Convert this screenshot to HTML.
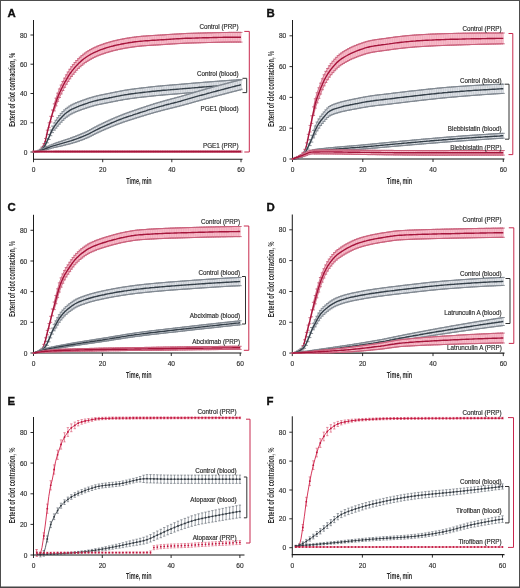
<!DOCTYPE html>
<html><head><meta charset="utf-8"><style>
html,body{margin:0;padding:0;background:#fff;}
svg{display:block;}
text{font-family:"Liberation Sans", sans-serif;}
</style></head><body>
<svg width="520" height="588" viewBox="0 0 520 588">
<defs><filter id="bl" filterUnits="userSpaceOnUse" x="0" y="0" width="520" height="588"><feGaussianBlur stdDeviation="0.3"/></filter></defs>
<rect x="0" y="0" width="520" height="588" fill="#fff"/>
<g filter="url(#bl)">
<text x="7.4" y="16.6" font-size="11.4" font-weight="bold" fill="#111" stroke="#111" stroke-width="0.35">A</text>
<path d="M33.5 20V159.7" stroke="#1a1a1a" stroke-width="1" fill="none"/>
<path d="M33.0 159.2H242.5" stroke="#1a1a1a" stroke-width="1.1" fill="none"/>
<path d="M30.5 152H33.5M30.5 122.8H33.5M30.5 93.5H33.5M30.5 64.2H33.5M30.5 35H33.5M33.5 159.2V162.2M102.7 159.2V162.2M171.8 159.2V162.2M241 159.2V162.2" stroke="#1a1a1a" stroke-width="0.9" fill="none"/>
<text x="27.3" y="154.6" font-size="6.6" fill="#2e2e2e" stroke="#2e2e2e" stroke-width="0.15" text-anchor="end">0</text>
<text x="27.3" y="125.3" font-size="6.6" fill="#2e2e2e" stroke="#2e2e2e" stroke-width="0.15" text-anchor="end">20</text>
<text x="27.3" y="96.1" font-size="6.6" fill="#2e2e2e" stroke="#2e2e2e" stroke-width="0.15" text-anchor="end">40</text>
<text x="27.3" y="66.8" font-size="6.6" fill="#2e2e2e" stroke="#2e2e2e" stroke-width="0.15" text-anchor="end">60</text>
<text x="27.3" y="37.6" font-size="6.6" fill="#2e2e2e" stroke="#2e2e2e" stroke-width="0.15" text-anchor="end">80</text>
<text x="33.5" y="172.2" font-size="6.6" fill="#2e2e2e" stroke="#2e2e2e" stroke-width="0.15" text-anchor="middle">0</text>
<text x="102.7" y="172.2" font-size="6.6" fill="#2e2e2e" stroke="#2e2e2e" stroke-width="0.15" text-anchor="middle">20</text>
<text x="171.8" y="172.2" font-size="6.6" fill="#2e2e2e" stroke="#2e2e2e" stroke-width="0.15" text-anchor="middle">40</text>
<text x="241" y="172.2" font-size="6.6" fill="#2e2e2e" stroke="#2e2e2e" stroke-width="0.15" text-anchor="middle">60</text>
<text x="139" y="183.7" font-size="8.4" font-weight="bold" fill="#2a2a2a" text-anchor="middle" textLength="25.4" lengthAdjust="spacingAndGlyphs">Time, min</text>
<text transform="translate(15.3,89.8) rotate(-90)" font-size="8.4" font-weight="bold" fill="#2a2a2a" text-anchor="middle" textLength="74" lengthAdjust="spacingAndGlyphs">Extent of clot contraction, %</text>
<polygon points="33.5,152 35.2,151.6 37,151.1 38.7,150.4 40.4,149.3 42.1,147 43.9,143.7 45.6,138.5 47.3,130.2 49.1,122.8 50.8,116.3 52.5,110 54.2,103.9 56,98.2 57.7,93.2 59.4,89 61.2,85.1 62.9,81.5 64.6,78.2 66.4,74.9 68.1,72 69.8,69.3 71.5,66.8 73.3,64.6 75,62.5 76.7,60.5 78.5,58.7 80.2,57.1 81.9,55.6 83.6,54.2 85.4,52.9 87.1,51.7 88.8,50.6 90.6,49.6 92.3,48.7 94,47.8 95.8,47 97.5,46.2 99.2,45.5 100.9,44.9 102.7,44.3 104.4,43.7 106.1,43.1 107.9,42.6 109.6,42.1 111.3,41.6 113,41.1 114.8,40.7 116.5,40.3 118.2,39.9 120,39.5 121.7,39.2 123.4,38.9 125.1,38.5 126.9,38.2 128.6,38 130.3,37.7 132.1,37.4 133.8,37.2 135.5,37 137.2,36.7 139,36.6 140.7,36.4 142.4,36.2 144.2,36.1 145.9,36 147.6,35.8 149.4,35.7 151.1,35.6 152.8,35.5 154.5,35.4 156.3,35.3 158,35.2 159.7,35.1 161.5,35 163.2,34.9 164.9,34.8 166.6,34.6 168.4,34.5 170.1,34.4 171.8,34.3 173.6,34.2 175.3,34.1 177,34 178.8,33.9 180.5,33.8 182.2,33.7 183.9,33.6 185.7,33.5 187.4,33.4 189.1,33.4 190.9,33.3 192.6,33.3 194.3,33.2 196,33.2 197.8,33.1 199.5,33.1 201.2,33 203,33 204.7,32.9 206.4,32.9 208.1,32.8 209.9,32.8 211.6,32.8 213.3,32.7 215.1,32.7 216.8,32.6 218.5,32.6 220.2,32.6 222,32.5 223.7,32.5 225.4,32.5 227.2,32.5 228.9,32.4 230.6,32.4 232.4,32.4 234.1,32.4 235.8,32.4 237.5,32.4 239.3,32.4 241,32.4 241,42 239.3,42 237.5,42 235.8,42 234.1,42 232.4,42.1 230.6,42.1 228.9,42.1 227.2,42.1 225.4,42.1 223.7,42.2 222,42.2 220.2,42.2 218.5,42.3 216.8,42.3 215.1,42.3 213.3,42.4 211.6,42.4 209.9,42.5 208.1,42.5 206.4,42.5 204.7,42.6 203,42.6 201.2,42.7 199.5,42.7 197.8,42.8 196,42.8 194.3,42.9 192.6,42.9 190.9,43 189.1,43 187.4,43.1 185.7,43.2 183.9,43.2 182.2,43.3 180.5,43.4 178.8,43.5 177,43.6 175.3,43.7 173.6,43.8 171.8,43.9 170.1,44.1 168.4,44.2 166.6,44.3 164.9,44.4 163.2,44.5 161.5,44.6 159.7,44.8 158,44.9 156.3,45 154.5,45.1 152.8,45.2 151.1,45.3 149.4,45.4 147.6,45.5 145.9,45.6 144.2,45.7 142.4,45.9 140.7,46 139,46.2 137.2,46.4 135.5,46.6 133.8,46.8 132.1,47.1 130.3,47.4 128.6,47.6 126.9,47.9 125.1,48.2 123.4,48.5 121.7,48.8 120,49.2 118.2,49.6 116.5,49.9 114.8,50.4 113,50.8 111.3,51.2 109.6,51.7 107.9,52.2 106.1,52.7 104.4,53.3 102.7,53.9 100.9,54.5 99.2,55.2 97.5,55.9 95.8,56.6 94,57.4 92.3,58.3 90.6,59.3 88.8,60.3 87.1,61.4 85.4,62.5 83.6,63.8 81.9,65.2 80.2,66.7 78.5,68.4 76.7,70.2 75,72.1 73.3,74.2 71.5,76.4 69.8,78.8 68.1,81.4 66.4,84.2 64.6,87.3 62.9,90.5 61.2,93.9 59.4,97.5 57.7,101.3 56,105.8 54.2,110.9 52.5,116.2 50.8,121.9 49.1,127.6 47.3,134.3 45.6,142 43.9,146.6 42.1,149.4 40.4,151.2 38.7,151.8 37,152 35.2,152.1 33.5,152" fill="#f8c3cf" stroke="none"/>
<path d="M33.5 152v0M35.2 151.6v0.5M37 151.1v0.9M38.7 150.4v1.4M40.4 149.3v1.9M42.1 147v2.4M43.9 143.7v2.9M45.6 138.5v3.5M47.3 130.2v4.2M49.1 122.8v4.9M50.8 116.3v5.6M52.5 110v6.3M54.2 103.9v7M56 98.2v7.6M57.7 93.2v8.1M59.4 89v8.5M61.2 85.1v8.8M62.9 81.5v9M64.6 78.2v9.1M66.4 74.9v9.3M68.1 72v9.4M69.8 69.3v9.5M71.5 66.8v9.6M73.3 64.6v9.6M75 62.5v9.7M76.7 60.5v9.7M78.5 58.7v9.7M80.2 57.1v9.7M81.9 55.6v9.7M83.6 54.2v9.7M85.4 52.9v9.7M87.1 51.7v9.7M88.8 50.6v9.7M90.6 49.6v9.7M92.3 48.7v9.7M94 47.8v9.7M95.8 47v9.7M97.5 46.2v9.7M99.2 45.5v9.7M100.9 44.9v9.7M102.7 44.3v9.7M104.4 43.7v9.7M106.1 43.1v9.7M107.9 42.6v9.7M109.6 42.1v9.7M111.3 41.6v9.7M113 41.1v9.7M114.8 40.7v9.7M116.5 40.3v9.7M118.2 39.9v9.7M120 39.5v9.7M121.7 39.2v9.7M123.4 38.9v9.7M125.1 38.5v9.7M126.9 38.2v9.7M128.6 38v9.7M130.3 37.7v9.7M132.1 37.4v9.7M133.8 37.2v9.7M135.5 37v9.7M137.2 36.7v9.7M139 36.6v9.7M140.7 36.4v9.7M142.4 36.2v9.7M144.2 36.1v9.7M145.9 36v9.7M147.6 35.8v9.7M149.4 35.7v9.7M151.1 35.6v9.7M152.8 35.5v9.7M154.5 35.4v9.7M156.3 35.3v9.7M158 35.2v9.7M159.7 35.1v9.7M161.5 35v9.7M163.2 34.9v9.7M164.9 34.8v9.7M166.6 34.6v9.7M168.4 34.5v9.7M170.1 34.4v9.7M171.8 34.3v9.7M173.6 34.2v9.7M175.3 34.1v9.7M177 34v9.7M178.8 33.9v9.7M180.5 33.8v9.7M182.2 33.7v9.7M183.9 33.6v9.7M185.7 33.5v9.7M187.4 33.4v9.7M189.1 33.4v9.7M190.9 33.3v9.7M192.6 33.3v9.7M194.3 33.2v9.7M196 33.2v9.7M197.8 33.1v9.7M199.5 33.1v9.7M201.2 33v9.7M203 33v9.7M204.7 32.9v9.7M206.4 32.9v9.7M208.1 32.8v9.7M209.9 32.8v9.7M211.6 32.8v9.7M213.3 32.7v9.7M215.1 32.7v9.7M216.8 32.6v9.7M218.5 32.6v9.7M220.2 32.6v9.7M222 32.5v9.7M223.7 32.5v9.7M225.4 32.5v9.7M227.2 32.5v9.7M228.9 32.4v9.7M230.6 32.4v9.7M232.4 32.4v9.7M234.1 32.4v9.7M235.8 32.4v9.7M237.5 32.4v9.7M239.3 32.4v9.7M241 32.4v9.7" stroke="#ec98ac" stroke-width="0.55" fill="none"/>
<path d="M32 152h3m-3 0h3M33.7 151.6h3m-3 0.5h3M35.5 151.1h3m-3 0.9h3M37.2 150.4h3m-3 1.4h3M38.9 149.3h3m-3 1.9h3M40.6 147h3m-3 2.4h3M42.4 143.7h3m-3 2.9h3M44.1 138.5h3m-3 3.5h3M45.8 130.2h3m-3 4.2h3M47.6 122.8h3m-3 4.9h3M49.3 116.3h3m-3 5.6h3M51 110h3m-3 6.3h3M52.8 103.9h3m-3 7h3M54.5 98.2h3m-3 7.6h3M56.2 93.2h3m-3 8.1h3M57.9 89h3m-3 8.5h3M59.7 85.1h3m-3 8.8h3M61.4 81.5h3m-3 9h3M63.1 78.2h3m-3 9.1h3M64.9 74.9h3m-3 9.3h3M66.6 72h3m-3 9.4h3M68.3 69.3h3m-3 9.5h3M70 66.8h3m-3 9.6h3M71.8 64.6h3m-3 9.6h3M73.5 62.5h3m-3 9.7h3M75.2 60.5h3m-3 9.7h3M77 58.7h3m-3 9.7h3M78.7 57.1h3m-3 9.7h3M80.4 55.6h3m-3 9.7h3M82.1 54.2h3m-3 9.7h3M83.9 52.9h3m-3 9.7h3M85.6 51.7h3m-3 9.7h3M87.3 50.6h3m-3 9.7h3M89.1 49.6h3m-3 9.7h3M90.8 48.7h3m-3 9.7h3M92.5 47.8h3m-3 9.7h3M94.2 47h3m-3 9.7h3M96 46.2h3m-3 9.7h3M97.7 45.5h3m-3 9.7h3M99.4 44.9h3m-3 9.7h3M101.2 44.3h3m-3 9.7h3M102.9 43.7h3m-3 9.7h3M104.6 43.1h3m-3 9.7h3M106.4 42.6h3m-3 9.7h3M108.1 42.1h3m-3 9.7h3M109.8 41.6h3m-3 9.7h3M111.5 41.1h3m-3 9.7h3M113.3 40.7h3m-3 9.7h3M115 40.3h3m-3 9.7h3M116.7 39.9h3m-3 9.7h3M118.5 39.5h3m-3 9.7h3M120.2 39.2h3m-3 9.7h3M121.9 38.9h3m-3 9.7h3M123.6 38.5h3m-3 9.7h3M125.4 38.2h3m-3 9.7h3M127.1 38h3m-3 9.7h3M128.8 37.7h3m-3 9.7h3M130.6 37.4h3m-3 9.7h3M132.3 37.2h3m-3 9.7h3M134 37h3m-3 9.7h3M135.8 36.7h3m-3 9.7h3M137.5 36.6h3m-3 9.7h3M139.2 36.4h3m-3 9.7h3M140.9 36.2h3m-3 9.7h3M142.7 36.1h3m-3 9.7h3M144.4 36h3m-3 9.7h3M146.1 35.8h3m-3 9.7h3M147.9 35.7h3m-3 9.7h3M149.6 35.6h3m-3 9.7h3M151.3 35.5h3m-3 9.7h3M153 35.4h3m-3 9.7h3M154.8 35.3h3m-3 9.7h3M156.5 35.2h3m-3 9.7h3M158.2 35.1h3m-3 9.7h3M160 35h3m-3 9.7h3M161.7 34.9h3m-3 9.7h3M163.4 34.8h3m-3 9.7h3M165.1 34.6h3m-3 9.7h3M166.9 34.5h3m-3 9.7h3M168.6 34.4h3m-3 9.7h3M170.3 34.3h3m-3 9.7h3M172.1 34.2h3m-3 9.7h3M173.8 34.1h3m-3 9.7h3M175.5 34h3m-3 9.7h3M177.2 33.9h3m-3 9.7h3M179 33.8h3m-3 9.7h3M180.7 33.7h3m-3 9.7h3M182.4 33.6h3m-3 9.7h3M184.2 33.5h3m-3 9.7h3M185.9 33.4h3m-3 9.7h3M187.6 33.4h3m-3 9.7h3M189.4 33.3h3m-3 9.7h3M191.1 33.3h3m-3 9.7h3M192.8 33.2h3m-3 9.7h3M194.5 33.2h3m-3 9.7h3M196.3 33.1h3m-3 9.7h3M198 33.1h3m-3 9.7h3M199.7 33h3m-3 9.7h3M201.5 33h3m-3 9.7h3M203.2 32.9h3m-3 9.7h3M204.9 32.9h3m-3 9.7h3M206.6 32.8h3m-3 9.7h3M208.4 32.8h3m-3 9.7h3M210.1 32.8h3m-3 9.7h3M211.8 32.7h3m-3 9.7h3M213.6 32.7h3m-3 9.7h3M215.3 32.6h3m-3 9.7h3M217 32.6h3m-3 9.7h3M218.8 32.6h3m-3 9.7h3M220.5 32.5h3m-3 9.7h3M222.2 32.5h3m-3 9.7h3M223.9 32.5h3m-3 9.7h3M225.7 32.5h3m-3 9.7h3M227.4 32.4h3m-3 9.7h3M229.1 32.4h3m-3 9.7h3M230.9 32.4h3m-3 9.7h3M232.6 32.4h3m-3 9.7h3M234.3 32.4h3m-3 9.7h3M236 32.4h3m-3 9.7h3M237.8 32.4h3m-3 9.7h3M239.5 32.4h3m-3 9.7h3" stroke="#c9607a" stroke-width="0.9" fill="none"/>
<polyline points="54.2,103.9 56,98.2 57.7,93.2 59.4,89 61.2,85.1 62.9,81.5 64.6,78.2 66.4,74.9 68.1,72 69.8,69.3 71.5,66.8 73.3,64.6 75,62.5 76.7,60.5 78.5,58.7 80.2,57.1 81.9,55.6 83.6,54.2 85.4,52.9 87.1,51.7 88.8,50.6 90.6,49.6 92.3,48.7 94,47.8 95.8,47 97.5,46.2 99.2,45.5 100.9,44.9 102.7,44.3 104.4,43.7 106.1,43.1 107.9,42.6 109.6,42.1 111.3,41.6 113,41.1 114.8,40.7 116.5,40.3 118.2,39.9 120,39.5 121.7,39.2 123.4,38.9 125.1,38.5 126.9,38.2 128.6,38 130.3,37.7 132.1,37.4 133.8,37.2 135.5,37 137.2,36.7 139,36.6 140.7,36.4 142.4,36.2 144.2,36.1 145.9,36 147.6,35.8 149.4,35.7 151.1,35.6 152.8,35.5 154.5,35.4 156.3,35.3 158,35.2 159.7,35.1 161.5,35 163.2,34.9 164.9,34.8 166.6,34.6 168.4,34.5 170.1,34.4 171.8,34.3 173.6,34.2 175.3,34.1 177,34 178.8,33.9 180.5,33.8 182.2,33.7 183.9,33.6 185.7,33.5 187.4,33.4 189.1,33.4 190.9,33.3 192.6,33.3 194.3,33.2 196,33.2 197.8,33.1 199.5,33.1 201.2,33 203,33 204.7,32.9 206.4,32.9 208.1,32.8 209.9,32.8 211.6,32.8 213.3,32.7 215.1,32.7 216.8,32.6 218.5,32.6 220.2,32.6 222,32.5 223.7,32.5 225.4,32.5 227.2,32.5 228.9,32.4 230.6,32.4 232.4,32.4 234.1,32.4 235.8,32.4 237.5,32.4 239.3,32.4 241,32.4" stroke="#c9607a" stroke-width="0.8" fill="none"/>
<polyline points="54.2,110.9 56,105.8 57.7,101.3 59.4,97.5 61.2,93.9 62.9,90.5 64.6,87.3 66.4,84.2 68.1,81.4 69.8,78.8 71.5,76.4 73.3,74.2 75,72.1 76.7,70.2 78.5,68.4 80.2,66.7 81.9,65.2 83.6,63.8 85.4,62.5 87.1,61.4 88.8,60.3 90.6,59.3 92.3,58.3 94,57.4 95.8,56.6 97.5,55.9 99.2,55.2 100.9,54.5 102.7,53.9 104.4,53.3 106.1,52.7 107.9,52.2 109.6,51.7 111.3,51.2 113,50.8 114.8,50.4 116.5,49.9 118.2,49.6 120,49.2 121.7,48.8 123.4,48.5 125.1,48.2 126.9,47.9 128.6,47.6 130.3,47.4 132.1,47.1 133.8,46.8 135.5,46.6 137.2,46.4 139,46.2 140.7,46 142.4,45.9 144.2,45.7 145.9,45.6 147.6,45.5 149.4,45.4 151.1,45.3 152.8,45.2 154.5,45.1 156.3,45 158,44.9 159.7,44.8 161.5,44.6 163.2,44.5 164.9,44.4 166.6,44.3 168.4,44.2 170.1,44.1 171.8,43.9 173.6,43.8 175.3,43.7 177,43.6 178.8,43.5 180.5,43.4 182.2,43.3 183.9,43.2 185.7,43.2 187.4,43.1 189.1,43 190.9,43 192.6,42.9 194.3,42.9 196,42.8 197.8,42.8 199.5,42.7 201.2,42.7 203,42.6 204.7,42.6 206.4,42.5 208.1,42.5 209.9,42.5 211.6,42.4 213.3,42.4 215.1,42.3 216.8,42.3 218.5,42.3 220.2,42.2 222,42.2 223.7,42.2 225.4,42.1 227.2,42.1 228.9,42.1 230.6,42.1 232.4,42.1 234.1,42 235.8,42 237.5,42 239.3,42 241,42" stroke="#c9607a" stroke-width="0.8" fill="none"/>
<polyline points="33.5,152 35.2,151.9 37,151.6 38.7,151.1 40.4,150.2 42.1,148.2 43.9,145.1 45.6,140.2 47.3,132.2 49.1,125.2 50.8,119.1 52.5,113.1 54.2,107.4 56,102 57.7,97.3 59.4,93.3 61.2,89.5 62.9,86 64.6,82.7 66.4,79.6 68.1,76.7 69.8,74 71.5,71.6 73.3,69.4 75,67.3 76.7,65.4 78.5,63.5 80.2,61.9 81.9,60.4 83.6,59 85.4,57.7 87.1,56.5 88.8,55.5 90.6,54.4 92.3,53.5 94,52.6 95.8,51.8 97.5,51.1 99.2,50.4 100.9,49.7 102.7,49.1 104.4,48.5 106.1,47.9 107.9,47.4 109.6,46.9 111.3,46.4 113,46 114.8,45.5 116.5,45.1 118.2,44.7 120,44.4 121.7,44 123.4,43.7 125.1,43.4 126.9,43.1 128.6,42.8 130.3,42.5 132.1,42.3 133.8,42 135.5,41.8 137.2,41.6 139,41.4 140.7,41.2 142.4,41.1 144.2,40.9 145.9,40.8 147.6,40.7 149.4,40.6 151.1,40.4 152.8,40.3 154.5,40.2 156.3,40.1 158,40 159.7,39.9 161.5,39.8 163.2,39.7 164.9,39.6 166.6,39.5 168.4,39.4 170.1,39.2 171.8,39.1 173.6,39 175.3,38.9 177,38.8 178.8,38.7 180.5,38.6 182.2,38.5 183.9,38.4 185.7,38.3 187.4,38.3 189.1,38.2 190.9,38.2 192.6,38.1 194.3,38.1 196,38 197.8,38 199.5,37.9 201.2,37.9 203,37.8 204.7,37.8 206.4,37.7 208.1,37.7 209.9,37.6 211.6,37.6 213.3,37.5 215.1,37.5 216.8,37.5 218.5,37.4 220.2,37.4 222,37.4 223.7,37.3 225.4,37.3 227.2,37.3 228.9,37.3 230.6,37.2 232.4,37.2 234.1,37.2 235.8,37.2 237.5,37.2 239.3,37.2 241,37.2" stroke="#a5123a" stroke-width="1.4" fill="none"/>
<polygon points="33.5,152 35.2,151.6 37,151.1 38.7,150.4 40.4,149.4 42.1,147.8 43.9,145.9 45.6,142.7 47.3,138.6 49.1,134.5 50.8,130 52.5,126.1 54.2,123 56,120.3 57.7,117.8 59.4,115.5 61.2,113.4 62.9,111.6 64.6,109.9 66.4,108.4 68.1,107.2 69.8,106 71.5,105 73.3,104.1 75,103.3 76.7,102.6 78.5,101.9 80.2,101.3 81.9,100.6 83.6,100 85.4,99.4 87.1,98.8 88.8,98.2 90.6,97.7 92.3,97.2 94,96.7 95.8,96.2 97.5,95.8 99.2,95.4 100.9,95 102.7,94.7 104.4,94.3 106.1,94 107.9,93.6 109.6,93.3 111.3,92.9 113,92.6 114.8,92.2 116.5,91.9 118.2,91.5 120,91.2 121.7,90.9 123.4,90.5 125.1,90.2 126.9,90 128.6,89.7 130.3,89.4 132.1,89.2 133.8,89 135.5,88.7 137.2,88.5 139,88.3 140.7,88.1 142.4,87.9 144.2,87.7 145.9,87.5 147.6,87.3 149.4,87.1 151.1,86.9 152.8,86.7 154.5,86.5 156.3,86.3 158,86.2 159.7,86 161.5,85.9 163.2,85.7 164.9,85.5 166.6,85.4 168.4,85.3 170.1,85.1 171.8,85 173.6,84.8 175.3,84.7 177,84.6 178.8,84.4 180.5,84.3 182.2,84.1 183.9,84 185.7,83.8 187.4,83.7 189.1,83.5 190.9,83.4 192.6,83.2 194.3,83.1 196,82.9 197.8,82.8 199.5,82.7 201.2,82.5 203,82.4 204.7,82.2 206.4,82.1 208.1,82 209.9,81.8 211.6,81.7 213.3,81.6 215.1,81.4 216.8,81.3 218.5,81.2 220.2,81 222,80.9 223.7,80.8 225.4,80.7 227.2,80.5 228.9,80.4 230.6,80.3 232.4,80.2 234.1,80.1 235.8,80 237.5,79.8 239.3,79.7 241,79.6 241,89 239.3,89.1 237.5,89.2 235.8,89.3 234.1,89.4 232.4,89.5 230.6,89.7 228.9,89.8 227.2,89.9 225.4,90 223.7,90.2 222,90.3 220.2,90.4 218.5,90.5 216.8,90.7 215.1,90.8 213.3,90.9 211.6,91.1 209.9,91.2 208.1,91.3 206.4,91.4 204.7,91.6 203,91.7 201.2,91.9 199.5,92 197.8,92.1 196,92.3 194.3,92.4 192.6,92.6 190.9,92.7 189.1,92.9 187.4,93 185.7,93.2 183.9,93.3 182.2,93.5 180.5,93.6 178.8,93.7 177,93.9 175.3,94 173.6,94.2 171.8,94.3 170.1,94.4 168.4,94.6 166.6,94.7 164.9,94.8 163.2,95 161.5,95.1 159.7,95.3 158,95.5 156.3,95.6 154.5,95.8 152.8,96 151.1,96.2 149.4,96.3 147.6,96.5 145.9,96.7 144.2,96.9 142.4,97.1 140.7,97.3 139,97.5 137.2,97.7 135.5,98 133.8,98.2 132.1,98.4 130.3,98.6 128.6,98.9 126.9,99.2 125.1,99.4 123.4,99.7 121.7,100 120,100.3 118.2,100.7 116.5,101 114.8,101.4 113,101.7 111.3,102 109.6,102.4 107.9,102.7 106.1,103.1 104.4,103.4 102.7,103.7 100.9,104.1 99.2,104.4 97.5,104.8 95.8,105.2 94,105.7 92.3,106.2 90.6,106.7 88.8,107.2 87.1,107.8 85.4,108.3 83.6,108.9 81.9,109.5 80.2,110.2 78.5,110.8 76.7,111.5 75,112.2 73.3,113 71.5,113.9 69.8,114.9 68.1,116 66.4,117.3 64.6,118.7 62.9,120.3 61.2,122.2 59.4,124.1 57.7,126.1 56,128.2 54.2,130.3 52.5,132.6 50.8,135.7 49.1,139.5 47.3,142.8 45.6,146.2 43.9,148.8 42.1,150.2 40.4,151.3 38.7,151.8 37,152 35.2,152.1 33.5,152" fill="#e6e9ed" stroke="none"/>
<path d="M33.5 152v0M35.2 151.6v0.5M37 151.1v0.9M38.7 150.4v1.4M40.4 149.4v1.9M42.1 147.8v2.4M43.9 145.9v2.9M45.6 142.7v3.5M47.3 138.6v4.2M49.1 134.5v5M50.8 130v5.7M52.5 126.1v6.5M54.2 123v7.2M56 120.3v7.8M57.7 117.8v8.3M59.4 115.5v8.6M61.2 113.4v8.8M62.9 111.6v8.8M64.6 109.9v8.8M66.4 108.4v8.8M68.1 107.2v8.8M69.8 106v8.8M71.5 105v8.9M73.3 104.1v8.9M75 103.3v8.9M76.7 102.6v8.9M78.5 101.9v8.9M80.2 101.3v8.9M81.9 100.6v8.9M83.6 100v9M85.4 99.4v9M87.1 98.8v9M88.8 98.2v9M90.6 97.7v9M92.3 97.2v9M94 96.7v9M95.8 96.2v9M97.5 95.8v9M99.2 95.4v9.1M100.9 95v9.1M102.7 94.7v9.1M104.4 94.3v9.1M106.1 94v9.1M107.9 93.6v9.1M109.6 93.3v9.1M111.3 92.9v9.1M113 92.6v9.1M114.8 92.2v9.1M116.5 91.9v9.1M118.2 91.5v9.1M120 91.2v9.2M121.7 90.9v9.2M123.4 90.5v9.2M125.1 90.2v9.2M126.9 90v9.2M128.6 89.7v9.2M130.3 89.4v9.2M132.1 89.2v9.2M133.8 89v9.2M135.5 88.7v9.2M137.2 88.5v9.2M139 88.3v9.2M140.7 88.1v9.2M142.4 87.9v9.2M144.2 87.7v9.2M145.9 87.5v9.3M147.6 87.3v9.3M149.4 87.1v9.3M151.1 86.9v9.3M152.8 86.7v9.3M154.5 86.5v9.3M156.3 86.3v9.3M158 86.2v9.3M159.7 86v9.3M161.5 85.9v9.3M163.2 85.7v9.3M164.9 85.5v9.3M166.6 85.4v9.3M168.4 85.3v9.3M170.1 85.1v9.3M171.8 85v9.3M173.6 84.8v9.3M175.3 84.7v9.3M177 84.6v9.3M178.8 84.4v9.3M180.5 84.3v9.3M182.2 84.1v9.3M183.9 84v9.3M185.7 83.8v9.3M187.4 83.7v9.3M189.1 83.5v9.3M190.9 83.4v9.3M192.6 83.2v9.3M194.3 83.1v9.3M196 82.9v9.3M197.8 82.8v9.3M199.5 82.7v9.3M201.2 82.5v9.3M203 82.4v9.3M204.7 82.2v9.3M206.4 82.1v9.4M208.1 82v9.4M209.9 81.8v9.4M211.6 81.7v9.4M213.3 81.6v9.4M215.1 81.4v9.4M216.8 81.3v9.4M218.5 81.2v9.4M220.2 81v9.4M222 80.9v9.4M223.7 80.8v9.4M225.4 80.7v9.4M227.2 80.5v9.4M228.9 80.4v9.4M230.6 80.3v9.4M232.4 80.2v9.4M234.1 80.1v9.4M235.8 80v9.4M237.5 79.8v9.4M239.3 79.7v9.4M241 79.6v9.4" stroke="#b2b8be" stroke-width="0.55" fill="none"/>
<path d="M32 152h3m-3 0h3M33.7 151.6h3m-3 0.5h3M35.5 151.1h3m-3 0.9h3M37.2 150.4h3m-3 1.4h3M38.9 149.4h3m-3 1.9h3M40.6 147.8h3m-3 2.4h3M42.4 145.9h3m-3 2.9h3M44.1 142.7h3m-3 3.5h3M45.8 138.6h3m-3 4.2h3M47.6 134.5h3m-3 5h3M49.3 130h3m-3 5.7h3M51 126.1h3m-3 6.5h3M52.8 123h3m-3 7.2h3M54.5 120.3h3m-3 7.8h3M56.2 117.8h3m-3 8.3h3M57.9 115.5h3m-3 8.6h3M59.7 113.4h3m-3 8.8h3M61.4 111.6h3m-3 8.8h3M63.1 109.9h3m-3 8.8h3M64.9 108.4h3m-3 8.8h3M66.6 107.2h3m-3 8.8h3M68.3 106h3m-3 8.8h3M70 105h3m-3 8.9h3M71.8 104.1h3m-3 8.9h3M73.5 103.3h3m-3 8.9h3M75.2 102.6h3m-3 8.9h3M77 101.9h3m-3 8.9h3M78.7 101.3h3m-3 8.9h3M80.4 100.6h3m-3 8.9h3M82.1 100h3m-3 9h3M83.9 99.4h3m-3 9h3M85.6 98.8h3m-3 9h3M87.3 98.2h3m-3 9h3M89.1 97.7h3m-3 9h3M90.8 97.2h3m-3 9h3M92.5 96.7h3m-3 9h3M94.2 96.2h3m-3 9h3M96 95.8h3m-3 9h3M97.7 95.4h3m-3 9.1h3M99.4 95h3m-3 9.1h3M101.2 94.7h3m-3 9.1h3M102.9 94.3h3m-3 9.1h3M104.6 94h3m-3 9.1h3M106.4 93.6h3m-3 9.1h3M108.1 93.3h3m-3 9.1h3M109.8 92.9h3m-3 9.1h3M111.5 92.6h3m-3 9.1h3M113.3 92.2h3m-3 9.1h3M115 91.9h3m-3 9.1h3M116.7 91.5h3m-3 9.1h3M118.5 91.2h3m-3 9.2h3M120.2 90.9h3m-3 9.2h3M121.9 90.5h3m-3 9.2h3M123.6 90.2h3m-3 9.2h3M125.4 90h3m-3 9.2h3M127.1 89.7h3m-3 9.2h3M128.8 89.4h3m-3 9.2h3M130.6 89.2h3m-3 9.2h3M132.3 89h3m-3 9.2h3M134 88.7h3m-3 9.2h3M135.8 88.5h3m-3 9.2h3M137.5 88.3h3m-3 9.2h3M139.2 88.1h3m-3 9.2h3M140.9 87.9h3m-3 9.2h3M142.7 87.7h3m-3 9.2h3M144.4 87.5h3m-3 9.3h3M146.1 87.3h3m-3 9.3h3M147.9 87.1h3m-3 9.3h3M149.6 86.9h3m-3 9.3h3M151.3 86.7h3m-3 9.3h3M153 86.5h3m-3 9.3h3M154.8 86.3h3m-3 9.3h3M156.5 86.2h3m-3 9.3h3M158.2 86h3m-3 9.3h3M160 85.9h3m-3 9.3h3M161.7 85.7h3m-3 9.3h3M163.4 85.5h3m-3 9.3h3M165.1 85.4h3m-3 9.3h3M166.9 85.3h3m-3 9.3h3M168.6 85.1h3m-3 9.3h3M170.3 85h3m-3 9.3h3M172.1 84.8h3m-3 9.3h3M173.8 84.7h3m-3 9.3h3M175.5 84.6h3m-3 9.3h3M177.2 84.4h3m-3 9.3h3M179 84.3h3m-3 9.3h3M180.7 84.1h3m-3 9.3h3M182.4 84h3m-3 9.3h3M184.2 83.8h3m-3 9.3h3M185.9 83.7h3m-3 9.3h3M187.6 83.5h3m-3 9.3h3M189.4 83.4h3m-3 9.3h3M191.1 83.2h3m-3 9.3h3M192.8 83.1h3m-3 9.3h3M194.5 82.9h3m-3 9.3h3M196.3 82.8h3m-3 9.3h3M198 82.7h3m-3 9.3h3M199.7 82.5h3m-3 9.3h3M201.5 82.4h3m-3 9.3h3M203.2 82.2h3m-3 9.3h3M204.9 82.1h3m-3 9.4h3M206.6 82h3m-3 9.4h3M208.4 81.8h3m-3 9.4h3M210.1 81.7h3m-3 9.4h3M211.8 81.6h3m-3 9.4h3M213.6 81.4h3m-3 9.4h3M215.3 81.3h3m-3 9.4h3M217 81.2h3m-3 9.4h3M218.8 81h3m-3 9.4h3M220.5 80.9h3m-3 9.4h3M222.2 80.8h3m-3 9.4h3M223.9 80.7h3m-3 9.4h3M225.7 80.5h3m-3 9.4h3M227.4 80.4h3m-3 9.4h3M229.1 80.3h3m-3 9.4h3M230.9 80.2h3m-3 9.4h3M232.6 80.1h3m-3 9.4h3M234.3 80h3m-3 9.4h3M236 79.8h3m-3 9.4h3M237.8 79.7h3m-3 9.4h3M239.5 79.6h3m-3 9.4h3" stroke="#7f878f" stroke-width="0.9" fill="none"/>
<polyline points="54.2,123 56,120.3 57.7,117.8 59.4,115.5 61.2,113.4 62.9,111.6 64.6,109.9 66.4,108.4 68.1,107.2 69.8,106 71.5,105 73.3,104.1 75,103.3 76.7,102.6 78.5,101.9 80.2,101.3 81.9,100.6 83.6,100 85.4,99.4 87.1,98.8 88.8,98.2 90.6,97.7 92.3,97.2 94,96.7 95.8,96.2 97.5,95.8 99.2,95.4 100.9,95 102.7,94.7 104.4,94.3 106.1,94 107.9,93.6 109.6,93.3 111.3,92.9 113,92.6 114.8,92.2 116.5,91.9 118.2,91.5 120,91.2 121.7,90.9 123.4,90.5 125.1,90.2 126.9,90 128.6,89.7 130.3,89.4 132.1,89.2 133.8,89 135.5,88.7 137.2,88.5 139,88.3 140.7,88.1 142.4,87.9 144.2,87.7 145.9,87.5 147.6,87.3 149.4,87.1 151.1,86.9 152.8,86.7 154.5,86.5 156.3,86.3 158,86.2 159.7,86 161.5,85.9 163.2,85.7 164.9,85.5 166.6,85.4 168.4,85.3 170.1,85.1 171.8,85 173.6,84.8 175.3,84.7 177,84.6 178.8,84.4 180.5,84.3 182.2,84.1 183.9,84 185.7,83.8 187.4,83.7 189.1,83.5 190.9,83.4 192.6,83.2 194.3,83.1 196,82.9 197.8,82.8 199.5,82.7 201.2,82.5 203,82.4 204.7,82.2 206.4,82.1 208.1,82 209.9,81.8 211.6,81.7 213.3,81.6 215.1,81.4 216.8,81.3 218.5,81.2 220.2,81 222,80.9 223.7,80.8 225.4,80.7 227.2,80.5 228.9,80.4 230.6,80.3 232.4,80.2 234.1,80.1 235.8,80 237.5,79.8 239.3,79.7 241,79.6" stroke="#7f878f" stroke-width="0.8" fill="none"/>
<polyline points="54.2,130.3 56,128.2 57.7,126.1 59.4,124.1 61.2,122.2 62.9,120.3 64.6,118.7 66.4,117.3 68.1,116 69.8,114.9 71.5,113.9 73.3,113 75,112.2 76.7,111.5 78.5,110.8 80.2,110.2 81.9,109.5 83.6,108.9 85.4,108.3 87.1,107.8 88.8,107.2 90.6,106.7 92.3,106.2 94,105.7 95.8,105.2 97.5,104.8 99.2,104.4 100.9,104.1 102.7,103.7 104.4,103.4 106.1,103.1 107.9,102.7 109.6,102.4 111.3,102 113,101.7 114.8,101.4 116.5,101 118.2,100.7 120,100.3 121.7,100 123.4,99.7 125.1,99.4 126.9,99.2 128.6,98.9 130.3,98.6 132.1,98.4 133.8,98.2 135.5,98 137.2,97.7 139,97.5 140.7,97.3 142.4,97.1 144.2,96.9 145.9,96.7 147.6,96.5 149.4,96.3 151.1,96.2 152.8,96 154.5,95.8 156.3,95.6 158,95.5 159.7,95.3 161.5,95.1 163.2,95 164.9,94.8 166.6,94.7 168.4,94.6 170.1,94.4 171.8,94.3 173.6,94.2 175.3,94 177,93.9 178.8,93.7 180.5,93.6 182.2,93.5 183.9,93.3 185.7,93.2 187.4,93 189.1,92.9 190.9,92.7 192.6,92.6 194.3,92.4 196,92.3 197.8,92.1 199.5,92 201.2,91.9 203,91.7 204.7,91.6 206.4,91.4 208.1,91.3 209.9,91.2 211.6,91.1 213.3,90.9 215.1,90.8 216.8,90.7 218.5,90.5 220.2,90.4 222,90.3 223.7,90.2 225.4,90 227.2,89.9 228.9,89.8 230.6,89.7 232.4,89.5 234.1,89.4 235.8,89.3 237.5,89.2 239.3,89.1 241,89" stroke="#7f878f" stroke-width="0.8" fill="none"/>
<polyline points="33.5,152 35.2,151.9 37,151.6 38.7,151.1 40.4,150.3 42.1,149 43.9,147.3 45.6,144.4 47.3,140.7 49.1,137 50.8,132.9 52.5,129.4 54.2,126.6 56,124.2 57.7,121.9 59.4,119.8 61.2,117.8 62.9,116 64.6,114.3 66.4,112.8 68.1,111.6 69.8,110.4 71.5,109.4 73.3,108.6 75,107.8 76.7,107.1 78.5,106.4 80.2,105.7 81.9,105.1 83.6,104.5 85.4,103.9 87.1,103.3 88.8,102.7 90.6,102.2 92.3,101.7 94,101.2 95.8,100.7 97.5,100.3 99.2,99.9 100.9,99.5 102.7,99.2 104.4,98.8 106.1,98.5 107.9,98.2 109.6,97.8 111.3,97.5 113,97.1 114.8,96.8 116.5,96.4 118.2,96.1 120,95.8 121.7,95.4 123.4,95.1 125.1,94.8 126.9,94.6 128.6,94.3 130.3,94 132.1,93.8 133.8,93.6 135.5,93.3 137.2,93.1 139,92.9 140.7,92.7 142.4,92.5 144.2,92.3 145.9,92.1 147.6,91.9 149.4,91.7 151.1,91.5 152.8,91.3 154.5,91.2 156.3,91 158,90.8 159.7,90.7 161.5,90.5 163.2,90.3 164.9,90.2 166.6,90.1 168.4,89.9 170.1,89.8 171.8,89.6 173.6,89.5 175.3,89.4 177,89.2 178.8,89.1 180.5,88.9 182.2,88.8 183.9,88.6 185.7,88.5 187.4,88.4 189.1,88.2 190.9,88.1 192.6,87.9 194.3,87.8 196,87.6 197.8,87.5 199.5,87.3 201.2,87.2 203,87 204.7,86.9 206.4,86.8 208.1,86.6 209.9,86.5 211.6,86.4 213.3,86.2 215.1,86.1 216.8,86 218.5,85.9 220.2,85.7 222,85.6 223.7,85.5 225.4,85.4 227.2,85.2 228.9,85.1 230.6,85 232.4,84.9 234.1,84.7 235.8,84.6 237.5,84.5 239.3,84.4 241,84.3" stroke="#36404a" stroke-width="1.4" fill="none"/>
<polygon points="33.5,152 35.2,151.5 37,151 38.7,150.4 40.4,149.7 42.1,149 43.9,148.2 45.6,147.4 47.3,146.5 49.1,145.7 50.8,144.9 52.5,144.3 54.2,143.6 56,143 57.7,142.4 59.4,141.9 61.2,141.3 62.9,140.7 64.6,140.1 66.4,139.5 68.1,139 69.8,138.4 71.5,137.8 73.3,137.1 75,136.5 76.7,135.8 78.5,135.1 80.2,134.4 81.9,133.7 83.6,133 85.4,132.2 87.1,131.4 88.8,130.5 90.6,129.6 92.3,128.7 94,127.7 95.8,126.8 97.5,125.9 99.2,125 100.9,124.2 102.7,123.3 104.4,122.5 106.1,121.7 107.9,120.9 109.6,120.1 111.3,119.3 113,118.6 114.8,117.8 116.5,117.1 118.2,116.4 120,115.7 121.7,115 123.4,114.3 125.1,113.7 126.9,113 128.6,112.4 130.3,111.8 132.1,111.2 133.8,110.6 135.5,110 137.2,109.4 139,108.8 140.7,108.2 142.4,107.7 144.2,107.1 145.9,106.5 147.6,105.9 149.4,105.4 151.1,104.8 152.8,104.3 154.5,103.7 156.3,103.2 158,102.7 159.7,102.2 161.5,101.7 163.2,101.2 164.9,100.7 166.6,100.2 168.4,99.8 170.1,99.3 171.8,98.8 173.6,98.4 175.3,97.9 177,97.4 178.8,97 180.5,96.5 182.2,96 183.9,95.5 185.7,95 187.4,94.5 189.1,94 190.9,93.5 192.6,92.9 194.3,92.4 196,91.9 197.8,91.4 199.5,90.9 201.2,90.4 203,89.9 204.7,89.4 206.4,88.9 208.1,88.4 209.9,88 211.6,87.5 213.3,87 215.1,86.5 216.8,86.1 218.5,85.6 220.2,85.1 222,84.7 223.7,84.2 225.4,83.8 227.2,83.3 228.9,82.8 230.6,82.4 232.4,81.9 234.1,81.5 235.8,81.1 237.5,80.6 239.3,80.2 241,79.8 241,89.7 239.3,90.1 237.5,90.6 235.8,91 234.1,91.4 232.4,91.9 230.6,92.3 228.9,92.8 227.2,93.2 225.4,93.7 223.7,94.1 222,94.6 220.2,95 218.5,95.5 216.8,95.9 215.1,96.4 213.3,96.8 211.6,97.3 209.9,97.7 208.1,98.2 206.4,98.7 204.7,99.1 203,99.6 201.2,100.1 199.5,100.6 197.8,101 196,101.5 194.3,102 192.6,102.5 190.9,103 189.1,103.5 187.4,104 185.7,104.4 183.9,104.9 182.2,105.4 180.5,105.8 178.8,106.3 177,106.7 175.3,107.2 173.6,107.6 171.8,108 170.1,108.4 168.4,108.8 166.6,109.3 164.9,109.7 163.2,110.1 161.5,110.6 159.7,111.1 158,111.5 156.3,112 154.5,112.5 152.8,113 151.1,113.5 149.4,114 147.6,114.5 145.9,115 144.2,115.6 142.4,116.1 140.7,116.6 139,117.2 137.2,117.7 135.5,118.2 133.8,118.8 132.1,119.3 130.3,119.9 128.6,120.4 126.9,121 125.1,121.6 123.4,122.2 121.7,122.8 120,123.4 118.2,124 116.5,124.7 114.8,125.4 113,126.1 111.3,126.8 109.6,127.5 107.9,128.2 106.1,128.9 104.4,129.7 102.7,130.4 100.9,131.2 99.2,132 97.5,132.8 95.8,133.6 94,134.5 92.3,135.4 90.6,136.3 88.8,137.1 87.1,137.9 85.4,138.6 83.6,139.3 81.9,140 80.2,140.6 78.5,141.2 76.7,141.8 75,142.4 73.3,142.9 71.5,143.4 69.8,143.8 68.1,144.3 66.4,144.7 64.6,145.1 62.9,145.6 61.2,146 59.4,146.4 57.7,146.8 56,147.2 54.2,147.6 52.5,148 50.8,148.4 49.1,149 47.3,149.5 45.6,150.1 43.9,150.6 42.1,151 40.4,151.4 38.7,151.6 37,151.8 35.2,151.9 33.5,152" fill="#e6e9ed" stroke="none"/>
<path d="M33.5 152v0M35.2 151.5v0.4M37 151v0.8M38.7 150.4v1.2M40.4 149.7v1.6M42.1 149v2M43.9 148.2v2.4M45.6 147.4v2.7M47.3 146.5v3M49.1 145.7v3.3M50.8 144.9v3.5M52.5 144.3v3.7M54.2 143.6v3.9M56 143v4.1M57.7 142.4v4.3M59.4 141.9v4.5M61.2 141.3v4.7M62.9 140.7v4.9M64.6 140.1v5M66.4 139.5v5.2M68.1 139v5.3M69.8 138.4v5.5M71.5 137.8v5.6M73.3 137.1v5.7M75 136.5v5.9M76.7 135.8v6M78.5 135.1v6.1M80.2 134.4v6.2M81.9 133.7v6.3M83.6 133v6.4M85.4 132.2v6.4M87.1 131.4v6.5M88.8 130.5v6.6M90.6 129.6v6.6M92.3 128.7v6.7M94 127.7v6.8M95.8 126.8v6.8M97.5 125.9v6.9M99.2 125v7M100.9 124.2v7M102.7 123.3v7.1M104.4 122.5v7.2M106.1 121.7v7.2M107.9 120.9v7.3M109.6 120.1v7.4M111.3 119.3v7.4M113 118.6v7.5M114.8 117.8v7.5M116.5 117.1v7.6M118.2 116.4v7.7M120 115.7v7.7M121.7 115v7.8M123.4 114.3v7.8M125.1 113.7v7.9M126.9 113v8M128.6 112.4v8M130.3 111.8v8.1M132.1 111.2v8.1M133.8 110.6v8.2M135.5 110v8.2M137.2 109.4v8.3M139 108.8v8.3M140.7 108.2v8.4M142.4 107.7v8.4M144.2 107.1v8.5M145.9 106.5v8.5M147.6 105.9v8.6M149.4 105.4v8.6M151.1 104.8v8.7M152.8 104.3v8.7M154.5 103.7v8.8M156.3 103.2v8.8M158 102.7v8.9M159.7 102.2v8.9M161.5 101.7v8.9M163.2 101.2v9M164.9 100.7v9M166.6 100.2v9.1M168.4 99.8v9.1M170.1 99.3v9.1M171.8 98.8v9.2M173.6 98.4v9.2M175.3 97.9v9.2M177 97.4v9.3M178.8 97v9.3M180.5 96.5v9.3M182.2 96v9.4M183.9 95.5v9.4M185.7 95v9.4M187.4 94.5v9.5M189.1 94v9.5M190.9 93.5v9.5M192.6 92.9v9.6M194.3 92.4v9.6M196 91.9v9.6M197.8 91.4v9.6M199.5 90.9v9.7M201.2 90.4v9.7M203 89.9v9.7M204.7 89.4v9.7M206.4 88.9v9.7M208.1 88.4v9.8M209.9 88v9.8M211.6 87.5v9.8M213.3 87v9.8M215.1 86.5v9.8M216.8 86.1v9.8M218.5 85.6v9.9M220.2 85.1v9.9M222 84.7v9.9M223.7 84.2v9.9M225.4 83.8v9.9M227.2 83.3v9.9M228.9 82.8v9.9M230.6 82.4v9.9M232.4 81.9v9.9M234.1 81.5v9.9M235.8 81.1v9.9M237.5 80.6v9.9M239.3 80.2v9.9M241 79.8v9.9" stroke="#b2b8be" stroke-width="0.55" fill="none"/>
<path d="M32 152h3m-3 0h3M33.7 151.5h3m-3 0.4h3M35.5 151h3m-3 0.8h3M37.2 150.4h3m-3 1.2h3M38.9 149.7h3m-3 1.6h3M40.6 149h3m-3 2h3M42.4 148.2h3m-3 2.4h3M44.1 147.4h3m-3 2.7h3M45.8 146.5h3m-3 3h3M47.6 145.7h3m-3 3.3h3M49.3 144.9h3m-3 3.5h3M51 144.3h3m-3 3.7h3M52.8 143.6h3m-3 3.9h3M54.5 143h3m-3 4.1h3M56.2 142.4h3m-3 4.3h3M57.9 141.9h3m-3 4.5h3M59.7 141.3h3m-3 4.7h3M61.4 140.7h3m-3 4.9h3M63.1 140.1h3m-3 5h3M64.9 139.5h3m-3 5.2h3M66.6 139h3m-3 5.3h3M68.3 138.4h3m-3 5.5h3M70 137.8h3m-3 5.6h3M71.8 137.1h3m-3 5.7h3M73.5 136.5h3m-3 5.9h3M75.2 135.8h3m-3 6h3M77 135.1h3m-3 6.1h3M78.7 134.4h3m-3 6.2h3M80.4 133.7h3m-3 6.3h3M82.1 133h3m-3 6.4h3M83.9 132.2h3m-3 6.4h3M85.6 131.4h3m-3 6.5h3M87.3 130.5h3m-3 6.6h3M89.1 129.6h3m-3 6.6h3M90.8 128.7h3m-3 6.7h3M92.5 127.7h3m-3 6.8h3M94.2 126.8h3m-3 6.8h3M96 125.9h3m-3 6.9h3M97.7 125h3m-3 7h3M99.4 124.2h3m-3 7h3M101.2 123.3h3m-3 7.1h3M102.9 122.5h3m-3 7.2h3M104.6 121.7h3m-3 7.2h3M106.4 120.9h3m-3 7.3h3M108.1 120.1h3m-3 7.4h3M109.8 119.3h3m-3 7.4h3M111.5 118.6h3m-3 7.5h3M113.3 117.8h3m-3 7.5h3M115 117.1h3m-3 7.6h3M116.7 116.4h3m-3 7.7h3M118.5 115.7h3m-3 7.7h3M120.2 115h3m-3 7.8h3M121.9 114.3h3m-3 7.8h3M123.6 113.7h3m-3 7.9h3M125.4 113h3m-3 8h3M127.1 112.4h3m-3 8h3M128.8 111.8h3m-3 8.1h3M130.6 111.2h3m-3 8.1h3M132.3 110.6h3m-3 8.2h3M134 110h3m-3 8.2h3M135.8 109.4h3m-3 8.3h3M137.5 108.8h3m-3 8.3h3M139.2 108.2h3m-3 8.4h3M140.9 107.7h3m-3 8.4h3M142.7 107.1h3m-3 8.5h3M144.4 106.5h3m-3 8.5h3M146.1 105.9h3m-3 8.6h3M147.9 105.4h3m-3 8.6h3M149.6 104.8h3m-3 8.7h3M151.3 104.3h3m-3 8.7h3M153 103.7h3m-3 8.8h3M154.8 103.2h3m-3 8.8h3M156.5 102.7h3m-3 8.9h3M158.2 102.2h3m-3 8.9h3M160 101.7h3m-3 8.9h3M161.7 101.2h3m-3 9h3M163.4 100.7h3m-3 9h3M165.1 100.2h3m-3 9.1h3M166.9 99.8h3m-3 9.1h3M168.6 99.3h3m-3 9.1h3M170.3 98.8h3m-3 9.2h3M172.1 98.4h3m-3 9.2h3M173.8 97.9h3m-3 9.2h3M175.5 97.4h3m-3 9.3h3M177.2 97h3m-3 9.3h3M179 96.5h3m-3 9.3h3M180.7 96h3m-3 9.4h3M182.4 95.5h3m-3 9.4h3M184.2 95h3m-3 9.4h3M185.9 94.5h3m-3 9.5h3M187.6 94h3m-3 9.5h3M189.4 93.5h3m-3 9.5h3M191.1 92.9h3m-3 9.6h3M192.8 92.4h3m-3 9.6h3M194.5 91.9h3m-3 9.6h3M196.3 91.4h3m-3 9.6h3M198 90.9h3m-3 9.7h3M199.7 90.4h3m-3 9.7h3M201.5 89.9h3m-3 9.7h3M203.2 89.4h3m-3 9.7h3M204.9 88.9h3m-3 9.7h3M206.6 88.4h3m-3 9.8h3M208.4 88h3m-3 9.8h3M210.1 87.5h3m-3 9.8h3M211.8 87h3m-3 9.8h3M213.6 86.5h3m-3 9.8h3M215.3 86.1h3m-3 9.8h3M217 85.6h3m-3 9.9h3M218.8 85.1h3m-3 9.9h3M220.5 84.7h3m-3 9.9h3M222.2 84.2h3m-3 9.9h3M223.9 83.8h3m-3 9.9h3M225.7 83.3h3m-3 9.9h3M227.4 82.8h3m-3 9.9h3M229.1 82.4h3m-3 9.9h3M230.9 81.9h3m-3 9.9h3M232.6 81.5h3m-3 9.9h3M234.3 81.1h3m-3 9.9h3M236 80.6h3m-3 9.9h3M237.8 80.2h3m-3 9.9h3M239.5 79.8h3m-3 9.9h3" stroke="#7f878f" stroke-width="0.9" fill="none"/>
<polyline points="54.2,143.6 56,143 57.7,142.4 59.4,141.9 61.2,141.3 62.9,140.7 64.6,140.1 66.4,139.5 68.1,139 69.8,138.4 71.5,137.8 73.3,137.1 75,136.5 76.7,135.8 78.5,135.1 80.2,134.4 81.9,133.7 83.6,133 85.4,132.2 87.1,131.4 88.8,130.5 90.6,129.6 92.3,128.7 94,127.7 95.8,126.8 97.5,125.9 99.2,125 100.9,124.2 102.7,123.3 104.4,122.5 106.1,121.7 107.9,120.9 109.6,120.1 111.3,119.3 113,118.6 114.8,117.8 116.5,117.1 118.2,116.4 120,115.7 121.7,115 123.4,114.3 125.1,113.7 126.9,113 128.6,112.4 130.3,111.8 132.1,111.2 133.8,110.6 135.5,110 137.2,109.4 139,108.8 140.7,108.2 142.4,107.7 144.2,107.1 145.9,106.5 147.6,105.9 149.4,105.4 151.1,104.8 152.8,104.3 154.5,103.7 156.3,103.2 158,102.7 159.7,102.2 161.5,101.7 163.2,101.2 164.9,100.7 166.6,100.2 168.4,99.8 170.1,99.3 171.8,98.8 173.6,98.4 175.3,97.9 177,97.4 178.8,97 180.5,96.5 182.2,96 183.9,95.5 185.7,95 187.4,94.5 189.1,94 190.9,93.5 192.6,92.9 194.3,92.4 196,91.9 197.8,91.4 199.5,90.9 201.2,90.4 203,89.9 204.7,89.4 206.4,88.9 208.1,88.4 209.9,88 211.6,87.5 213.3,87 215.1,86.5 216.8,86.1 218.5,85.6 220.2,85.1 222,84.7 223.7,84.2 225.4,83.8 227.2,83.3 228.9,82.8 230.6,82.4 232.4,81.9 234.1,81.5 235.8,81.1 237.5,80.6 239.3,80.2 241,79.8" stroke="#7f878f" stroke-width="0.8" fill="none"/>
<polyline points="54.2,147.6 56,147.2 57.7,146.8 59.4,146.4 61.2,146 62.9,145.6 64.6,145.1 66.4,144.7 68.1,144.3 69.8,143.8 71.5,143.4 73.3,142.9 75,142.4 76.7,141.8 78.5,141.2 80.2,140.6 81.9,140 83.6,139.3 85.4,138.6 87.1,137.9 88.8,137.1 90.6,136.3 92.3,135.4 94,134.5 95.8,133.6 97.5,132.8 99.2,132 100.9,131.2 102.7,130.4 104.4,129.7 106.1,128.9 107.9,128.2 109.6,127.5 111.3,126.8 113,126.1 114.8,125.4 116.5,124.7 118.2,124 120,123.4 121.7,122.8 123.4,122.2 125.1,121.6 126.9,121 128.6,120.4 130.3,119.9 132.1,119.3 133.8,118.8 135.5,118.2 137.2,117.7 139,117.2 140.7,116.6 142.4,116.1 144.2,115.6 145.9,115 147.6,114.5 149.4,114 151.1,113.5 152.8,113 154.5,112.5 156.3,112 158,111.5 159.7,111.1 161.5,110.6 163.2,110.1 164.9,109.7 166.6,109.3 168.4,108.8 170.1,108.4 171.8,108 173.6,107.6 175.3,107.2 177,106.7 178.8,106.3 180.5,105.8 182.2,105.4 183.9,104.9 185.7,104.4 187.4,104 189.1,103.5 190.9,103 192.6,102.5 194.3,102 196,101.5 197.8,101 199.5,100.6 201.2,100.1 203,99.6 204.7,99.1 206.4,98.7 208.1,98.2 209.9,97.7 211.6,97.3 213.3,96.8 215.1,96.4 216.8,95.9 218.5,95.5 220.2,95 222,94.6 223.7,94.1 225.4,93.7 227.2,93.2 228.9,92.8 230.6,92.3 232.4,91.9 234.1,91.4 235.8,91 237.5,90.6 239.3,90.1 241,89.7" stroke="#7f878f" stroke-width="0.8" fill="none"/>
<polyline points="33.5,152 35.2,151.7 37,151.4 38.7,151 40.4,150.5 42.1,150 43.9,149.4 45.6,148.7 47.3,148 49.1,147.3 50.8,146.7 52.5,146.1 54.2,145.6 56,145.1 57.7,144.6 59.4,144.1 61.2,143.6 62.9,143.1 64.6,142.6 66.4,142.1 68.1,141.6 69.8,141.1 71.5,140.6 73.3,140 75,139.4 76.7,138.8 78.5,138.2 80.2,137.5 81.9,136.8 83.6,136.1 85.4,135.4 87.1,134.6 88.8,133.8 90.6,132.9 92.3,132 94,131.1 95.8,130.2 97.5,129.3 99.2,128.5 100.9,127.7 102.7,126.9 104.4,126.1 106.1,125.3 107.9,124.5 109.6,123.8 111.3,123 113,122.3 114.8,121.6 116.5,120.9 118.2,120.2 120,119.5 121.7,118.9 123.4,118.2 125.1,117.6 126.9,117 128.6,116.4 130.3,115.8 132.1,115.3 133.8,114.7 135.5,114.1 137.2,113.6 139,113 140.7,112.4 142.4,111.9 144.2,111.3 145.9,110.8 147.6,110.2 149.4,109.7 151.1,109.2 152.8,108.6 154.5,108.1 156.3,107.6 158,107.1 159.7,106.6 161.5,106.1 163.2,105.7 164.9,105.2 166.6,104.7 168.4,104.3 170.1,103.9 171.8,103.4 173.6,103 175.3,102.5 177,102.1 178.8,101.6 180.5,101.2 182.2,100.7 183.9,100.2 185.7,99.7 187.4,99.2 189.1,98.7 190.9,98.2 192.6,97.7 194.3,97.2 196,96.7 197.8,96.2 199.5,95.7 201.2,95.2 203,94.8 204.7,94.3 206.4,93.8 208.1,93.3 209.9,92.9 211.6,92.4 213.3,91.9 215.1,91.5 216.8,91 218.5,90.5 220.2,90.1 222,89.6 223.7,89.2 225.4,88.7 227.2,88.3 228.9,87.8 230.6,87.4 232.4,86.9 234.1,86.5 235.8,86 237.5,85.6 239.3,85.2 241,84.7" stroke="#36404a" stroke-width="1.4" fill="none"/>
<polygon points="33.5,151 35.2,151 37,151 38.7,151 40.4,151 42.1,151 43.9,151 45.6,151 47.3,151 49.1,151 50.8,151 52.5,151 54.2,151 56,151 57.7,151 59.4,151 61.2,151 62.9,151 64.6,151 66.4,151 68.1,151 69.8,151 71.5,151 73.3,151 75,151 76.7,151 78.5,151 80.2,151 81.9,151 83.6,151 85.4,151 87.1,151 88.8,151 90.6,151 92.3,151 94,151 95.8,151 97.5,151 99.2,151 100.9,151 102.7,151 104.4,151 106.1,151 107.9,151 109.6,151 111.3,151 113,151 114.8,151 116.5,151 118.2,151 120,151 121.7,151 123.4,151 125.1,151 126.9,151 128.6,151 130.3,151 132.1,151 133.8,151 135.5,151 137.2,151 139,151 140.7,151 142.4,151 144.2,151 145.9,151 147.6,151 149.4,151 151.1,151 152.8,151 154.5,151 156.3,151 158,151 159.7,151 161.5,151 163.2,151 164.9,151 166.6,151 168.4,151 170.1,151 171.8,151 173.6,151 175.3,151 177,151 178.8,151 180.5,151 182.2,151 183.9,151 185.7,151 187.4,151 189.1,151 190.9,151 192.6,151 194.3,151 196,151 197.8,151 199.5,151 201.2,151 203,151 204.7,151 206.4,151 208.1,151 209.9,151 211.6,151 213.3,151 215.1,151 216.8,151 218.5,151 220.2,151 222,151 223.7,151 225.4,151 227.2,151 228.9,151 230.6,151 232.4,151 234.1,151 235.8,151 237.5,151 239.3,151 241,151 241,152.1 239.3,152.1 237.5,152.1 235.8,152.1 234.1,152.1 232.4,152.1 230.6,152.1 228.9,152.1 227.2,152.1 225.4,152.1 223.7,152.1 222,152.1 220.2,152.1 218.5,152.1 216.8,152.1 215.1,152.1 213.3,152.1 211.6,152.1 209.9,152.1 208.1,152.1 206.4,152.1 204.7,152.1 203,152.1 201.2,152.1 199.5,152.1 197.8,152.1 196,152.1 194.3,152.1 192.6,152.1 190.9,152.1 189.1,152.1 187.4,152.1 185.7,152.1 183.9,152.1 182.2,152.1 180.5,152.1 178.8,152.1 177,152.1 175.3,152.1 173.6,152.1 171.8,152.1 170.1,152.1 168.4,152.1 166.6,152.1 164.9,152.1 163.2,152.1 161.5,152.1 159.7,152.1 158,152.1 156.3,152.1 154.5,152.1 152.8,152.1 151.1,152.1 149.4,152.1 147.6,152.1 145.9,152.1 144.2,152.1 142.4,152.1 140.7,152.1 139,152.1 137.2,152.1 135.5,152.1 133.8,152.1 132.1,152.1 130.3,152.1 128.6,152.1 126.9,152.1 125.1,152.1 123.4,152.1 121.7,152.1 120,152.1 118.2,152.1 116.5,152.1 114.8,152.1 113,152.1 111.3,152.1 109.6,152.1 107.9,152.1 106.1,152.1 104.4,152.1 102.7,152.1 100.9,152.1 99.2,152.1 97.5,152.1 95.8,152.1 94,152.1 92.3,152.1 90.6,152.1 88.8,152.1 87.1,152.1 85.4,152.1 83.6,152.1 81.9,152.1 80.2,152.1 78.5,152.1 76.7,152.1 75,152.1 73.3,152.1 71.5,152.1 69.8,152.1 68.1,152.1 66.4,152.1 64.6,152.1 62.9,152.1 61.2,152.1 59.4,152.1 57.7,152.1 56,152.1 54.2,152.1 52.5,152.1 50.8,152.1 49.1,152.1 47.3,152.1 45.6,152.1 43.9,152.1 42.1,152.1 40.4,152.1 38.7,152.1 37,152.1 35.2,152.1 33.5,152.1" fill="#f8c3cf" stroke="none"/>
<path d="M33.5 151v1.2M35.2 151v1.2M37 151v1.2M38.7 151v1.2M40.4 151v1.2M42.1 151v1.2M43.9 151v1.2M45.6 151v1.2M47.3 151v1.2M49.1 151v1.2M50.8 151v1.2M52.5 151v1.2M54.2 151v1.2M56 151v1.2M57.7 151v1.2M59.4 151v1.2M61.2 151v1.2M62.9 151v1.2M64.6 151v1.2M66.4 151v1.2M68.1 151v1.2M69.8 151v1.2M71.5 151v1.2M73.3 151v1.2M75 151v1.2M76.7 151v1.2M78.5 151v1.2M80.2 151v1.2M81.9 151v1.2M83.6 151v1.2M85.4 151v1.2M87.1 151v1.2M88.8 151v1.2M90.6 151v1.2M92.3 151v1.2M94 151v1.2M95.8 151v1.2M97.5 151v1.2M99.2 151v1.2M100.9 151v1.2M102.7 151v1.2M104.4 151v1.2M106.1 151v1.2M107.9 151v1.2M109.6 151v1.2M111.3 151v1.2M113 151v1.2M114.8 151v1.2M116.5 151v1.2M118.2 151v1.2M120 151v1.2M121.7 151v1.2M123.4 151v1.2M125.1 151v1.2M126.9 151v1.2M128.6 151v1.2M130.3 151v1.2M132.1 151v1.2M133.8 151v1.2M135.5 151v1.2M137.2 151v1.2M139 151v1.2M140.7 151v1.2M142.4 151v1.2M144.2 151v1.2M145.9 151v1.2M147.6 151v1.2M149.4 151v1.2M151.1 151v1.2M152.8 151v1.2M154.5 151v1.2M156.3 151v1.2M158 151v1.2M159.7 151v1.2M161.5 151v1.2M163.2 151v1.2M164.9 151v1.2M166.6 151v1.2M168.4 151v1.2M170.1 151v1.2M171.8 151v1.2M173.6 151v1.2M175.3 151v1.2M177 151v1.2M178.8 151v1.2M180.5 151v1.2M182.2 151v1.2M183.9 151v1.2M185.7 151v1.2M187.4 151v1.2M189.1 151v1.2M190.9 151v1.2M192.6 151v1.2M194.3 151v1.2M196 151v1.2M197.8 151v1.2M199.5 151v1.2M201.2 151v1.2M203 151v1.2M204.7 151v1.2M206.4 151v1.2M208.1 151v1.2M209.9 151v1.2M211.6 151v1.2M213.3 151v1.2M215.1 151v1.2M216.8 151v1.2M218.5 151v1.2M220.2 151v1.2M222 151v1.2M223.7 151v1.2M225.4 151v1.2M227.2 151v1.2M228.9 151v1.2M230.6 151v1.2M232.4 151v1.2M234.1 151v1.2M235.8 151v1.2M237.5 151v1.2M239.3 151v1.2M241 151v1.2" stroke="#ec98ac" stroke-width="0.55" fill="none"/>
<path d="M32 151h3m-3 1.2h3M33.7 151h3m-3 1.2h3M35.5 151h3m-3 1.2h3M37.2 151h3m-3 1.2h3M38.9 151h3m-3 1.2h3M40.6 151h3m-3 1.2h3M42.4 151h3m-3 1.2h3M44.1 151h3m-3 1.2h3M45.8 151h3m-3 1.2h3M47.6 151h3m-3 1.2h3M49.3 151h3m-3 1.2h3M51 151h3m-3 1.2h3M52.8 151h3m-3 1.2h3M54.5 151h3m-3 1.2h3M56.2 151h3m-3 1.2h3M57.9 151h3m-3 1.2h3M59.7 151h3m-3 1.2h3M61.4 151h3m-3 1.2h3M63.1 151h3m-3 1.2h3M64.9 151h3m-3 1.2h3M66.6 151h3m-3 1.2h3M68.3 151h3m-3 1.2h3M70 151h3m-3 1.2h3M71.8 151h3m-3 1.2h3M73.5 151h3m-3 1.2h3M75.2 151h3m-3 1.2h3M77 151h3m-3 1.2h3M78.7 151h3m-3 1.2h3M80.4 151h3m-3 1.2h3M82.1 151h3m-3 1.2h3M83.9 151h3m-3 1.2h3M85.6 151h3m-3 1.2h3M87.3 151h3m-3 1.2h3M89.1 151h3m-3 1.2h3M90.8 151h3m-3 1.2h3M92.5 151h3m-3 1.2h3M94.2 151h3m-3 1.2h3M96 151h3m-3 1.2h3M97.7 151h3m-3 1.2h3M99.4 151h3m-3 1.2h3M101.2 151h3m-3 1.2h3M102.9 151h3m-3 1.2h3M104.6 151h3m-3 1.2h3M106.4 151h3m-3 1.2h3M108.1 151h3m-3 1.2h3M109.8 151h3m-3 1.2h3M111.5 151h3m-3 1.2h3M113.3 151h3m-3 1.2h3M115 151h3m-3 1.2h3M116.7 151h3m-3 1.2h3M118.5 151h3m-3 1.2h3M120.2 151h3m-3 1.2h3M121.9 151h3m-3 1.2h3M123.6 151h3m-3 1.2h3M125.4 151h3m-3 1.2h3M127.1 151h3m-3 1.2h3M128.8 151h3m-3 1.2h3M130.6 151h3m-3 1.2h3M132.3 151h3m-3 1.2h3M134 151h3m-3 1.2h3M135.8 151h3m-3 1.2h3M137.5 151h3m-3 1.2h3M139.2 151h3m-3 1.2h3M140.9 151h3m-3 1.2h3M142.7 151h3m-3 1.2h3M144.4 151h3m-3 1.2h3M146.1 151h3m-3 1.2h3M147.9 151h3m-3 1.2h3M149.6 151h3m-3 1.2h3M151.3 151h3m-3 1.2h3M153 151h3m-3 1.2h3M154.8 151h3m-3 1.2h3M156.5 151h3m-3 1.2h3M158.2 151h3m-3 1.2h3M160 151h3m-3 1.2h3M161.7 151h3m-3 1.2h3M163.4 151h3m-3 1.2h3M165.1 151h3m-3 1.2h3M166.9 151h3m-3 1.2h3M168.6 151h3m-3 1.2h3M170.3 151h3m-3 1.2h3M172.1 151h3m-3 1.2h3M173.8 151h3m-3 1.2h3M175.5 151h3m-3 1.2h3M177.2 151h3m-3 1.2h3M179 151h3m-3 1.2h3M180.7 151h3m-3 1.2h3M182.4 151h3m-3 1.2h3M184.2 151h3m-3 1.2h3M185.9 151h3m-3 1.2h3M187.6 151h3m-3 1.2h3M189.4 151h3m-3 1.2h3M191.1 151h3m-3 1.2h3M192.8 151h3m-3 1.2h3M194.5 151h3m-3 1.2h3M196.3 151h3m-3 1.2h3M198 151h3m-3 1.2h3M199.7 151h3m-3 1.2h3M201.5 151h3m-3 1.2h3M203.2 151h3m-3 1.2h3M204.9 151h3m-3 1.2h3M206.6 151h3m-3 1.2h3M208.4 151h3m-3 1.2h3M210.1 151h3m-3 1.2h3M211.8 151h3m-3 1.2h3M213.6 151h3m-3 1.2h3M215.3 151h3m-3 1.2h3M217 151h3m-3 1.2h3M218.8 151h3m-3 1.2h3M220.5 151h3m-3 1.2h3M222.2 151h3m-3 1.2h3M223.9 151h3m-3 1.2h3M225.7 151h3m-3 1.2h3M227.4 151h3m-3 1.2h3M229.1 151h3m-3 1.2h3M230.9 151h3m-3 1.2h3M232.6 151h3m-3 1.2h3M234.3 151h3m-3 1.2h3M236 151h3m-3 1.2h3M237.8 151h3m-3 1.2h3M239.5 151h3m-3 1.2h3" stroke="#c9607a" stroke-width="0.9" fill="none"/>
<polyline points="54.2,151 56,151 57.7,151 59.4,151 61.2,151 62.9,151 64.6,151 66.4,151 68.1,151 69.8,151 71.5,151 73.3,151 75,151 76.7,151 78.5,151 80.2,151 81.9,151 83.6,151 85.4,151 87.1,151 88.8,151 90.6,151 92.3,151 94,151 95.8,151 97.5,151 99.2,151 100.9,151 102.7,151 104.4,151 106.1,151 107.9,151 109.6,151 111.3,151 113,151 114.8,151 116.5,151 118.2,151 120,151 121.7,151 123.4,151 125.1,151 126.9,151 128.6,151 130.3,151 132.1,151 133.8,151 135.5,151 137.2,151 139,151 140.7,151 142.4,151 144.2,151 145.9,151 147.6,151 149.4,151 151.1,151 152.8,151 154.5,151 156.3,151 158,151 159.7,151 161.5,151 163.2,151 164.9,151 166.6,151 168.4,151 170.1,151 171.8,151 173.6,151 175.3,151 177,151 178.8,151 180.5,151 182.2,151 183.9,151 185.7,151 187.4,151 189.1,151 190.9,151 192.6,151 194.3,151 196,151 197.8,151 199.5,151 201.2,151 203,151 204.7,151 206.4,151 208.1,151 209.9,151 211.6,151 213.3,151 215.1,151 216.8,151 218.5,151 220.2,151 222,151 223.7,151 225.4,151 227.2,151 228.9,151 230.6,151 232.4,151 234.1,151 235.8,151 237.5,151 239.3,151 241,151" stroke="#c9607a" stroke-width="0.8" fill="none"/>
<polyline points="54.2,152.1 56,152.1 57.7,152.1 59.4,152.1 61.2,152.1 62.9,152.1 64.6,152.1 66.4,152.1 68.1,152.1 69.8,152.1 71.5,152.1 73.3,152.1 75,152.1 76.7,152.1 78.5,152.1 80.2,152.1 81.9,152.1 83.6,152.1 85.4,152.1 87.1,152.1 88.8,152.1 90.6,152.1 92.3,152.1 94,152.1 95.8,152.1 97.5,152.1 99.2,152.1 100.9,152.1 102.7,152.1 104.4,152.1 106.1,152.1 107.9,152.1 109.6,152.1 111.3,152.1 113,152.1 114.8,152.1 116.5,152.1 118.2,152.1 120,152.1 121.7,152.1 123.4,152.1 125.1,152.1 126.9,152.1 128.6,152.1 130.3,152.1 132.1,152.1 133.8,152.1 135.5,152.1 137.2,152.1 139,152.1 140.7,152.1 142.4,152.1 144.2,152.1 145.9,152.1 147.6,152.1 149.4,152.1 151.1,152.1 152.8,152.1 154.5,152.1 156.3,152.1 158,152.1 159.7,152.1 161.5,152.1 163.2,152.1 164.9,152.1 166.6,152.1 168.4,152.1 170.1,152.1 171.8,152.1 173.6,152.1 175.3,152.1 177,152.1 178.8,152.1 180.5,152.1 182.2,152.1 183.9,152.1 185.7,152.1 187.4,152.1 189.1,152.1 190.9,152.1 192.6,152.1 194.3,152.1 196,152.1 197.8,152.1 199.5,152.1 201.2,152.1 203,152.1 204.7,152.1 206.4,152.1 208.1,152.1 209.9,152.1 211.6,152.1 213.3,152.1 215.1,152.1 216.8,152.1 218.5,152.1 220.2,152.1 222,152.1 223.7,152.1 225.4,152.1 227.2,152.1 228.9,152.1 230.6,152.1 232.4,152.1 234.1,152.1 235.8,152.1 237.5,152.1 239.3,152.1 241,152.1" stroke="#c9607a" stroke-width="0.8" fill="none"/>
<polyline points="33.5,151.6 35.2,151.6 37,151.6 38.7,151.6 40.4,151.6 42.1,151.6 43.9,151.6 45.6,151.6 47.3,151.6 49.1,151.6 50.8,151.6 52.5,151.6 54.2,151.6 56,151.6 57.7,151.6 59.4,151.6 61.2,151.6 62.9,151.6 64.6,151.6 66.4,151.6 68.1,151.6 69.8,151.6 71.5,151.6 73.3,151.6 75,151.6 76.7,151.6 78.5,151.6 80.2,151.6 81.9,151.6 83.6,151.6 85.4,151.6 87.1,151.6 88.8,151.6 90.6,151.6 92.3,151.6 94,151.6 95.8,151.6 97.5,151.6 99.2,151.6 100.9,151.6 102.7,151.6 104.4,151.6 106.1,151.6 107.9,151.6 109.6,151.6 111.3,151.6 113,151.6 114.8,151.6 116.5,151.6 118.2,151.6 120,151.6 121.7,151.6 123.4,151.6 125.1,151.6 126.9,151.6 128.6,151.6 130.3,151.6 132.1,151.6 133.8,151.6 135.5,151.6 137.2,151.6 139,151.6 140.7,151.6 142.4,151.6 144.2,151.6 145.9,151.6 147.6,151.6 149.4,151.6 151.1,151.6 152.8,151.6 154.5,151.6 156.3,151.6 158,151.6 159.7,151.6 161.5,151.6 163.2,151.6 164.9,151.6 166.6,151.6 168.4,151.6 170.1,151.6 171.8,151.6 173.6,151.6 175.3,151.6 177,151.6 178.8,151.6 180.5,151.6 182.2,151.6 183.9,151.6 185.7,151.6 187.4,151.6 189.1,151.6 190.9,151.6 192.6,151.6 194.3,151.6 196,151.6 197.8,151.6 199.5,151.6 201.2,151.6 203,151.6 204.7,151.6 206.4,151.6 208.1,151.6 209.9,151.6 211.6,151.6 213.3,151.6 215.1,151.6 216.8,151.6 218.5,151.6 220.2,151.6 222,151.6 223.7,151.6 225.4,151.6 227.2,151.6 228.9,151.6 230.6,151.6 232.4,151.6 234.1,151.6 235.8,151.6 237.5,151.6 239.3,151.6 241,151.6" stroke="#a5123a" stroke-width="1.4" fill="none"/>
<text x="238.5" y="29.1" font-size="6.6" fill="#2e2e2e" stroke="#2e2e2e" stroke-width="0.18" text-anchor="end" textLength="39.02" lengthAdjust="spacingAndGlyphs">Control (PRP)</text>
<text x="238.5" y="76" font-size="6.6" fill="#2e2e2e" stroke="#2e2e2e" stroke-width="0.18" text-anchor="end" textLength="41.47" lengthAdjust="spacingAndGlyphs">Control (blood)</text>
<text x="238.5" y="111" font-size="6.6" fill="#2e2e2e" stroke="#2e2e2e" stroke-width="0.18" text-anchor="end" textLength="37.99" lengthAdjust="spacingAndGlyphs">PGE1 (blood)</text>
<text x="238.5" y="147.9" font-size="6.6" fill="#2e2e2e" stroke="#2e2e2e" stroke-width="0.18" text-anchor="end" textLength="35.54" lengthAdjust="spacingAndGlyphs">PGE1 (PRP)</text>
<path d="M242.5 78.3H246.7V92.6H242.5" stroke="#333" stroke-width="1" fill="none"/>
<path d="M244.3 31.4H249.3V152H244.3" stroke="#c8284e" stroke-width="1" fill="none"/>
<text x="266.6" y="16.8" font-size="11.4" font-weight="bold" fill="#111" stroke="#111" stroke-width="0.35">B</text>
<path d="M292.5 20V159.5" stroke="#1a1a1a" stroke-width="1" fill="none"/>
<path d="M292.0 159.0H504.5" stroke="#1a1a1a" stroke-width="1.1" fill="none"/>
<path d="M289.5 159H292.5M289.5 128.2H292.5M289.5 97.4H292.5M289.5 66.6H292.5M289.5 35.8H292.5M292.5 159.0V162.0M362.8 159.0V162.0M433 159.0V162.0M503.3 159.0V162.0" stroke="#1a1a1a" stroke-width="0.9" fill="none"/>
<text x="286.3" y="161.6" font-size="6.6" fill="#2e2e2e" stroke="#2e2e2e" stroke-width="0.15" text-anchor="end">0</text>
<text x="286.3" y="130.8" font-size="6.6" fill="#2e2e2e" stroke="#2e2e2e" stroke-width="0.15" text-anchor="end">20</text>
<text x="286.3" y="100" font-size="6.6" fill="#2e2e2e" stroke="#2e2e2e" stroke-width="0.15" text-anchor="end">40</text>
<text x="286.3" y="69.2" font-size="6.6" fill="#2e2e2e" stroke="#2e2e2e" stroke-width="0.15" text-anchor="end">60</text>
<text x="286.3" y="38.4" font-size="6.6" fill="#2e2e2e" stroke="#2e2e2e" stroke-width="0.15" text-anchor="end">80</text>
<text x="292.5" y="172" font-size="6.6" fill="#2e2e2e" stroke="#2e2e2e" stroke-width="0.15" text-anchor="middle">0</text>
<text x="362.8" y="172" font-size="6.6" fill="#2e2e2e" stroke="#2e2e2e" stroke-width="0.15" text-anchor="middle">20</text>
<text x="433" y="172" font-size="6.6" fill="#2e2e2e" stroke="#2e2e2e" stroke-width="0.15" text-anchor="middle">40</text>
<text x="503.3" y="172" font-size="6.6" fill="#2e2e2e" stroke="#2e2e2e" stroke-width="0.15" text-anchor="middle">60</text>
<text x="399.5" y="183.7" font-size="8.4" font-weight="bold" fill="#2a2a2a" text-anchor="middle" textLength="25.4" lengthAdjust="spacingAndGlyphs">Time, min</text>
<text transform="translate(274,88.9) rotate(-90)" font-size="8.4" font-weight="bold" fill="#2a2a2a" text-anchor="middle" textLength="76" lengthAdjust="spacingAndGlyphs">Extent of clot contraction, %</text>
<polygon points="292.5,159 294.3,158.6 296,158.1 297.8,157.3 299.5,156.2 301.3,154.6 303,152.4 304.8,149.3 306.6,142.9 308.3,134.3 310.1,125.4 311.8,115.8 313.6,106.9 315.3,98.8 317.1,92.8 318.9,87.8 320.6,83.2 322.4,78.8 324.1,74.8 325.9,71.4 327.6,68.5 329.4,65.8 331.1,63.4 332.9,61.2 334.7,59.2 336.4,57.3 338.2,55.6 339.9,54.1 341.7,52.9 343.4,51.7 345.2,50.6 347,49.6 348.7,48.6 350.5,47.7 352.2,46.9 354,46.1 355.7,45.4 357.5,44.7 359.3,44 361,43.4 362.8,42.8 364.5,42.2 366.3,41.7 368,41.2 369.8,40.8 371.6,40.4 373.3,40.1 375.1,39.8 376.8,39.5 378.6,39.3 380.3,39.1 382.1,38.8 383.8,38.6 385.6,38.4 387.4,38.1 389.1,37.9 390.9,37.6 392.6,37.4 394.4,37.1 396.1,36.9 397.9,36.7 399.7,36.5 401.4,36.3 403.2,36.1 404.9,35.9 406.7,35.7 408.4,35.6 410.2,35.4 412,35.3 413.7,35.1 415.5,35 417.2,34.9 419,34.8 420.7,34.7 422.5,34.6 424.2,34.5 426,34.4 427.8,34.3 429.5,34.2 431.3,34.1 433,34 434.8,34 436.5,33.9 438.3,33.8 440.1,33.8 441.8,33.7 443.6,33.7 445.3,33.6 447.1,33.6 448.8,33.5 450.6,33.5 452.4,33.5 454.1,33.4 455.9,33.4 457.6,33.3 459.4,33.3 461.1,33.3 462.9,33.2 464.7,33.2 466.4,33.2 468.2,33.2 469.9,33.1 471.7,33.1 473.4,33.1 475.2,33.1 476.9,33 478.7,33 480.5,33 482.2,33 484,33 485.7,33 487.5,33 489.2,33 491,33 492.8,33 494.5,33 496.3,33 498,33 499.8,33 501.5,33 503.3,33 503.3,43.8 501.5,43.8 499.8,43.9 498,43.9 496.3,43.9 494.5,44 492.8,44 491,44 489.2,44.1 487.5,44.1 485.7,44.2 484,44.2 482.2,44.2 480.5,44.3 478.7,44.3 476.9,44.4 475.2,44.4 473.4,44.5 471.7,44.5 469.9,44.6 468.2,44.7 466.4,44.7 464.7,44.8 462.9,44.8 461.1,44.9 459.4,44.9 457.6,45 455.9,45 454.1,45.1 452.4,45.1 450.6,45.2 448.8,45.3 447.1,45.3 445.3,45.4 443.6,45.4 441.8,45.5 440.1,45.6 438.3,45.7 436.5,45.7 434.8,45.8 433,45.9 431.3,46 429.5,46.1 427.8,46.2 426,46.3 424.2,46.4 422.5,46.5 420.7,46.6 419,46.7 417.2,46.8 415.5,46.9 413.7,47.1 412,47.2 410.2,47.4 408.4,47.5 406.7,47.7 404.9,47.9 403.2,48.1 401.4,48.3 399.7,48.5 397.9,48.7 396.1,48.9 394.4,49.1 392.6,49.4 390.9,49.6 389.1,49.9 387.4,50.1 385.6,50.4 383.8,50.6 382.1,50.8 380.3,51.1 378.6,51.3 376.8,51.6 375.1,51.8 373.3,52.1 371.6,52.4 369.8,52.8 368,53.2 366.3,53.7 364.5,54.2 362.8,54.8 361,55.4 359.3,56 357.5,56.7 355.7,57.4 354,58.1 352.2,58.8 350.5,59.6 348.7,60.5 347,61.4 345.2,62.4 343.4,63.5 341.7,64.6 339.9,65.8 338.2,67.2 336.4,68.8 334.7,70.7 332.9,72.7 331.1,74.8 329.4,77.1 327.6,79.7 325.9,82.5 324.1,85.8 322.4,89.6 320.6,93.9 318.9,98.3 317.1,102.8 315.3,108.2 313.6,115.4 311.8,123.4 310.1,132 308.3,139.8 306.6,147.5 304.8,153.1 303,155.5 301.3,157.1 299.5,158.1 297.8,158.7 296,159 294.3,159.1 292.5,159" fill="#f8c3cf" stroke="none"/>
<path d="M292.5 159v0M294.3 158.6v0.4M296 158.1v0.9M297.8 157.3v1.4M299.5 156.2v1.9M301.3 154.6v2.5M303 152.4v3.1M304.8 149.3v3.8M306.6 142.9v4.6M308.3 134.3v5.6M310.1 125.4v6.6M311.8 115.8v7.6M313.6 106.9v8.5M315.3 98.8v9.3M317.1 92.8v10M318.9 87.8v10.5M320.6 83.2v10.8M322.4 78.8v10.9M324.1 74.8v11M325.9 71.4v11.1M327.6 68.5v11.2M329.4 65.8v11.3M331.1 63.4v11.3M332.9 61.2v11.4M334.7 59.2v11.5M336.4 57.3v11.6M338.2 55.6v11.6M339.9 54.1v11.7M341.7 52.9v11.7M343.4 51.7v11.8M345.2 50.6v11.8M347 49.6v11.9M348.7 48.6v11.9M350.5 47.7v11.9M352.2 46.9v11.9M354 46.1v12M355.7 45.4v12M357.5 44.7v12M359.3 44v12M361 43.4v12M362.8 42.8v12M364.5 42.2v12M366.3 41.7v12M368 41.2v12M369.8 40.8v12M371.6 40.4v12M373.3 40.1v12M375.1 39.8v12M376.8 39.5v12M378.6 39.3v12M380.3 39.1v12M382.1 38.8v12M383.8 38.6v12M385.6 38.4v12M387.4 38.1v12M389.1 37.9v12M390.9 37.6v12M392.6 37.4v12M394.4 37.1v12M396.1 36.9v12M397.9 36.7v12M399.7 36.5v12M401.4 36.3v12M403.2 36.1v12M404.9 35.9v12M406.7 35.7v12M408.4 35.6v12M410.2 35.4v12M412 35.3v12M413.7 35.1v12M415.5 35v11.9M417.2 34.9v11.9M419 34.8v11.9M420.7 34.7v11.9M422.5 34.6v11.9M424.2 34.5v11.9M426 34.4v11.9M427.8 34.3v11.9M429.5 34.2v11.9M431.3 34.1v11.9M433 34v11.9M434.8 34v11.8M436.5 33.9v11.8M438.3 33.8v11.8M440.1 33.8v11.8M441.8 33.7v11.8M443.6 33.7v11.8M445.3 33.6v11.8M447.1 33.6v11.7M448.8 33.5v11.7M450.6 33.5v11.7M452.4 33.5v11.7M454.1 33.4v11.7M455.9 33.4v11.7M457.6 33.3v11.6M459.4 33.3v11.6M461.1 33.3v11.6M462.9 33.2v11.6M464.7 33.2v11.5M466.4 33.2v11.5M468.2 33.2v11.5M469.9 33.1v11.5M471.7 33.1v11.4M473.4 33.1v11.4M475.2 33.1v11.4M476.9 33v11.4M478.7 33v11.3M480.5 33v11.3M482.2 33v11.3M484 33v11.2M485.7 33v11.2M487.5 33v11.2M489.2 33v11.1M491 33v11.1M492.8 33v11M494.5 33v11M496.3 33v11M498 33v10.9M499.8 33v10.9M501.5 33v10.8M503.3 33v10.8" stroke="#ec98ac" stroke-width="0.55" fill="none"/>
<path d="M291 159h3m-3 0h3M292.8 158.6h3m-3 0.4h3M294.5 158.1h3m-3 0.9h3M296.3 157.3h3m-3 1.4h3M298 156.2h3m-3 1.9h3M299.8 154.6h3m-3 2.5h3M301.5 152.4h3m-3 3.1h3M303.3 149.3h3m-3 3.8h3M305.1 142.9h3m-3 4.6h3M306.8 134.3h3m-3 5.6h3M308.6 125.4h3m-3 6.6h3M310.3 115.8h3m-3 7.6h3M312.1 106.9h3m-3 8.5h3M313.8 98.8h3m-3 9.3h3M315.6 92.8h3m-3 10h3M317.4 87.8h3m-3 10.5h3M319.1 83.2h3m-3 10.8h3M320.9 78.8h3m-3 10.9h3M322.6 74.8h3m-3 11h3M324.4 71.4h3m-3 11.1h3M326.1 68.5h3m-3 11.2h3M327.9 65.8h3m-3 11.3h3M329.6 63.4h3m-3 11.3h3M331.4 61.2h3m-3 11.4h3M333.2 59.2h3m-3 11.5h3M334.9 57.3h3m-3 11.6h3M336.7 55.6h3m-3 11.6h3M338.4 54.1h3m-3 11.7h3M340.2 52.9h3m-3 11.7h3M341.9 51.7h3m-3 11.8h3M343.7 50.6h3m-3 11.8h3M345.5 49.6h3m-3 11.9h3M347.2 48.6h3m-3 11.9h3M349 47.7h3m-3 11.9h3M350.7 46.9h3m-3 11.9h3M352.5 46.1h3m-3 12h3M354.2 45.4h3m-3 12h3M356 44.7h3m-3 12h3M357.8 44h3m-3 12h3M359.5 43.4h3m-3 12h3M361.3 42.8h3m-3 12h3M363 42.2h3m-3 12h3M364.8 41.7h3m-3 12h3M366.5 41.2h3m-3 12h3M368.3 40.8h3m-3 12h3M370.1 40.4h3m-3 12h3M371.8 40.1h3m-3 12h3M373.6 39.8h3m-3 12h3M375.3 39.5h3m-3 12h3M377.1 39.3h3m-3 12h3M378.8 39.1h3m-3 12h3M380.6 38.8h3m-3 12h3M382.3 38.6h3m-3 12h3M384.1 38.4h3m-3 12h3M385.9 38.1h3m-3 12h3M387.6 37.9h3m-3 12h3M389.4 37.6h3m-3 12h3M391.1 37.4h3m-3 12h3M392.9 37.1h3m-3 12h3M394.6 36.9h3m-3 12h3M396.4 36.7h3m-3 12h3M398.2 36.5h3m-3 12h3M399.9 36.3h3m-3 12h3M401.7 36.1h3m-3 12h3M403.4 35.9h3m-3 12h3M405.2 35.7h3m-3 12h3M406.9 35.6h3m-3 12h3M408.7 35.4h3m-3 12h3M410.5 35.3h3m-3 12h3M412.2 35.1h3m-3 12h3M414 35h3m-3 11.9h3M415.7 34.9h3m-3 11.9h3M417.5 34.8h3m-3 11.9h3M419.2 34.7h3m-3 11.9h3M421 34.6h3m-3 11.9h3M422.8 34.5h3m-3 11.9h3M424.5 34.4h3m-3 11.9h3M426.3 34.3h3m-3 11.9h3M428 34.2h3m-3 11.9h3M429.8 34.1h3m-3 11.9h3M431.5 34h3m-3 11.9h3M433.3 34h3m-3 11.8h3M435 33.9h3m-3 11.8h3M436.8 33.8h3m-3 11.8h3M438.6 33.8h3m-3 11.8h3M440.3 33.7h3m-3 11.8h3M442.1 33.7h3m-3 11.8h3M443.8 33.6h3m-3 11.8h3M445.6 33.6h3m-3 11.7h3M447.3 33.5h3m-3 11.7h3M449.1 33.5h3m-3 11.7h3M450.9 33.5h3m-3 11.7h3M452.6 33.4h3m-3 11.7h3M454.4 33.4h3m-3 11.7h3M456.1 33.3h3m-3 11.6h3M457.9 33.3h3m-3 11.6h3M459.6 33.3h3m-3 11.6h3M461.4 33.2h3m-3 11.6h3M463.2 33.2h3m-3 11.5h3M464.9 33.2h3m-3 11.5h3M466.7 33.2h3m-3 11.5h3M468.4 33.1h3m-3 11.5h3M470.2 33.1h3m-3 11.4h3M471.9 33.1h3m-3 11.4h3M473.7 33.1h3m-3 11.4h3M475.4 33h3m-3 11.4h3M477.2 33h3m-3 11.3h3M479 33h3m-3 11.3h3M480.7 33h3m-3 11.3h3M482.5 33h3m-3 11.2h3M484.2 33h3m-3 11.2h3M486 33h3m-3 11.2h3M487.7 33h3m-3 11.1h3M489.5 33h3m-3 11.1h3M491.3 33h3m-3 11h3M493 33h3m-3 11h3M494.8 33h3m-3 11h3M496.5 33h3m-3 10.9h3M498.3 33h3m-3 10.9h3M500 33h3m-3 10.8h3M501.8 33h3m-3 10.8h3" stroke="#c9607a" stroke-width="0.9" fill="none"/>
<polyline points="313.6,106.9 315.3,98.8 317.1,92.8 318.9,87.8 320.6,83.2 322.4,78.8 324.1,74.8 325.9,71.4 327.6,68.5 329.4,65.8 331.1,63.4 332.9,61.2 334.7,59.2 336.4,57.3 338.2,55.6 339.9,54.1 341.7,52.9 343.4,51.7 345.2,50.6 347,49.6 348.7,48.6 350.5,47.7 352.2,46.9 354,46.1 355.7,45.4 357.5,44.7 359.3,44 361,43.4 362.8,42.8 364.5,42.2 366.3,41.7 368,41.2 369.8,40.8 371.6,40.4 373.3,40.1 375.1,39.8 376.8,39.5 378.6,39.3 380.3,39.1 382.1,38.8 383.8,38.6 385.6,38.4 387.4,38.1 389.1,37.9 390.9,37.6 392.6,37.4 394.4,37.1 396.1,36.9 397.9,36.7 399.7,36.5 401.4,36.3 403.2,36.1 404.9,35.9 406.7,35.7 408.4,35.6 410.2,35.4 412,35.3 413.7,35.1 415.5,35 417.2,34.9 419,34.8 420.7,34.7 422.5,34.6 424.2,34.5 426,34.4 427.8,34.3 429.5,34.2 431.3,34.1 433,34 434.8,34 436.5,33.9 438.3,33.8 440.1,33.8 441.8,33.7 443.6,33.7 445.3,33.6 447.1,33.6 448.8,33.5 450.6,33.5 452.4,33.5 454.1,33.4 455.9,33.4 457.6,33.3 459.4,33.3 461.1,33.3 462.9,33.2 464.7,33.2 466.4,33.2 468.2,33.2 469.9,33.1 471.7,33.1 473.4,33.1 475.2,33.1 476.9,33 478.7,33 480.5,33 482.2,33 484,33 485.7,33 487.5,33 489.2,33 491,33 492.8,33 494.5,33 496.3,33 498,33 499.8,33 501.5,33 503.3,33" stroke="#c9607a" stroke-width="0.8" fill="none"/>
<polyline points="313.6,115.4 315.3,108.2 317.1,102.8 318.9,98.3 320.6,93.9 322.4,89.6 324.1,85.8 325.9,82.5 327.6,79.7 329.4,77.1 331.1,74.8 332.9,72.7 334.7,70.7 336.4,68.8 338.2,67.2 339.9,65.8 341.7,64.6 343.4,63.5 345.2,62.4 347,61.4 348.7,60.5 350.5,59.6 352.2,58.8 354,58.1 355.7,57.4 357.5,56.7 359.3,56 361,55.4 362.8,54.8 364.5,54.2 366.3,53.7 368,53.2 369.8,52.8 371.6,52.4 373.3,52.1 375.1,51.8 376.8,51.6 378.6,51.3 380.3,51.1 382.1,50.8 383.8,50.6 385.6,50.4 387.4,50.1 389.1,49.9 390.9,49.6 392.6,49.4 394.4,49.1 396.1,48.9 397.9,48.7 399.7,48.5 401.4,48.3 403.2,48.1 404.9,47.9 406.7,47.7 408.4,47.5 410.2,47.4 412,47.2 413.7,47.1 415.5,46.9 417.2,46.8 419,46.7 420.7,46.6 422.5,46.5 424.2,46.4 426,46.3 427.8,46.2 429.5,46.1 431.3,46 433,45.9 434.8,45.8 436.5,45.7 438.3,45.7 440.1,45.6 441.8,45.5 443.6,45.4 445.3,45.4 447.1,45.3 448.8,45.3 450.6,45.2 452.4,45.1 454.1,45.1 455.9,45 457.6,45 459.4,44.9 461.1,44.9 462.9,44.8 464.7,44.8 466.4,44.7 468.2,44.7 469.9,44.6 471.7,44.5 473.4,44.5 475.2,44.4 476.9,44.4 478.7,44.3 480.5,44.3 482.2,44.2 484,44.2 485.7,44.2 487.5,44.1 489.2,44.1 491,44 492.8,44 494.5,44 496.3,43.9 498,43.9 499.8,43.9 501.5,43.8 503.3,43.8" stroke="#c9607a" stroke-width="0.8" fill="none"/>
<polyline points="292.5,159 294.3,158.9 296,158.5 297.8,158 299.5,157.2 301.3,155.9 303,154 304.8,151.2 306.6,145.2 308.3,137.1 310.1,128.7 311.8,119.6 313.6,111.2 315.3,103.5 317.1,97.8 318.9,93.1 320.6,88.6 322.4,84.2 324.1,80.3 325.9,77 327.6,74.1 329.4,71.5 331.1,69.1 332.9,67 334.7,64.9 336.4,63.1 338.2,61.4 339.9,60 341.7,58.7 343.4,57.6 345.2,56.5 347,55.5 348.7,54.5 350.5,53.7 352.2,52.9 354,52.1 355.7,51.4 357.5,50.7 359.3,50 361,49.4 362.8,48.8 364.5,48.2 366.3,47.7 368,47.2 369.8,46.8 371.6,46.4 373.3,46.1 375.1,45.8 376.8,45.6 378.6,45.3 380.3,45.1 382.1,44.8 383.8,44.6 385.6,44.4 387.4,44.1 389.1,43.9 390.9,43.6 392.6,43.4 394.4,43.1 396.1,42.9 397.9,42.7 399.7,42.5 401.4,42.3 403.2,42.1 404.9,41.9 406.7,41.7 408.4,41.6 410.2,41.4 412,41.2 413.7,41.1 415.5,41 417.2,40.8 419,40.7 420.7,40.6 422.5,40.5 424.2,40.4 426,40.3 427.8,40.2 429.5,40.1 431.3,40.1 433,40 434.8,39.9 436.5,39.8 438.3,39.8 440.1,39.7 441.8,39.6 443.6,39.6 445.3,39.5 447.1,39.4 448.8,39.4 450.6,39.3 452.4,39.3 454.1,39.3 455.9,39.2 457.6,39.2 459.4,39.1 461.1,39.1 462.9,39 464.7,39 466.4,38.9 468.2,38.9 469.9,38.9 471.7,38.8 473.4,38.8 475.2,38.8 476.9,38.7 478.7,38.7 480.5,38.7 482.2,38.6 484,38.6 485.7,38.6 487.5,38.5 489.2,38.5 491,38.5 492.8,38.5 494.5,38.5 496.3,38.4 498,38.4 499.8,38.4 501.5,38.4 503.3,38.4" stroke="#a5123a" stroke-width="1.4" fill="none"/>
<polygon points="292.5,159 294.3,158.6 296,158 297.8,157.3 299.5,156.4 301.3,155.2 303,153.6 304.8,151.3 306.6,147.9 308.3,143.9 310.1,139.6 311.8,135.3 313.6,130.4 315.3,126 317.1,122.1 318.9,119 320.6,116.3 322.4,114.1 324.1,112 325.9,109.9 327.6,108 329.4,106.5 331.1,105.5 332.9,104.7 334.7,104 336.4,103.4 338.2,102.9 339.9,102.3 341.7,101.8 343.4,101.4 345.2,101 347,100.5 348.7,100.2 350.5,99.8 352.2,99.4 354,99.1 355.7,98.7 357.5,98.4 359.3,98 361,97.6 362.8,97.3 364.5,97 366.3,96.7 368,96.4 369.8,96.1 371.6,95.8 373.3,95.6 375.1,95.3 376.8,95.1 378.6,94.9 380.3,94.7 382.1,94.5 383.8,94.3 385.6,94.1 387.4,93.9 389.1,93.7 390.9,93.5 392.6,93.2 394.4,93 396.1,92.8 397.9,92.6 399.7,92.4 401.4,92.2 403.2,92 404.9,91.8 406.7,91.5 408.4,91.3 410.2,91.1 412,90.9 413.7,90.8 415.5,90.6 417.2,90.4 419,90.2 420.7,90 422.5,89.8 424.2,89.6 426,89.4 427.8,89.2 429.5,89 431.3,88.9 433,88.7 434.8,88.5 436.5,88.3 438.3,88.1 440.1,88 441.8,87.8 443.6,87.6 445.3,87.5 447.1,87.3 448.8,87.2 450.6,87.1 452.4,86.9 454.1,86.8 455.9,86.7 457.6,86.5 459.4,86.4 461.1,86.3 462.9,86.2 464.7,86.1 466.4,85.9 468.2,85.8 469.9,85.7 471.7,85.6 473.4,85.5 475.2,85.4 476.9,85.3 478.7,85.2 480.5,85.1 482.2,85 484,84.9 485.7,84.8 487.5,84.7 489.2,84.7 491,84.6 492.8,84.5 494.5,84.4 496.3,84.4 498,84.3 499.8,84.3 501.5,84.2 503.3,84.2 503.3,93.4 501.5,93.5 499.8,93.6 498,93.7 496.3,93.8 494.5,93.9 492.8,94 491,94.1 489.2,94.3 487.5,94.4 485.7,94.5 484,94.6 482.2,94.7 480.5,94.9 478.7,95 476.9,95.1 475.2,95.3 473.4,95.4 471.7,95.5 469.9,95.7 468.2,95.8 466.4,96 464.7,96.1 462.9,96.2 461.1,96.4 459.4,96.5 457.6,96.7 455.9,96.8 454.1,97 452.4,97.1 450.6,97.3 448.8,97.4 447.1,97.6 445.3,97.8 443.6,97.9 441.8,98.1 440.1,98.3 438.3,98.5 436.5,98.7 434.8,98.8 433,99 431.3,99.2 429.5,99.4 427.8,99.6 426,99.8 424.2,100 422.5,100.2 420.7,100.4 419,100.6 417.2,100.8 415.5,101 413.7,101.2 412,101.4 410.2,101.6 408.4,101.8 406.7,102 404.9,102.2 403.2,102.4 401.4,102.6 399.7,102.8 397.9,103.1 396.1,103.3 394.4,103.5 392.6,103.7 390.9,103.9 389.1,104.1 387.4,104.3 385.6,104.6 383.8,104.8 382.1,105 380.3,105.1 378.6,105.3 376.8,105.5 375.1,105.7 373.3,106 371.6,106.2 369.8,106.4 368,106.7 366.3,107 364.5,107.3 362.8,107.6 361,107.9 359.3,108.2 357.5,108.6 355.7,108.9 354,109.2 352.2,109.5 350.5,109.9 348.7,110.2 347,110.6 345.2,110.9 343.4,111.3 341.7,111.7 339.9,112.2 338.2,112.7 336.4,113.2 334.7,113.7 332.9,114.4 331.1,115.1 329.4,116.1 327.6,117.5 325.9,119.3 324.1,121.3 322.4,123.4 320.6,125.6 318.9,128 317.1,130.8 315.3,134.1 313.6,137.9 311.8,142.1 310.1,145.6 308.3,149.1 306.6,152.3 304.8,155 303,156.7 301.3,157.7 299.5,158.4 297.8,158.8 296,159 294.3,159.1 292.5,159" fill="#e6e9ed" stroke="none"/>
<path d="M292.5 159v0M294.3 158.6v0.5M296 158v1M297.8 157.3v1.5M299.5 156.4v2M301.3 155.2v2.5M303 153.6v3.1M304.8 151.3v3.7M306.6 147.9v4.4M308.3 143.9v5.2M310.1 139.6v6M311.8 135.3v6.8M313.6 130.4v7.5M315.3 126v8.2M317.1 122.1v8.7M318.9 119v9.1M320.6 116.3v9.2M322.4 114.1v9.3M324.1 112v9.4M325.9 109.9v9.4M327.6 108v9.5M329.4 106.5v9.5M331.1 105.5v9.6M332.9 104.7v9.7M334.7 104v9.7M336.4 103.4v9.8M338.2 102.9v9.8M339.9 102.3v9.8M341.7 101.8v9.9M343.4 101.4v9.9M345.2 101v10M347 100.5v10M348.7 100.2v10M350.5 99.8v10.1M352.2 99.4v10.1M354 99.1v10.1M355.7 98.7v10.2M357.5 98.4v10.2M359.3 98v10.2M361 97.6v10.2M362.8 97.3v10.3M364.5 97v10.3M366.3 96.7v10.3M368 96.4v10.3M369.8 96.1v10.3M371.6 95.8v10.4M373.3 95.6v10.4M375.1 95.3v10.4M376.8 95.1v10.4M378.6 94.9v10.4M380.3 94.7v10.4M382.1 94.5v10.4M383.8 94.3v10.4M385.6 94.1v10.5M387.4 93.9v10.5M389.1 93.7v10.5M390.9 93.5v10.5M392.6 93.2v10.5M394.4 93v10.5M396.1 92.8v10.5M397.9 92.6v10.5M399.7 92.4v10.5M401.4 92.2v10.5M403.2 92v10.5M404.9 91.8v10.5M406.7 91.5v10.5M408.4 91.3v10.5M410.2 91.1v10.5M412 90.9v10.5M413.7 90.8v10.5M415.5 90.6v10.4M417.2 90.4v10.4M419 90.2v10.4M420.7 90v10.4M422.5 89.8v10.4M424.2 89.6v10.4M426 89.4v10.4M427.8 89.2v10.4M429.5 89v10.4M431.3 88.9v10.4M433 88.7v10.4M434.8 88.5v10.4M436.5 88.3v10.3M438.3 88.1v10.3M440.1 88v10.3M441.8 87.8v10.3M443.6 87.6v10.3M445.3 87.5v10.3M447.1 87.3v10.3M448.8 87.2v10.2M450.6 87.1v10.2M452.4 86.9v10.2M454.1 86.8v10.2M455.9 86.7v10.2M457.6 86.5v10.1M459.4 86.4v10.1M461.1 86.3v10.1M462.9 86.2v10.1M464.7 86.1v10M466.4 85.9v10M468.2 85.8v10M469.9 85.7v10M471.7 85.6v9.9M473.4 85.5v9.9M475.2 85.4v9.9M476.9 85.3v9.8M478.7 85.2v9.8M480.5 85.1v9.8M482.2 85v9.7M484 84.9v9.7M485.7 84.8v9.7M487.5 84.7v9.6M489.2 84.7v9.6M491 84.6v9.6M492.8 84.5v9.5M494.5 84.4v9.5M496.3 84.4v9.4M498 84.3v9.4M499.8 84.3v9.3M501.5 84.2v9.3M503.3 84.2v9.2" stroke="#b2b8be" stroke-width="0.55" fill="none"/>
<path d="M291 159h3m-3 0h3M292.8 158.6h3m-3 0.5h3M294.5 158h3m-3 1h3M296.3 157.3h3m-3 1.5h3M298 156.4h3m-3 2h3M299.8 155.2h3m-3 2.5h3M301.5 153.6h3m-3 3.1h3M303.3 151.3h3m-3 3.7h3M305.1 147.9h3m-3 4.4h3M306.8 143.9h3m-3 5.2h3M308.6 139.6h3m-3 6h3M310.3 135.3h3m-3 6.8h3M312.1 130.4h3m-3 7.5h3M313.8 126h3m-3 8.2h3M315.6 122.1h3m-3 8.7h3M317.4 119h3m-3 9.1h3M319.1 116.3h3m-3 9.2h3M320.9 114.1h3m-3 9.3h3M322.6 112h3m-3 9.4h3M324.4 109.9h3m-3 9.4h3M326.1 108h3m-3 9.5h3M327.9 106.5h3m-3 9.5h3M329.6 105.5h3m-3 9.6h3M331.4 104.7h3m-3 9.7h3M333.2 104h3m-3 9.7h3M334.9 103.4h3m-3 9.8h3M336.7 102.9h3m-3 9.8h3M338.4 102.3h3m-3 9.8h3M340.2 101.8h3m-3 9.9h3M341.9 101.4h3m-3 9.9h3M343.7 101h3m-3 10h3M345.5 100.5h3m-3 10h3M347.2 100.2h3m-3 10h3M349 99.8h3m-3 10.1h3M350.7 99.4h3m-3 10.1h3M352.5 99.1h3m-3 10.1h3M354.2 98.7h3m-3 10.2h3M356 98.4h3m-3 10.2h3M357.8 98h3m-3 10.2h3M359.5 97.6h3m-3 10.2h3M361.3 97.3h3m-3 10.3h3M363 97h3m-3 10.3h3M364.8 96.7h3m-3 10.3h3M366.5 96.4h3m-3 10.3h3M368.3 96.1h3m-3 10.3h3M370.1 95.8h3m-3 10.4h3M371.8 95.6h3m-3 10.4h3M373.6 95.3h3m-3 10.4h3M375.3 95.1h3m-3 10.4h3M377.1 94.9h3m-3 10.4h3M378.8 94.7h3m-3 10.4h3M380.6 94.5h3m-3 10.4h3M382.3 94.3h3m-3 10.4h3M384.1 94.1h3m-3 10.5h3M385.9 93.9h3m-3 10.5h3M387.6 93.7h3m-3 10.5h3M389.4 93.5h3m-3 10.5h3M391.1 93.2h3m-3 10.5h3M392.9 93h3m-3 10.5h3M394.6 92.8h3m-3 10.5h3M396.4 92.6h3m-3 10.5h3M398.2 92.4h3m-3 10.5h3M399.9 92.2h3m-3 10.5h3M401.7 92h3m-3 10.5h3M403.4 91.8h3m-3 10.5h3M405.2 91.5h3m-3 10.5h3M406.9 91.3h3m-3 10.5h3M408.7 91.1h3m-3 10.5h3M410.5 90.9h3m-3 10.5h3M412.2 90.8h3m-3 10.5h3M414 90.6h3m-3 10.4h3M415.7 90.4h3m-3 10.4h3M417.5 90.2h3m-3 10.4h3M419.2 90h3m-3 10.4h3M421 89.8h3m-3 10.4h3M422.8 89.6h3m-3 10.4h3M424.5 89.4h3m-3 10.4h3M426.3 89.2h3m-3 10.4h3M428 89h3m-3 10.4h3M429.8 88.9h3m-3 10.4h3M431.5 88.7h3m-3 10.4h3M433.3 88.5h3m-3 10.4h3M435 88.3h3m-3 10.3h3M436.8 88.1h3m-3 10.3h3M438.6 88h3m-3 10.3h3M440.3 87.8h3m-3 10.3h3M442.1 87.6h3m-3 10.3h3M443.8 87.5h3m-3 10.3h3M445.6 87.3h3m-3 10.3h3M447.3 87.2h3m-3 10.2h3M449.1 87.1h3m-3 10.2h3M450.9 86.9h3m-3 10.2h3M452.6 86.8h3m-3 10.2h3M454.4 86.7h3m-3 10.2h3M456.1 86.5h3m-3 10.1h3M457.9 86.4h3m-3 10.1h3M459.6 86.3h3m-3 10.1h3M461.4 86.2h3m-3 10.1h3M463.2 86.1h3m-3 10h3M464.9 85.9h3m-3 10h3M466.7 85.8h3m-3 10h3M468.4 85.7h3m-3 10h3M470.2 85.6h3m-3 9.9h3M471.9 85.5h3m-3 9.9h3M473.7 85.4h3m-3 9.9h3M475.4 85.3h3m-3 9.8h3M477.2 85.2h3m-3 9.8h3M479 85.1h3m-3 9.8h3M480.7 85h3m-3 9.7h3M482.5 84.9h3m-3 9.7h3M484.2 84.8h3m-3 9.7h3M486 84.7h3m-3 9.6h3M487.7 84.7h3m-3 9.6h3M489.5 84.6h3m-3 9.6h3M491.3 84.5h3m-3 9.5h3M493 84.4h3m-3 9.5h3M494.8 84.4h3m-3 9.4h3M496.5 84.3h3m-3 9.4h3M498.3 84.3h3m-3 9.3h3M500 84.2h3m-3 9.3h3M501.8 84.2h3m-3 9.2h3" stroke="#7f878f" stroke-width="0.9" fill="none"/>
<polyline points="313.6,130.4 315.3,126 317.1,122.1 318.9,119 320.6,116.3 322.4,114.1 324.1,112 325.9,109.9 327.6,108 329.4,106.5 331.1,105.5 332.9,104.7 334.7,104 336.4,103.4 338.2,102.9 339.9,102.3 341.7,101.8 343.4,101.4 345.2,101 347,100.5 348.7,100.2 350.5,99.8 352.2,99.4 354,99.1 355.7,98.7 357.5,98.4 359.3,98 361,97.6 362.8,97.3 364.5,97 366.3,96.7 368,96.4 369.8,96.1 371.6,95.8 373.3,95.6 375.1,95.3 376.8,95.1 378.6,94.9 380.3,94.7 382.1,94.5 383.8,94.3 385.6,94.1 387.4,93.9 389.1,93.7 390.9,93.5 392.6,93.2 394.4,93 396.1,92.8 397.9,92.6 399.7,92.4 401.4,92.2 403.2,92 404.9,91.8 406.7,91.5 408.4,91.3 410.2,91.1 412,90.9 413.7,90.8 415.5,90.6 417.2,90.4 419,90.2 420.7,90 422.5,89.8 424.2,89.6 426,89.4 427.8,89.2 429.5,89 431.3,88.9 433,88.7 434.8,88.5 436.5,88.3 438.3,88.1 440.1,88 441.8,87.8 443.6,87.6 445.3,87.5 447.1,87.3 448.8,87.2 450.6,87.1 452.4,86.9 454.1,86.8 455.9,86.7 457.6,86.5 459.4,86.4 461.1,86.3 462.9,86.2 464.7,86.1 466.4,85.9 468.2,85.8 469.9,85.7 471.7,85.6 473.4,85.5 475.2,85.4 476.9,85.3 478.7,85.2 480.5,85.1 482.2,85 484,84.9 485.7,84.8 487.5,84.7 489.2,84.7 491,84.6 492.8,84.5 494.5,84.4 496.3,84.4 498,84.3 499.8,84.3 501.5,84.2 503.3,84.2" stroke="#7f878f" stroke-width="0.8" fill="none"/>
<polyline points="313.6,137.9 315.3,134.1 317.1,130.8 318.9,128 320.6,125.6 322.4,123.4 324.1,121.3 325.9,119.3 327.6,117.5 329.4,116.1 331.1,115.1 332.9,114.4 334.7,113.7 336.4,113.2 338.2,112.7 339.9,112.2 341.7,111.7 343.4,111.3 345.2,110.9 347,110.6 348.7,110.2 350.5,109.9 352.2,109.5 354,109.2 355.7,108.9 357.5,108.6 359.3,108.2 361,107.9 362.8,107.6 364.5,107.3 366.3,107 368,106.7 369.8,106.4 371.6,106.2 373.3,106 375.1,105.7 376.8,105.5 378.6,105.3 380.3,105.1 382.1,105 383.8,104.8 385.6,104.6 387.4,104.3 389.1,104.1 390.9,103.9 392.6,103.7 394.4,103.5 396.1,103.3 397.9,103.1 399.7,102.8 401.4,102.6 403.2,102.4 404.9,102.2 406.7,102 408.4,101.8 410.2,101.6 412,101.4 413.7,101.2 415.5,101 417.2,100.8 419,100.6 420.7,100.4 422.5,100.2 424.2,100 426,99.8 427.8,99.6 429.5,99.4 431.3,99.2 433,99 434.8,98.8 436.5,98.7 438.3,98.5 440.1,98.3 441.8,98.1 443.6,97.9 445.3,97.8 447.1,97.6 448.8,97.4 450.6,97.3 452.4,97.1 454.1,97 455.9,96.8 457.6,96.7 459.4,96.5 461.1,96.4 462.9,96.2 464.7,96.1 466.4,96 468.2,95.8 469.9,95.7 471.7,95.5 473.4,95.4 475.2,95.3 476.9,95.1 478.7,95 480.5,94.9 482.2,94.7 484,94.6 485.7,94.5 487.5,94.4 489.2,94.3 491,94.1 492.8,94 494.5,93.9 496.3,93.8 498,93.7 499.8,93.6 501.5,93.5 503.3,93.4" stroke="#7f878f" stroke-width="0.8" fill="none"/>
<polyline points="292.5,159 294.3,158.9 296,158.5 297.8,158.1 299.5,157.4 301.3,156.4 303,155.2 304.8,153.1 306.6,150.1 308.3,146.5 310.1,142.6 311.8,138.7 313.6,134.2 315.3,130.1 317.1,126.5 318.9,123.5 320.6,121 322.4,118.7 324.1,116.7 325.9,114.6 327.6,112.8 329.4,111.3 331.1,110.3 332.9,109.5 334.7,108.9 336.4,108.3 338.2,107.8 339.9,107.3 341.7,106.8 343.4,106.3 345.2,105.9 347,105.5 348.7,105.2 350.5,104.8 352.2,104.5 354,104.1 355.7,103.8 357.5,103.5 359.3,103.1 361,102.8 362.8,102.4 364.5,102.1 366.3,101.8 368,101.5 369.8,101.3 371.6,101 373.3,100.8 375.1,100.5 376.8,100.3 378.6,100.1 380.3,99.9 382.1,99.7 383.8,99.5 385.6,99.3 387.4,99.1 389.1,98.9 390.9,98.7 392.6,98.5 394.4,98.3 396.1,98 397.9,97.8 399.7,97.6 401.4,97.4 403.2,97.2 404.9,97 406.7,96.8 408.4,96.6 410.2,96.4 412,96.2 413.7,96 415.5,95.8 417.2,95.6 419,95.4 420.7,95.2 422.5,95 424.2,94.8 426,94.6 427.8,94.4 429.5,94.2 431.3,94 433,93.9 434.8,93.7 436.5,93.5 438.3,93.3 440.1,93.1 441.8,93 443.6,92.8 445.3,92.6 447.1,92.5 448.8,92.3 450.6,92.2 452.4,92 454.1,91.9 455.9,91.7 457.6,91.6 459.4,91.5 461.1,91.3 462.9,91.2 464.7,91.1 466.4,90.9 468.2,90.8 469.9,90.7 471.7,90.6 473.4,90.4 475.2,90.3 476.9,90.2 478.7,90.1 480.5,90 482.2,89.9 484,89.8 485.7,89.7 487.5,89.6 489.2,89.5 491,89.4 492.8,89.3 494.5,89.2 496.3,89.1 498,89 499.8,88.9 501.5,88.8 503.3,88.8" stroke="#36404a" stroke-width="1.4" fill="none"/>
<polygon points="292.5,159 294.3,158.2 296,157.4 297.8,156.5 299.5,155.7 301.3,154.8 303,154 304.8,153.2 306.6,152.3 308.3,151.5 310.1,150.7 311.8,150.1 313.6,149.7 315.3,149.4 317.1,149.2 318.9,148.9 320.6,148.7 322.4,148.5 324.1,148.4 325.9,148.2 327.6,148 329.4,147.8 331.1,147.7 332.9,147.5 334.7,147.3 336.4,147.2 338.2,147 339.9,146.9 341.7,146.7 343.4,146.6 345.2,146.4 347,146.3 348.7,146.1 350.5,146 352.2,145.9 354,145.7 355.7,145.6 357.5,145.4 359.3,145.3 361,145.1 362.8,144.9 364.5,144.8 366.3,144.6 368,144.4 369.8,144.3 371.6,144.1 373.3,143.9 375.1,143.8 376.8,143.6 378.6,143.4 380.3,143.2 382.1,143.1 383.8,142.9 385.6,142.7 387.4,142.5 389.1,142.4 390.9,142.2 392.6,142 394.4,141.9 396.1,141.7 397.9,141.5 399.7,141.3 401.4,141.2 403.2,141 404.9,140.9 406.7,140.7 408.4,140.5 410.2,140.4 412,140.2 413.7,140 415.5,139.9 417.2,139.7 419,139.6 420.7,139.4 422.5,139.2 424.2,139.1 426,138.9 427.8,138.8 429.5,138.6 431.3,138.5 433,138.3 434.8,138.2 436.5,138 438.3,137.9 440.1,137.7 441.8,137.6 443.6,137.4 445.3,137.3 447.1,137.1 448.8,137 450.6,136.9 452.4,136.7 454.1,136.6 455.9,136.5 457.6,136.3 459.4,136.2 461.1,136.1 462.9,135.9 464.7,135.8 466.4,135.7 468.2,135.6 469.9,135.4 471.7,135.3 473.4,135.2 475.2,135.1 476.9,135 478.7,134.8 480.5,134.7 482.2,134.6 484,134.5 485.7,134.4 487.5,134.3 489.2,134.1 491,134 492.8,133.9 494.5,133.8 496.3,133.7 498,133.6 499.8,133.5 501.5,133.4 503.3,133.3 503.3,138.2 501.5,138.3 499.8,138.4 498,138.5 496.3,138.6 494.5,138.7 492.8,138.8 491,139 489.2,139.1 487.5,139.2 485.7,139.3 484,139.4 482.2,139.5 480.5,139.6 478.7,139.7 476.9,139.9 475.2,140 473.4,140.1 471.7,140.2 469.9,140.3 468.2,140.5 466.4,140.6 464.7,140.7 462.9,140.8 461.1,140.9 459.4,141.1 457.6,141.2 455.9,141.3 454.1,141.5 452.4,141.6 450.6,141.7 448.8,141.8 447.1,142 445.3,142.1 443.6,142.2 441.8,142.4 440.1,142.5 438.3,142.7 436.5,142.8 434.8,142.9 433,143.1 431.3,143.2 429.5,143.4 427.8,143.5 426,143.7 424.2,143.8 422.5,143.9 420.7,144.1 419,144.2 417.2,144.4 415.5,144.5 413.7,144.7 412,144.8 410.2,145 408.4,145.1 406.7,145.3 404.9,145.4 403.2,145.6 401.4,145.7 399.7,145.9 397.9,146 396.1,146.2 394.4,146.3 392.6,146.5 390.9,146.6 389.1,146.8 387.4,147 385.6,147.1 383.8,147.3 382.1,147.4 380.3,147.6 378.6,147.7 376.8,147.9 375.1,148 373.3,148.2 371.6,148.3 369.8,148.5 368,148.6 366.3,148.8 364.5,148.9 362.8,149 361,149.2 359.3,149.3 357.5,149.4 355.7,149.5 354,149.7 352.2,149.8 350.5,149.9 348.7,150 347,150.1 345.2,150.2 343.4,150.4 341.7,150.5 339.9,150.6 338.2,150.7 336.4,150.8 334.7,151 332.9,151.1 331.1,151.2 329.4,151.4 327.6,151.5 325.9,151.6 324.1,151.8 322.4,151.9 320.6,152.1 318.9,152.2 317.1,152.4 315.3,152.6 313.6,152.9 311.8,153.3 310.1,153.8 308.3,154.5 306.6,155.1 304.8,155.7 303,156.3 301.3,156.7 299.5,157.2 297.8,157.6 296,158.1 294.3,158.5 292.5,159" fill="#e6e9ed" stroke="none"/>
<path d="M292.5 159v0M294.3 158.2v0.4M296 157.4v0.7M297.8 156.5v1.1M299.5 155.7v1.5M301.3 154.8v1.9M303 154v2.3M304.8 153.2v2.6M306.6 152.3v2.8M308.3 151.5v3M310.1 150.7v3.1M311.8 150.1v3.1M313.6 149.7v3.2M315.3 149.4v3.2M317.1 149.2v3.2M318.9 148.9v3.3M320.6 148.7v3.3M322.4 148.5v3.4M324.1 148.4v3.4M325.9 148.2v3.4M327.6 148v3.5M329.4 147.8v3.5M331.1 147.7v3.5M332.9 147.5v3.6M334.7 147.3v3.6M336.4 147.2v3.6M338.2 147v3.7M339.9 146.9v3.7M341.7 146.7v3.7M343.4 146.6v3.8M345.2 146.4v3.8M347 146.3v3.8M348.7 146.1v3.9M350.5 146v3.9M352.2 145.9v3.9M354 145.7v4M355.7 145.6v4M357.5 145.4v4M359.3 145.3v4M361 145.1v4.1M362.8 144.9v4.1M364.5 144.8v4.1M366.3 144.6v4.1M368 144.4v4.2M369.8 144.3v4.2M371.6 144.1v4.2M373.3 143.9v4.2M375.1 143.8v4.3M376.8 143.6v4.3M378.6 143.4v4.3M380.3 143.2v4.3M382.1 143.1v4.3M383.8 142.9v4.4M385.6 142.7v4.4M387.4 142.5v4.4M389.1 142.4v4.4M390.9 142.2v4.4M392.6 142v4.5M394.4 141.9v4.5M396.1 141.7v4.5M397.9 141.5v4.5M399.7 141.3v4.5M401.4 141.2v4.5M403.2 141v4.6M404.9 140.9v4.6M406.7 140.7v4.6M408.4 140.5v4.6M410.2 140.4v4.6M412 140.2v4.6M413.7 140v4.6M415.5 139.9v4.7M417.2 139.7v4.7M419 139.6v4.7M420.7 139.4v4.7M422.5 139.2v4.7M424.2 139.1v4.7M426 138.9v4.7M427.8 138.8v4.7M429.5 138.6v4.7M431.3 138.5v4.8M433 138.3v4.8M434.8 138.2v4.8M436.5 138v4.8M438.3 137.9v4.8M440.1 137.7v4.8M441.8 137.6v4.8M443.6 137.4v4.8M445.3 137.3v4.8M447.1 137.1v4.8M448.8 137v4.8M450.6 136.9v4.8M452.4 136.7v4.8M454.1 136.6v4.9M455.9 136.5v4.9M457.6 136.3v4.9M459.4 136.2v4.9M461.1 136.1v4.9M462.9 135.9v4.9M464.7 135.8v4.9M466.4 135.7v4.9M468.2 135.6v4.9M469.9 135.4v4.9M471.7 135.3v4.9M473.4 135.2v4.9M475.2 135.1v4.9M476.9 135v4.9M478.7 134.8v4.9M480.5 134.7v4.9M482.2 134.6v4.9M484 134.5v4.9M485.7 134.4v4.9M487.5 134.3v4.9M489.2 134.1v4.9M491 134v4.9M492.8 133.9v4.9M494.5 133.8v4.9M496.3 133.7v4.9M498 133.6v4.9M499.8 133.5v4.9M501.5 133.4v4.9M503.3 133.3v4.9" stroke="#b2b8be" stroke-width="0.55" fill="none"/>
<path d="M291 159h3m-3 0h3M292.8 158.2h3m-3 0.4h3M294.5 157.4h3m-3 0.7h3M296.3 156.5h3m-3 1.1h3M298 155.7h3m-3 1.5h3M299.8 154.8h3m-3 1.9h3M301.5 154h3m-3 2.3h3M303.3 153.2h3m-3 2.6h3M305.1 152.3h3m-3 2.8h3M306.8 151.5h3m-3 3h3M308.6 150.7h3m-3 3.1h3M310.3 150.1h3m-3 3.1h3M312.1 149.7h3m-3 3.2h3M313.8 149.4h3m-3 3.2h3M315.6 149.2h3m-3 3.2h3M317.4 148.9h3m-3 3.3h3M319.1 148.7h3m-3 3.3h3M320.9 148.5h3m-3 3.4h3M322.6 148.4h3m-3 3.4h3M324.4 148.2h3m-3 3.4h3M326.1 148h3m-3 3.5h3M327.9 147.8h3m-3 3.5h3M329.6 147.7h3m-3 3.5h3M331.4 147.5h3m-3 3.6h3M333.2 147.3h3m-3 3.6h3M334.9 147.2h3m-3 3.6h3M336.7 147h3m-3 3.7h3M338.4 146.9h3m-3 3.7h3M340.2 146.7h3m-3 3.7h3M341.9 146.6h3m-3 3.8h3M343.7 146.4h3m-3 3.8h3M345.5 146.3h3m-3 3.8h3M347.2 146.1h3m-3 3.9h3M349 146h3m-3 3.9h3M350.7 145.9h3m-3 3.9h3M352.5 145.7h3m-3 4h3M354.2 145.6h3m-3 4h3M356 145.4h3m-3 4h3M357.8 145.3h3m-3 4h3M359.5 145.1h3m-3 4.1h3M361.3 144.9h3m-3 4.1h3M363 144.8h3m-3 4.1h3M364.8 144.6h3m-3 4.1h3M366.5 144.4h3m-3 4.2h3M368.3 144.3h3m-3 4.2h3M370.1 144.1h3m-3 4.2h3M371.8 143.9h3m-3 4.2h3M373.6 143.8h3m-3 4.3h3M375.3 143.6h3m-3 4.3h3M377.1 143.4h3m-3 4.3h3M378.8 143.2h3m-3 4.3h3M380.6 143.1h3m-3 4.3h3M382.3 142.9h3m-3 4.4h3M384.1 142.7h3m-3 4.4h3M385.9 142.5h3m-3 4.4h3M387.6 142.4h3m-3 4.4h3M389.4 142.2h3m-3 4.4h3M391.1 142h3m-3 4.5h3M392.9 141.9h3m-3 4.5h3M394.6 141.7h3m-3 4.5h3M396.4 141.5h3m-3 4.5h3M398.2 141.3h3m-3 4.5h3M399.9 141.2h3m-3 4.5h3M401.7 141h3m-3 4.6h3M403.4 140.9h3m-3 4.6h3M405.2 140.7h3m-3 4.6h3M406.9 140.5h3m-3 4.6h3M408.7 140.4h3m-3 4.6h3M410.5 140.2h3m-3 4.6h3M412.2 140h3m-3 4.6h3M414 139.9h3m-3 4.7h3M415.7 139.7h3m-3 4.7h3M417.5 139.6h3m-3 4.7h3M419.2 139.4h3m-3 4.7h3M421 139.2h3m-3 4.7h3M422.8 139.1h3m-3 4.7h3M424.5 138.9h3m-3 4.7h3M426.3 138.8h3m-3 4.7h3M428 138.6h3m-3 4.7h3M429.8 138.5h3m-3 4.8h3M431.5 138.3h3m-3 4.8h3M433.3 138.2h3m-3 4.8h3M435 138h3m-3 4.8h3M436.8 137.9h3m-3 4.8h3M438.6 137.7h3m-3 4.8h3M440.3 137.6h3m-3 4.8h3M442.1 137.4h3m-3 4.8h3M443.8 137.3h3m-3 4.8h3M445.6 137.1h3m-3 4.8h3M447.3 137h3m-3 4.8h3M449.1 136.9h3m-3 4.8h3M450.9 136.7h3m-3 4.8h3M452.6 136.6h3m-3 4.9h3M454.4 136.5h3m-3 4.9h3M456.1 136.3h3m-3 4.9h3M457.9 136.2h3m-3 4.9h3M459.6 136.1h3m-3 4.9h3M461.4 135.9h3m-3 4.9h3M463.2 135.8h3m-3 4.9h3M464.9 135.7h3m-3 4.9h3M466.7 135.6h3m-3 4.9h3M468.4 135.4h3m-3 4.9h3M470.2 135.3h3m-3 4.9h3M471.9 135.2h3m-3 4.9h3M473.7 135.1h3m-3 4.9h3M475.4 135h3m-3 4.9h3M477.2 134.8h3m-3 4.9h3M479 134.7h3m-3 4.9h3M480.7 134.6h3m-3 4.9h3M482.5 134.5h3m-3 4.9h3M484.2 134.4h3m-3 4.9h3M486 134.3h3m-3 4.9h3M487.7 134.1h3m-3 4.9h3M489.5 134h3m-3 4.9h3M491.3 133.9h3m-3 4.9h3M493 133.8h3m-3 4.9h3M494.8 133.7h3m-3 4.9h3M496.5 133.6h3m-3 4.9h3M498.3 133.5h3m-3 4.9h3M500 133.4h3m-3 4.9h3M501.8 133.3h3m-3 4.9h3" stroke="#7f878f" stroke-width="0.9" fill="none"/>
<polyline points="313.6,149.7 315.3,149.4 317.1,149.2 318.9,148.9 320.6,148.7 322.4,148.5 324.1,148.4 325.9,148.2 327.6,148 329.4,147.8 331.1,147.7 332.9,147.5 334.7,147.3 336.4,147.2 338.2,147 339.9,146.9 341.7,146.7 343.4,146.6 345.2,146.4 347,146.3 348.7,146.1 350.5,146 352.2,145.9 354,145.7 355.7,145.6 357.5,145.4 359.3,145.3 361,145.1 362.8,144.9 364.5,144.8 366.3,144.6 368,144.4 369.8,144.3 371.6,144.1 373.3,143.9 375.1,143.8 376.8,143.6 378.6,143.4 380.3,143.2 382.1,143.1 383.8,142.9 385.6,142.7 387.4,142.5 389.1,142.4 390.9,142.2 392.6,142 394.4,141.9 396.1,141.7 397.9,141.5 399.7,141.3 401.4,141.2 403.2,141 404.9,140.9 406.7,140.7 408.4,140.5 410.2,140.4 412,140.2 413.7,140 415.5,139.9 417.2,139.7 419,139.6 420.7,139.4 422.5,139.2 424.2,139.1 426,138.9 427.8,138.8 429.5,138.6 431.3,138.5 433,138.3 434.8,138.2 436.5,138 438.3,137.9 440.1,137.7 441.8,137.6 443.6,137.4 445.3,137.3 447.1,137.1 448.8,137 450.6,136.9 452.4,136.7 454.1,136.6 455.9,136.5 457.6,136.3 459.4,136.2 461.1,136.1 462.9,135.9 464.7,135.8 466.4,135.7 468.2,135.6 469.9,135.4 471.7,135.3 473.4,135.2 475.2,135.1 476.9,135 478.7,134.8 480.5,134.7 482.2,134.6 484,134.5 485.7,134.4 487.5,134.3 489.2,134.1 491,134 492.8,133.9 494.5,133.8 496.3,133.7 498,133.6 499.8,133.5 501.5,133.4 503.3,133.3" stroke="#7f878f" stroke-width="0.8" fill="none"/>
<polyline points="313.6,152.9 315.3,152.6 317.1,152.4 318.9,152.2 320.6,152.1 322.4,151.9 324.1,151.8 325.9,151.6 327.6,151.5 329.4,151.4 331.1,151.2 332.9,151.1 334.7,151 336.4,150.8 338.2,150.7 339.9,150.6 341.7,150.5 343.4,150.4 345.2,150.2 347,150.1 348.7,150 350.5,149.9 352.2,149.8 354,149.7 355.7,149.5 357.5,149.4 359.3,149.3 361,149.2 362.8,149 364.5,148.9 366.3,148.8 368,148.6 369.8,148.5 371.6,148.3 373.3,148.2 375.1,148 376.8,147.9 378.6,147.7 380.3,147.6 382.1,147.4 383.8,147.3 385.6,147.1 387.4,147 389.1,146.8 390.9,146.6 392.6,146.5 394.4,146.3 396.1,146.2 397.9,146 399.7,145.9 401.4,145.7 403.2,145.6 404.9,145.4 406.7,145.3 408.4,145.1 410.2,145 412,144.8 413.7,144.7 415.5,144.5 417.2,144.4 419,144.2 420.7,144.1 422.5,143.9 424.2,143.8 426,143.7 427.8,143.5 429.5,143.4 431.3,143.2 433,143.1 434.8,142.9 436.5,142.8 438.3,142.7 440.1,142.5 441.8,142.4 443.6,142.2 445.3,142.1 447.1,142 448.8,141.8 450.6,141.7 452.4,141.6 454.1,141.5 455.9,141.3 457.6,141.2 459.4,141.1 461.1,140.9 462.9,140.8 464.7,140.7 466.4,140.6 468.2,140.5 469.9,140.3 471.7,140.2 473.4,140.1 475.2,140 476.9,139.9 478.7,139.7 480.5,139.6 482.2,139.5 484,139.4 485.7,139.3 487.5,139.2 489.2,139.1 491,139 492.8,138.8 494.5,138.7 496.3,138.6 498,138.5 499.8,138.4 501.5,138.3 503.3,138.2" stroke="#7f878f" stroke-width="0.8" fill="none"/>
<polyline points="292.5,159 294.3,158.4 296,157.7 297.8,157.1 299.5,156.4 301.3,155.8 303,155.2 304.8,154.5 306.6,153.7 308.3,153 310.1,152.3 311.8,151.7 313.6,151.3 315.3,151 317.1,150.8 318.9,150.6 320.6,150.4 322.4,150.2 324.1,150.1 325.9,149.9 327.6,149.8 329.4,149.6 331.1,149.4 332.9,149.3 334.7,149.1 336.4,149 338.2,148.9 339.9,148.7 341.7,148.6 343.4,148.5 345.2,148.3 347,148.2 348.7,148.1 350.5,147.9 352.2,147.8 354,147.7 355.7,147.6 357.5,147.4 359.3,147.3 361,147.1 362.8,147 364.5,146.8 366.3,146.7 368,146.5 369.8,146.4 371.6,146.2 373.3,146.1 375.1,145.9 376.8,145.7 378.6,145.6 380.3,145.4 382.1,145.2 383.8,145.1 385.6,144.9 387.4,144.7 389.1,144.6 390.9,144.4 392.6,144.3 394.4,144.1 396.1,143.9 397.9,143.8 399.7,143.6 401.4,143.5 403.2,143.3 404.9,143.1 406.7,143 408.4,142.8 410.2,142.7 412,142.5 413.7,142.4 415.5,142.2 417.2,142.1 419,141.9 420.7,141.7 422.5,141.6 424.2,141.4 426,141.3 427.8,141.1 429.5,141 431.3,140.8 433,140.7 434.8,140.5 436.5,140.4 438.3,140.3 440.1,140.1 441.8,140 443.6,139.8 445.3,139.7 447.1,139.6 448.8,139.4 450.6,139.3 452.4,139.2 454.1,139 455.9,138.9 457.6,138.8 459.4,138.6 461.1,138.5 462.9,138.4 464.7,138.3 466.4,138.1 468.2,138 469.9,137.9 471.7,137.8 473.4,137.6 475.2,137.5 476.9,137.4 478.7,137.3 480.5,137.2 482.2,137.1 484,136.9 485.7,136.8 487.5,136.7 489.2,136.6 491,136.5 492.8,136.4 494.5,136.3 496.3,136.2 498,136.1 499.8,136 501.5,135.8 503.3,135.7" stroke="#36404a" stroke-width="1.4" fill="none"/>
<polygon points="292.5,159 294.3,158.1 296,157.3 297.8,156.4 299.5,155.5 301.3,154.6 303,153.8 304.8,152.9 306.6,151.9 308.3,151.1 310.1,150.5 311.8,150.2 313.6,150.2 315.3,150.1 317.1,150.1 318.9,150.1 320.6,150 322.4,150 324.1,150 325.9,150 327.6,150 329.4,150 331.1,150 332.9,150 334.7,150 336.4,150 338.2,150 339.9,150 341.7,150 343.4,150 345.2,150.1 347,150.1 348.7,150.1 350.5,150.1 352.2,150.2 354,150.2 355.7,150.2 357.5,150.2 359.3,150.2 361,150.3 362.8,150.3 364.5,150.3 366.3,150.3 368,150.3 369.8,150.3 371.6,150.3 373.3,150.3 375.1,150.3 376.8,150.4 378.6,150.4 380.3,150.4 382.1,150.4 383.8,150.4 385.6,150.4 387.4,150.4 389.1,150.4 390.9,150.4 392.6,150.4 394.4,150.5 396.1,150.5 397.9,150.5 399.7,150.5 401.4,150.5 403.2,150.5 404.9,150.5 406.7,150.5 408.4,150.5 410.2,150.5 412,150.5 413.7,150.5 415.5,150.5 417.2,150.6 419,150.6 420.7,150.6 422.5,150.6 424.2,150.6 426,150.6 427.8,150.6 429.5,150.6 431.3,150.6 433,150.6 434.8,150.6 436.5,150.6 438.3,150.6 440.1,150.6 441.8,150.6 443.6,150.6 445.3,150.6 447.1,150.6 448.8,150.5 450.6,150.5 452.4,150.5 454.1,150.5 455.9,150.5 457.6,150.5 459.4,150.5 461.1,150.5 462.9,150.5 464.7,150.5 466.4,150.5 468.2,150.5 469.9,150.5 471.7,150.5 473.4,150.5 475.2,150.5 476.9,150.5 478.7,150.5 480.5,150.5 482.2,150.5 484,150.5 485.7,150.5 487.5,150.5 489.2,150.5 491,150.5 492.8,150.5 494.5,150.5 496.3,150.5 498,150.5 499.8,150.5 501.5,150.5 503.3,150.5 503.3,155.2 501.5,155.1 499.8,155.1 498,155.1 496.3,155.1 494.5,155.1 492.8,155.1 491,155.1 489.2,155.1 487.5,155.1 485.7,155.1 484,155.1 482.2,155.1 480.5,155.1 478.7,155.1 476.9,155.1 475.2,155.1 473.4,155.1 471.7,155.1 469.9,155.1 468.2,155.1 466.4,155.1 464.7,155.1 462.9,155.1 461.1,155.1 459.4,155.1 457.6,155.1 455.9,155.1 454.1,155.1 452.4,155.1 450.6,155.1 448.8,155.1 447.1,155.1 445.3,155.1 443.6,155.1 441.8,155.1 440.1,155.1 438.3,155.1 436.5,155.1 434.8,155.1 433,155.1 431.3,155.1 429.5,155.1 427.8,155.1 426,155.1 424.2,155.1 422.5,155.1 420.7,155.1 419,155.1 417.2,155.1 415.5,155 413.7,155 412,155 410.2,155 408.4,155 406.7,155 404.9,155 403.2,155 401.4,154.9 399.7,154.9 397.9,154.9 396.1,154.9 394.4,154.9 392.6,154.8 390.9,154.8 389.1,154.8 387.4,154.8 385.6,154.8 383.8,154.7 382.1,154.7 380.3,154.7 378.6,154.7 376.8,154.7 375.1,154.6 373.3,154.6 371.6,154.6 369.8,154.6 368,154.6 366.3,154.5 364.5,154.5 362.8,154.5 361,154.5 359.3,154.4 357.5,154.4 355.7,154.4 354,154.3 352.2,154.3 350.5,154.3 348.7,154.2 347,154.2 345.2,154.1 343.4,154.1 341.7,154.1 339.9,154 338.2,154 336.4,154 334.7,153.9 332.9,153.9 331.1,153.9 329.4,153.9 327.6,153.9 325.9,153.9 324.1,153.9 322.4,153.9 320.6,153.9 318.9,153.9 317.1,153.9 315.3,153.9 313.6,153.9 311.8,153.9 310.1,154.2 308.3,154.7 306.6,155.3 304.8,156 303,156.5 301.3,156.9 299.5,157.3 297.8,157.7 296,158.1 294.3,158.6 292.5,159" fill="#f8c3cf" stroke="none"/>
<path d="M292.5 159v0M294.3 158.1v0.4M296 157.3v0.9M297.8 156.4v1.4M299.5 155.5v1.9M301.3 154.6v2.3M303 153.8v2.7M304.8 152.9v3.1M306.6 151.9v3.4M308.3 151.1v3.6M310.1 150.5v3.7M311.8 150.2v3.7M313.6 150.2v3.7M315.3 150.1v3.8M317.1 150.1v3.8M318.9 150.1v3.8M320.6 150v3.8M322.4 150v3.8M324.1 150v3.9M325.9 150v3.9M327.6 150v3.9M329.4 150v3.9M331.1 150v3.9M332.9 150v4M334.7 150v4M336.4 150v4M338.2 150v4M339.9 150v4M341.7 150v4M343.4 150v4.1M345.2 150.1v4.1M347 150.1v4.1M348.7 150.1v4.1M350.5 150.1v4.1M352.2 150.2v4.1M354 150.2v4.2M355.7 150.2v4.2M357.5 150.2v4.2M359.3 150.2v4.2M361 150.3v4.2M362.8 150.3v4.2M364.5 150.3v4.2M366.3 150.3v4.2M368 150.3v4.3M369.8 150.3v4.3M371.6 150.3v4.3M373.3 150.3v4.3M375.1 150.3v4.3M376.8 150.4v4.3M378.6 150.4v4.3M380.3 150.4v4.3M382.1 150.4v4.3M383.8 150.4v4.4M385.6 150.4v4.4M387.4 150.4v4.4M389.1 150.4v4.4M390.9 150.4v4.4M392.6 150.4v4.4M394.4 150.5v4.4M396.1 150.5v4.4M397.9 150.5v4.4M399.7 150.5v4.4M401.4 150.5v4.4M403.2 150.5v4.5M404.9 150.5v4.5M406.7 150.5v4.5M408.4 150.5v4.5M410.2 150.5v4.5M412 150.5v4.5M413.7 150.5v4.5M415.5 150.5v4.5M417.2 150.6v4.5M419 150.6v4.5M420.7 150.6v4.5M422.5 150.6v4.5M424.2 150.6v4.5M426 150.6v4.5M427.8 150.6v4.5M429.5 150.6v4.5M431.3 150.6v4.5M433 150.6v4.5M434.8 150.6v4.6M436.5 150.6v4.6M438.3 150.6v4.6M440.1 150.6v4.6M441.8 150.6v4.6M443.6 150.6v4.6M445.3 150.6v4.6M447.1 150.6v4.6M448.8 150.5v4.6M450.6 150.5v4.6M452.4 150.5v4.6M454.1 150.5v4.6M455.9 150.5v4.6M457.6 150.5v4.6M459.4 150.5v4.6M461.1 150.5v4.6M462.9 150.5v4.6M464.7 150.5v4.6M466.4 150.5v4.6M468.2 150.5v4.6M469.9 150.5v4.6M471.7 150.5v4.6M473.4 150.5v4.6M475.2 150.5v4.6M476.9 150.5v4.6M478.7 150.5v4.6M480.5 150.5v4.6M482.2 150.5v4.6M484 150.5v4.6M485.7 150.5v4.6M487.5 150.5v4.6M489.2 150.5v4.6M491 150.5v4.6M492.8 150.5v4.6M494.5 150.5v4.6M496.3 150.5v4.6M498 150.5v4.6M499.8 150.5v4.6M501.5 150.5v4.6M503.3 150.5v4.6" stroke="#ec98ac" stroke-width="0.55" fill="none"/>
<path d="M291 159h3m-3 0h3M292.8 158.1h3m-3 0.4h3M294.5 157.3h3m-3 0.9h3M296.3 156.4h3m-3 1.4h3M298 155.5h3m-3 1.9h3M299.8 154.6h3m-3 2.3h3M301.5 153.8h3m-3 2.7h3M303.3 152.9h3m-3 3.1h3M305.1 151.9h3m-3 3.4h3M306.8 151.1h3m-3 3.6h3M308.6 150.5h3m-3 3.7h3M310.3 150.2h3m-3 3.7h3M312.1 150.2h3m-3 3.7h3M313.8 150.1h3m-3 3.8h3M315.6 150.1h3m-3 3.8h3M317.4 150.1h3m-3 3.8h3M319.1 150h3m-3 3.8h3M320.9 150h3m-3 3.8h3M322.6 150h3m-3 3.9h3M324.4 150h3m-3 3.9h3M326.1 150h3m-3 3.9h3M327.9 150h3m-3 3.9h3M329.6 150h3m-3 3.9h3M331.4 150h3m-3 4h3M333.2 150h3m-3 4h3M334.9 150h3m-3 4h3M336.7 150h3m-3 4h3M338.4 150h3m-3 4h3M340.2 150h3m-3 4h3M341.9 150h3m-3 4.1h3M343.7 150.1h3m-3 4.1h3M345.5 150.1h3m-3 4.1h3M347.2 150.1h3m-3 4.1h3M349 150.1h3m-3 4.1h3M350.7 150.2h3m-3 4.1h3M352.5 150.2h3m-3 4.2h3M354.2 150.2h3m-3 4.2h3M356 150.2h3m-3 4.2h3M357.8 150.2h3m-3 4.2h3M359.5 150.3h3m-3 4.2h3M361.3 150.3h3m-3 4.2h3M363 150.3h3m-3 4.2h3M364.8 150.3h3m-3 4.2h3M366.5 150.3h3m-3 4.3h3M368.3 150.3h3m-3 4.3h3M370.1 150.3h3m-3 4.3h3M371.8 150.3h3m-3 4.3h3M373.6 150.3h3m-3 4.3h3M375.3 150.4h3m-3 4.3h3M377.1 150.4h3m-3 4.3h3M378.8 150.4h3m-3 4.3h3M380.6 150.4h3m-3 4.3h3M382.3 150.4h3m-3 4.4h3M384.1 150.4h3m-3 4.4h3M385.9 150.4h3m-3 4.4h3M387.6 150.4h3m-3 4.4h3M389.4 150.4h3m-3 4.4h3M391.1 150.4h3m-3 4.4h3M392.9 150.5h3m-3 4.4h3M394.6 150.5h3m-3 4.4h3M396.4 150.5h3m-3 4.4h3M398.2 150.5h3m-3 4.4h3M399.9 150.5h3m-3 4.4h3M401.7 150.5h3m-3 4.5h3M403.4 150.5h3m-3 4.5h3M405.2 150.5h3m-3 4.5h3M406.9 150.5h3m-3 4.5h3M408.7 150.5h3m-3 4.5h3M410.5 150.5h3m-3 4.5h3M412.2 150.5h3m-3 4.5h3M414 150.5h3m-3 4.5h3M415.7 150.6h3m-3 4.5h3M417.5 150.6h3m-3 4.5h3M419.2 150.6h3m-3 4.5h3M421 150.6h3m-3 4.5h3M422.8 150.6h3m-3 4.5h3M424.5 150.6h3m-3 4.5h3M426.3 150.6h3m-3 4.5h3M428 150.6h3m-3 4.5h3M429.8 150.6h3m-3 4.5h3M431.5 150.6h3m-3 4.5h3M433.3 150.6h3m-3 4.6h3M435 150.6h3m-3 4.6h3M436.8 150.6h3m-3 4.6h3M438.6 150.6h3m-3 4.6h3M440.3 150.6h3m-3 4.6h3M442.1 150.6h3m-3 4.6h3M443.8 150.6h3m-3 4.6h3M445.6 150.6h3m-3 4.6h3M447.3 150.5h3m-3 4.6h3M449.1 150.5h3m-3 4.6h3M450.9 150.5h3m-3 4.6h3M452.6 150.5h3m-3 4.6h3M454.4 150.5h3m-3 4.6h3M456.1 150.5h3m-3 4.6h3M457.9 150.5h3m-3 4.6h3M459.6 150.5h3m-3 4.6h3M461.4 150.5h3m-3 4.6h3M463.2 150.5h3m-3 4.6h3M464.9 150.5h3m-3 4.6h3M466.7 150.5h3m-3 4.6h3M468.4 150.5h3m-3 4.6h3M470.2 150.5h3m-3 4.6h3M471.9 150.5h3m-3 4.6h3M473.7 150.5h3m-3 4.6h3M475.4 150.5h3m-3 4.6h3M477.2 150.5h3m-3 4.6h3M479 150.5h3m-3 4.6h3M480.7 150.5h3m-3 4.6h3M482.5 150.5h3m-3 4.6h3M484.2 150.5h3m-3 4.6h3M486 150.5h3m-3 4.6h3M487.7 150.5h3m-3 4.6h3M489.5 150.5h3m-3 4.6h3M491.3 150.5h3m-3 4.6h3M493 150.5h3m-3 4.6h3M494.8 150.5h3m-3 4.6h3M496.5 150.5h3m-3 4.6h3M498.3 150.5h3m-3 4.6h3M500 150.5h3m-3 4.6h3M501.8 150.5h3m-3 4.6h3" stroke="#c9607a" stroke-width="0.9" fill="none"/>
<polyline points="313.6,150.2 315.3,150.1 317.1,150.1 318.9,150.1 320.6,150 322.4,150 324.1,150 325.9,150 327.6,150 329.4,150 331.1,150 332.9,150 334.7,150 336.4,150 338.2,150 339.9,150 341.7,150 343.4,150 345.2,150.1 347,150.1 348.7,150.1 350.5,150.1 352.2,150.2 354,150.2 355.7,150.2 357.5,150.2 359.3,150.2 361,150.3 362.8,150.3 364.5,150.3 366.3,150.3 368,150.3 369.8,150.3 371.6,150.3 373.3,150.3 375.1,150.3 376.8,150.4 378.6,150.4 380.3,150.4 382.1,150.4 383.8,150.4 385.6,150.4 387.4,150.4 389.1,150.4 390.9,150.4 392.6,150.4 394.4,150.5 396.1,150.5 397.9,150.5 399.7,150.5 401.4,150.5 403.2,150.5 404.9,150.5 406.7,150.5 408.4,150.5 410.2,150.5 412,150.5 413.7,150.5 415.5,150.5 417.2,150.6 419,150.6 420.7,150.6 422.5,150.6 424.2,150.6 426,150.6 427.8,150.6 429.5,150.6 431.3,150.6 433,150.6 434.8,150.6 436.5,150.6 438.3,150.6 440.1,150.6 441.8,150.6 443.6,150.6 445.3,150.6 447.1,150.6 448.8,150.5 450.6,150.5 452.4,150.5 454.1,150.5 455.9,150.5 457.6,150.5 459.4,150.5 461.1,150.5 462.9,150.5 464.7,150.5 466.4,150.5 468.2,150.5 469.9,150.5 471.7,150.5 473.4,150.5 475.2,150.5 476.9,150.5 478.7,150.5 480.5,150.5 482.2,150.5 484,150.5 485.7,150.5 487.5,150.5 489.2,150.5 491,150.5 492.8,150.5 494.5,150.5 496.3,150.5 498,150.5 499.8,150.5 501.5,150.5 503.3,150.5" stroke="#c9607a" stroke-width="0.8" fill="none"/>
<polyline points="313.6,153.9 315.3,153.9 317.1,153.9 318.9,153.9 320.6,153.9 322.4,153.9 324.1,153.9 325.9,153.9 327.6,153.9 329.4,153.9 331.1,153.9 332.9,153.9 334.7,153.9 336.4,154 338.2,154 339.9,154 341.7,154.1 343.4,154.1 345.2,154.1 347,154.2 348.7,154.2 350.5,154.3 352.2,154.3 354,154.3 355.7,154.4 357.5,154.4 359.3,154.4 361,154.5 362.8,154.5 364.5,154.5 366.3,154.5 368,154.6 369.8,154.6 371.6,154.6 373.3,154.6 375.1,154.6 376.8,154.7 378.6,154.7 380.3,154.7 382.1,154.7 383.8,154.7 385.6,154.8 387.4,154.8 389.1,154.8 390.9,154.8 392.6,154.8 394.4,154.9 396.1,154.9 397.9,154.9 399.7,154.9 401.4,154.9 403.2,155 404.9,155 406.7,155 408.4,155 410.2,155 412,155 413.7,155 415.5,155 417.2,155.1 419,155.1 420.7,155.1 422.5,155.1 424.2,155.1 426,155.1 427.8,155.1 429.5,155.1 431.3,155.1 433,155.1 434.8,155.1 436.5,155.1 438.3,155.1 440.1,155.1 441.8,155.1 443.6,155.1 445.3,155.1 447.1,155.1 448.8,155.1 450.6,155.1 452.4,155.1 454.1,155.1 455.9,155.1 457.6,155.1 459.4,155.1 461.1,155.1 462.9,155.1 464.7,155.1 466.4,155.1 468.2,155.1 469.9,155.1 471.7,155.1 473.4,155.1 475.2,155.1 476.9,155.1 478.7,155.1 480.5,155.1 482.2,155.1 484,155.1 485.7,155.1 487.5,155.1 489.2,155.1 491,155.1 492.8,155.1 494.5,155.1 496.3,155.1 498,155.1 499.8,155.1 501.5,155.1 503.3,155.2" stroke="#c9607a" stroke-width="0.8" fill="none"/>
<polyline points="292.5,159 294.3,158.3 296,157.7 297.8,157.1 299.5,156.4 301.3,155.8 303,155.2 304.8,154.4 306.6,153.6 308.3,152.9 310.1,152.3 311.8,152.1 313.6,152 315.3,152 317.1,152 318.9,152 320.6,151.9 322.4,151.9 324.1,151.9 325.9,151.9 327.6,151.9 329.4,151.9 331.1,151.9 332.9,151.9 334.7,152 336.4,152 338.2,152 339.9,152 341.7,152 343.4,152.1 345.2,152.1 347,152.1 348.7,152.2 350.5,152.2 352.2,152.2 354,152.3 355.7,152.3 357.5,152.3 359.3,152.3 361,152.4 362.8,152.4 364.5,152.4 366.3,152.4 368,152.4 369.8,152.4 371.6,152.5 373.3,152.5 375.1,152.5 376.8,152.5 378.6,152.5 380.3,152.5 382.1,152.6 383.8,152.6 385.6,152.6 387.4,152.6 389.1,152.6 390.9,152.6 392.6,152.6 394.4,152.7 396.1,152.7 397.9,152.7 399.7,152.7 401.4,152.7 403.2,152.7 404.9,152.7 406.7,152.8 408.4,152.8 410.2,152.8 412,152.8 413.7,152.8 415.5,152.8 417.2,152.8 419,152.8 420.7,152.8 422.5,152.8 424.2,152.8 426,152.8 427.8,152.8 429.5,152.8 431.3,152.8 433,152.8 434.8,152.8 436.5,152.8 438.3,152.8 440.1,152.8 441.8,152.8 443.6,152.8 445.3,152.8 447.1,152.8 448.8,152.8 450.6,152.8 452.4,152.8 454.1,152.8 455.9,152.8 457.6,152.8 459.4,152.8 461.1,152.8 462.9,152.8 464.7,152.8 466.4,152.8 468.2,152.8 469.9,152.8 471.7,152.8 473.4,152.8 475.2,152.8 476.9,152.8 478.7,152.8 480.5,152.8 482.2,152.8 484,152.8 485.7,152.8 487.5,152.8 489.2,152.8 491,152.8 492.8,152.8 494.5,152.8 496.3,152.8 498,152.8 499.8,152.8 501.5,152.8 503.3,152.8" stroke="#a5123a" stroke-width="1.4" fill="none"/>
<text x="501.5" y="30.6" font-size="6.6" fill="#2e2e2e" stroke="#2e2e2e" stroke-width="0.18" text-anchor="end" textLength="39.02" lengthAdjust="spacingAndGlyphs">Control (PRP)</text>
<text x="501.5" y="82.7" font-size="6.6" fill="#2e2e2e" stroke="#2e2e2e" stroke-width="0.18" text-anchor="end" textLength="41.47" lengthAdjust="spacingAndGlyphs">Control (blood)</text>
<text x="501.5" y="131.2" font-size="6.6" fill="#2e2e2e" stroke="#2e2e2e" stroke-width="0.18" text-anchor="end" textLength="53.67" lengthAdjust="spacingAndGlyphs">Blebbistatin (blood)</text>
<text x="501.5" y="149.6" font-size="6.6" fill="#2e2e2e" stroke="#2e2e2e" stroke-width="0.18" text-anchor="end" textLength="51.23" lengthAdjust="spacingAndGlyphs">Blebbistatin (PRP)</text>
<path d="M505 84.2H509V139.2H505" stroke="#333" stroke-width="1" fill="none"/>
<path d="M508.5 33.5H512.8V154.6H508.5" stroke="#c8284e" stroke-width="1" fill="none"/>
<text x="7.4" y="210.9" font-size="11.4" font-weight="bold" fill="#111" stroke="#111" stroke-width="0.35">C</text>
<path d="M33.5 214.8V353.5" stroke="#1a1a1a" stroke-width="1" fill="none"/>
<path d="M33.0 353.0H241.5" stroke="#1a1a1a" stroke-width="1.1" fill="none"/>
<path d="M30.5 353H33.5M30.5 322.3H33.5M30.5 291.6H33.5M30.5 261H33.5M30.5 230.3H33.5M33.5 353.0V356.0M102.4 353.0V356.0M171.3 353.0V356.0M240.2 353.0V356.0" stroke="#1a1a1a" stroke-width="0.9" fill="none"/>
<text x="27.3" y="355.6" font-size="6.6" fill="#2e2e2e" stroke="#2e2e2e" stroke-width="0.15" text-anchor="end">0</text>
<text x="27.3" y="324.9" font-size="6.6" fill="#2e2e2e" stroke="#2e2e2e" stroke-width="0.15" text-anchor="end">20</text>
<text x="27.3" y="294.2" font-size="6.6" fill="#2e2e2e" stroke="#2e2e2e" stroke-width="0.15" text-anchor="end">40</text>
<text x="27.3" y="263.6" font-size="6.6" fill="#2e2e2e" stroke="#2e2e2e" stroke-width="0.15" text-anchor="end">60</text>
<text x="27.3" y="232.9" font-size="6.6" fill="#2e2e2e" stroke="#2e2e2e" stroke-width="0.15" text-anchor="end">80</text>
<text x="33.5" y="366" font-size="6.6" fill="#2e2e2e" stroke="#2e2e2e" stroke-width="0.15" text-anchor="middle">0</text>
<text x="102.4" y="366" font-size="6.6" fill="#2e2e2e" stroke="#2e2e2e" stroke-width="0.15" text-anchor="middle">20</text>
<text x="171.3" y="366" font-size="6.6" fill="#2e2e2e" stroke="#2e2e2e" stroke-width="0.15" text-anchor="middle">40</text>
<text x="240.2" y="366" font-size="6.6" fill="#2e2e2e" stroke="#2e2e2e" stroke-width="0.15" text-anchor="middle">60</text>
<text x="138.8" y="378" font-size="8.4" font-weight="bold" fill="#2a2a2a" text-anchor="middle" textLength="25.4" lengthAdjust="spacingAndGlyphs">Time, min</text>
<text transform="translate(15.3,278.9) rotate(-90)" font-size="8.4" font-weight="bold" fill="#2a2a2a" text-anchor="middle" textLength="76" lengthAdjust="spacingAndGlyphs">Extent of clot contraction, %</text>
<polygon points="33.5,353 35.2,352.7 36.9,352.1 38.7,351.4 40.4,350.5 42.1,348.7 43.8,344.4 45.6,337.8 47.3,330.4 49,323.5 50.7,316.3 52.4,309 54.2,302.1 55.9,295.5 57.6,288.9 59.3,282.9 61.1,277.9 62.8,274 64.5,270.6 66.2,267.6 68,264.9 69.7,262.3 71.4,259.8 73.1,257.5 74.8,255.3 76.6,253.4 78.3,251.7 80,250.1 81.7,248.7 83.5,247.3 85.2,246.1 86.9,245 88.6,243.9 90.3,243 92.1,242.2 93.8,241.4 95.5,240.7 97.2,240 99,239.4 100.7,238.8 102.4,238.2 104.1,237.7 105.8,237.1 107.6,236.6 109.3,236.1 111,235.6 112.7,235.1 114.5,234.6 116.2,234.2 117.9,233.7 119.6,233.3 121.3,232.9 123.1,232.5 124.8,232.2 126.5,231.8 128.2,231.5 130,231.2 131.7,230.9 133.4,230.6 135.1,230.4 136.8,230.1 138.6,230 140.3,229.8 142,229.7 143.7,229.6 145.5,229.5 147.2,229.3 148.9,229.2 150.6,229.1 152.4,229 154.1,228.9 155.8,228.8 157.5,228.7 159.2,228.6 161,228.6 162.7,228.5 164.4,228.4 166.1,228.3 167.9,228.3 169.6,228.2 171.3,228.1 173,228.1 174.7,228 176.5,227.9 178.2,227.9 179.9,227.8 181.6,227.8 183.4,227.7 185.1,227.7 186.8,227.6 188.5,227.6 190.2,227.5 192,227.5 193.7,227.4 195.4,227.4 197.1,227.3 198.9,227.3 200.6,227.2 202.3,227.2 204,227.1 205.8,227.1 207.5,227 209.2,227 210.9,226.9 212.6,226.9 214.4,226.9 216.1,226.8 217.8,226.8 219.5,226.8 221.3,226.7 223,226.7 224.7,226.7 226.4,226.6 228.1,226.6 229.9,226.6 231.6,226.6 233.3,226.5 235,226.5 236.8,226.5 238.5,226.5 240.2,226.5 240.2,236.6 238.5,236.6 236.8,236.6 235,236.6 233.3,236.7 231.6,236.7 229.9,236.7 228.1,236.7 226.4,236.8 224.7,236.8 223,236.8 221.3,236.8 219.5,236.9 217.8,236.9 216.1,236.9 214.4,237 212.6,237 210.9,237.1 209.2,237.1 207.5,237.1 205.8,237.2 204,237.2 202.3,237.3 200.6,237.3 198.9,237.4 197.1,237.4 195.4,237.5 193.7,237.5 192,237.5 190.2,237.6 188.5,237.6 186.8,237.7 185.1,237.7 183.4,237.8 181.6,237.8 179.9,237.9 178.2,237.9 176.5,238 174.7,238.1 173,238.1 171.3,238.2 169.6,238.2 167.9,238.3 166.1,238.4 164.4,238.4 162.7,238.5 161,238.6 159.2,238.6 157.5,238.7 155.8,238.8 154.1,238.9 152.4,239 150.6,239.1 148.9,239.2 147.2,239.3 145.5,239.4 143.7,239.5 142,239.6 140.3,239.8 138.6,239.9 136.8,240.1 135.1,240.3 133.4,240.5 131.7,240.8 130,241.1 128.2,241.4 126.5,241.7 124.8,242 123.1,242.4 121.3,242.7 119.6,243.1 117.9,243.5 116.2,244 114.5,244.4 112.7,244.9 111,245.3 109.3,245.8 107.6,246.3 105.8,246.8 104.1,247.3 102.4,247.9 100.7,248.4 99,249 97.2,249.6 95.5,250.3 93.8,251 92.1,251.7 90.3,252.6 88.6,253.5 86.9,254.5 85.2,255.6 83.5,256.8 81.7,258.1 80,259.6 78.3,261.1 76.6,262.8 74.8,264.7 73.1,266.9 71.4,269.2 69.7,271.6 68,274.2 66.2,276.9 64.5,279.9 62.8,283.2 61.1,287.1 59.3,292 57.6,297.6 55.9,303.7 54.2,309.7 52.4,315.8 50.7,322.3 49,328.7 47.3,334.8 45.6,341.5 43.8,347.5 42.1,351.2 40.4,352.5 38.7,352.8 36.9,353.1 35.2,353.1 33.5,353" fill="#f8c3cf" stroke="none"/>
<path d="M33.5 353v0M35.2 352.7v0.5M36.9 352.1v1M38.7 351.4v1.5M40.4 350.5v2M42.1 348.7v2.5M43.8 344.4v3.1M45.6 337.8v3.7M47.3 330.4v4.4M49 323.5v5.2M50.7 316.3v6M52.4 309v6.8M54.2 302.1v7.5M55.9 295.5v8.2M57.6 288.9v8.7M59.3 282.9v9.1M61.1 277.9v9.2M62.8 274v9.2M64.5 270.6v9.2M66.2 267.6v9.3M68 264.9v9.3M69.7 262.3v9.3M71.4 259.8v9.3M73.1 257.5v9.4M74.8 255.3v9.4M76.6 253.4v9.4M78.3 251.7v9.4M80 250.1v9.4M81.7 248.7v9.5M83.5 247.3v9.5M85.2 246.1v9.5M86.9 245v9.5M88.6 243.9v9.5M90.3 243v9.6M92.1 242.2v9.6M93.8 241.4v9.6M95.5 240.7v9.6M97.2 240v9.6M99 239.4v9.6M100.7 238.8v9.6M102.4 238.2v9.7M104.1 237.7v9.7M105.8 237.1v9.7M107.6 236.6v9.7M109.3 236.1v9.7M111 235.6v9.7M112.7 235.1v9.7M114.5 234.6v9.8M116.2 234.2v9.8M117.9 233.7v9.8M119.6 233.3v9.8M121.3 232.9v9.8M123.1 232.5v9.8M124.8 232.2v9.8M126.5 231.8v9.8M128.2 231.5v9.9M130 231.2v9.9M131.7 230.9v9.9M133.4 230.6v9.9M135.1 230.4v9.9M136.8 230.1v9.9M138.6 230v9.9M140.3 229.8v9.9M142 229.7v9.9M143.7 229.6v9.9M145.5 229.5v9.9M147.2 229.3v10M148.9 229.2v10M150.6 229.1v10M152.4 229v10M154.1 228.9v10M155.8 228.8v10M157.5 228.7v10M159.2 228.6v10M161 228.6v10M162.7 228.5v10M164.4 228.4v10M166.1 228.3v10M167.9 228.3v10M169.6 228.2v10M171.3 228.1v10M173 228.1v10M174.7 228v10.1M176.5 227.9v10.1M178.2 227.9v10.1M179.9 227.8v10.1M181.6 227.8v10.1M183.4 227.7v10.1M185.1 227.7v10.1M186.8 227.6v10.1M188.5 227.6v10.1M190.2 227.5v10.1M192 227.5v10.1M193.7 227.4v10.1M195.4 227.4v10.1M197.1 227.3v10.1M198.9 227.3v10.1M200.6 227.2v10.1M202.3 227.2v10.1M204 227.1v10.1M205.8 227.1v10.1M207.5 227v10.1M209.2 227v10.1M210.9 226.9v10.1M212.6 226.9v10.1M214.4 226.9v10.1M216.1 226.8v10.1M217.8 226.8v10.1M219.5 226.8v10.1M221.3 226.7v10.1M223 226.7v10.1M224.7 226.7v10.1M226.4 226.6v10.1M228.1 226.6v10.1M229.9 226.6v10.1M231.6 226.6v10.1M233.3 226.5v10.1M235 226.5v10.1M236.8 226.5v10.1M238.5 226.5v10.1M240.2 226.5v10.1" stroke="#ec98ac" stroke-width="0.55" fill="none"/>
<path d="M32 353h3m-3 0h3M33.7 352.7h3m-3 0.5h3M35.4 352.1h3m-3 1h3M37.2 351.4h3m-3 1.5h3M38.9 350.5h3m-3 2h3M40.6 348.7h3m-3 2.5h3M42.3 344.4h3m-3 3.1h3M44.1 337.8h3m-3 3.7h3M45.8 330.4h3m-3 4.4h3M47.5 323.5h3m-3 5.2h3M49.2 316.3h3m-3 6h3M50.9 309h3m-3 6.8h3M52.7 302.1h3m-3 7.5h3M54.4 295.5h3m-3 8.2h3M56.1 288.9h3m-3 8.7h3M57.8 282.9h3m-3 9.1h3M59.6 277.9h3m-3 9.2h3M61.3 274h3m-3 9.2h3M63 270.6h3m-3 9.2h3M64.7 267.6h3m-3 9.3h3M66.5 264.9h3m-3 9.3h3M68.2 262.3h3m-3 9.3h3M69.9 259.8h3m-3 9.3h3M71.6 257.5h3m-3 9.4h3M73.3 255.3h3m-3 9.4h3M75.1 253.4h3m-3 9.4h3M76.8 251.7h3m-3 9.4h3M78.5 250.1h3m-3 9.4h3M80.2 248.7h3m-3 9.5h3M82 247.3h3m-3 9.5h3M83.7 246.1h3m-3 9.5h3M85.4 245h3m-3 9.5h3M87.1 243.9h3m-3 9.5h3M88.8 243h3m-3 9.6h3M90.6 242.2h3m-3 9.6h3M92.3 241.4h3m-3 9.6h3M94 240.7h3m-3 9.6h3M95.7 240h3m-3 9.6h3M97.5 239.4h3m-3 9.6h3M99.2 238.8h3m-3 9.6h3M100.9 238.2h3m-3 9.7h3M102.6 237.7h3m-3 9.7h3M104.3 237.1h3m-3 9.7h3M106.1 236.6h3m-3 9.7h3M107.8 236.1h3m-3 9.7h3M109.5 235.6h3m-3 9.7h3M111.2 235.1h3m-3 9.7h3M113 234.6h3m-3 9.8h3M114.7 234.2h3m-3 9.8h3M116.4 233.7h3m-3 9.8h3M118.1 233.3h3m-3 9.8h3M119.8 232.9h3m-3 9.8h3M121.6 232.5h3m-3 9.8h3M123.3 232.2h3m-3 9.8h3M125 231.8h3m-3 9.8h3M126.7 231.5h3m-3 9.9h3M128.5 231.2h3m-3 9.9h3M130.2 230.9h3m-3 9.9h3M131.9 230.6h3m-3 9.9h3M133.6 230.4h3m-3 9.9h3M135.3 230.1h3m-3 9.9h3M137.1 230h3m-3 9.9h3M138.8 229.8h3m-3 9.9h3M140.5 229.7h3m-3 9.9h3M142.2 229.6h3m-3 9.9h3M144 229.5h3m-3 9.9h3M145.7 229.3h3m-3 10h3M147.4 229.2h3m-3 10h3M149.1 229.1h3m-3 10h3M150.9 229h3m-3 10h3M152.6 228.9h3m-3 10h3M154.3 228.8h3m-3 10h3M156 228.7h3m-3 10h3M157.7 228.6h3m-3 10h3M159.5 228.6h3m-3 10h3M161.2 228.5h3m-3 10h3M162.9 228.4h3m-3 10h3M164.6 228.3h3m-3 10h3M166.4 228.3h3m-3 10h3M168.1 228.2h3m-3 10h3M169.8 228.1h3m-3 10h3M171.5 228.1h3m-3 10h3M173.2 228h3m-3 10.1h3M175 227.9h3m-3 10.1h3M176.7 227.9h3m-3 10.1h3M178.4 227.8h3m-3 10.1h3M180.1 227.8h3m-3 10.1h3M181.9 227.7h3m-3 10.1h3M183.6 227.7h3m-3 10.1h3M185.3 227.6h3m-3 10.1h3M187 227.6h3m-3 10.1h3M188.7 227.5h3m-3 10.1h3M190.5 227.5h3m-3 10.1h3M192.2 227.4h3m-3 10.1h3M193.9 227.4h3m-3 10.1h3M195.6 227.3h3m-3 10.1h3M197.4 227.3h3m-3 10.1h3M199.1 227.2h3m-3 10.1h3M200.8 227.2h3m-3 10.1h3M202.5 227.1h3m-3 10.1h3M204.2 227.1h3m-3 10.1h3M206 227h3m-3 10.1h3M207.7 227h3m-3 10.1h3M209.4 226.9h3m-3 10.1h3M211.1 226.9h3m-3 10.1h3M212.9 226.9h3m-3 10.1h3M214.6 226.8h3m-3 10.1h3M216.3 226.8h3m-3 10.1h3M218 226.8h3m-3 10.1h3M219.8 226.7h3m-3 10.1h3M221.5 226.7h3m-3 10.1h3M223.2 226.7h3m-3 10.1h3M224.9 226.6h3m-3 10.1h3M226.6 226.6h3m-3 10.1h3M228.4 226.6h3m-3 10.1h3M230.1 226.6h3m-3 10.1h3M231.8 226.5h3m-3 10.1h3M233.5 226.5h3m-3 10.1h3M235.3 226.5h3m-3 10.1h3M237 226.5h3m-3 10.1h3M238.7 226.5h3m-3 10.1h3" stroke="#c9607a" stroke-width="0.9" fill="none"/>
<polyline points="54.2,302.1 55.9,295.5 57.6,288.9 59.3,282.9 61.1,277.9 62.8,274 64.5,270.6 66.2,267.6 68,264.9 69.7,262.3 71.4,259.8 73.1,257.5 74.8,255.3 76.6,253.4 78.3,251.7 80,250.1 81.7,248.7 83.5,247.3 85.2,246.1 86.9,245 88.6,243.9 90.3,243 92.1,242.2 93.8,241.4 95.5,240.7 97.2,240 99,239.4 100.7,238.8 102.4,238.2 104.1,237.7 105.8,237.1 107.6,236.6 109.3,236.1 111,235.6 112.7,235.1 114.5,234.6 116.2,234.2 117.9,233.7 119.6,233.3 121.3,232.9 123.1,232.5 124.8,232.2 126.5,231.8 128.2,231.5 130,231.2 131.7,230.9 133.4,230.6 135.1,230.4 136.8,230.1 138.6,230 140.3,229.8 142,229.7 143.7,229.6 145.5,229.5 147.2,229.3 148.9,229.2 150.6,229.1 152.4,229 154.1,228.9 155.8,228.8 157.5,228.7 159.2,228.6 161,228.6 162.7,228.5 164.4,228.4 166.1,228.3 167.9,228.3 169.6,228.2 171.3,228.1 173,228.1 174.7,228 176.5,227.9 178.2,227.9 179.9,227.8 181.6,227.8 183.4,227.7 185.1,227.7 186.8,227.6 188.5,227.6 190.2,227.5 192,227.5 193.7,227.4 195.4,227.4 197.1,227.3 198.9,227.3 200.6,227.2 202.3,227.2 204,227.1 205.8,227.1 207.5,227 209.2,227 210.9,226.9 212.6,226.9 214.4,226.9 216.1,226.8 217.8,226.8 219.5,226.8 221.3,226.7 223,226.7 224.7,226.7 226.4,226.6 228.1,226.6 229.9,226.6 231.6,226.6 233.3,226.5 235,226.5 236.8,226.5 238.5,226.5 240.2,226.5" stroke="#c9607a" stroke-width="0.8" fill="none"/>
<polyline points="54.2,309.7 55.9,303.7 57.6,297.6 59.3,292 61.1,287.1 62.8,283.2 64.5,279.9 66.2,276.9 68,274.2 69.7,271.6 71.4,269.2 73.1,266.9 74.8,264.7 76.6,262.8 78.3,261.1 80,259.6 81.7,258.1 83.5,256.8 85.2,255.6 86.9,254.5 88.6,253.5 90.3,252.6 92.1,251.7 93.8,251 95.5,250.3 97.2,249.6 99,249 100.7,248.4 102.4,247.9 104.1,247.3 105.8,246.8 107.6,246.3 109.3,245.8 111,245.3 112.7,244.9 114.5,244.4 116.2,244 117.9,243.5 119.6,243.1 121.3,242.7 123.1,242.4 124.8,242 126.5,241.7 128.2,241.4 130,241.1 131.7,240.8 133.4,240.5 135.1,240.3 136.8,240.1 138.6,239.9 140.3,239.8 142,239.6 143.7,239.5 145.5,239.4 147.2,239.3 148.9,239.2 150.6,239.1 152.4,239 154.1,238.9 155.8,238.8 157.5,238.7 159.2,238.6 161,238.6 162.7,238.5 164.4,238.4 166.1,238.4 167.9,238.3 169.6,238.2 171.3,238.2 173,238.1 174.7,238.1 176.5,238 178.2,237.9 179.9,237.9 181.6,237.8 183.4,237.8 185.1,237.7 186.8,237.7 188.5,237.6 190.2,237.6 192,237.5 193.7,237.5 195.4,237.5 197.1,237.4 198.9,237.4 200.6,237.3 202.3,237.3 204,237.2 205.8,237.2 207.5,237.1 209.2,237.1 210.9,237.1 212.6,237 214.4,237 216.1,236.9 217.8,236.9 219.5,236.9 221.3,236.8 223,236.8 224.7,236.8 226.4,236.8 228.1,236.7 229.9,236.7 231.6,236.7 233.3,236.7 235,236.6 236.8,236.6 238.5,236.6 240.2,236.6" stroke="#c9607a" stroke-width="0.8" fill="none"/>
<polyline points="33.5,353 35.2,352.9 36.9,352.6 38.7,352.1 40.4,351.5 42.1,349.9 43.8,346 45.6,339.6 47.3,332.6 49,326.1 50.7,319.3 52.4,312.4 54.2,305.9 55.9,299.6 57.6,293.3 59.3,287.5 61.1,282.5 62.8,278.6 64.5,275.2 66.2,272.3 68,269.5 69.7,267 71.4,264.5 73.1,262.2 74.8,260 76.6,258.1 78.3,256.4 80,254.8 81.7,253.4 83.5,252.1 85.2,250.9 86.9,249.7 88.6,248.7 90.3,247.8 92.1,246.9 93.8,246.2 95.5,245.5 97.2,244.8 99,244.2 100.7,243.6 102.4,243 104.1,242.5 105.8,242 107.6,241.4 109.3,240.9 111,240.5 112.7,240 114.5,239.5 116.2,239.1 117.9,238.6 119.6,238.2 121.3,237.8 123.1,237.5 124.8,237.1 126.5,236.8 128.2,236.4 130,236.1 131.7,235.8 133.4,235.6 135.1,235.3 136.8,235.1 138.6,234.9 140.3,234.8 142,234.7 143.7,234.5 145.5,234.4 147.2,234.3 148.9,234.2 150.6,234.1 152.4,234 154.1,233.9 155.8,233.8 157.5,233.7 159.2,233.6 161,233.6 162.7,233.5 164.4,233.4 166.1,233.3 167.9,233.3 169.6,233.2 171.3,233.1 173,233.1 174.7,233 176.5,233 178.2,232.9 179.9,232.9 181.6,232.8 183.4,232.8 185.1,232.7 186.8,232.7 188.5,232.6 190.2,232.6 192,232.5 193.7,232.5 195.4,232.4 197.1,232.4 198.9,232.3 200.6,232.3 202.3,232.2 204,232.2 205.8,232.1 207.5,232.1 209.2,232 210.9,232 212.6,232 214.4,231.9 216.1,231.9 217.8,231.9 219.5,231.8 221.3,231.8 223,231.8 224.7,231.7 226.4,231.7 228.1,231.7 229.9,231.6 231.6,231.6 233.3,231.6 235,231.6 236.8,231.6 238.5,231.5 240.2,231.5" stroke="#a5123a" stroke-width="1.4" fill="none"/>
<polygon points="33.5,353 35.2,352.6 36.9,351.8 38.7,350.9 40.4,349.7 42.1,348.3 43.8,346.9 45.6,344.6 47.3,341.2 49,337 50.7,332.5 52.4,328.1 54.2,324.3 55.9,320.9 57.6,317.7 59.3,314.7 61.1,312.2 62.8,310.1 64.5,308.2 66.2,306.6 68,305.1 69.7,303.7 71.4,302.4 73.1,301.2 74.8,300.1 76.6,299.1 78.3,298.3 80,297.6 81.7,296.9 83.5,296.3 85.2,295.7 86.9,295.1 88.6,294.6 90.3,294 92.1,293.5 93.8,293.1 95.5,292.6 97.2,292.2 99,291.8 100.7,291.4 102.4,291 104.1,290.7 105.8,290.3 107.6,289.9 109.3,289.6 111,289.3 112.7,288.9 114.5,288.6 116.2,288.3 117.9,288 119.6,287.7 121.3,287.4 123.1,287.1 124.8,286.9 126.5,286.6 128.2,286.4 130,286.1 131.7,285.9 133.4,285.7 135.1,285.4 136.8,285.2 138.6,285 140.3,284.8 142,284.6 143.7,284.4 145.5,284.2 147.2,284.1 148.9,283.9 150.6,283.7 152.4,283.5 154.1,283.4 155.8,283.2 157.5,283.1 159.2,282.9 161,282.8 162.7,282.6 164.4,282.5 166.1,282.3 167.9,282.2 169.6,282 171.3,281.9 173,281.8 174.7,281.6 176.5,281.5 178.2,281.4 179.9,281.3 181.6,281.1 183.4,281 185.1,280.9 186.8,280.7 188.5,280.6 190.2,280.5 192,280.4 193.7,280.2 195.4,280.1 197.1,280 198.9,279.9 200.6,279.8 202.3,279.6 204,279.5 205.8,279.4 207.5,279.3 209.2,279.2 210.9,279.1 212.6,279 214.4,278.9 216.1,278.7 217.8,278.6 219.5,278.5 221.3,278.4 223,278.3 224.7,278.2 226.4,278.1 228.1,278 229.9,277.9 231.6,277.8 233.3,277.7 235,277.7 236.8,277.6 238.5,277.5 240.2,277.4 240.2,285.7 238.5,285.8 236.8,285.8 235,285.9 233.3,286 231.6,286.1 229.9,286.2 228.1,286.3 226.4,286.4 224.7,286.5 223,286.6 221.3,286.7 219.5,286.8 217.8,286.9 216.1,287 214.4,287.1 212.6,287.2 210.9,287.3 209.2,287.5 207.5,287.6 205.8,287.7 204,287.8 202.3,287.9 200.6,288 198.9,288.1 197.1,288.3 195.4,288.4 193.7,288.5 192,288.6 190.2,288.8 188.5,288.9 186.8,289 185.1,289.1 183.4,289.2 181.6,289.4 179.9,289.5 178.2,289.6 176.5,289.8 174.7,289.9 173,290 171.3,290.1 169.6,290.3 167.9,290.4 166.1,290.5 164.4,290.7 162.7,290.8 161,291 159.2,291.1 157.5,291.3 155.8,291.4 154.1,291.6 152.4,291.7 150.6,291.9 148.9,292.1 147.2,292.2 145.5,292.4 143.7,292.6 142,292.8 140.3,293 138.6,293.2 136.8,293.4 135.1,293.6 133.4,293.8 131.7,294 130,294.2 128.2,294.5 126.5,294.7 124.8,295 123.1,295.2 121.3,295.5 119.6,295.8 117.9,296.1 116.2,296.4 114.5,296.7 112.7,297 111,297.3 109.3,297.6 107.6,298 105.8,298.3 104.1,298.7 102.4,299 100.7,299.4 99,299.8 97.2,300.2 95.5,300.6 93.8,301 92.1,301.5 90.3,301.9 88.6,302.4 86.9,303 85.2,303.5 83.5,304.1 81.7,304.8 80,305.4 78.3,306.1 76.6,307 74.8,307.9 73.1,309 71.4,310.2 69.7,311.4 68,312.8 66.2,314.3 64.5,315.9 62.8,317.8 61.1,319.9 59.3,322.3 57.6,325 55.9,327.9 54.2,330.8 52.4,334.1 50.7,337.8 49,341.7 47.3,345.3 45.6,348.2 43.8,349.9 42.1,350.9 40.4,351.7 38.7,352.4 36.9,352.9 35.2,353.1 33.5,353" fill="#e6e9ed" stroke="none"/>
<path d="M33.5 353v0M35.2 352.6v0.5M36.9 351.8v1.1M38.7 350.9v1.6M40.4 349.7v2.1M42.1 348.3v2.6M43.8 346.9v3.1M45.6 344.6v3.6M47.3 341.2v4.2M49 337v4.8M50.7 332.5v5.4M52.4 328.1v6M54.2 324.3v6.5M55.9 320.9v7M57.6 317.7v7.3M59.3 314.7v7.6M61.1 312.2v7.7M62.8 310.1v7.7M64.5 308.2v7.7M66.2 306.6v7.7M68 305.1v7.7M69.7 303.7v7.7M71.4 302.4v7.8M73.1 301.2v7.8M74.8 300.1v7.8M76.6 299.1v7.8M78.3 298.3v7.8M80 297.6v7.8M81.7 296.9v7.8M83.5 296.3v7.9M85.2 295.7v7.9M86.9 295.1v7.9M88.6 294.6v7.9M90.3 294v7.9M92.1 293.5v7.9M93.8 293.1v7.9M95.5 292.6v7.9M97.2 292.2v7.9M99 291.8v8M100.7 291.4v8M102.4 291v8M104.1 290.7v8M105.8 290.3v8M107.6 289.9v8M109.3 289.6v8M111 289.3v8M112.7 288.9v8M114.5 288.6v8M116.2 288.3v8.1M117.9 288v8.1M119.6 287.7v8.1M121.3 287.4v8.1M123.1 287.1v8.1M124.8 286.9v8.1M126.5 286.6v8.1M128.2 286.4v8.1M130 286.1v8.1M131.7 285.9v8.1M133.4 285.7v8.1M135.1 285.4v8.1M136.8 285.2v8.1M138.6 285v8.1M140.3 284.8v8.2M142 284.6v8.2M143.7 284.4v8.2M145.5 284.2v8.2M147.2 284.1v8.2M148.9 283.9v8.2M150.6 283.7v8.2M152.4 283.5v8.2M154.1 283.4v8.2M155.8 283.2v8.2M157.5 283.1v8.2M159.2 282.9v8.2M161 282.8v8.2M162.7 282.6v8.2M164.4 282.5v8.2M166.1 282.3v8.2M167.9 282.2v8.2M169.6 282v8.2M171.3 281.9v8.2M173 281.8v8.2M174.7 281.6v8.2M176.5 281.5v8.2M178.2 281.4v8.2M179.9 281.3v8.2M181.6 281.1v8.2M183.4 281v8.2M185.1 280.9v8.3M186.8 280.7v8.3M188.5 280.6v8.3M190.2 280.5v8.3M192 280.4v8.3M193.7 280.2v8.3M195.4 280.1v8.3M197.1 280v8.3M198.9 279.9v8.3M200.6 279.8v8.3M202.3 279.6v8.3M204 279.5v8.3M205.8 279.4v8.3M207.5 279.3v8.3M209.2 279.2v8.3M210.9 279.1v8.3M212.6 279v8.3M214.4 278.9v8.3M216.1 278.7v8.3M217.8 278.6v8.3M219.5 278.5v8.3M221.3 278.4v8.3M223 278.3v8.3M224.7 278.2v8.3M226.4 278.1v8.3M228.1 278v8.3M229.9 277.9v8.3M231.6 277.8v8.3M233.3 277.7v8.3M235 277.7v8.3M236.8 277.6v8.3M238.5 277.5v8.3M240.2 277.4v8.3" stroke="#b2b8be" stroke-width="0.55" fill="none"/>
<path d="M32 353h3m-3 0h3M33.7 352.6h3m-3 0.5h3M35.4 351.8h3m-3 1.1h3M37.2 350.9h3m-3 1.6h3M38.9 349.7h3m-3 2.1h3M40.6 348.3h3m-3 2.6h3M42.3 346.9h3m-3 3.1h3M44.1 344.6h3m-3 3.6h3M45.8 341.2h3m-3 4.2h3M47.5 337h3m-3 4.8h3M49.2 332.5h3m-3 5.4h3M50.9 328.1h3m-3 6h3M52.7 324.3h3m-3 6.5h3M54.4 320.9h3m-3 7h3M56.1 317.7h3m-3 7.3h3M57.8 314.7h3m-3 7.6h3M59.6 312.2h3m-3 7.7h3M61.3 310.1h3m-3 7.7h3M63 308.2h3m-3 7.7h3M64.7 306.6h3m-3 7.7h3M66.5 305.1h3m-3 7.7h3M68.2 303.7h3m-3 7.7h3M69.9 302.4h3m-3 7.8h3M71.6 301.2h3m-3 7.8h3M73.3 300.1h3m-3 7.8h3M75.1 299.1h3m-3 7.8h3M76.8 298.3h3m-3 7.8h3M78.5 297.6h3m-3 7.8h3M80.2 296.9h3m-3 7.8h3M82 296.3h3m-3 7.9h3M83.7 295.7h3m-3 7.9h3M85.4 295.1h3m-3 7.9h3M87.1 294.6h3m-3 7.9h3M88.8 294h3m-3 7.9h3M90.6 293.5h3m-3 7.9h3M92.3 293.1h3m-3 7.9h3M94 292.6h3m-3 7.9h3M95.7 292.2h3m-3 7.9h3M97.5 291.8h3m-3 8h3M99.2 291.4h3m-3 8h3M100.9 291h3m-3 8h3M102.6 290.7h3m-3 8h3M104.3 290.3h3m-3 8h3M106.1 289.9h3m-3 8h3M107.8 289.6h3m-3 8h3M109.5 289.3h3m-3 8h3M111.2 288.9h3m-3 8h3M113 288.6h3m-3 8h3M114.7 288.3h3m-3 8.1h3M116.4 288h3m-3 8.1h3M118.1 287.7h3m-3 8.1h3M119.8 287.4h3m-3 8.1h3M121.6 287.1h3m-3 8.1h3M123.3 286.9h3m-3 8.1h3M125 286.6h3m-3 8.1h3M126.7 286.4h3m-3 8.1h3M128.5 286.1h3m-3 8.1h3M130.2 285.9h3m-3 8.1h3M131.9 285.7h3m-3 8.1h3M133.6 285.4h3m-3 8.1h3M135.3 285.2h3m-3 8.1h3M137.1 285h3m-3 8.1h3M138.8 284.8h3m-3 8.2h3M140.5 284.6h3m-3 8.2h3M142.2 284.4h3m-3 8.2h3M144 284.2h3m-3 8.2h3M145.7 284.1h3m-3 8.2h3M147.4 283.9h3m-3 8.2h3M149.1 283.7h3m-3 8.2h3M150.9 283.5h3m-3 8.2h3M152.6 283.4h3m-3 8.2h3M154.3 283.2h3m-3 8.2h3M156 283.1h3m-3 8.2h3M157.7 282.9h3m-3 8.2h3M159.5 282.8h3m-3 8.2h3M161.2 282.6h3m-3 8.2h3M162.9 282.5h3m-3 8.2h3M164.6 282.3h3m-3 8.2h3M166.4 282.2h3m-3 8.2h3M168.1 282h3m-3 8.2h3M169.8 281.9h3m-3 8.2h3M171.5 281.8h3m-3 8.2h3M173.2 281.6h3m-3 8.2h3M175 281.5h3m-3 8.2h3M176.7 281.4h3m-3 8.2h3M178.4 281.3h3m-3 8.2h3M180.1 281.1h3m-3 8.2h3M181.9 281h3m-3 8.2h3M183.6 280.9h3m-3 8.3h3M185.3 280.7h3m-3 8.3h3M187 280.6h3m-3 8.3h3M188.7 280.5h3m-3 8.3h3M190.5 280.4h3m-3 8.3h3M192.2 280.2h3m-3 8.3h3M193.9 280.1h3m-3 8.3h3M195.6 280h3m-3 8.3h3M197.4 279.9h3m-3 8.3h3M199.1 279.8h3m-3 8.3h3M200.8 279.6h3m-3 8.3h3M202.5 279.5h3m-3 8.3h3M204.2 279.4h3m-3 8.3h3M206 279.3h3m-3 8.3h3M207.7 279.2h3m-3 8.3h3M209.4 279.1h3m-3 8.3h3M211.1 279h3m-3 8.3h3M212.9 278.9h3m-3 8.3h3M214.6 278.7h3m-3 8.3h3M216.3 278.6h3m-3 8.3h3M218 278.5h3m-3 8.3h3M219.8 278.4h3m-3 8.3h3M221.5 278.3h3m-3 8.3h3M223.2 278.2h3m-3 8.3h3M224.9 278.1h3m-3 8.3h3M226.6 278h3m-3 8.3h3M228.4 277.9h3m-3 8.3h3M230.1 277.8h3m-3 8.3h3M231.8 277.7h3m-3 8.3h3M233.5 277.7h3m-3 8.3h3M235.3 277.6h3m-3 8.3h3M237 277.5h3m-3 8.3h3M238.7 277.4h3m-3 8.3h3" stroke="#7f878f" stroke-width="0.9" fill="none"/>
<polyline points="54.2,324.3 55.9,320.9 57.6,317.7 59.3,314.7 61.1,312.2 62.8,310.1 64.5,308.2 66.2,306.6 68,305.1 69.7,303.7 71.4,302.4 73.1,301.2 74.8,300.1 76.6,299.1 78.3,298.3 80,297.6 81.7,296.9 83.5,296.3 85.2,295.7 86.9,295.1 88.6,294.6 90.3,294 92.1,293.5 93.8,293.1 95.5,292.6 97.2,292.2 99,291.8 100.7,291.4 102.4,291 104.1,290.7 105.8,290.3 107.6,289.9 109.3,289.6 111,289.3 112.7,288.9 114.5,288.6 116.2,288.3 117.9,288 119.6,287.7 121.3,287.4 123.1,287.1 124.8,286.9 126.5,286.6 128.2,286.4 130,286.1 131.7,285.9 133.4,285.7 135.1,285.4 136.8,285.2 138.6,285 140.3,284.8 142,284.6 143.7,284.4 145.5,284.2 147.2,284.1 148.9,283.9 150.6,283.7 152.4,283.5 154.1,283.4 155.8,283.2 157.5,283.1 159.2,282.9 161,282.8 162.7,282.6 164.4,282.5 166.1,282.3 167.9,282.2 169.6,282 171.3,281.9 173,281.8 174.7,281.6 176.5,281.5 178.2,281.4 179.9,281.3 181.6,281.1 183.4,281 185.1,280.9 186.8,280.7 188.5,280.6 190.2,280.5 192,280.4 193.7,280.2 195.4,280.1 197.1,280 198.9,279.9 200.6,279.8 202.3,279.6 204,279.5 205.8,279.4 207.5,279.3 209.2,279.2 210.9,279.1 212.6,279 214.4,278.9 216.1,278.7 217.8,278.6 219.5,278.5 221.3,278.4 223,278.3 224.7,278.2 226.4,278.1 228.1,278 229.9,277.9 231.6,277.8 233.3,277.7 235,277.7 236.8,277.6 238.5,277.5 240.2,277.4" stroke="#7f878f" stroke-width="0.8" fill="none"/>
<polyline points="54.2,330.8 55.9,327.9 57.6,325 59.3,322.3 61.1,319.9 62.8,317.8 64.5,315.9 66.2,314.3 68,312.8 69.7,311.4 71.4,310.2 73.1,309 74.8,307.9 76.6,307 78.3,306.1 80,305.4 81.7,304.8 83.5,304.1 85.2,303.5 86.9,303 88.6,302.4 90.3,301.9 92.1,301.5 93.8,301 95.5,300.6 97.2,300.2 99,299.8 100.7,299.4 102.4,299 104.1,298.7 105.8,298.3 107.6,298 109.3,297.6 111,297.3 112.7,297 114.5,296.7 116.2,296.4 117.9,296.1 119.6,295.8 121.3,295.5 123.1,295.2 124.8,295 126.5,294.7 128.2,294.5 130,294.2 131.7,294 133.4,293.8 135.1,293.6 136.8,293.4 138.6,293.2 140.3,293 142,292.8 143.7,292.6 145.5,292.4 147.2,292.2 148.9,292.1 150.6,291.9 152.4,291.7 154.1,291.6 155.8,291.4 157.5,291.3 159.2,291.1 161,291 162.7,290.8 164.4,290.7 166.1,290.5 167.9,290.4 169.6,290.3 171.3,290.1 173,290 174.7,289.9 176.5,289.8 178.2,289.6 179.9,289.5 181.6,289.4 183.4,289.2 185.1,289.1 186.8,289 188.5,288.9 190.2,288.8 192,288.6 193.7,288.5 195.4,288.4 197.1,288.3 198.9,288.1 200.6,288 202.3,287.9 204,287.8 205.8,287.7 207.5,287.6 209.2,287.5 210.9,287.3 212.6,287.2 214.4,287.1 216.1,287 217.8,286.9 219.5,286.8 221.3,286.7 223,286.6 224.7,286.5 226.4,286.4 228.1,286.3 229.9,286.2 231.6,286.1 233.3,286 235,285.9 236.8,285.8 238.5,285.8 240.2,285.7" stroke="#7f878f" stroke-width="0.8" fill="none"/>
<polyline points="33.5,353 35.2,352.8 36.9,352.4 38.7,351.6 40.4,350.7 42.1,349.6 43.8,348.4 45.6,346.4 47.3,343.3 49,339.4 50.7,335.2 52.4,331.1 54.2,327.5 55.9,324.4 57.6,321.3 59.3,318.5 61.1,316 62.8,313.9 64.5,312.1 66.2,310.4 68,308.9 69.7,307.6 71.4,306.3 73.1,305.1 74.8,304 76.6,303 78.3,302.2 80,301.5 81.7,300.8 83.5,300.2 85.2,299.6 86.9,299 88.6,298.5 90.3,298 92.1,297.5 93.8,297 95.5,296.6 97.2,296.2 99,295.8 100.7,295.4 102.4,295 104.1,294.7 105.8,294.3 107.6,293.9 109.3,293.6 111,293.3 112.7,293 114.5,292.6 116.2,292.3 117.9,292 119.6,291.7 121.3,291.5 123.1,291.2 124.8,290.9 126.5,290.7 128.2,290.4 130,290.2 131.7,289.9 133.4,289.7 135.1,289.5 136.8,289.3 138.6,289.1 140.3,288.9 142,288.7 143.7,288.5 145.5,288.3 147.2,288.1 148.9,288 150.6,287.8 152.4,287.6 154.1,287.5 155.8,287.3 157.5,287.2 159.2,287 161,286.9 162.7,286.7 164.4,286.6 166.1,286.4 167.9,286.3 169.6,286.2 171.3,286 173,285.9 174.7,285.8 176.5,285.6 178.2,285.5 179.9,285.4 181.6,285.2 183.4,285.1 185.1,285 186.8,284.9 188.5,284.7 190.2,284.6 192,284.5 193.7,284.4 195.4,284.3 197.1,284.1 198.9,284 200.6,283.9 202.3,283.8 204,283.7 205.8,283.5 207.5,283.4 209.2,283.3 210.9,283.2 212.6,283.1 214.4,283 216.1,282.9 217.8,282.8 219.5,282.7 221.3,282.6 223,282.5 224.7,282.4 226.4,282.3 228.1,282.2 229.9,282.1 231.6,282 233.3,281.9 235,281.8 236.8,281.7 238.5,281.6 240.2,281.5" stroke="#36404a" stroke-width="1.4" fill="none"/>
<polygon points="33.5,353 35.2,352.3 36.9,351.6 38.7,350.9 40.4,350.2 42.1,349.6 43.8,349 45.6,348.5 47.3,348 49,347.6 50.7,347.2 52.4,346.8 54.2,346.5 55.9,346.2 57.6,345.8 59.3,345.5 61.1,345.2 62.8,344.9 64.5,344.6 66.2,344.3 68,343.9 69.7,343.6 71.4,343.3 73.1,343 74.8,342.7 76.6,342.4 78.3,342.2 80,341.9 81.7,341.6 83.5,341.3 85.2,341 86.9,340.8 88.6,340.5 90.3,340.2 92.1,340 93.8,339.7 95.5,339.4 97.2,339.1 99,338.9 100.7,338.6 102.4,338.3 104.1,338 105.8,337.8 107.6,337.5 109.3,337.2 111,336.9 112.7,336.6 114.5,336.3 116.2,336 117.9,335.7 119.6,335.5 121.3,335.2 123.1,334.9 124.8,334.6 126.5,334.3 128.2,334.1 130,333.8 131.7,333.5 133.4,333.3 135.1,333 136.8,332.8 138.6,332.5 140.3,332.3 142,332.1 143.7,331.8 145.5,331.6 147.2,331.4 148.9,331.2 150.6,330.9 152.4,330.7 154.1,330.5 155.8,330.3 157.5,330.1 159.2,329.9 161,329.7 162.7,329.5 164.4,329.3 166.1,329.1 167.9,328.9 169.6,328.7 171.3,328.5 173,328.3 174.7,328.1 176.5,327.9 178.2,327.7 179.9,327.5 181.6,327.3 183.4,327.1 185.1,326.9 186.8,326.7 188.5,326.5 190.2,326.3 192,326.1 193.7,325.9 195.4,325.7 197.1,325.5 198.9,325.3 200.6,325.1 202.3,324.9 204,324.7 205.8,324.5 207.5,324.3 209.2,324.2 210.9,324 212.6,323.8 214.4,323.6 216.1,323.4 217.8,323.2 219.5,323 221.3,322.8 223,322.6 224.7,322.4 226.4,322.3 228.1,322.1 229.9,321.9 231.6,321.7 233.3,321.5 235,321.3 236.8,321.2 238.5,321 240.2,320.8 240.2,324.8 238.5,325 236.8,325.1 235,325.3 233.3,325.5 231.6,325.7 229.9,325.9 228.1,326.1 226.4,326.2 224.7,326.4 223,326.6 221.3,326.8 219.5,327 217.8,327.2 216.1,327.4 214.4,327.6 212.6,327.7 210.9,327.9 209.2,328.1 207.5,328.3 205.8,328.5 204,328.7 202.3,328.9 200.6,329.1 198.9,329.3 197.1,329.5 195.4,329.6 193.7,329.8 192,330 190.2,330.2 188.5,330.4 186.8,330.6 185.1,330.8 183.4,331 181.6,331.2 179.9,331.4 178.2,331.6 176.5,331.8 174.7,331.9 173,332.1 171.3,332.3 169.6,332.5 167.9,332.7 166.1,332.9 164.4,333.1 162.7,333.3 161,333.5 159.2,333.7 157.5,333.9 155.8,334.1 154.1,334.3 152.4,334.5 150.6,334.7 148.9,334.9 147.2,335.1 145.5,335.3 143.7,335.5 142,335.7 140.3,336 138.6,336.2 136.8,336.4 135.1,336.6 133.4,336.9 131.7,337.1 130,337.4 128.2,337.6 126.5,337.9 124.8,338.1 123.1,338.4 121.3,338.7 119.6,338.9 117.9,339.2 116.2,339.5 114.5,339.7 112.7,340 111,340.3 109.3,340.6 107.6,340.8 105.8,341.1 104.1,341.3 102.4,341.6 100.7,341.9 99,342.1 97.2,342.4 95.5,342.6 93.8,342.9 92.1,343.1 90.3,343.4 88.6,343.6 86.9,343.9 85.2,344.1 83.5,344.4 81.7,344.6 80,344.9 78.3,345.1 76.6,345.4 74.8,345.6 73.1,345.9 71.4,346.2 69.7,346.4 68,346.7 66.2,347 64.5,347.3 62.8,347.6 61.1,347.8 59.3,348.1 57.6,348.4 55.9,348.7 54.2,349 52.4,349.3 50.7,349.6 49,350 47.3,350.3 45.6,350.5 43.8,350.8 42.1,351.1 40.4,351.4 38.7,351.8 36.9,352.2 35.2,352.6 33.5,353" fill="#e6e9ed" stroke="none"/>
<path d="M33.5 353v0M35.2 352.3v0.3M36.9 351.6v0.6M38.7 350.9v0.9M40.4 350.2v1.2M42.1 349.6v1.5M43.8 349v1.8M45.6 348.5v2M47.3 348v2.2M49 347.6v2.4M50.7 347.2v2.5M52.4 346.8v2.5M54.2 346.5v2.5M55.9 346.2v2.6M57.6 345.8v2.6M59.3 345.5v2.6M61.1 345.2v2.7M62.8 344.9v2.7M64.5 344.6v2.7M66.2 344.3v2.7M68 343.9v2.8M69.7 343.6v2.8M71.4 343.3v2.8M73.1 343v2.9M74.8 342.7v2.9M76.6 342.4v2.9M78.3 342.2v3M80 341.9v3M81.7 341.6v3M83.5 341.3v3M85.2 341v3.1M86.9 340.8v3.1M88.6 340.5v3.1M90.3 340.2v3.1M92.1 340v3.2M93.8 339.7v3.2M95.5 339.4v3.2M97.2 339.1v3.2M99 338.9v3.2M100.7 338.6v3.3M102.4 338.3v3.3M104.1 338v3.3M105.8 337.8v3.3M107.6 337.5v3.4M109.3 337.2v3.4M111 336.9v3.4M112.7 336.6v3.4M114.5 336.3v3.4M116.2 336v3.4M117.9 335.7v3.5M119.6 335.5v3.5M121.3 335.2v3.5M123.1 334.9v3.5M124.8 334.6v3.5M126.5 334.3v3.5M128.2 334.1v3.6M130 333.8v3.6M131.7 333.5v3.6M133.4 333.3v3.6M135.1 333v3.6M136.8 332.8v3.6M138.6 332.5v3.7M140.3 332.3v3.7M142 332.1v3.7M143.7 331.8v3.7M145.5 331.6v3.7M147.2 331.4v3.7M148.9 331.2v3.7M150.6 330.9v3.7M152.4 330.7v3.7M154.1 330.5v3.8M155.8 330.3v3.8M157.5 330.1v3.8M159.2 329.9v3.8M161 329.7v3.8M162.7 329.5v3.8M164.4 329.3v3.8M166.1 329.1v3.8M167.9 328.9v3.8M169.6 328.7v3.8M171.3 328.5v3.9M173 328.3v3.9M174.7 328.1v3.9M176.5 327.9v3.9M178.2 327.7v3.9M179.9 327.5v3.9M181.6 327.3v3.9M183.4 327.1v3.9M185.1 326.9v3.9M186.8 326.7v3.9M188.5 326.5v3.9M190.2 326.3v3.9M192 326.1v3.9M193.7 325.9v3.9M195.4 325.7v3.9M197.1 325.5v3.9M198.9 325.3v3.9M200.6 325.1v3.9M202.3 324.9v4M204 324.7v4M205.8 324.5v4M207.5 324.3v4M209.2 324.2v4M210.9 324v4M212.6 323.8v4M214.4 323.6v4M216.1 323.4v4M217.8 323.2v4M219.5 323v4M221.3 322.8v4M223 322.6v4M224.7 322.4v4M226.4 322.3v4M228.1 322.1v4M229.9 321.9v4M231.6 321.7v4M233.3 321.5v4M235 321.3v4M236.8 321.2v4M238.5 321v4M240.2 320.8v4" stroke="#b2b8be" stroke-width="0.55" fill="none"/>
<path d="M32 353h3m-3 0h3M33.7 352.3h3m-3 0.3h3M35.4 351.6h3m-3 0.6h3M37.2 350.9h3m-3 0.9h3M38.9 350.2h3m-3 1.2h3M40.6 349.6h3m-3 1.5h3M42.3 349h3m-3 1.8h3M44.1 348.5h3m-3 2h3M45.8 348h3m-3 2.2h3M47.5 347.6h3m-3 2.4h3M49.2 347.2h3m-3 2.5h3M50.9 346.8h3m-3 2.5h3M52.7 346.5h3m-3 2.5h3M54.4 346.2h3m-3 2.6h3M56.1 345.8h3m-3 2.6h3M57.8 345.5h3m-3 2.6h3M59.6 345.2h3m-3 2.7h3M61.3 344.9h3m-3 2.7h3M63 344.6h3m-3 2.7h3M64.7 344.3h3m-3 2.7h3M66.5 343.9h3m-3 2.8h3M68.2 343.6h3m-3 2.8h3M69.9 343.3h3m-3 2.8h3M71.6 343h3m-3 2.9h3M73.3 342.7h3m-3 2.9h3M75.1 342.4h3m-3 2.9h3M76.8 342.2h3m-3 3h3M78.5 341.9h3m-3 3h3M80.2 341.6h3m-3 3h3M82 341.3h3m-3 3h3M83.7 341h3m-3 3.1h3M85.4 340.8h3m-3 3.1h3M87.1 340.5h3m-3 3.1h3M88.8 340.2h3m-3 3.1h3M90.6 340h3m-3 3.2h3M92.3 339.7h3m-3 3.2h3M94 339.4h3m-3 3.2h3M95.7 339.1h3m-3 3.2h3M97.5 338.9h3m-3 3.2h3M99.2 338.6h3m-3 3.3h3M100.9 338.3h3m-3 3.3h3M102.6 338h3m-3 3.3h3M104.3 337.8h3m-3 3.3h3M106.1 337.5h3m-3 3.4h3M107.8 337.2h3m-3 3.4h3M109.5 336.9h3m-3 3.4h3M111.2 336.6h3m-3 3.4h3M113 336.3h3m-3 3.4h3M114.7 336h3m-3 3.4h3M116.4 335.7h3m-3 3.5h3M118.1 335.5h3m-3 3.5h3M119.8 335.2h3m-3 3.5h3M121.6 334.9h3m-3 3.5h3M123.3 334.6h3m-3 3.5h3M125 334.3h3m-3 3.5h3M126.7 334.1h3m-3 3.6h3M128.5 333.8h3m-3 3.6h3M130.2 333.5h3m-3 3.6h3M131.9 333.3h3m-3 3.6h3M133.6 333h3m-3 3.6h3M135.3 332.8h3m-3 3.6h3M137.1 332.5h3m-3 3.7h3M138.8 332.3h3m-3 3.7h3M140.5 332.1h3m-3 3.7h3M142.2 331.8h3m-3 3.7h3M144 331.6h3m-3 3.7h3M145.7 331.4h3m-3 3.7h3M147.4 331.2h3m-3 3.7h3M149.1 330.9h3m-3 3.7h3M150.9 330.7h3m-3 3.7h3M152.6 330.5h3m-3 3.8h3M154.3 330.3h3m-3 3.8h3M156 330.1h3m-3 3.8h3M157.7 329.9h3m-3 3.8h3M159.5 329.7h3m-3 3.8h3M161.2 329.5h3m-3 3.8h3M162.9 329.3h3m-3 3.8h3M164.6 329.1h3m-3 3.8h3M166.4 328.9h3m-3 3.8h3M168.1 328.7h3m-3 3.8h3M169.8 328.5h3m-3 3.9h3M171.5 328.3h3m-3 3.9h3M173.2 328.1h3m-3 3.9h3M175 327.9h3m-3 3.9h3M176.7 327.7h3m-3 3.9h3M178.4 327.5h3m-3 3.9h3M180.1 327.3h3m-3 3.9h3M181.9 327.1h3m-3 3.9h3M183.6 326.9h3m-3 3.9h3M185.3 326.7h3m-3 3.9h3M187 326.5h3m-3 3.9h3M188.7 326.3h3m-3 3.9h3M190.5 326.1h3m-3 3.9h3M192.2 325.9h3m-3 3.9h3M193.9 325.7h3m-3 3.9h3M195.6 325.5h3m-3 3.9h3M197.4 325.3h3m-3 3.9h3M199.1 325.1h3m-3 3.9h3M200.8 324.9h3m-3 4h3M202.5 324.7h3m-3 4h3M204.2 324.5h3m-3 4h3M206 324.3h3m-3 4h3M207.7 324.2h3m-3 4h3M209.4 324h3m-3 4h3M211.1 323.8h3m-3 4h3M212.9 323.6h3m-3 4h3M214.6 323.4h3m-3 4h3M216.3 323.2h3m-3 4h3M218 323h3m-3 4h3M219.8 322.8h3m-3 4h3M221.5 322.6h3m-3 4h3M223.2 322.4h3m-3 4h3M224.9 322.3h3m-3 4h3M226.6 322.1h3m-3 4h3M228.4 321.9h3m-3 4h3M230.1 321.7h3m-3 4h3M231.8 321.5h3m-3 4h3M233.5 321.3h3m-3 4h3M235.3 321.2h3m-3 4h3M237 321h3m-3 4h3M238.7 320.8h3m-3 4h3" stroke="#7f878f" stroke-width="0.9" fill="none"/>
<polyline points="54.2,346.5 55.9,346.2 57.6,345.8 59.3,345.5 61.1,345.2 62.8,344.9 64.5,344.6 66.2,344.3 68,343.9 69.7,343.6 71.4,343.3 73.1,343 74.8,342.7 76.6,342.4 78.3,342.2 80,341.9 81.7,341.6 83.5,341.3 85.2,341 86.9,340.8 88.6,340.5 90.3,340.2 92.1,340 93.8,339.7 95.5,339.4 97.2,339.1 99,338.9 100.7,338.6 102.4,338.3 104.1,338 105.8,337.8 107.6,337.5 109.3,337.2 111,336.9 112.7,336.6 114.5,336.3 116.2,336 117.9,335.7 119.6,335.5 121.3,335.2 123.1,334.9 124.8,334.6 126.5,334.3 128.2,334.1 130,333.8 131.7,333.5 133.4,333.3 135.1,333 136.8,332.8 138.6,332.5 140.3,332.3 142,332.1 143.7,331.8 145.5,331.6 147.2,331.4 148.9,331.2 150.6,330.9 152.4,330.7 154.1,330.5 155.8,330.3 157.5,330.1 159.2,329.9 161,329.7 162.7,329.5 164.4,329.3 166.1,329.1 167.9,328.9 169.6,328.7 171.3,328.5 173,328.3 174.7,328.1 176.5,327.9 178.2,327.7 179.9,327.5 181.6,327.3 183.4,327.1 185.1,326.9 186.8,326.7 188.5,326.5 190.2,326.3 192,326.1 193.7,325.9 195.4,325.7 197.1,325.5 198.9,325.3 200.6,325.1 202.3,324.9 204,324.7 205.8,324.5 207.5,324.3 209.2,324.2 210.9,324 212.6,323.8 214.4,323.6 216.1,323.4 217.8,323.2 219.5,323 221.3,322.8 223,322.6 224.7,322.4 226.4,322.3 228.1,322.1 229.9,321.9 231.6,321.7 233.3,321.5 235,321.3 236.8,321.2 238.5,321 240.2,320.8" stroke="#7f878f" stroke-width="0.8" fill="none"/>
<polyline points="54.2,349 55.9,348.7 57.6,348.4 59.3,348.1 61.1,347.8 62.8,347.6 64.5,347.3 66.2,347 68,346.7 69.7,346.4 71.4,346.2 73.1,345.9 74.8,345.6 76.6,345.4 78.3,345.1 80,344.9 81.7,344.6 83.5,344.4 85.2,344.1 86.9,343.9 88.6,343.6 90.3,343.4 92.1,343.1 93.8,342.9 95.5,342.6 97.2,342.4 99,342.1 100.7,341.9 102.4,341.6 104.1,341.3 105.8,341.1 107.6,340.8 109.3,340.6 111,340.3 112.7,340 114.5,339.7 116.2,339.5 117.9,339.2 119.6,338.9 121.3,338.7 123.1,338.4 124.8,338.1 126.5,337.9 128.2,337.6 130,337.4 131.7,337.1 133.4,336.9 135.1,336.6 136.8,336.4 138.6,336.2 140.3,336 142,335.7 143.7,335.5 145.5,335.3 147.2,335.1 148.9,334.9 150.6,334.7 152.4,334.5 154.1,334.3 155.8,334.1 157.5,333.9 159.2,333.7 161,333.5 162.7,333.3 164.4,333.1 166.1,332.9 167.9,332.7 169.6,332.5 171.3,332.3 173,332.1 174.7,331.9 176.5,331.8 178.2,331.6 179.9,331.4 181.6,331.2 183.4,331 185.1,330.8 186.8,330.6 188.5,330.4 190.2,330.2 192,330 193.7,329.8 195.4,329.6 197.1,329.5 198.9,329.3 200.6,329.1 202.3,328.9 204,328.7 205.8,328.5 207.5,328.3 209.2,328.1 210.9,327.9 212.6,327.7 214.4,327.6 216.1,327.4 217.8,327.2 219.5,327 221.3,326.8 223,326.6 224.7,326.4 226.4,326.2 228.1,326.1 229.9,325.9 231.6,325.7 233.3,325.5 235,325.3 236.8,325.1 238.5,325 240.2,324.8" stroke="#7f878f" stroke-width="0.8" fill="none"/>
<polyline points="33.5,353 35.2,352.4 36.9,351.9 38.7,351.4 40.4,350.8 42.1,350.4 43.8,349.9 45.6,349.5 47.3,349.1 49,348.8 50.7,348.4 52.4,348.1 54.2,347.8 55.9,347.4 57.6,347.1 59.3,346.8 61.1,346.5 62.8,346.2 64.5,345.9 66.2,345.6 68,345.3 69.7,345 71.4,344.7 73.1,344.5 74.8,344.2 76.6,343.9 78.3,343.6 80,343.4 81.7,343.1 83.5,342.8 85.2,342.6 86.9,342.3 88.6,342.1 90.3,341.8 92.1,341.5 93.8,341.3 95.5,341 97.2,340.8 99,340.5 100.7,340.2 102.4,340 104.1,339.7 105.8,339.4 107.6,339.1 109.3,338.9 111,338.6 112.7,338.3 114.5,338 116.2,337.8 117.9,337.5 119.6,337.2 121.3,336.9 123.1,336.6 124.8,336.4 126.5,336.1 128.2,335.8 130,335.6 131.7,335.3 133.4,335.1 135.1,334.8 136.8,334.6 138.6,334.4 140.3,334.1 142,333.9 143.7,333.7 145.5,333.5 147.2,333.2 148.9,333 150.6,332.8 152.4,332.6 154.1,332.4 155.8,332.2 157.5,332 159.2,331.8 161,331.6 162.7,331.4 164.4,331.2 166.1,331 167.9,330.8 169.6,330.6 171.3,330.4 173,330.2 174.7,330 176.5,329.8 178.2,329.6 179.9,329.4 181.6,329.2 183.4,329 185.1,328.9 186.8,328.7 188.5,328.5 190.2,328.3 192,328.1 193.7,327.9 195.4,327.7 197.1,327.5 198.9,327.3 200.6,327.1 202.3,326.9 204,326.7 205.8,326.5 207.5,326.3 209.2,326.1 210.9,325.9 212.6,325.8 214.4,325.6 216.1,325.4 217.8,325.2 219.5,325 221.3,324.8 223,324.6 224.7,324.4 226.4,324.3 228.1,324.1 229.9,323.9 231.6,323.7 233.3,323.5 235,323.3 236.8,323.1 238.5,323 240.2,322.8" stroke="#36404a" stroke-width="1.4" fill="none"/>
<polygon points="33.5,353 35.2,352.6 36.9,352.1 38.7,351.7 40.4,351.3 42.1,351 43.8,350.7 45.6,350.4 47.3,350.2 49,350 50.7,349.9 52.4,349.8 54.2,349.7 55.9,349.6 57.6,349.5 59.3,349.4 61.1,349.3 62.8,349.3 64.5,349.2 66.2,349.1 68,349.1 69.7,349 71.4,349 73.1,348.9 74.8,348.8 76.6,348.8 78.3,348.7 80,348.7 81.7,348.6 83.5,348.6 85.2,348.6 86.9,348.5 88.6,348.5 90.3,348.4 92.1,348.4 93.8,348.4 95.5,348.3 97.2,348.3 99,348.2 100.7,348.2 102.4,348.2 104.1,348.1 105.8,348.1 107.6,348.1 109.3,348 111,348 112.7,348 114.5,348 116.2,347.9 117.9,347.9 119.6,347.9 121.3,347.8 123.1,347.8 124.8,347.8 126.5,347.7 128.2,347.7 130,347.7 131.7,347.7 133.4,347.6 135.1,347.6 136.8,347.6 138.6,347.5 140.3,347.5 142,347.5 143.7,347.5 145.5,347.4 147.2,347.4 148.9,347.4 150.6,347.4 152.4,347.3 154.1,347.3 155.8,347.3 157.5,347.2 159.2,347.2 161,347.2 162.7,347.2 164.4,347.1 166.1,347.1 167.9,347.1 169.6,347.1 171.3,347 173,347 174.7,347 176.5,347 178.2,346.9 179.9,346.9 181.6,346.9 183.4,346.9 185.1,346.9 186.8,346.8 188.5,346.8 190.2,346.8 192,346.8 193.7,346.7 195.4,346.7 197.1,346.7 198.9,346.7 200.6,346.7 202.3,346.6 204,346.6 205.8,346.6 207.5,346.6 209.2,346.6 210.9,346.5 212.6,346.5 214.4,346.5 216.1,346.5 217.8,346.5 219.5,346.4 221.3,346.4 223,346.4 224.7,346.4 226.4,346.4 228.1,346.4 229.9,346.3 231.6,346.3 233.3,346.3 235,346.3 236.8,346.3 238.5,346.3 240.2,346.3 240.2,349.3 238.5,349.3 236.8,349.3 235,349.4 233.3,349.4 231.6,349.4 229.9,349.4 228.1,349.4 226.4,349.4 224.7,349.5 223,349.5 221.3,349.5 219.5,349.5 217.8,349.5 216.1,349.5 214.4,349.6 212.6,349.6 210.9,349.6 209.2,349.6 207.5,349.6 205.8,349.6 204,349.7 202.3,349.7 200.6,349.7 198.9,349.7 197.1,349.7 195.4,349.8 193.7,349.8 192,349.8 190.2,349.8 188.5,349.8 186.8,349.9 185.1,349.9 183.4,349.9 181.6,349.9 179.9,349.9 178.2,350 176.5,350 174.7,350 173,350 171.3,350 169.6,350.1 167.9,350.1 166.1,350.1 164.4,350.1 162.7,350.1 161,350.2 159.2,350.2 157.5,350.2 155.8,350.2 154.1,350.2 152.4,350.3 150.6,350.3 148.9,350.3 147.2,350.3 145.5,350.3 143.7,350.4 142,350.4 140.3,350.4 138.6,350.4 136.8,350.4 135.1,350.5 133.4,350.5 131.7,350.5 130,350.5 128.2,350.5 126.5,350.6 124.8,350.6 123.1,350.6 121.3,350.6 119.6,350.6 117.9,350.7 116.2,350.7 114.5,350.7 112.7,350.7 111,350.7 109.3,350.8 107.6,350.8 105.8,350.8 104.1,350.8 102.4,350.8 100.7,350.9 99,350.9 97.2,350.9 95.5,350.9 93.8,350.9 92.1,351 90.3,351 88.6,351 86.9,351 85.2,351.1 83.5,351.1 81.7,351.1 80,351.2 78.3,351.2 76.6,351.2 74.8,351.3 73.1,351.3 71.4,351.3 69.7,351.4 68,351.4 66.2,351.5 64.5,351.5 62.8,351.6 61.1,351.6 59.3,351.7 57.6,351.7 55.9,351.8 54.2,351.9 52.4,352 50.7,352.1 49,352.1 47.3,352.2 45.6,352.2 43.8,352.3 42.1,352.3 40.4,352.4 38.7,352.5 36.9,352.6 35.2,352.8 33.5,353" fill="#f8c3cf" stroke="none"/>
<path d="M33.5 353v0M35.2 352.6v0.2M36.9 352.1v0.5M38.7 351.7v0.8M40.4 351.3v1.1M42.1 351v1.3M43.8 350.7v1.6M45.6 350.4v1.8M47.3 350.2v2M49 350v2.1M50.7 349.9v2.1M52.4 349.8v2.2M54.2 349.7v2.2M55.9 349.6v2.2M57.6 349.5v2.2M59.3 349.4v2.3M61.1 349.3v2.3M62.8 349.3v2.3M64.5 349.2v2.3M66.2 349.1v2.3M68 349.1v2.3M69.7 349v2.4M71.4 349v2.4M73.1 348.9v2.4M74.8 348.8v2.4M76.6 348.8v2.4M78.3 348.7v2.5M80 348.7v2.5M81.7 348.6v2.5M83.5 348.6v2.5M85.2 348.6v2.5M86.9 348.5v2.5M88.6 348.5v2.5M90.3 348.4v2.6M92.1 348.4v2.6M93.8 348.4v2.6M95.5 348.3v2.6M97.2 348.3v2.6M99 348.2v2.6M100.7 348.2v2.6M102.4 348.2v2.7M104.1 348.1v2.7M105.8 348.1v2.7M107.6 348.1v2.7M109.3 348v2.7M111 348v2.7M112.7 348v2.7M114.5 348v2.7M116.2 347.9v2.8M117.9 347.9v2.8M119.6 347.9v2.8M121.3 347.8v2.8M123.1 347.8v2.8M124.8 347.8v2.8M126.5 347.7v2.8M128.2 347.7v2.8M130 347.7v2.8M131.7 347.7v2.8M133.4 347.6v2.9M135.1 347.6v2.9M136.8 347.6v2.9M138.6 347.5v2.9M140.3 347.5v2.9M142 347.5v2.9M143.7 347.5v2.9M145.5 347.4v2.9M147.2 347.4v2.9M148.9 347.4v2.9M150.6 347.4v2.9M152.4 347.3v2.9M154.1 347.3v2.9M155.8 347.3v2.9M157.5 347.2v3M159.2 347.2v3M161 347.2v3M162.7 347.2v3M164.4 347.1v3M166.1 347.1v3M167.9 347.1v3M169.6 347.1v3M171.3 347v3M173 347v3M174.7 347v3M176.5 347v3M178.2 346.9v3M179.9 346.9v3M181.6 346.9v3M183.4 346.9v3M185.1 346.9v3M186.8 346.8v3M188.5 346.8v3M190.2 346.8v3M192 346.8v3M193.7 346.7v3M195.4 346.7v3M197.1 346.7v3M198.9 346.7v3M200.6 346.7v3M202.3 346.6v3M204 346.6v3M205.8 346.6v3.1M207.5 346.6v3.1M209.2 346.6v3.1M210.9 346.5v3.1M212.6 346.5v3.1M214.4 346.5v3.1M216.1 346.5v3.1M217.8 346.5v3.1M219.5 346.4v3.1M221.3 346.4v3.1M223 346.4v3.1M224.7 346.4v3.1M226.4 346.4v3.1M228.1 346.4v3.1M229.9 346.3v3.1M231.6 346.3v3.1M233.3 346.3v3.1M235 346.3v3.1M236.8 346.3v3.1M238.5 346.3v3.1M240.2 346.3v3.1" stroke="#ec98ac" stroke-width="0.55" fill="none"/>
<path d="M32 353h3m-3 0h3M33.7 352.6h3m-3 0.2h3M35.4 352.1h3m-3 0.5h3M37.2 351.7h3m-3 0.8h3M38.9 351.3h3m-3 1.1h3M40.6 351h3m-3 1.3h3M42.3 350.7h3m-3 1.6h3M44.1 350.4h3m-3 1.8h3M45.8 350.2h3m-3 2h3M47.5 350h3m-3 2.1h3M49.2 349.9h3m-3 2.1h3M50.9 349.8h3m-3 2.2h3M52.7 349.7h3m-3 2.2h3M54.4 349.6h3m-3 2.2h3M56.1 349.5h3m-3 2.2h3M57.8 349.4h3m-3 2.3h3M59.6 349.3h3m-3 2.3h3M61.3 349.3h3m-3 2.3h3M63 349.2h3m-3 2.3h3M64.7 349.1h3m-3 2.3h3M66.5 349.1h3m-3 2.3h3M68.2 349h3m-3 2.4h3M69.9 349h3m-3 2.4h3M71.6 348.9h3m-3 2.4h3M73.3 348.8h3m-3 2.4h3M75.1 348.8h3m-3 2.4h3M76.8 348.7h3m-3 2.5h3M78.5 348.7h3m-3 2.5h3M80.2 348.6h3m-3 2.5h3M82 348.6h3m-3 2.5h3M83.7 348.6h3m-3 2.5h3M85.4 348.5h3m-3 2.5h3M87.1 348.5h3m-3 2.5h3M88.8 348.4h3m-3 2.6h3M90.6 348.4h3m-3 2.6h3M92.3 348.4h3m-3 2.6h3M94 348.3h3m-3 2.6h3M95.7 348.3h3m-3 2.6h3M97.5 348.2h3m-3 2.6h3M99.2 348.2h3m-3 2.6h3M100.9 348.2h3m-3 2.7h3M102.6 348.1h3m-3 2.7h3M104.3 348.1h3m-3 2.7h3M106.1 348.1h3m-3 2.7h3M107.8 348h3m-3 2.7h3M109.5 348h3m-3 2.7h3M111.2 348h3m-3 2.7h3M113 348h3m-3 2.7h3M114.7 347.9h3m-3 2.8h3M116.4 347.9h3m-3 2.8h3M118.1 347.9h3m-3 2.8h3M119.8 347.8h3m-3 2.8h3M121.6 347.8h3m-3 2.8h3M123.3 347.8h3m-3 2.8h3M125 347.7h3m-3 2.8h3M126.7 347.7h3m-3 2.8h3M128.5 347.7h3m-3 2.8h3M130.2 347.7h3m-3 2.8h3M131.9 347.6h3m-3 2.9h3M133.6 347.6h3m-3 2.9h3M135.3 347.6h3m-3 2.9h3M137.1 347.5h3m-3 2.9h3M138.8 347.5h3m-3 2.9h3M140.5 347.5h3m-3 2.9h3M142.2 347.5h3m-3 2.9h3M144 347.4h3m-3 2.9h3M145.7 347.4h3m-3 2.9h3M147.4 347.4h3m-3 2.9h3M149.1 347.4h3m-3 2.9h3M150.9 347.3h3m-3 2.9h3M152.6 347.3h3m-3 2.9h3M154.3 347.3h3m-3 2.9h3M156 347.2h3m-3 3h3M157.7 347.2h3m-3 3h3M159.5 347.2h3m-3 3h3M161.2 347.2h3m-3 3h3M162.9 347.1h3m-3 3h3M164.6 347.1h3m-3 3h3M166.4 347.1h3m-3 3h3M168.1 347.1h3m-3 3h3M169.8 347h3m-3 3h3M171.5 347h3m-3 3h3M173.2 347h3m-3 3h3M175 347h3m-3 3h3M176.7 346.9h3m-3 3h3M178.4 346.9h3m-3 3h3M180.1 346.9h3m-3 3h3M181.9 346.9h3m-3 3h3M183.6 346.9h3m-3 3h3M185.3 346.8h3m-3 3h3M187 346.8h3m-3 3h3M188.7 346.8h3m-3 3h3M190.5 346.8h3m-3 3h3M192.2 346.7h3m-3 3h3M193.9 346.7h3m-3 3h3M195.6 346.7h3m-3 3h3M197.4 346.7h3m-3 3h3M199.1 346.7h3m-3 3h3M200.8 346.6h3m-3 3h3M202.5 346.6h3m-3 3h3M204.2 346.6h3m-3 3.1h3M206 346.6h3m-3 3.1h3M207.7 346.6h3m-3 3.1h3M209.4 346.5h3m-3 3.1h3M211.1 346.5h3m-3 3.1h3M212.9 346.5h3m-3 3.1h3M214.6 346.5h3m-3 3.1h3M216.3 346.5h3m-3 3.1h3M218 346.4h3m-3 3.1h3M219.8 346.4h3m-3 3.1h3M221.5 346.4h3m-3 3.1h3M223.2 346.4h3m-3 3.1h3M224.9 346.4h3m-3 3.1h3M226.6 346.4h3m-3 3.1h3M228.4 346.3h3m-3 3.1h3M230.1 346.3h3m-3 3.1h3M231.8 346.3h3m-3 3.1h3M233.5 346.3h3m-3 3.1h3M235.3 346.3h3m-3 3.1h3M237 346.3h3m-3 3.1h3M238.7 346.3h3m-3 3.1h3" stroke="#c9607a" stroke-width="0.9" fill="none"/>
<polyline points="54.2,349.7 55.9,349.6 57.6,349.5 59.3,349.4 61.1,349.3 62.8,349.3 64.5,349.2 66.2,349.1 68,349.1 69.7,349 71.4,349 73.1,348.9 74.8,348.8 76.6,348.8 78.3,348.7 80,348.7 81.7,348.6 83.5,348.6 85.2,348.6 86.9,348.5 88.6,348.5 90.3,348.4 92.1,348.4 93.8,348.4 95.5,348.3 97.2,348.3 99,348.2 100.7,348.2 102.4,348.2 104.1,348.1 105.8,348.1 107.6,348.1 109.3,348 111,348 112.7,348 114.5,348 116.2,347.9 117.9,347.9 119.6,347.9 121.3,347.8 123.1,347.8 124.8,347.8 126.5,347.7 128.2,347.7 130,347.7 131.7,347.7 133.4,347.6 135.1,347.6 136.8,347.6 138.6,347.5 140.3,347.5 142,347.5 143.7,347.5 145.5,347.4 147.2,347.4 148.9,347.4 150.6,347.4 152.4,347.3 154.1,347.3 155.8,347.3 157.5,347.2 159.2,347.2 161,347.2 162.7,347.2 164.4,347.1 166.1,347.1 167.9,347.1 169.6,347.1 171.3,347 173,347 174.7,347 176.5,347 178.2,346.9 179.9,346.9 181.6,346.9 183.4,346.9 185.1,346.9 186.8,346.8 188.5,346.8 190.2,346.8 192,346.8 193.7,346.7 195.4,346.7 197.1,346.7 198.9,346.7 200.6,346.7 202.3,346.6 204,346.6 205.8,346.6 207.5,346.6 209.2,346.6 210.9,346.5 212.6,346.5 214.4,346.5 216.1,346.5 217.8,346.5 219.5,346.4 221.3,346.4 223,346.4 224.7,346.4 226.4,346.4 228.1,346.4 229.9,346.3 231.6,346.3 233.3,346.3 235,346.3 236.8,346.3 238.5,346.3 240.2,346.3" stroke="#c9607a" stroke-width="0.8" fill="none"/>
<polyline points="54.2,351.9 55.9,351.8 57.6,351.7 59.3,351.7 61.1,351.6 62.8,351.6 64.5,351.5 66.2,351.5 68,351.4 69.7,351.4 71.4,351.3 73.1,351.3 74.8,351.3 76.6,351.2 78.3,351.2 80,351.2 81.7,351.1 83.5,351.1 85.2,351.1 86.9,351 88.6,351 90.3,351 92.1,351 93.8,350.9 95.5,350.9 97.2,350.9 99,350.9 100.7,350.9 102.4,350.8 104.1,350.8 105.8,350.8 107.6,350.8 109.3,350.8 111,350.7 112.7,350.7 114.5,350.7 116.2,350.7 117.9,350.7 119.6,350.6 121.3,350.6 123.1,350.6 124.8,350.6 126.5,350.6 128.2,350.5 130,350.5 131.7,350.5 133.4,350.5 135.1,350.5 136.8,350.4 138.6,350.4 140.3,350.4 142,350.4 143.7,350.4 145.5,350.3 147.2,350.3 148.9,350.3 150.6,350.3 152.4,350.3 154.1,350.2 155.8,350.2 157.5,350.2 159.2,350.2 161,350.2 162.7,350.1 164.4,350.1 166.1,350.1 167.9,350.1 169.6,350.1 171.3,350 173,350 174.7,350 176.5,350 178.2,350 179.9,349.9 181.6,349.9 183.4,349.9 185.1,349.9 186.8,349.9 188.5,349.8 190.2,349.8 192,349.8 193.7,349.8 195.4,349.8 197.1,349.7 198.9,349.7 200.6,349.7 202.3,349.7 204,349.7 205.8,349.6 207.5,349.6 209.2,349.6 210.9,349.6 212.6,349.6 214.4,349.6 216.1,349.5 217.8,349.5 219.5,349.5 221.3,349.5 223,349.5 224.7,349.5 226.4,349.4 228.1,349.4 229.9,349.4 231.6,349.4 233.3,349.4 235,349.4 236.8,349.3 238.5,349.3 240.2,349.3" stroke="#c9607a" stroke-width="0.8" fill="none"/>
<polyline points="33.5,353 35.2,352.7 36.9,352.4 38.7,352.1 40.4,351.9 42.1,351.6 43.8,351.5 45.6,351.3 47.3,351.2 49,351.1 50.7,351 52.4,350.9 54.2,350.8 55.9,350.7 57.6,350.6 59.3,350.5 61.1,350.5 62.8,350.4 64.5,350.3 66.2,350.3 68,350.2 69.7,350.2 71.4,350.1 73.1,350.1 74.8,350.1 76.6,350 78.3,350 80,349.9 81.7,349.9 83.5,349.9 85.2,349.8 86.9,349.8 88.6,349.7 90.3,349.7 92.1,349.7 93.8,349.6 95.5,349.6 97.2,349.6 99,349.6 100.7,349.5 102.4,349.5 104.1,349.5 105.8,349.5 107.6,349.4 109.3,349.4 111,349.4 112.7,349.3 114.5,349.3 116.2,349.3 117.9,349.3 119.6,349.3 121.3,349.2 123.1,349.2 124.8,349.2 126.5,349.2 128.2,349.1 130,349.1 131.7,349.1 133.4,349.1 135.1,349 136.8,349 138.6,349 140.3,349 142,348.9 143.7,348.9 145.5,348.9 147.2,348.9 148.9,348.8 150.6,348.8 152.4,348.8 154.1,348.8 155.8,348.7 157.5,348.7 159.2,348.7 161,348.7 162.7,348.7 164.4,348.6 166.1,348.6 167.9,348.6 169.6,348.6 171.3,348.5 173,348.5 174.7,348.5 176.5,348.5 178.2,348.4 179.9,348.4 181.6,348.4 183.4,348.4 185.1,348.4 186.8,348.3 188.5,348.3 190.2,348.3 192,348.3 193.7,348.3 195.4,348.2 197.1,348.2 198.9,348.2 200.6,348.2 202.3,348.2 204,348.1 205.8,348.1 207.5,348.1 209.2,348.1 210.9,348.1 212.6,348 214.4,348 216.1,348 217.8,348 219.5,348 221.3,348 223,347.9 224.7,347.9 226.4,347.9 228.1,347.9 229.9,347.9 231.6,347.9 233.3,347.8 235,347.8 236.8,347.8 238.5,347.8 240.2,347.8" stroke="#a5123a" stroke-width="1.4" fill="none"/>
<text x="240" y="223.9" font-size="6.6" fill="#2e2e2e" stroke="#2e2e2e" stroke-width="0.18" text-anchor="end" textLength="39.02" lengthAdjust="spacingAndGlyphs">Control (PRP)</text>
<text x="240" y="275.2" font-size="6.6" fill="#2e2e2e" stroke="#2e2e2e" stroke-width="0.18" text-anchor="end" textLength="41.47" lengthAdjust="spacingAndGlyphs">Control (blood)</text>
<text x="240" y="318.4" font-size="6.6" fill="#2e2e2e" stroke="#2e2e2e" stroke-width="0.18" text-anchor="end" textLength="50.18" lengthAdjust="spacingAndGlyphs">Abciximab (blood)</text>
<text x="240" y="343.9" font-size="6.6" fill="#2e2e2e" stroke="#2e2e2e" stroke-width="0.18" text-anchor="end" textLength="47.73" lengthAdjust="spacingAndGlyphs">Abciximab (PRP)</text>
<path d="M242 276.5H245.5V324H242" stroke="#333" stroke-width="1" fill="none"/>
<path d="M243.8 226H248.8V350.3H243.8" stroke="#c8284e" stroke-width="1" fill="none"/>
<text x="266.6" y="210.9" font-size="11.4" font-weight="bold" fill="#111" stroke="#111" stroke-width="0.35">D</text>
<path d="M292.3 214.5V353.6" stroke="#1a1a1a" stroke-width="1" fill="none"/>
<path d="M291.8 353.1H504.5" stroke="#1a1a1a" stroke-width="1.1" fill="none"/>
<path d="M289.3 353.1H292.3M289.3 322.3H292.3M289.3 291.5H292.3M289.3 260.6H292.3M289.3 229.8H292.3M292.3 353.1V356.1M362.6 353.1V356.1M433 353.1V356.1M503.3 353.1V356.1" stroke="#1a1a1a" stroke-width="0.9" fill="none"/>
<text x="286.1" y="355.7" font-size="6.6" fill="#2e2e2e" stroke="#2e2e2e" stroke-width="0.15" text-anchor="end">0</text>
<text x="286.1" y="324.9" font-size="6.6" fill="#2e2e2e" stroke="#2e2e2e" stroke-width="0.15" text-anchor="end">20</text>
<text x="286.1" y="294.1" font-size="6.6" fill="#2e2e2e" stroke="#2e2e2e" stroke-width="0.15" text-anchor="end">40</text>
<text x="286.1" y="263.2" font-size="6.6" fill="#2e2e2e" stroke="#2e2e2e" stroke-width="0.15" text-anchor="end">60</text>
<text x="286.1" y="232.4" font-size="6.6" fill="#2e2e2e" stroke="#2e2e2e" stroke-width="0.15" text-anchor="end">80</text>
<text x="292.3" y="366.1" font-size="6.6" fill="#2e2e2e" stroke="#2e2e2e" stroke-width="0.15" text-anchor="middle">0</text>
<text x="362.6" y="366.1" font-size="6.6" fill="#2e2e2e" stroke="#2e2e2e" stroke-width="0.15" text-anchor="middle">20</text>
<text x="433" y="366.1" font-size="6.6" fill="#2e2e2e" stroke="#2e2e2e" stroke-width="0.15" text-anchor="middle">40</text>
<text x="503.3" y="366.1" font-size="6.6" fill="#2e2e2e" stroke="#2e2e2e" stroke-width="0.15" text-anchor="middle">60</text>
<text x="399.5" y="378" font-size="8.4" font-weight="bold" fill="#2a2a2a" text-anchor="middle" textLength="25.4" lengthAdjust="spacingAndGlyphs">Time, min</text>
<text transform="translate(274,279.5) rotate(-90)" font-size="8.4" font-weight="bold" fill="#2a2a2a" text-anchor="middle" textLength="76" lengthAdjust="spacingAndGlyphs">Extent of clot contraction, %</text>
<polygon points="292.3,353.1 294.1,352.7 295.8,352.2 297.6,351.4 299.3,350.6 301.1,348.9 302.9,345.7 304.6,339.8 306.4,332.4 308.1,325.1 309.9,317.7 311.6,309.9 313.4,302.3 315.2,295.5 316.9,289 318.7,282.9 320.4,277.5 322.2,272.9 323.9,268.8 325.7,265 327.5,261.8 329.2,259.1 331,256.8 332.7,254.6 334.5,252.6 336.3,250.9 338,249.5 339.8,248.2 341.5,247 343.3,245.9 345.1,244.8 346.8,243.8 348.6,242.9 350.3,242 352.1,241.1 353.8,240.3 355.6,239.6 357.4,238.9 359.1,238.3 360.9,237.7 362.6,237.2 364.4,236.7 366.1,236.3 367.9,235.8 369.7,235.4 371.4,235 373.2,234.6 374.9,234.3 376.7,234 378.5,233.6 380.2,233.3 382,233 383.7,232.8 385.5,232.5 387.2,232.2 389,232 390.8,231.7 392.5,231.4 394.3,231.2 396,231 397.8,230.8 399.6,230.7 401.3,230.6 403.1,230.5 404.8,230.4 406.6,230.3 408.4,230.2 410.1,230.1 411.9,230.1 413.6,230 415.4,229.9 417.1,229.9 418.9,229.8 420.7,229.8 422.4,229.7 424.2,229.7 425.9,229.6 427.7,229.6 429.5,229.5 431.2,229.5 433,229.4 434.7,229.4 436.5,229.3 438.2,229.3 440,229.3 441.8,229.2 443.5,229.2 445.3,229.1 447,229.1 448.8,229.1 450.6,229 452.3,229 454.1,228.9 455.8,228.9 457.6,228.9 459.3,228.8 461.1,228.8 462.9,228.8 464.6,228.7 466.4,228.7 468.1,228.6 469.9,228.6 471.6,228.6 473.4,228.5 475.2,228.5 476.9,228.5 478.7,228.4 480.4,228.4 482.2,228.4 484,228.4 485.7,228.3 487.5,228.3 489.2,228.3 491,228.3 492.8,228.2 494.5,228.2 496.3,228.2 498,228.2 499.8,228.1 501.5,228.1 503.3,228.1 503.3,237.4 501.5,237.4 499.8,237.4 498,237.4 496.3,237.4 494.5,237.5 492.8,237.5 491,237.5 489.2,237.5 487.5,237.6 485.7,237.6 484,237.6 482.2,237.6 480.4,237.7 478.7,237.7 476.9,237.7 475.2,237.8 473.4,237.8 471.6,237.8 469.9,237.9 468.1,237.9 466.4,237.9 464.6,238 462.9,238 461.1,238 459.3,238.1 457.6,238.1 455.8,238.2 454.1,238.2 452.3,238.2 450.6,238.3 448.8,238.3 447,238.4 445.3,238.4 443.5,238.4 441.8,238.5 440,238.5 438.2,238.5 436.5,238.6 434.7,238.6 433,238.7 431.2,238.7 429.5,238.8 427.7,238.8 425.9,238.9 424.2,238.9 422.4,239 420.7,239 418.9,239.1 417.1,239.1 415.4,239.2 413.6,239.3 411.9,239.3 410.1,239.4 408.4,239.5 406.6,239.6 404.8,239.6 403.1,239.7 401.3,239.8 399.6,239.9 397.8,240 396,240.2 394.3,240.4 392.5,240.7 390.8,240.9 389,241.2 387.2,241.5 385.5,241.7 383.7,242 382,242.3 380.2,242.6 378.5,242.9 376.7,243.2 374.9,243.5 373.2,243.9 371.4,244.3 369.7,244.7 367.9,245.1 366.1,245.5 364.4,246 362.6,246.4 360.9,247 359.1,247.5 357.4,248.2 355.6,248.8 353.8,249.6 352.1,250.4 350.3,251.2 348.6,252.1 346.8,253.1 345.1,254.1 343.3,255.1 341.5,256.3 339.8,257.5 338,258.7 336.3,260.2 334.5,261.9 332.7,263.8 331,266 329.2,268.4 327.5,271.1 325.7,274.3 323.9,278 322.2,282.1 320.4,286.7 318.7,292 316.9,297.8 315.2,303.8 313.4,309.9 311.6,316.7 309.9,323.7 308.1,330.3 306.4,336.9 304.6,343.5 302.9,348.7 301.1,351.4 299.3,352.6 297.6,352.9 295.8,353.2 294.1,353.2 292.3,353.1" fill="#f8c3cf" stroke="none"/>
<path d="M292.3 353.1v0M294.1 352.7v0.5M295.8 352.2v1M297.6 351.4v1.5M299.3 350.6v2M301.1 348.9v2.5M302.9 345.7v3.1M304.6 339.8v3.7M306.4 332.4v4.4M308.1 325.1v5.2M309.9 317.7v6.1M311.6 309.9v6.9M313.4 302.3v7.6M315.2 295.5v8.3M316.9 289v8.8M318.7 282.9v9.1M320.4 277.5v9.2M322.2 272.9v9.2M323.9 268.8v9.2M325.7 265v9.2M327.5 261.8v9.2M329.2 259.1v9.2M331 256.8v9.2M332.7 254.6v9.2M334.5 252.6v9.2M336.3 250.9v9.2M338 249.5v9.2M339.8 248.2v9.2M341.5 247v9.2M343.3 245.9v9.2M345.1 244.8v9.2M346.8 243.8v9.2M348.6 242.9v9.2M350.3 242v9.2M352.1 241.1v9.2M353.8 240.3v9.2M355.6 239.6v9.2M357.4 238.9v9.2M359.1 238.3v9.2M360.9 237.7v9.2M362.6 237.2v9.2M364.4 236.7v9.2M366.1 236.3v9.2M367.9 235.8v9.2M369.7 235.4v9.2M371.4 235v9.2M373.2 234.6v9.2M374.9 234.3v9.2M376.7 234v9.2M378.5 233.6v9.2M380.2 233.3v9.2M382 233v9.2M383.7 232.8v9.2M385.5 232.5v9.2M387.2 232.2v9.2M389 232v9.2M390.8 231.7v9.2M392.5 231.4v9.2M394.3 231.2v9.2M396 231v9.2M397.8 230.8v9.2M399.6 230.7v9.2M401.3 230.6v9.2M403.1 230.5v9.2M404.8 230.4v9.2M406.6 230.3v9.2M408.4 230.2v9.2M410.1 230.1v9.2M411.9 230.1v9.2M413.6 230v9.2M415.4 229.9v9.2M417.1 229.9v9.2M418.9 229.8v9.2M420.7 229.8v9.2M422.4 229.7v9.2M424.2 229.7v9.2M425.9 229.6v9.2M427.7 229.6v9.2M429.5 229.5v9.2M431.2 229.5v9.2M433 229.4v9.2M434.7 229.4v9.2M436.5 229.3v9.2M438.2 229.3v9.2M440 229.3v9.2M441.8 229.2v9.2M443.5 229.2v9.2M445.3 229.1v9.2M447 229.1v9.2M448.8 229.1v9.2M450.6 229v9.2M452.3 229v9.2M454.1 228.9v9.2M455.8 228.9v9.2M457.6 228.9v9.2M459.3 228.8v9.2M461.1 228.8v9.2M462.9 228.8v9.2M464.6 228.7v9.2M466.4 228.7v9.2M468.1 228.6v9.2M469.9 228.6v9.2M471.6 228.6v9.2M473.4 228.5v9.2M475.2 228.5v9.2M476.9 228.5v9.2M478.7 228.4v9.2M480.4 228.4v9.2M482.2 228.4v9.2M484 228.4v9.2M485.7 228.3v9.2M487.5 228.3v9.2M489.2 228.3v9.2M491 228.3v9.2M492.8 228.2v9.2M494.5 228.2v9.2M496.3 228.2v9.2M498 228.2v9.2M499.8 228.1v9.2M501.5 228.1v9.2M503.3 228.1v9.2" stroke="#ec98ac" stroke-width="0.55" fill="none"/>
<path d="M290.8 353.1h3m-3 0h3M292.6 352.7h3m-3 0.5h3M294.3 352.2h3m-3 1h3M296.1 351.4h3m-3 1.5h3M297.8 350.6h3m-3 2h3M299.6 348.9h3m-3 2.5h3M301.4 345.7h3m-3 3.1h3M303.1 339.8h3m-3 3.7h3M304.9 332.4h3m-3 4.4h3M306.6 325.1h3m-3 5.2h3M308.4 317.7h3m-3 6.1h3M310.1 309.9h3m-3 6.9h3M311.9 302.3h3m-3 7.6h3M313.7 295.5h3m-3 8.3h3M315.4 289h3m-3 8.8h3M317.2 282.9h3m-3 9.1h3M318.9 277.5h3m-3 9.2h3M320.7 272.9h3m-3 9.2h3M322.4 268.8h3m-3 9.2h3M324.2 265h3m-3 9.2h3M326 261.8h3m-3 9.2h3M327.7 259.1h3m-3 9.2h3M329.5 256.8h3m-3 9.2h3M331.2 254.6h3m-3 9.2h3M333 252.6h3m-3 9.2h3M334.8 250.9h3m-3 9.2h3M336.5 249.5h3m-3 9.2h3M338.3 248.2h3m-3 9.2h3M340 247h3m-3 9.2h3M341.8 245.9h3m-3 9.2h3M343.6 244.8h3m-3 9.2h3M345.3 243.8h3m-3 9.2h3M347.1 242.9h3m-3 9.2h3M348.8 242h3m-3 9.2h3M350.6 241.1h3m-3 9.2h3M352.3 240.3h3m-3 9.2h3M354.1 239.6h3m-3 9.2h3M355.9 238.9h3m-3 9.2h3M357.6 238.3h3m-3 9.2h3M359.4 237.7h3m-3 9.2h3M361.1 237.2h3m-3 9.2h3M362.9 236.7h3m-3 9.2h3M364.6 236.3h3m-3 9.2h3M366.4 235.8h3m-3 9.2h3M368.2 235.4h3m-3 9.2h3M369.9 235h3m-3 9.2h3M371.7 234.6h3m-3 9.2h3M373.4 234.3h3m-3 9.2h3M375.2 234h3m-3 9.2h3M377 233.6h3m-3 9.2h3M378.7 233.3h3m-3 9.2h3M380.5 233h3m-3 9.2h3M382.2 232.8h3m-3 9.2h3M384 232.5h3m-3 9.2h3M385.8 232.2h3m-3 9.2h3M387.5 232h3m-3 9.2h3M389.3 231.7h3m-3 9.2h3M391 231.4h3m-3 9.2h3M392.8 231.2h3m-3 9.2h3M394.5 231h3m-3 9.2h3M396.3 230.8h3m-3 9.2h3M398.1 230.7h3m-3 9.2h3M399.8 230.6h3m-3 9.2h3M401.6 230.5h3m-3 9.2h3M403.3 230.4h3m-3 9.2h3M405.1 230.3h3m-3 9.2h3M406.9 230.2h3m-3 9.2h3M408.6 230.1h3m-3 9.2h3M410.4 230.1h3m-3 9.2h3M412.1 230h3m-3 9.2h3M413.9 229.9h3m-3 9.2h3M415.6 229.9h3m-3 9.2h3M417.4 229.8h3m-3 9.2h3M419.2 229.8h3m-3 9.2h3M420.9 229.7h3m-3 9.2h3M422.7 229.7h3m-3 9.2h3M424.4 229.6h3m-3 9.2h3M426.2 229.6h3m-3 9.2h3M428 229.5h3m-3 9.2h3M429.7 229.5h3m-3 9.2h3M431.5 229.4h3m-3 9.2h3M433.2 229.4h3m-3 9.2h3M435 229.3h3m-3 9.2h3M436.7 229.3h3m-3 9.2h3M438.5 229.3h3m-3 9.2h3M440.3 229.2h3m-3 9.2h3M442 229.2h3m-3 9.2h3M443.8 229.1h3m-3 9.2h3M445.5 229.1h3m-3 9.2h3M447.3 229.1h3m-3 9.2h3M449.1 229h3m-3 9.2h3M450.8 229h3m-3 9.2h3M452.6 228.9h3m-3 9.2h3M454.3 228.9h3m-3 9.2h3M456.1 228.9h3m-3 9.2h3M457.8 228.8h3m-3 9.2h3M459.6 228.8h3m-3 9.2h3M461.4 228.8h3m-3 9.2h3M463.1 228.7h3m-3 9.2h3M464.9 228.7h3m-3 9.2h3M466.6 228.6h3m-3 9.2h3M468.4 228.6h3m-3 9.2h3M470.1 228.6h3m-3 9.2h3M471.9 228.5h3m-3 9.2h3M473.7 228.5h3m-3 9.2h3M475.4 228.5h3m-3 9.2h3M477.2 228.4h3m-3 9.2h3M478.9 228.4h3m-3 9.2h3M480.7 228.4h3m-3 9.2h3M482.5 228.4h3m-3 9.2h3M484.2 228.3h3m-3 9.2h3M486 228.3h3m-3 9.2h3M487.7 228.3h3m-3 9.2h3M489.5 228.3h3m-3 9.2h3M491.2 228.2h3m-3 9.2h3M493 228.2h3m-3 9.2h3M494.8 228.2h3m-3 9.2h3M496.5 228.2h3m-3 9.2h3M498.3 228.1h3m-3 9.2h3M500 228.1h3m-3 9.2h3M501.8 228.1h3m-3 9.2h3" stroke="#c9607a" stroke-width="0.9" fill="none"/>
<polyline points="313.4,302.3 315.2,295.5 316.9,289 318.7,282.9 320.4,277.5 322.2,272.9 323.9,268.8 325.7,265 327.5,261.8 329.2,259.1 331,256.8 332.7,254.6 334.5,252.6 336.3,250.9 338,249.5 339.8,248.2 341.5,247 343.3,245.9 345.1,244.8 346.8,243.8 348.6,242.9 350.3,242 352.1,241.1 353.8,240.3 355.6,239.6 357.4,238.9 359.1,238.3 360.9,237.7 362.6,237.2 364.4,236.7 366.1,236.3 367.9,235.8 369.7,235.4 371.4,235 373.2,234.6 374.9,234.3 376.7,234 378.5,233.6 380.2,233.3 382,233 383.7,232.8 385.5,232.5 387.2,232.2 389,232 390.8,231.7 392.5,231.4 394.3,231.2 396,231 397.8,230.8 399.6,230.7 401.3,230.6 403.1,230.5 404.8,230.4 406.6,230.3 408.4,230.2 410.1,230.1 411.9,230.1 413.6,230 415.4,229.9 417.1,229.9 418.9,229.8 420.7,229.8 422.4,229.7 424.2,229.7 425.9,229.6 427.7,229.6 429.5,229.5 431.2,229.5 433,229.4 434.7,229.4 436.5,229.3 438.2,229.3 440,229.3 441.8,229.2 443.5,229.2 445.3,229.1 447,229.1 448.8,229.1 450.6,229 452.3,229 454.1,228.9 455.8,228.9 457.6,228.9 459.3,228.8 461.1,228.8 462.9,228.8 464.6,228.7 466.4,228.7 468.1,228.6 469.9,228.6 471.6,228.6 473.4,228.5 475.2,228.5 476.9,228.5 478.7,228.4 480.4,228.4 482.2,228.4 484,228.4 485.7,228.3 487.5,228.3 489.2,228.3 491,228.3 492.8,228.2 494.5,228.2 496.3,228.2 498,228.2 499.8,228.1 501.5,228.1 503.3,228.1" stroke="#c9607a" stroke-width="0.8" fill="none"/>
<polyline points="313.4,309.9 315.2,303.8 316.9,297.8 318.7,292 320.4,286.7 322.2,282.1 323.9,278 325.7,274.3 327.5,271.1 329.2,268.4 331,266 332.7,263.8 334.5,261.9 336.3,260.2 338,258.7 339.8,257.5 341.5,256.3 343.3,255.1 345.1,254.1 346.8,253.1 348.6,252.1 350.3,251.2 352.1,250.4 353.8,249.6 355.6,248.8 357.4,248.2 359.1,247.5 360.9,247 362.6,246.4 364.4,246 366.1,245.5 367.9,245.1 369.7,244.7 371.4,244.3 373.2,243.9 374.9,243.5 376.7,243.2 378.5,242.9 380.2,242.6 382,242.3 383.7,242 385.5,241.7 387.2,241.5 389,241.2 390.8,240.9 392.5,240.7 394.3,240.4 396,240.2 397.8,240 399.6,239.9 401.3,239.8 403.1,239.7 404.8,239.6 406.6,239.6 408.4,239.5 410.1,239.4 411.9,239.3 413.6,239.3 415.4,239.2 417.1,239.1 418.9,239.1 420.7,239 422.4,239 424.2,238.9 425.9,238.9 427.7,238.8 429.5,238.8 431.2,238.7 433,238.7 434.7,238.6 436.5,238.6 438.2,238.5 440,238.5 441.8,238.5 443.5,238.4 445.3,238.4 447,238.4 448.8,238.3 450.6,238.3 452.3,238.2 454.1,238.2 455.8,238.2 457.6,238.1 459.3,238.1 461.1,238 462.9,238 464.6,238 466.4,237.9 468.1,237.9 469.9,237.9 471.6,237.8 473.4,237.8 475.2,237.8 476.9,237.7 478.7,237.7 480.4,237.7 482.2,237.6 484,237.6 485.7,237.6 487.5,237.6 489.2,237.5 491,237.5 492.8,237.5 494.5,237.5 496.3,237.4 498,237.4 499.8,237.4 501.5,237.4 503.3,237.4" stroke="#c9607a" stroke-width="0.8" fill="none"/>
<polyline points="292.3,353.1 294.1,353 295.8,352.7 297.6,352.2 299.3,351.6 301.1,350.1 302.9,347.2 304.6,341.6 306.4,334.7 308.1,327.7 309.9,320.7 311.6,313.3 313.4,306.1 315.2,299.6 316.9,293.4 318.7,287.4 320.4,282.1 322.2,277.5 323.9,273.4 325.7,269.7 327.5,266.4 329.2,263.8 331,261.4 332.7,259.2 334.5,257.3 336.3,255.6 338,254.1 339.8,252.8 341.5,251.7 343.3,250.5 345.1,249.4 346.8,248.4 348.6,247.5 350.3,246.6 352.1,245.7 353.8,245 355.6,244.2 357.4,243.5 359.1,242.9 360.9,242.3 362.6,241.8 364.4,241.3 366.1,240.9 367.9,240.4 369.7,240 371.4,239.6 373.2,239.3 374.9,238.9 376.7,238.6 378.5,238.3 380.2,238 382,237.7 383.7,237.4 385.5,237.1 387.2,236.8 389,236.6 390.8,236.3 392.5,236.1 394.3,235.8 396,235.6 397.8,235.4 399.6,235.3 401.3,235.2 403.1,235.1 404.8,235 406.6,234.9 408.4,234.9 410.1,234.8 411.9,234.7 413.6,234.6 415.4,234.6 417.1,234.5 418.9,234.4 420.7,234.4 422.4,234.3 424.2,234.3 425.9,234.2 427.7,234.2 429.5,234.1 431.2,234.1 433,234 434.7,234 436.5,234 438.2,233.9 440,233.9 441.8,233.8 443.5,233.8 445.3,233.8 447,233.7 448.8,233.7 450.6,233.7 452.3,233.6 454.1,233.6 455.8,233.5 457.6,233.5 459.3,233.5 461.1,233.4 462.9,233.4 464.6,233.3 466.4,233.3 468.1,233.3 469.9,233.2 471.6,233.2 473.4,233.2 475.2,233.1 476.9,233.1 478.7,233.1 480.4,233 482.2,233 484,233 485.7,233 487.5,232.9 489.2,232.9 491,232.9 492.8,232.9 494.5,232.8 496.3,232.8 498,232.8 499.8,232.8 501.5,232.7 503.3,232.7" stroke="#a5123a" stroke-width="1.4" fill="none"/>
<polygon points="292.3,353.1 294.1,352.7 295.8,351.9 297.6,350.9 299.3,349.8 301.1,348.4 302.9,346.9 304.6,344.7 306.4,341.2 308.1,336.9 309.9,332.2 311.6,327.5 313.4,323.3 315.2,319.8 316.9,316.3 318.7,313.1 320.4,310.4 322.2,308.4 323.9,306.7 325.7,305.1 327.5,303.6 329.2,302.2 331,301 332.7,299.9 334.5,298.9 336.3,298 338,297.3 339.8,296.6 341.5,296 343.3,295.4 345.1,294.9 346.8,294.4 348.6,294 350.3,293.5 352.1,293.1 353.8,292.8 355.6,292.4 357.4,292.1 359.1,291.7 360.9,291.4 362.6,291.1 364.4,290.7 366.1,290.4 367.9,290.1 369.7,289.9 371.4,289.6 373.2,289.3 374.9,289 376.7,288.8 378.5,288.5 380.2,288.3 382,288.1 383.7,287.8 385.5,287.6 387.2,287.4 389,287.1 390.8,286.9 392.5,286.7 394.3,286.5 396,286.3 397.8,286.1 399.6,285.9 401.3,285.6 403.1,285.4 404.8,285.2 406.6,285 408.4,284.8 410.1,284.6 411.9,284.4 413.6,284.2 415.4,284 417.1,283.8 418.9,283.6 420.7,283.4 422.4,283.2 424.2,283 425.9,282.8 427.7,282.6 429.5,282.4 431.2,282.2 433,282.1 434.7,281.9 436.5,281.7 438.2,281.6 440,281.4 441.8,281.2 443.5,281.1 445.3,280.9 447,280.8 448.8,280.6 450.6,280.5 452.3,280.4 454.1,280.3 455.8,280.1 457.6,280 459.3,279.9 461.1,279.7 462.9,279.6 464.6,279.5 466.4,279.4 468.1,279.3 469.9,279.1 471.6,279 473.4,278.9 475.2,278.8 476.9,278.7 478.7,278.6 480.4,278.5 482.2,278.4 484,278.3 485.7,278.2 487.5,278.1 489.2,278 491,277.9 492.8,277.9 494.5,277.8 496.3,277.7 498,277.6 499.8,277.6 501.5,277.5 503.3,277.4 503.3,285.4 501.5,285.5 499.8,285.6 498,285.6 496.3,285.7 494.5,285.8 492.8,285.9 491,286 489.2,286 487.5,286.1 485.7,286.2 484,286.3 482.2,286.4 480.4,286.5 478.7,286.6 476.9,286.7 475.2,286.8 473.4,286.9 471.6,287 469.9,287.2 468.1,287.3 466.4,287.4 464.6,287.5 462.9,287.6 461.1,287.8 459.3,287.9 457.6,288 455.8,288.1 454.1,288.3 452.3,288.4 450.6,288.5 448.8,288.6 447,288.8 445.3,288.9 443.5,289.1 441.8,289.2 440,289.4 438.2,289.5 436.5,289.7 434.7,289.9 433,290.1 431.2,290.2 429.5,290.4 427.7,290.6 425.9,290.8 424.2,291 422.4,291.2 420.7,291.3 418.9,291.5 417.1,291.7 415.4,291.9 413.6,292.1 411.9,292.3 410.1,292.5 408.4,292.8 406.6,293 404.8,293.2 403.1,293.4 401.3,293.6 399.6,293.8 397.8,294 396,294.2 394.3,294.4 392.5,294.6 390.8,294.9 389,295.1 387.2,295.3 385.5,295.5 383.7,295.7 382,296 380.2,296.2 378.5,296.4 376.7,296.7 374.9,296.9 373.2,297.2 371.4,297.5 369.7,297.7 367.9,298 366.1,298.3 364.4,298.6 362.6,298.9 360.9,299.2 359.1,299.6 357.4,299.9 355.6,300.2 353.8,300.6 352.1,301 350.3,301.4 348.6,301.8 346.8,302.2 345.1,302.7 343.3,303.2 341.5,303.8 339.8,304.4 338,305 336.3,305.8 334.5,306.6 332.7,307.6 331,308.7 329.2,310 327.5,311.3 325.7,312.8 323.9,314.4 322.2,316.2 320.4,318.1 318.7,320.7 316.9,323.7 315.2,326.8 313.4,329.8 311.6,333.5 309.9,337.6 308.1,341.6 306.4,345.4 304.6,348.3 302.9,350 301.1,351 299.3,351.8 297.6,352.5 295.8,353 294.1,353.2 292.3,353.1" fill="#e6e9ed" stroke="none"/>
<path d="M292.3 353.1v0M294.1 352.7v0.5M295.8 351.9v1.1M297.6 350.9v1.6M299.3 349.8v2.1M301.1 348.4v2.6M302.9 346.9v3.1M304.6 344.7v3.6M306.4 341.2v4.2M308.1 336.9v4.8M309.9 332.2v5.4M311.6 327.5v6M313.4 323.3v6.5M315.2 319.8v7M316.9 316.3v7.4M318.7 313.1v7.6M320.4 310.4v7.7M322.2 308.4v7.7M323.9 306.7v7.7M325.7 305.1v7.7M327.5 303.6v7.7M329.2 302.2v7.7M331 301v7.8M332.7 299.9v7.8M334.5 298.9v7.8M336.3 298v7.8M338 297.3v7.8M339.8 296.6v7.8M341.5 296v7.8M343.3 295.4v7.8M345.1 294.9v7.8M346.8 294.4v7.8M348.6 294v7.8M350.3 293.5v7.8M352.1 293.1v7.8M353.8 292.8v7.8M355.6 292.4v7.8M357.4 292.1v7.8M359.1 291.7v7.9M360.9 291.4v7.9M362.6 291.1v7.9M364.4 290.7v7.9M366.1 290.4v7.9M367.9 290.1v7.9M369.7 289.9v7.9M371.4 289.6v7.9M373.2 289.3v7.9M374.9 289v7.9M376.7 288.8v7.9M378.5 288.5v7.9M380.2 288.3v7.9M382 288.1v7.9M383.7 287.8v7.9M385.5 287.6v7.9M387.2 287.4v7.9M389 287.1v7.9M390.8 286.9v7.9M392.5 286.7v7.9M394.3 286.5v7.9M396 286.3v7.9M397.8 286.1v7.9M399.6 285.9v7.9M401.3 285.6v7.9M403.1 285.4v8M404.8 285.2v8M406.6 285v8M408.4 284.8v8M410.1 284.6v8M411.9 284.4v8M413.6 284.2v8M415.4 284v8M417.1 283.8v8M418.9 283.6v8M420.7 283.4v8M422.4 283.2v8M424.2 283v8M425.9 282.8v8M427.7 282.6v8M429.5 282.4v8M431.2 282.2v8M433 282.1v8M434.7 281.9v8M436.5 281.7v8M438.2 281.6v8M440 281.4v8M441.8 281.2v8M443.5 281.1v8M445.3 280.9v8M447 280.8v8M448.8 280.6v8M450.6 280.5v8M452.3 280.4v8M454.1 280.3v8M455.8 280.1v8M457.6 280v8M459.3 279.9v8M461.1 279.7v8M462.9 279.6v8M464.6 279.5v8M466.4 279.4v8M468.1 279.3v8M469.9 279.1v8M471.6 279v8M473.4 278.9v8M475.2 278.8v8M476.9 278.7v8M478.7 278.6v8M480.4 278.5v8M482.2 278.4v8M484 278.3v8M485.7 278.2v8M487.5 278.1v8M489.2 278v8M491 277.9v8M492.8 277.9v8M494.5 277.8v8M496.3 277.7v8M498 277.6v8M499.8 277.6v8M501.5 277.5v8M503.3 277.4v8" stroke="#b2b8be" stroke-width="0.55" fill="none"/>
<path d="M290.8 353.1h3m-3 0h3M292.6 352.7h3m-3 0.5h3M294.3 351.9h3m-3 1.1h3M296.1 350.9h3m-3 1.6h3M297.8 349.8h3m-3 2.1h3M299.6 348.4h3m-3 2.6h3M301.4 346.9h3m-3 3.1h3M303.1 344.7h3m-3 3.6h3M304.9 341.2h3m-3 4.2h3M306.6 336.9h3m-3 4.8h3M308.4 332.2h3m-3 5.4h3M310.1 327.5h3m-3 6h3M311.9 323.3h3m-3 6.5h3M313.7 319.8h3m-3 7h3M315.4 316.3h3m-3 7.4h3M317.2 313.1h3m-3 7.6h3M318.9 310.4h3m-3 7.7h3M320.7 308.4h3m-3 7.7h3M322.4 306.7h3m-3 7.7h3M324.2 305.1h3m-3 7.7h3M326 303.6h3m-3 7.7h3M327.7 302.2h3m-3 7.7h3M329.5 301h3m-3 7.8h3M331.2 299.9h3m-3 7.8h3M333 298.9h3m-3 7.8h3M334.8 298h3m-3 7.8h3M336.5 297.3h3m-3 7.8h3M338.3 296.6h3m-3 7.8h3M340 296h3m-3 7.8h3M341.8 295.4h3m-3 7.8h3M343.6 294.9h3m-3 7.8h3M345.3 294.4h3m-3 7.8h3M347.1 294h3m-3 7.8h3M348.8 293.5h3m-3 7.8h3M350.6 293.1h3m-3 7.8h3M352.3 292.8h3m-3 7.8h3M354.1 292.4h3m-3 7.8h3M355.9 292.1h3m-3 7.8h3M357.6 291.7h3m-3 7.9h3M359.4 291.4h3m-3 7.9h3M361.1 291.1h3m-3 7.9h3M362.9 290.7h3m-3 7.9h3M364.6 290.4h3m-3 7.9h3M366.4 290.1h3m-3 7.9h3M368.2 289.9h3m-3 7.9h3M369.9 289.6h3m-3 7.9h3M371.7 289.3h3m-3 7.9h3M373.4 289h3m-3 7.9h3M375.2 288.8h3m-3 7.9h3M377 288.5h3m-3 7.9h3M378.7 288.3h3m-3 7.9h3M380.5 288.1h3m-3 7.9h3M382.2 287.8h3m-3 7.9h3M384 287.6h3m-3 7.9h3M385.8 287.4h3m-3 7.9h3M387.5 287.1h3m-3 7.9h3M389.3 286.9h3m-3 7.9h3M391 286.7h3m-3 7.9h3M392.8 286.5h3m-3 7.9h3M394.5 286.3h3m-3 7.9h3M396.3 286.1h3m-3 7.9h3M398.1 285.9h3m-3 7.9h3M399.8 285.6h3m-3 7.9h3M401.6 285.4h3m-3 8h3M403.3 285.2h3m-3 8h3M405.1 285h3m-3 8h3M406.9 284.8h3m-3 8h3M408.6 284.6h3m-3 8h3M410.4 284.4h3m-3 8h3M412.1 284.2h3m-3 8h3M413.9 284h3m-3 8h3M415.6 283.8h3m-3 8h3M417.4 283.6h3m-3 8h3M419.2 283.4h3m-3 8h3M420.9 283.2h3m-3 8h3M422.7 283h3m-3 8h3M424.4 282.8h3m-3 8h3M426.2 282.6h3m-3 8h3M428 282.4h3m-3 8h3M429.7 282.2h3m-3 8h3M431.5 282.1h3m-3 8h3M433.2 281.9h3m-3 8h3M435 281.7h3m-3 8h3M436.7 281.6h3m-3 8h3M438.5 281.4h3m-3 8h3M440.3 281.2h3m-3 8h3M442 281.1h3m-3 8h3M443.8 280.9h3m-3 8h3M445.5 280.8h3m-3 8h3M447.3 280.6h3m-3 8h3M449.1 280.5h3m-3 8h3M450.8 280.4h3m-3 8h3M452.6 280.3h3m-3 8h3M454.3 280.1h3m-3 8h3M456.1 280h3m-3 8h3M457.8 279.9h3m-3 8h3M459.6 279.7h3m-3 8h3M461.4 279.6h3m-3 8h3M463.1 279.5h3m-3 8h3M464.9 279.4h3m-3 8h3M466.6 279.3h3m-3 8h3M468.4 279.1h3m-3 8h3M470.1 279h3m-3 8h3M471.9 278.9h3m-3 8h3M473.7 278.8h3m-3 8h3M475.4 278.7h3m-3 8h3M477.2 278.6h3m-3 8h3M478.9 278.5h3m-3 8h3M480.7 278.4h3m-3 8h3M482.5 278.3h3m-3 8h3M484.2 278.2h3m-3 8h3M486 278.1h3m-3 8h3M487.7 278h3m-3 8h3M489.5 277.9h3m-3 8h3M491.2 277.9h3m-3 8h3M493 277.8h3m-3 8h3M494.8 277.7h3m-3 8h3M496.5 277.6h3m-3 8h3M498.3 277.6h3m-3 8h3M500 277.5h3m-3 8h3M501.8 277.4h3m-3 8h3" stroke="#7f878f" stroke-width="0.9" fill="none"/>
<polyline points="313.4,323.3 315.2,319.8 316.9,316.3 318.7,313.1 320.4,310.4 322.2,308.4 323.9,306.7 325.7,305.1 327.5,303.6 329.2,302.2 331,301 332.7,299.9 334.5,298.9 336.3,298 338,297.3 339.8,296.6 341.5,296 343.3,295.4 345.1,294.9 346.8,294.4 348.6,294 350.3,293.5 352.1,293.1 353.8,292.8 355.6,292.4 357.4,292.1 359.1,291.7 360.9,291.4 362.6,291.1 364.4,290.7 366.1,290.4 367.9,290.1 369.7,289.9 371.4,289.6 373.2,289.3 374.9,289 376.7,288.8 378.5,288.5 380.2,288.3 382,288.1 383.7,287.8 385.5,287.6 387.2,287.4 389,287.1 390.8,286.9 392.5,286.7 394.3,286.5 396,286.3 397.8,286.1 399.6,285.9 401.3,285.6 403.1,285.4 404.8,285.2 406.6,285 408.4,284.8 410.1,284.6 411.9,284.4 413.6,284.2 415.4,284 417.1,283.8 418.9,283.6 420.7,283.4 422.4,283.2 424.2,283 425.9,282.8 427.7,282.6 429.5,282.4 431.2,282.2 433,282.1 434.7,281.9 436.5,281.7 438.2,281.6 440,281.4 441.8,281.2 443.5,281.1 445.3,280.9 447,280.8 448.8,280.6 450.6,280.5 452.3,280.4 454.1,280.3 455.8,280.1 457.6,280 459.3,279.9 461.1,279.7 462.9,279.6 464.6,279.5 466.4,279.4 468.1,279.3 469.9,279.1 471.6,279 473.4,278.9 475.2,278.8 476.9,278.7 478.7,278.6 480.4,278.5 482.2,278.4 484,278.3 485.7,278.2 487.5,278.1 489.2,278 491,277.9 492.8,277.9 494.5,277.8 496.3,277.7 498,277.6 499.8,277.6 501.5,277.5 503.3,277.4" stroke="#7f878f" stroke-width="0.8" fill="none"/>
<polyline points="313.4,329.8 315.2,326.8 316.9,323.7 318.7,320.7 320.4,318.1 322.2,316.2 323.9,314.4 325.7,312.8 327.5,311.3 329.2,310 331,308.7 332.7,307.6 334.5,306.6 336.3,305.8 338,305 339.8,304.4 341.5,303.8 343.3,303.2 345.1,302.7 346.8,302.2 348.6,301.8 350.3,301.4 352.1,301 353.8,300.6 355.6,300.2 357.4,299.9 359.1,299.6 360.9,299.2 362.6,298.9 364.4,298.6 366.1,298.3 367.9,298 369.7,297.7 371.4,297.5 373.2,297.2 374.9,296.9 376.7,296.7 378.5,296.4 380.2,296.2 382,296 383.7,295.7 385.5,295.5 387.2,295.3 389,295.1 390.8,294.9 392.5,294.6 394.3,294.4 396,294.2 397.8,294 399.6,293.8 401.3,293.6 403.1,293.4 404.8,293.2 406.6,293 408.4,292.8 410.1,292.5 411.9,292.3 413.6,292.1 415.4,291.9 417.1,291.7 418.9,291.5 420.7,291.3 422.4,291.2 424.2,291 425.9,290.8 427.7,290.6 429.5,290.4 431.2,290.2 433,290.1 434.7,289.9 436.5,289.7 438.2,289.5 440,289.4 441.8,289.2 443.5,289.1 445.3,288.9 447,288.8 448.8,288.6 450.6,288.5 452.3,288.4 454.1,288.3 455.8,288.1 457.6,288 459.3,287.9 461.1,287.8 462.9,287.6 464.6,287.5 466.4,287.4 468.1,287.3 469.9,287.2 471.6,287 473.4,286.9 475.2,286.8 476.9,286.7 478.7,286.6 480.4,286.5 482.2,286.4 484,286.3 485.7,286.2 487.5,286.1 489.2,286 491,286 492.8,285.9 494.5,285.8 496.3,285.7 498,285.6 499.8,285.6 501.5,285.5 503.3,285.4" stroke="#7f878f" stroke-width="0.8" fill="none"/>
<polyline points="292.3,353.1 294.1,352.9 295.8,352.5 297.6,351.7 299.3,350.8 301.1,349.7 302.9,348.5 304.6,346.5 306.4,343.3 308.1,339.3 309.9,334.9 311.6,330.5 313.4,326.6 315.2,323.3 316.9,320 318.7,316.9 320.4,314.3 322.2,312.3 323.9,310.6 325.7,309 327.5,307.5 329.2,306.1 331,304.9 332.7,303.8 334.5,302.8 336.3,301.9 338,301.1 339.8,300.5 341.5,299.9 343.3,299.3 345.1,298.8 346.8,298.3 348.6,297.9 350.3,297.4 352.1,297 353.8,296.7 355.6,296.3 357.4,296 359.1,295.6 360.9,295.3 362.6,295 364.4,294.7 366.1,294.4 367.9,294.1 369.7,293.8 371.4,293.5 373.2,293.2 374.9,293 376.7,292.7 378.5,292.5 380.2,292.2 382,292 383.7,291.8 385.5,291.5 387.2,291.3 389,291.1 390.8,290.9 392.5,290.7 394.3,290.5 396,290.2 397.8,290 399.6,289.8 401.3,289.6 403.1,289.4 404.8,289.2 406.6,289 408.4,288.8 410.1,288.6 411.9,288.4 413.6,288.2 415.4,288 417.1,287.8 418.9,287.6 420.7,287.4 422.4,287.2 424.2,287 425.9,286.8 427.7,286.6 429.5,286.4 431.2,286.2 433,286.1 434.7,285.9 436.5,285.7 438.2,285.6 440,285.4 441.8,285.2 443.5,285.1 445.3,284.9 447,284.8 448.8,284.6 450.6,284.5 452.3,284.4 454.1,284.3 455.8,284.1 457.6,284 459.3,283.9 461.1,283.7 462.9,283.6 464.6,283.5 466.4,283.4 468.1,283.3 469.9,283.2 471.6,283 473.4,282.9 475.2,282.8 476.9,282.7 478.7,282.6 480.4,282.5 482.2,282.4 484,282.3 485.7,282.2 487.5,282.1 489.2,282 491,281.9 492.8,281.9 494.5,281.8 496.3,281.7 498,281.6 499.8,281.6 501.5,281.5 503.3,281.4" stroke="#36404a" stroke-width="1.4" fill="none"/>
<polygon points="292.3,353.1 294.1,352.9 295.8,352.6 297.6,352.3 299.3,352.1 301.1,351.8 302.9,351.6 304.6,351.3 306.4,351.1 308.1,350.8 309.9,350.6 311.6,350.4 313.4,350.1 315.2,349.9 316.9,349.7 318.7,349.4 320.4,349.2 322.2,348.9 323.9,348.7 325.7,348.4 327.5,348.2 329.2,347.9 331,347.7 332.7,347.4 334.5,347.1 336.3,346.9 338,346.6 339.8,346.3 341.5,346.1 343.3,345.8 345.1,345.5 346.8,345.3 348.6,345 350.3,344.7 352.1,344.5 353.8,344.2 355.6,343.9 357.4,343.6 359.1,343.4 360.9,343.1 362.6,342.8 364.4,342.5 366.1,342.2 367.9,341.9 369.7,341.6 371.4,341.3 373.2,341 374.9,340.7 376.7,340.4 378.5,340.1 380.2,339.8 382,339.5 383.7,339.1 385.5,338.8 387.2,338.4 389,338 390.8,337.7 392.5,337.3 394.3,336.9 396,336.6 397.8,336.2 399.6,335.8 401.3,335.5 403.1,335.1 404.8,334.8 406.6,334.4 408.4,334.1 410.1,333.8 411.9,333.4 413.6,333.1 415.4,332.7 417.1,332.4 418.9,332.1 420.7,331.7 422.4,331.4 424.2,331.1 425.9,330.7 427.7,330.4 429.5,330.1 431.2,329.7 433,329.4 434.7,329.1 436.5,328.8 438.2,328.4 440,328.1 441.8,327.8 443.5,327.5 445.3,327.2 447,326.9 448.8,326.6 450.6,326.2 452.3,325.9 454.1,325.6 455.8,325.3 457.6,325 459.3,324.7 461.1,324.4 462.9,324.1 464.6,323.8 466.4,323.5 468.1,323.2 469.9,322.9 471.6,322.6 473.4,322.3 475.2,322 476.9,321.7 478.7,321.4 480.4,321.1 482.2,320.9 484,320.6 485.7,320.3 487.5,320 489.2,319.7 491,319.4 492.8,319.2 494.5,318.9 496.3,318.6 498,318.3 499.8,318 501.5,317.8 503.3,317.5 503.3,325.5 501.5,325.7 499.8,326 498,326.2 496.3,326.4 494.5,326.7 492.8,326.9 491,327.1 489.2,327.4 487.5,327.6 485.7,327.8 484,328.1 482.2,328.3 480.4,328.5 478.7,328.8 476.9,329 475.2,329.3 473.4,329.5 471.6,329.8 469.9,330 468.1,330.3 466.4,330.5 464.6,330.8 462.9,331 461.1,331.3 459.3,331.5 457.6,331.8 455.8,332 454.1,332.3 452.3,332.5 450.6,332.8 448.8,333.1 447,333.3 445.3,333.6 443.5,333.8 441.8,334.1 440,334.4 438.2,334.6 436.5,334.9 434.7,335.2 433,335.4 431.2,335.7 429.5,336 427.7,336.3 425.9,336.5 424.2,336.8 422.4,337.1 420.7,337.4 418.9,337.7 417.1,337.9 415.4,338.2 413.6,338.5 411.9,338.8 410.1,339.1 408.4,339.4 406.6,339.6 404.8,339.9 403.1,340.2 401.3,340.5 399.6,340.8 397.8,341.1 396,341.4 394.3,341.8 392.5,342.1 390.8,342.4 389,342.7 387.2,343 385.5,343.3 383.7,343.6 382,343.9 380.2,344.2 378.5,344.5 376.7,344.7 374.9,345 373.2,345.3 371.4,345.5 369.7,345.8 367.9,346 366.1,346.3 364.4,346.5 362.6,346.7 360.9,347 359.1,347.2 357.4,347.4 355.6,347.7 353.8,347.9 352.1,348.1 350.3,348.3 348.6,348.5 346.8,348.7 345.1,349 343.3,349.2 341.5,349.4 339.8,349.6 338,349.8 336.3,350 334.5,350.2 332.7,350.4 331,350.6 329.2,350.8 327.5,350.9 325.7,351.1 323.9,351.3 322.2,351.4 320.4,351.6 318.7,351.8 316.9,351.9 315.2,352 313.4,352.2 311.6,352.3 309.9,352.4 308.1,352.6 306.4,352.7 304.6,352.7 302.9,352.8 301.1,352.9 299.3,352.9 297.6,353 295.8,353 294.1,353.1 292.3,353.1" fill="#e6e9ed" stroke="none"/>
<path d="M292.3 353.1v0M294.1 352.9v0.2M295.8 352.6v0.4M297.6 352.3v0.6M299.3 352.1v0.8M301.1 351.8v1.1M302.9 351.6v1.2M304.6 351.3v1.4M306.4 351.1v1.6M308.1 350.8v1.7M309.9 350.6v1.8M311.6 350.4v2M313.4 350.1v2.1M315.2 349.9v2.1M316.9 349.7v2.2M318.7 349.4v2.3M320.4 349.2v2.4M322.2 348.9v2.5M323.9 348.7v2.6M325.7 348.4v2.7M327.5 348.2v2.7M329.2 347.9v2.8M331 347.7v2.9M332.7 347.4v3M334.5 347.1v3M336.3 346.9v3.1M338 346.6v3.2M339.8 346.3v3.2M341.5 346.1v3.3M343.3 345.8v3.4M345.1 345.5v3.4M346.8 345.3v3.5M348.6 345v3.5M350.3 344.7v3.6M352.1 344.5v3.6M353.8 344.2v3.7M355.6 343.9v3.7M357.4 343.6v3.8M359.1 343.4v3.8M360.9 343.1v3.9M362.6 342.8v3.9M364.4 342.5v4M366.1 342.2v4M367.9 341.9v4.1M369.7 341.6v4.1M371.4 341.3v4.2M373.2 341v4.2M374.9 340.7v4.3M376.7 340.4v4.3M378.5 340.1v4.4M380.2 339.8v4.4M382 339.5v4.5M383.7 339.1v4.5M385.5 338.8v4.6M387.2 338.4v4.6M389 338v4.7M390.8 337.7v4.7M392.5 337.3v4.8M394.3 336.9v4.8M396 336.6v4.9M397.8 336.2v4.9M399.6 335.8v5M401.3 335.5v5M403.1 335.1v5.1M404.8 334.8v5.2M406.6 334.4v5.2M408.4 334.1v5.3M410.1 333.8v5.3M411.9 333.4v5.4M413.6 333.1v5.4M415.4 332.7v5.5M417.1 332.4v5.5M418.9 332.1v5.6M420.7 331.7v5.7M422.4 331.4v5.7M424.2 331.1v5.8M425.9 330.7v5.8M427.7 330.4v5.9M429.5 330.1v5.9M431.2 329.7v6M433 329.4v6M434.7 329.1v6.1M436.5 328.8v6.1M438.2 328.4v6.2M440 328.1v6.2M441.8 327.8v6.3M443.5 327.5v6.3M445.3 327.2v6.4M447 326.9v6.4M448.8 326.6v6.5M450.6 326.2v6.6M452.3 325.9v6.6M454.1 325.6v6.7M455.8 325.3v6.7M457.6 325v6.8M459.3 324.7v6.8M461.1 324.4v6.9M462.9 324.1v6.9M464.6 323.8v7M466.4 323.5v7M468.1 323.2v7.1M469.9 322.9v7.1M471.6 322.6v7.2M473.4 322.3v7.2M475.2 322v7.3M476.9 321.7v7.3M478.7 321.4v7.4M480.4 321.1v7.4M482.2 320.9v7.5M484 320.6v7.5M485.7 320.3v7.5M487.5 320v7.6M489.2 319.7v7.6M491 319.4v7.7M492.8 319.2v7.7M494.5 318.9v7.8M496.3 318.6v7.8M498 318.3v7.9M499.8 318v7.9M501.5 317.8v8M503.3 317.5v8" stroke="#b2b8be" stroke-width="0.55" fill="none"/>
<path d="M290.8 353.1h3m-3 0h3M292.6 352.9h3m-3 0.2h3M294.3 352.6h3m-3 0.4h3M296.1 352.3h3m-3 0.6h3M297.8 352.1h3m-3 0.8h3M299.6 351.8h3m-3 1.1h3M301.4 351.6h3m-3 1.2h3M303.1 351.3h3m-3 1.4h3M304.9 351.1h3m-3 1.6h3M306.6 350.8h3m-3 1.7h3M308.4 350.6h3m-3 1.8h3M310.1 350.4h3m-3 2h3M311.9 350.1h3m-3 2.1h3M313.7 349.9h3m-3 2.1h3M315.4 349.7h3m-3 2.2h3M317.2 349.4h3m-3 2.3h3M318.9 349.2h3m-3 2.4h3M320.7 348.9h3m-3 2.5h3M322.4 348.7h3m-3 2.6h3M324.2 348.4h3m-3 2.7h3M326 348.2h3m-3 2.7h3M327.7 347.9h3m-3 2.8h3M329.5 347.7h3m-3 2.9h3M331.2 347.4h3m-3 3h3M333 347.1h3m-3 3h3M334.8 346.9h3m-3 3.1h3M336.5 346.6h3m-3 3.2h3M338.3 346.3h3m-3 3.2h3M340 346.1h3m-3 3.3h3M341.8 345.8h3m-3 3.4h3M343.6 345.5h3m-3 3.4h3M345.3 345.3h3m-3 3.5h3M347.1 345h3m-3 3.5h3M348.8 344.7h3m-3 3.6h3M350.6 344.5h3m-3 3.6h3M352.3 344.2h3m-3 3.7h3M354.1 343.9h3m-3 3.7h3M355.9 343.6h3m-3 3.8h3M357.6 343.4h3m-3 3.8h3M359.4 343.1h3m-3 3.9h3M361.1 342.8h3m-3 3.9h3M362.9 342.5h3m-3 4h3M364.6 342.2h3m-3 4h3M366.4 341.9h3m-3 4.1h3M368.2 341.6h3m-3 4.1h3M369.9 341.3h3m-3 4.2h3M371.7 341h3m-3 4.2h3M373.4 340.7h3m-3 4.3h3M375.2 340.4h3m-3 4.3h3M377 340.1h3m-3 4.4h3M378.7 339.8h3m-3 4.4h3M380.5 339.5h3m-3 4.5h3M382.2 339.1h3m-3 4.5h3M384 338.8h3m-3 4.6h3M385.8 338.4h3m-3 4.6h3M387.5 338h3m-3 4.7h3M389.3 337.7h3m-3 4.7h3M391 337.3h3m-3 4.8h3M392.8 336.9h3m-3 4.8h3M394.5 336.6h3m-3 4.9h3M396.3 336.2h3m-3 4.9h3M398.1 335.8h3m-3 5h3M399.8 335.5h3m-3 5h3M401.6 335.1h3m-3 5.1h3M403.3 334.8h3m-3 5.2h3M405.1 334.4h3m-3 5.2h3M406.9 334.1h3m-3 5.3h3M408.6 333.8h3m-3 5.3h3M410.4 333.4h3m-3 5.4h3M412.1 333.1h3m-3 5.4h3M413.9 332.7h3m-3 5.5h3M415.6 332.4h3m-3 5.5h3M417.4 332.1h3m-3 5.6h3M419.2 331.7h3m-3 5.7h3M420.9 331.4h3m-3 5.7h3M422.7 331.1h3m-3 5.8h3M424.4 330.7h3m-3 5.8h3M426.2 330.4h3m-3 5.9h3M428 330.1h3m-3 5.9h3M429.7 329.7h3m-3 6h3M431.5 329.4h3m-3 6h3M433.2 329.1h3m-3 6.1h3M435 328.8h3m-3 6.1h3M436.7 328.4h3m-3 6.2h3M438.5 328.1h3m-3 6.2h3M440.3 327.8h3m-3 6.3h3M442 327.5h3m-3 6.3h3M443.8 327.2h3m-3 6.4h3M445.5 326.9h3m-3 6.4h3M447.3 326.6h3m-3 6.5h3M449.1 326.2h3m-3 6.6h3M450.8 325.9h3m-3 6.6h3M452.6 325.6h3m-3 6.7h3M454.3 325.3h3m-3 6.7h3M456.1 325h3m-3 6.8h3M457.8 324.7h3m-3 6.8h3M459.6 324.4h3m-3 6.9h3M461.4 324.1h3m-3 6.9h3M463.1 323.8h3m-3 7h3M464.9 323.5h3m-3 7h3M466.6 323.2h3m-3 7.1h3M468.4 322.9h3m-3 7.1h3M470.1 322.6h3m-3 7.2h3M471.9 322.3h3m-3 7.2h3M473.7 322h3m-3 7.3h3M475.4 321.7h3m-3 7.3h3M477.2 321.4h3m-3 7.4h3M478.9 321.1h3m-3 7.4h3M480.7 320.9h3m-3 7.5h3M482.5 320.6h3m-3 7.5h3M484.2 320.3h3m-3 7.5h3M486 320h3m-3 7.6h3M487.7 319.7h3m-3 7.6h3M489.5 319.4h3m-3 7.7h3M491.2 319.2h3m-3 7.7h3M493 318.9h3m-3 7.8h3M494.8 318.6h3m-3 7.8h3M496.5 318.3h3m-3 7.9h3M498.3 318h3m-3 7.9h3M500 317.8h3m-3 8h3M501.8 317.5h3m-3 8h3" stroke="#7f878f" stroke-width="0.9" fill="none"/>
<polyline points="313.4,350.1 315.2,349.9 316.9,349.7 318.7,349.4 320.4,349.2 322.2,348.9 323.9,348.7 325.7,348.4 327.5,348.2 329.2,347.9 331,347.7 332.7,347.4 334.5,347.1 336.3,346.9 338,346.6 339.8,346.3 341.5,346.1 343.3,345.8 345.1,345.5 346.8,345.3 348.6,345 350.3,344.7 352.1,344.5 353.8,344.2 355.6,343.9 357.4,343.6 359.1,343.4 360.9,343.1 362.6,342.8 364.4,342.5 366.1,342.2 367.9,341.9 369.7,341.6 371.4,341.3 373.2,341 374.9,340.7 376.7,340.4 378.5,340.1 380.2,339.8 382,339.5 383.7,339.1 385.5,338.8 387.2,338.4 389,338 390.8,337.7 392.5,337.3 394.3,336.9 396,336.6 397.8,336.2 399.6,335.8 401.3,335.5 403.1,335.1 404.8,334.8 406.6,334.4 408.4,334.1 410.1,333.8 411.9,333.4 413.6,333.1 415.4,332.7 417.1,332.4 418.9,332.1 420.7,331.7 422.4,331.4 424.2,331.1 425.9,330.7 427.7,330.4 429.5,330.1 431.2,329.7 433,329.4 434.7,329.1 436.5,328.8 438.2,328.4 440,328.1 441.8,327.8 443.5,327.5 445.3,327.2 447,326.9 448.8,326.6 450.6,326.2 452.3,325.9 454.1,325.6 455.8,325.3 457.6,325 459.3,324.7 461.1,324.4 462.9,324.1 464.6,323.8 466.4,323.5 468.1,323.2 469.9,322.9 471.6,322.6 473.4,322.3 475.2,322 476.9,321.7 478.7,321.4 480.4,321.1 482.2,320.9 484,320.6 485.7,320.3 487.5,320 489.2,319.7 491,319.4 492.8,319.2 494.5,318.9 496.3,318.6 498,318.3 499.8,318 501.5,317.8 503.3,317.5" stroke="#7f878f" stroke-width="0.8" fill="none"/>
<polyline points="313.4,352.2 315.2,352 316.9,351.9 318.7,351.8 320.4,351.6 322.2,351.4 323.9,351.3 325.7,351.1 327.5,350.9 329.2,350.8 331,350.6 332.7,350.4 334.5,350.2 336.3,350 338,349.8 339.8,349.6 341.5,349.4 343.3,349.2 345.1,349 346.8,348.7 348.6,348.5 350.3,348.3 352.1,348.1 353.8,347.9 355.6,347.7 357.4,347.4 359.1,347.2 360.9,347 362.6,346.7 364.4,346.5 366.1,346.3 367.9,346 369.7,345.8 371.4,345.5 373.2,345.3 374.9,345 376.7,344.7 378.5,344.5 380.2,344.2 382,343.9 383.7,343.6 385.5,343.3 387.2,343 389,342.7 390.8,342.4 392.5,342.1 394.3,341.8 396,341.4 397.8,341.1 399.6,340.8 401.3,340.5 403.1,340.2 404.8,339.9 406.6,339.6 408.4,339.4 410.1,339.1 411.9,338.8 413.6,338.5 415.4,338.2 417.1,337.9 418.9,337.7 420.7,337.4 422.4,337.1 424.2,336.8 425.9,336.5 427.7,336.3 429.5,336 431.2,335.7 433,335.4 434.7,335.2 436.5,334.9 438.2,334.6 440,334.4 441.8,334.1 443.5,333.8 445.3,333.6 447,333.3 448.8,333.1 450.6,332.8 452.3,332.5 454.1,332.3 455.8,332 457.6,331.8 459.3,331.5 461.1,331.3 462.9,331 464.6,330.8 466.4,330.5 468.1,330.3 469.9,330 471.6,329.8 473.4,329.5 475.2,329.3 476.9,329 478.7,328.8 480.4,328.5 482.2,328.3 484,328.1 485.7,327.8 487.5,327.6 489.2,327.4 491,327.1 492.8,326.9 494.5,326.7 496.3,326.4 498,326.2 499.8,326 501.5,325.7 503.3,325.5" stroke="#7f878f" stroke-width="0.8" fill="none"/>
<polyline points="292.3,353.1 294.1,353 295.8,352.8 297.6,352.7 299.3,352.5 301.1,352.4 302.9,352.2 304.6,352 306.4,351.9 308.1,351.7 309.9,351.5 311.6,351.3 313.4,351.2 315.2,351 316.9,350.8 318.7,350.6 320.4,350.4 322.2,350.2 323.9,350 325.7,349.8 327.5,349.6 329.2,349.3 331,349.1 332.7,348.9 334.5,348.7 336.3,348.4 338,348.2 339.8,348 341.5,347.7 343.3,347.5 345.1,347.2 346.8,347 348.6,346.8 350.3,346.5 352.1,346.3 353.8,346 355.6,345.8 357.4,345.5 359.1,345.3 360.9,345 362.6,344.8 364.4,344.5 366.1,344.2 367.9,344 369.7,343.7 371.4,343.4 373.2,343.2 374.9,342.9 376.7,342.6 378.5,342.3 380.2,342 382,341.7 383.7,341.4 385.5,341.1 387.2,340.7 389,340.4 390.8,340 392.5,339.7 394.3,339.3 396,339 397.8,338.7 399.6,338.3 401.3,338 403.1,337.7 404.8,337.4 406.6,337 408.4,336.7 410.1,336.4 411.9,336.1 413.6,335.8 415.4,335.5 417.1,335.2 418.9,334.9 420.7,334.5 422.4,334.2 424.2,333.9 425.9,333.6 427.7,333.3 429.5,333 431.2,332.7 433,332.4 434.7,332.1 436.5,331.8 438.2,331.5 440,331.2 441.8,331 443.5,330.7 445.3,330.4 447,330.1 448.8,329.8 450.6,329.5 452.3,329.2 454.1,329 455.8,328.7 457.6,328.4 459.3,328.1 461.1,327.8 462.9,327.6 464.6,327.3 466.4,327 468.1,326.7 469.9,326.5 471.6,326.2 473.4,325.9 475.2,325.6 476.9,325.4 478.7,325.1 480.4,324.8 482.2,324.6 484,324.3 485.7,324.1 487.5,323.8 489.2,323.5 491,323.3 492.8,323 494.5,322.8 496.3,322.5 498,322.3 499.8,322 501.5,321.8 503.3,321.5" stroke="#36404a" stroke-width="1.4" fill="none"/>
<polygon points="292.3,353.1 294.1,352.9 295.8,352.7 297.6,352.6 299.3,352.4 301.1,352.2 302.9,352 304.6,351.8 306.4,351.7 308.1,351.5 309.9,351.3 311.6,351.2 313.4,351 315.2,350.8 316.9,350.7 318.7,350.5 320.4,350.3 322.2,350.2 323.9,350 325.7,349.8 327.5,349.7 329.2,349.5 331,349.3 332.7,349.2 334.5,349 336.3,348.8 338,348.6 339.8,348.5 341.5,348.3 343.3,348.1 345.1,347.9 346.8,347.7 348.6,347.5 350.3,347.3 352.1,347.1 353.8,346.8 355.6,346.6 357.4,346.4 359.1,346.2 360.9,345.9 362.6,345.7 364.4,345.4 366.1,345.2 367.9,344.9 369.7,344.7 371.4,344.4 373.2,344.2 374.9,343.9 376.7,343.7 378.5,343.4 380.2,343.1 382,342.9 383.7,342.6 385.5,342.3 387.2,341.9 389,341.6 390.8,341.3 392.5,341 394.3,340.7 396,340.4 397.8,340.1 399.6,339.8 401.3,339.6 403.1,339.4 404.8,339.2 406.6,339.1 408.4,338.9 410.1,338.7 411.9,338.5 413.6,338.4 415.4,338.2 417.1,338.1 418.9,337.9 420.7,337.8 422.4,337.6 424.2,337.5 425.9,337.3 427.7,337.2 429.5,337.1 431.2,337 433,336.8 434.7,336.7 436.5,336.6 438.2,336.5 440,336.4 441.8,336.2 443.5,336.1 445.3,336 447,335.9 448.8,335.8 450.6,335.7 452.3,335.6 454.1,335.5 455.8,335.4 457.6,335.2 459.3,335.1 461.1,335 462.9,334.9 464.6,334.8 466.4,334.7 468.1,334.6 469.9,334.5 471.6,334.4 473.4,334.4 475.2,334.3 476.9,334.2 478.7,334.1 480.4,334 482.2,333.9 484,333.8 485.7,333.8 487.5,333.7 489.2,333.6 491,333.5 492.8,333.4 494.5,333.4 496.3,333.3 498,333.2 499.8,333.2 501.5,333.1 503.3,333.1 503.3,342.9 501.5,343 499.8,343 498,343 496.3,343.1 494.5,343.1 492.8,343.1 491,343.2 489.2,343.2 487.5,343.3 485.7,343.3 484,343.3 482.2,343.4 480.4,343.4 478.7,343.5 476.9,343.5 475.2,343.6 473.4,343.6 471.6,343.7 469.9,343.7 468.1,343.8 466.4,343.8 464.6,343.9 462.9,343.9 461.1,344 459.3,344 457.6,344.1 455.8,344.2 454.1,344.2 452.3,344.3 450.6,344.3 448.8,344.4 447,344.4 445.3,344.5 443.5,344.5 441.8,344.6 440,344.7 438.2,344.7 436.5,344.8 434.7,344.8 433,344.9 431.2,345 429.5,345 427.7,345.1 425.9,345.2 424.2,345.3 422.4,345.3 420.7,345.4 418.9,345.5 417.1,345.6 415.4,345.7 413.6,345.8 411.9,345.9 410.1,346 408.4,346.1 406.6,346.2 404.8,346.3 403.1,346.4 401.3,346.5 399.6,346.7 397.8,346.9 396,347.1 394.3,347.3 392.5,347.5 390.8,347.8 389,348 387.2,348.3 385.5,348.5 383.7,348.8 382,349 380.2,349.2 378.5,349.4 376.7,349.6 374.9,349.7 373.2,349.9 371.4,350.1 369.7,350.3 367.9,350.4 366.1,350.6 364.4,350.7 362.6,350.9 360.9,351 359.1,351.2 357.4,351.3 355.6,351.5 353.8,351.6 352.1,351.7 350.3,351.8 348.6,351.9 346.8,352 345.1,352.1 343.3,352.2 341.5,352.3 339.8,352.4 338,352.5 336.3,352.5 334.5,352.6 332.7,352.7 331,352.7 329.2,352.8 327.5,352.8 325.7,352.9 323.9,352.9 322.2,352.9 320.4,353 318.7,353 316.9,353.1 315.2,353.1 313.4,353.1 311.6,353.2 309.9,353.2 308.1,353.2 306.4,353.2 304.6,353.2 302.9,353.2 301.1,353.2 299.3,353.2 297.6,353.2 295.8,353.1 294.1,353.1 292.3,353.1" fill="#f8c3cf" stroke="none"/>
<path d="M292.3 353.1v0M294.1 352.9v0.2M295.8 352.7v0.4M297.6 352.6v0.6M299.3 352.4v0.8M301.1 352.2v1M302.9 352v1.2M304.6 351.8v1.4M306.4 351.7v1.5M308.1 351.5v1.7M309.9 351.3v1.8M311.6 351.2v2M313.4 351v2.1M315.2 350.8v2.3M316.9 350.7v2.4M318.7 350.5v2.5M320.4 350.3v2.6M322.2 350.2v2.8M323.9 350v2.9M325.7 349.8v3M327.5 349.7v3.1M329.2 349.5v3.3M331 349.3v3.4M332.7 349.2v3.5M334.5 349v3.6M336.3 348.8v3.7M338 348.6v3.8M339.8 348.5v3.9M341.5 348.3v4M343.3 348.1v4.1M345.1 347.9v4.3M346.8 347.7v4.4M348.6 347.5v4.5M350.3 347.3v4.6M352.1 347.1v4.7M353.8 346.8v4.8M355.6 346.6v4.8M357.4 346.4v4.9M359.1 346.2v5M360.9 345.9v5.1M362.6 345.7v5.2M364.4 345.4v5.3M366.1 345.2v5.4M367.9 344.9v5.5M369.7 344.7v5.6M371.4 344.4v5.6M373.2 344.2v5.7M374.9 343.9v5.8M376.7 343.7v5.9M378.5 343.4v6M380.2 343.1v6.1M382 342.9v6.1M383.7 342.6v6.2M385.5 342.3v6.3M387.2 341.9v6.4M389 341.6v6.4M390.8 341.3v6.5M392.5 341v6.6M394.3 340.7v6.6M396 340.4v6.7M397.8 340.1v6.8M399.6 339.8v6.8M401.3 339.6v6.9M403.1 339.4v7M404.8 339.2v7.1M406.6 339.1v7.1M408.4 338.9v7.2M410.1 338.7v7.3M411.9 338.5v7.3M413.6 338.4v7.4M415.4 338.2v7.4M417.1 338.1v7.5M418.9 337.9v7.6M420.7 337.8v7.6M422.4 337.6v7.7M424.2 337.5v7.8M425.9 337.3v7.8M427.7 337.2v7.9M429.5 337.1v8M431.2 337v8M433 336.8v8.1M434.7 336.7v8.1M436.5 336.6v8.2M438.2 336.5v8.3M440 336.4v8.3M441.8 336.2v8.4M443.5 336.1v8.4M445.3 336v8.5M447 335.9v8.5M448.8 335.8v8.6M450.6 335.7v8.6M452.3 335.6v8.7M454.1 335.5v8.7M455.8 335.4v8.8M457.6 335.2v8.9M459.3 335.1v8.9M461.1 335v9M462.9 334.9v9M464.6 334.8v9M466.4 334.7v9.1M468.1 334.6v9.1M469.9 334.5v9.2M471.6 334.4v9.2M473.4 334.4v9.3M475.2 334.3v9.3M476.9 334.2v9.4M478.7 334.1v9.4M480.4 334v9.4M482.2 333.9v9.5M484 333.8v9.5M485.7 333.8v9.6M487.5 333.7v9.6M489.2 333.6v9.6M491 333.5v9.7M492.8 333.4v9.7M494.5 333.4v9.7M496.3 333.3v9.8M498 333.2v9.8M499.8 333.2v9.8M501.5 333.1v9.8M503.3 333.1v9.9" stroke="#ec98ac" stroke-width="0.55" fill="none"/>
<path d="M290.8 353.1h3m-3 0h3M292.6 352.9h3m-3 0.2h3M294.3 352.7h3m-3 0.4h3M296.1 352.6h3m-3 0.6h3M297.8 352.4h3m-3 0.8h3M299.6 352.2h3m-3 1h3M301.4 352h3m-3 1.2h3M303.1 351.8h3m-3 1.4h3M304.9 351.7h3m-3 1.5h3M306.6 351.5h3m-3 1.7h3M308.4 351.3h3m-3 1.8h3M310.1 351.2h3m-3 2h3M311.9 351h3m-3 2.1h3M313.7 350.8h3m-3 2.3h3M315.4 350.7h3m-3 2.4h3M317.2 350.5h3m-3 2.5h3M318.9 350.3h3m-3 2.6h3M320.7 350.2h3m-3 2.8h3M322.4 350h3m-3 2.9h3M324.2 349.8h3m-3 3h3M326 349.7h3m-3 3.1h3M327.7 349.5h3m-3 3.3h3M329.5 349.3h3m-3 3.4h3M331.2 349.2h3m-3 3.5h3M333 349h3m-3 3.6h3M334.8 348.8h3m-3 3.7h3M336.5 348.6h3m-3 3.8h3M338.3 348.5h3m-3 3.9h3M340 348.3h3m-3 4h3M341.8 348.1h3m-3 4.1h3M343.6 347.9h3m-3 4.3h3M345.3 347.7h3m-3 4.4h3M347.1 347.5h3m-3 4.5h3M348.8 347.3h3m-3 4.6h3M350.6 347.1h3m-3 4.7h3M352.3 346.8h3m-3 4.8h3M354.1 346.6h3m-3 4.8h3M355.9 346.4h3m-3 4.9h3M357.6 346.2h3m-3 5h3M359.4 345.9h3m-3 5.1h3M361.1 345.7h3m-3 5.2h3M362.9 345.4h3m-3 5.3h3M364.6 345.2h3m-3 5.4h3M366.4 344.9h3m-3 5.5h3M368.2 344.7h3m-3 5.6h3M369.9 344.4h3m-3 5.6h3M371.7 344.2h3m-3 5.7h3M373.4 343.9h3m-3 5.8h3M375.2 343.7h3m-3 5.9h3M377 343.4h3m-3 6h3M378.7 343.1h3m-3 6.1h3M380.5 342.9h3m-3 6.1h3M382.2 342.6h3m-3 6.2h3M384 342.3h3m-3 6.3h3M385.8 341.9h3m-3 6.4h3M387.5 341.6h3m-3 6.4h3M389.3 341.3h3m-3 6.5h3M391 341h3m-3 6.6h3M392.8 340.7h3m-3 6.6h3M394.5 340.4h3m-3 6.7h3M396.3 340.1h3m-3 6.8h3M398.1 339.8h3m-3 6.8h3M399.8 339.6h3m-3 6.9h3M401.6 339.4h3m-3 7h3M403.3 339.2h3m-3 7.1h3M405.1 339.1h3m-3 7.1h3M406.9 338.9h3m-3 7.2h3M408.6 338.7h3m-3 7.3h3M410.4 338.5h3m-3 7.3h3M412.1 338.4h3m-3 7.4h3M413.9 338.2h3m-3 7.4h3M415.6 338.1h3m-3 7.5h3M417.4 337.9h3m-3 7.6h3M419.2 337.8h3m-3 7.6h3M420.9 337.6h3m-3 7.7h3M422.7 337.5h3m-3 7.8h3M424.4 337.3h3m-3 7.8h3M426.2 337.2h3m-3 7.9h3M428 337.1h3m-3 8h3M429.7 337h3m-3 8h3M431.5 336.8h3m-3 8.1h3M433.2 336.7h3m-3 8.1h3M435 336.6h3m-3 8.2h3M436.7 336.5h3m-3 8.3h3M438.5 336.4h3m-3 8.3h3M440.3 336.2h3m-3 8.4h3M442 336.1h3m-3 8.4h3M443.8 336h3m-3 8.5h3M445.5 335.9h3m-3 8.5h3M447.3 335.8h3m-3 8.6h3M449.1 335.7h3m-3 8.6h3M450.8 335.6h3m-3 8.7h3M452.6 335.5h3m-3 8.7h3M454.3 335.4h3m-3 8.8h3M456.1 335.2h3m-3 8.9h3M457.8 335.1h3m-3 8.9h3M459.6 335h3m-3 9h3M461.4 334.9h3m-3 9h3M463.1 334.8h3m-3 9h3M464.9 334.7h3m-3 9.1h3M466.6 334.6h3m-3 9.1h3M468.4 334.5h3m-3 9.2h3M470.1 334.4h3m-3 9.2h3M471.9 334.4h3m-3 9.3h3M473.7 334.3h3m-3 9.3h3M475.4 334.2h3m-3 9.4h3M477.2 334.1h3m-3 9.4h3M478.9 334h3m-3 9.4h3M480.7 333.9h3m-3 9.5h3M482.5 333.8h3m-3 9.5h3M484.2 333.8h3m-3 9.6h3M486 333.7h3m-3 9.6h3M487.7 333.6h3m-3 9.6h3M489.5 333.5h3m-3 9.7h3M491.2 333.4h3m-3 9.7h3M493 333.4h3m-3 9.7h3M494.8 333.3h3m-3 9.8h3M496.5 333.2h3m-3 9.8h3M498.3 333.2h3m-3 9.8h3M500 333.1h3m-3 9.8h3M501.8 333.1h3m-3 9.9h3" stroke="#c9607a" stroke-width="0.9" fill="none"/>
<polyline points="313.4,351 315.2,350.8 316.9,350.7 318.7,350.5 320.4,350.3 322.2,350.2 323.9,350 325.7,349.8 327.5,349.7 329.2,349.5 331,349.3 332.7,349.2 334.5,349 336.3,348.8 338,348.6 339.8,348.5 341.5,348.3 343.3,348.1 345.1,347.9 346.8,347.7 348.6,347.5 350.3,347.3 352.1,347.1 353.8,346.8 355.6,346.6 357.4,346.4 359.1,346.2 360.9,345.9 362.6,345.7 364.4,345.4 366.1,345.2 367.9,344.9 369.7,344.7 371.4,344.4 373.2,344.2 374.9,343.9 376.7,343.7 378.5,343.4 380.2,343.1 382,342.9 383.7,342.6 385.5,342.3 387.2,341.9 389,341.6 390.8,341.3 392.5,341 394.3,340.7 396,340.4 397.8,340.1 399.6,339.8 401.3,339.6 403.1,339.4 404.8,339.2 406.6,339.1 408.4,338.9 410.1,338.7 411.9,338.5 413.6,338.4 415.4,338.2 417.1,338.1 418.9,337.9 420.7,337.8 422.4,337.6 424.2,337.5 425.9,337.3 427.7,337.2 429.5,337.1 431.2,337 433,336.8 434.7,336.7 436.5,336.6 438.2,336.5 440,336.4 441.8,336.2 443.5,336.1 445.3,336 447,335.9 448.8,335.8 450.6,335.7 452.3,335.6 454.1,335.5 455.8,335.4 457.6,335.2 459.3,335.1 461.1,335 462.9,334.9 464.6,334.8 466.4,334.7 468.1,334.6 469.9,334.5 471.6,334.4 473.4,334.4 475.2,334.3 476.9,334.2 478.7,334.1 480.4,334 482.2,333.9 484,333.8 485.7,333.8 487.5,333.7 489.2,333.6 491,333.5 492.8,333.4 494.5,333.4 496.3,333.3 498,333.2 499.8,333.2 501.5,333.1 503.3,333.1" stroke="#c9607a" stroke-width="0.8" fill="none"/>
<polyline points="313.4,353.1 315.2,353.1 316.9,353.1 318.7,353 320.4,353 322.2,352.9 323.9,352.9 325.7,352.9 327.5,352.8 329.2,352.8 331,352.7 332.7,352.7 334.5,352.6 336.3,352.5 338,352.5 339.8,352.4 341.5,352.3 343.3,352.2 345.1,352.1 346.8,352 348.6,351.9 350.3,351.8 352.1,351.7 353.8,351.6 355.6,351.5 357.4,351.3 359.1,351.2 360.9,351 362.6,350.9 364.4,350.7 366.1,350.6 367.9,350.4 369.7,350.3 371.4,350.1 373.2,349.9 374.9,349.7 376.7,349.6 378.5,349.4 380.2,349.2 382,349 383.7,348.8 385.5,348.5 387.2,348.3 389,348 390.8,347.8 392.5,347.5 394.3,347.3 396,347.1 397.8,346.9 399.6,346.7 401.3,346.5 403.1,346.4 404.8,346.3 406.6,346.2 408.4,346.1 410.1,346 411.9,345.9 413.6,345.8 415.4,345.7 417.1,345.6 418.9,345.5 420.7,345.4 422.4,345.3 424.2,345.3 425.9,345.2 427.7,345.1 429.5,345 431.2,345 433,344.9 434.7,344.8 436.5,344.8 438.2,344.7 440,344.7 441.8,344.6 443.5,344.5 445.3,344.5 447,344.4 448.8,344.4 450.6,344.3 452.3,344.3 454.1,344.2 455.8,344.2 457.6,344.1 459.3,344 461.1,344 462.9,343.9 464.6,343.9 466.4,343.8 468.1,343.8 469.9,343.7 471.6,343.7 473.4,343.6 475.2,343.6 476.9,343.5 478.7,343.5 480.4,343.4 482.2,343.4 484,343.3 485.7,343.3 487.5,343.3 489.2,343.2 491,343.2 492.8,343.1 494.5,343.1 496.3,343.1 498,343 499.8,343 501.5,343 503.3,342.9" stroke="#c9607a" stroke-width="0.8" fill="none"/>
<polyline points="292.3,353.1 294.1,353 295.8,352.9 297.6,352.9 299.3,352.8 301.1,352.7 302.9,352.6 304.6,352.5 306.4,352.4 308.1,352.3 309.9,352.3 311.6,352.2 313.4,352.1 315.2,352 316.9,351.9 318.7,351.8 320.4,351.7 322.2,351.6 323.9,351.5 325.7,351.4 327.5,351.2 329.2,351.1 331,351 332.7,350.9 334.5,350.8 336.3,350.7 338,350.6 339.8,350.4 341.5,350.3 343.3,350.2 345.1,350 346.8,349.9 348.6,349.7 350.3,349.6 352.1,349.4 353.8,349.2 355.6,349 357.4,348.9 359.1,348.7 360.9,348.5 362.6,348.3 364.4,348.1 366.1,347.9 367.9,347.7 369.7,347.5 371.4,347.3 373.2,347 374.9,346.8 376.7,346.6 378.5,346.4 380.2,346.2 382,345.9 383.7,345.7 385.5,345.4 387.2,345.1 389,344.8 390.8,344.5 392.5,344.2 394.3,344 396,343.7 397.8,343.5 399.6,343.3 401.3,343.1 403.1,342.9 404.8,342.8 406.6,342.6 408.4,342.5 410.1,342.3 411.9,342.2 413.6,342.1 415.4,341.9 417.1,341.8 418.9,341.7 420.7,341.6 422.4,341.5 424.2,341.4 425.9,341.3 427.7,341.2 429.5,341.1 431.2,341 433,340.9 434.7,340.8 436.5,340.7 438.2,340.6 440,340.5 441.8,340.4 443.5,340.3 445.3,340.3 447,340.2 448.8,340.1 450.6,340 452.3,339.9 454.1,339.8 455.8,339.8 457.6,339.7 459.3,339.6 461.1,339.5 462.9,339.4 464.6,339.4 466.4,339.3 468.1,339.2 469.9,339.1 471.6,339.1 473.4,339 475.2,338.9 476.9,338.9 478.7,338.8 480.4,338.7 482.2,338.7 484,338.6 485.7,338.5 487.5,338.5 489.2,338.4 491,338.4 492.8,338.3 494.5,338.2 496.3,338.2 498,338.1 499.8,338.1 501.5,338 503.3,338" stroke="#a5123a" stroke-width="1.4" fill="none"/>
<text x="501.5" y="221.9" font-size="6.6" fill="#2e2e2e" stroke="#2e2e2e" stroke-width="0.18" text-anchor="end" textLength="39.02" lengthAdjust="spacingAndGlyphs">Control (PRP)</text>
<text x="501.5" y="275.9" font-size="6.6" fill="#2e2e2e" stroke="#2e2e2e" stroke-width="0.18" text-anchor="end" textLength="41.47" lengthAdjust="spacingAndGlyphs">Control (blood)</text>
<text x="501.5" y="314.7" font-size="6.6" fill="#2e2e2e" stroke="#2e2e2e" stroke-width="0.18" text-anchor="end" textLength="57.16" lengthAdjust="spacingAndGlyphs">Latrunculin A (blood)</text>
<text x="501.8" y="350.1" font-size="6.6" fill="#2e2e2e" stroke="#2e2e2e" stroke-width="0.18" text-anchor="end" textLength="54.72" lengthAdjust="spacingAndGlyphs">Latrunculin A (PRP)</text>
<path d="M505.5 278.5H510V323.5H505.5" stroke="#333" stroke-width="1" fill="none"/>
<path d="M508.8 227.8H513.8V343.4H508.8" stroke="#c8284e" stroke-width="1" fill="none"/>
<text x="7.6" y="404.6" font-size="11.4" font-weight="bold" fill="#111" stroke="#111" stroke-width="0.35">E</text>
<path d="M33.5 417V555.5" stroke="#1a1a1a" stroke-width="1" fill="none"/>
<path d="M33.0 555.0H244.5" stroke="#1a1a1a" stroke-width="1.1" fill="none"/>
<path d="M30.5 555H33.5M30.5 524.4H33.5M30.5 493.8H33.5M30.5 463.1H33.5M30.5 432.5H33.5M33.5 555.0V558.0M102.3 555.0V558.0M171.1 555.0V558.0M239.9 555.0V558.0" stroke="#1a1a1a" stroke-width="0.9" fill="none"/>
<text x="27.3" y="557.6" font-size="6.6" fill="#2e2e2e" stroke="#2e2e2e" stroke-width="0.15" text-anchor="end">0</text>
<text x="27.3" y="527" font-size="6.6" fill="#2e2e2e" stroke="#2e2e2e" stroke-width="0.15" text-anchor="end">20</text>
<text x="27.3" y="496.4" font-size="6.6" fill="#2e2e2e" stroke="#2e2e2e" stroke-width="0.15" text-anchor="end">40</text>
<text x="27.3" y="465.7" font-size="6.6" fill="#2e2e2e" stroke="#2e2e2e" stroke-width="0.15" text-anchor="end">60</text>
<text x="27.3" y="435.1" font-size="6.6" fill="#2e2e2e" stroke="#2e2e2e" stroke-width="0.15" text-anchor="end">80</text>
<text x="33.5" y="568" font-size="6.6" fill="#2e2e2e" stroke="#2e2e2e" stroke-width="0.15" text-anchor="middle">0</text>
<text x="102.3" y="568" font-size="6.6" fill="#2e2e2e" stroke="#2e2e2e" stroke-width="0.15" text-anchor="middle">20</text>
<text x="171.1" y="568" font-size="6.6" fill="#2e2e2e" stroke="#2e2e2e" stroke-width="0.15" text-anchor="middle">40</text>
<text x="239.9" y="568" font-size="6.6" fill="#2e2e2e" stroke="#2e2e2e" stroke-width="0.15" text-anchor="middle">60</text>
<text x="138.8" y="578.9" font-size="8.4" font-weight="bold" fill="#2a2a2a" text-anchor="middle" textLength="25.4" lengthAdjust="spacingAndGlyphs">Time, min</text>
<text transform="translate(15.3,485.5) rotate(-90)" font-size="8.4" font-weight="bold" fill="#2a2a2a" text-anchor="middle" textLength="76" lengthAdjust="spacingAndGlyphs">Extent of clot contraction, %</text>
<path d="M35.7 551.9h2.4m-1.2 0v4.6m-1.2 0h2.4M39.2 552.4h2.4m-1.2 0v3.1m-1.2 0h2.4M42.6 532.8h2.4m-1.2 0v6.1m-1.2 0h2.4M46.1 504.1h2.4m-1.2 0v9.2m-1.2 0h2.4M49.5 480.7h2.4m-1.2 0v9.2m-1.2 0h2.4M52.9 464.9h2.4m-1.2 0v9.2m-1.2 0h2.4M56.4 450.2h2.4m-1.2 0v9.2m-1.2 0h2.4M59.8 439.9h2.4m-1.2 0v9.2m-1.2 0h2.4M63.3 432.7h2.4m-1.2 0v9.2m-1.2 0h2.4M66.7 427.6h2.4m-1.2 0v8.8m-1.2 0h2.4M70.1 423.9h2.4m-1.2 0v7.8m-1.2 0h2.4M73.6 422.1h2.4m-1.2 0v6.6m-1.2 0h2.4M77 420.5h2.4m-1.2 0v5.4m-1.2 0h2.4M80.5 419.6h2.4m-1.2 0v4.6m-1.2 0h2.4M83.9 419h2.4m-1.2 0v4.1m-1.2 0h2.4M87.3 418.5h2.4m-1.2 0v3.6m-1.2 0h2.4M90.8 418.1h2.4m-1.2 0v3.2m-1.2 0h2.4M94.2 417.6h2.4m-1.2 0v2.8m-1.2 0h2.4M97.7 417.4h2.4m-1.2 0v2.6m-1.2 0h2.4M101.1 417.3h2.4m-1.2 0v2.4m-1.2 0h2.4M104.5 417.2h2.4m-1.2 0v2.4m-1.2 0h2.4M108 417.1h2.4m-1.2 0v2.4m-1.2 0h2.4M111.4 417h2.4m-1.2 0v2.3m-1.2 0h2.4M114.9 417h2.4m-1.2 0v2.3m-1.2 0h2.4M118.3 417h2.4m-1.2 0v2.3m-1.2 0h2.4M121.7 417h2.4m-1.2 0v2.2m-1.2 0h2.4M125.2 417h2.4m-1.2 0v2.2m-1.2 0h2.4M128.6 417h2.4m-1.2 0v2.2m-1.2 0h2.4M132.1 416.9h2.4m-1.2 0v2.2m-1.2 0h2.4M135.5 416.9h2.4m-1.2 0v2.1m-1.2 0h2.4M138.9 416.9h2.4m-1.2 0v2.1m-1.2 0h2.4M142.4 416.9h2.4m-1.2 0v2.1m-1.2 0h2.4M145.8 416.9h2.4m-1.2 0v2.1m-1.2 0h2.4M149.3 416.9h2.4m-1.2 0v2.1m-1.2 0h2.4M152.7 416.9h2.4m-1.2 0v2m-1.2 0h2.4M156.1 416.9h2.4m-1.2 0v2m-1.2 0h2.4M159.6 416.9h2.4m-1.2 0v2m-1.2 0h2.4M163 416.9h2.4m-1.2 0v2m-1.2 0h2.4M166.5 416.9h2.4m-1.2 0v2m-1.2 0h2.4M169.9 416.9h2.4m-1.2 0v2m-1.2 0h2.4M173.3 416.9h2.4m-1.2 0v1.9m-1.2 0h2.4M176.8 416.9h2.4m-1.2 0v1.9m-1.2 0h2.4M180.2 416.9h2.4m-1.2 0v1.9m-1.2 0h2.4M183.7 416.9h2.4m-1.2 0v1.9m-1.2 0h2.4M187.1 416.9h2.4m-1.2 0v1.9m-1.2 0h2.4M190.5 416.9h2.4m-1.2 0v1.9m-1.2 0h2.4M194 416.9h2.4m-1.2 0v1.9m-1.2 0h2.4M197.4 416.9h2.4m-1.2 0v1.9m-1.2 0h2.4M200.9 416.9h2.4m-1.2 0v1.9m-1.2 0h2.4M204.3 416.9h2.4m-1.2 0v1.9m-1.2 0h2.4M207.7 416.9h2.4m-1.2 0v1.9m-1.2 0h2.4M211.2 416.9h2.4m-1.2 0v1.9m-1.2 0h2.4M214.6 416.9h2.4m-1.2 0v1.8m-1.2 0h2.4M218.1 416.9h2.4m-1.2 0v1.8m-1.2 0h2.4M221.5 416.9h2.4m-1.2 0v1.8m-1.2 0h2.4M224.9 416.9h2.4m-1.2 0v1.8m-1.2 0h2.4M228.4 416.9h2.4m-1.2 0v1.8m-1.2 0h2.4M231.8 416.9h2.4m-1.2 0v1.8m-1.2 0h2.4M235.3 416.9h2.4m-1.2 0v1.8m-1.2 0h2.4M238.7 416.9h2.4m-1.2 0v1.8m-1.2 0h2.4" stroke="#d8506c" stroke-width="0.6" fill="none"/>
<polyline points="36.9,554.2 38.6,554.2 40.3,554.1 42,547.4 43.7,536.6 45.4,524 47.1,510 48.8,496.4 50.5,486.2 52.2,480 53.9,471.3 55.5,461.8 57.2,455.8 58.9,450.8 60.6,445.7 62.3,441.3 64,438 65.7,435.3 67.4,432.8 69.1,430.1 70.8,428.3 72.5,427 74.1,425.8 75.8,424.6 77.5,423.5 79.2,422.7 80.9,422.1 82.6,421.6 84.3,421.2 86,420.8 87.7,420.5 89.4,420.2 91.1,419.8 92.8,419.5 94.4,419.2 96.1,418.9 97.8,418.8 99.5,418.7 101.2,418.6 102.9,418.5 104.6,418.4 106.3,418.4 108,418.3 109.7,418.3 111.4,418.2 113,418.2 114.7,418.2 116.4,418.1 118.1,418.1 119.8,418.1 121.5,418.1 123.2,418.1 124.9,418.1 126.6,418.1 128.3,418.1 130,418 131.7,418 133.3,418 135,418 136.7,418 138.4,418 140.1,418 141.8,418 143.5,418 145.2,418 146.9,418 148.6,418 150.3,418 152,418 153.6,417.9 155.3,417.9 157,417.9 158.7,417.9 160.4,417.9 162.1,417.9 163.8,417.9 165.5,417.9 167.2,417.9 168.9,417.9 170.6,417.9 172.2,417.9 173.9,417.9 175.6,417.9 177.3,417.9 179,417.9 180.7,417.9 182.4,417.9 184.1,417.9 185.8,417.9 187.5,417.8 189.2,417.8 190.9,417.8 192.5,417.8 194.2,417.8 195.9,417.8 197.6,417.8 199.3,417.8 201,417.8 202.7,417.8 204.4,417.8 206.1,417.8 207.8,417.8 209.5,417.8 211.1,417.8 212.8,417.8 214.5,417.8 216.2,417.8 217.9,417.8 219.6,417.8 221.3,417.8 223,417.8 224.7,417.8 226.4,417.8 228.1,417.8 229.8,417.8 231.4,417.8 233.1,417.8 234.8,417.8 236.5,417.8 238.2,417.8 239.9,417.8" stroke="#d0234a" stroke-width="0.9" fill="none"/>
<circle cx="36.9" cy="554.2" r="0.9" fill="#c0163f"/>
<circle cx="40.4" cy="554" r="0.9" fill="#c0163f"/>
<circle cx="43.8" cy="535.9" r="0.9" fill="#c0163f"/>
<circle cx="47.3" cy="508.7" r="0.9" fill="#c0163f"/>
<circle cx="50.7" cy="485.3" r="0.9" fill="#c0163f"/>
<circle cx="54.1" cy="469.5" r="0.9" fill="#c0163f"/>
<circle cx="57.6" cy="454.8" r="0.9" fill="#c0163f"/>
<circle cx="61" cy="444.5" r="0.9" fill="#c0163f"/>
<circle cx="64.5" cy="437.2" r="0.9" fill="#c0163f"/>
<circle cx="67.9" cy="432" r="0.9" fill="#c0163f"/>
<circle cx="71.3" cy="427.8" r="0.9" fill="#c0163f"/>
<circle cx="74.8" cy="425.4" r="0.9" fill="#c0163f"/>
<circle cx="78.2" cy="423.2" r="0.9" fill="#c0163f"/>
<circle cx="81.7" cy="421.9" r="0.9" fill="#c0163f"/>
<circle cx="85.1" cy="421" r="0.9" fill="#c0163f"/>
<circle cx="88.5" cy="420.3" r="0.9" fill="#c0163f"/>
<circle cx="92" cy="419.6" r="0.9" fill="#c0163f"/>
<circle cx="95.4" cy="419" r="0.9" fill="#c0163f"/>
<circle cx="98.9" cy="418.7" r="0.9" fill="#c0163f"/>
<circle cx="102.3" cy="418.5" r="0.9" fill="#c0163f"/>
<circle cx="105.7" cy="418.4" r="0.9" fill="#c0163f"/>
<circle cx="109.2" cy="418.3" r="0.9" fill="#c0163f"/>
<circle cx="112.6" cy="418.2" r="0.9" fill="#c0163f"/>
<circle cx="116.1" cy="418.1" r="0.9" fill="#c0163f"/>
<circle cx="119.5" cy="418.1" r="0.9" fill="#c0163f"/>
<circle cx="122.9" cy="418.1" r="0.9" fill="#c0163f"/>
<circle cx="126.4" cy="418.1" r="0.9" fill="#c0163f"/>
<circle cx="129.8" cy="418" r="0.9" fill="#c0163f"/>
<circle cx="133.3" cy="418" r="0.9" fill="#c0163f"/>
<circle cx="136.7" cy="418" r="0.9" fill="#c0163f"/>
<circle cx="140.1" cy="418" r="0.9" fill="#c0163f"/>
<circle cx="143.6" cy="418" r="0.9" fill="#c0163f"/>
<circle cx="147" cy="418" r="0.9" fill="#c0163f"/>
<circle cx="150.5" cy="418" r="0.9" fill="#c0163f"/>
<circle cx="153.9" cy="417.9" r="0.9" fill="#c0163f"/>
<circle cx="157.3" cy="417.9" r="0.9" fill="#c0163f"/>
<circle cx="160.8" cy="417.9" r="0.9" fill="#c0163f"/>
<circle cx="164.2" cy="417.9" r="0.9" fill="#c0163f"/>
<circle cx="167.7" cy="417.9" r="0.9" fill="#c0163f"/>
<circle cx="171.1" cy="417.9" r="0.9" fill="#c0163f"/>
<circle cx="174.5" cy="417.9" r="0.9" fill="#c0163f"/>
<circle cx="178" cy="417.9" r="0.9" fill="#c0163f"/>
<circle cx="181.4" cy="417.9" r="0.9" fill="#c0163f"/>
<circle cx="184.9" cy="417.9" r="0.9" fill="#c0163f"/>
<circle cx="188.3" cy="417.8" r="0.9" fill="#c0163f"/>
<circle cx="191.7" cy="417.8" r="0.9" fill="#c0163f"/>
<circle cx="195.2" cy="417.8" r="0.9" fill="#c0163f"/>
<circle cx="198.6" cy="417.8" r="0.9" fill="#c0163f"/>
<circle cx="202.1" cy="417.8" r="0.9" fill="#c0163f"/>
<circle cx="205.5" cy="417.8" r="0.9" fill="#c0163f"/>
<circle cx="208.9" cy="417.8" r="0.9" fill="#c0163f"/>
<circle cx="212.4" cy="417.8" r="0.9" fill="#c0163f"/>
<circle cx="215.8" cy="417.8" r="0.9" fill="#c0163f"/>
<circle cx="219.3" cy="417.8" r="0.9" fill="#c0163f"/>
<circle cx="222.7" cy="417.8" r="0.9" fill="#c0163f"/>
<circle cx="226.1" cy="417.8" r="0.9" fill="#c0163f"/>
<circle cx="229.6" cy="417.8" r="0.9" fill="#c0163f"/>
<circle cx="233" cy="417.8" r="0.9" fill="#c0163f"/>
<circle cx="236.5" cy="417.8" r="0.9" fill="#c0163f"/>
<circle cx="239.9" cy="417.8" r="0.9" fill="#c0163f"/>
<path d="M39.2 552.4h2.4m-1.2 0v4.5m-1.2 0h2.4M42.6 550.5h2.4m-1.2 0v5.7m-1.2 0h2.4M46.1 535.9h2.4m-1.2 0v6.1m-1.2 0h2.4M49.5 521.6h2.4m-1.2 0v6m-1.2 0h2.4M52.9 513.9h2.4m-1.2 0v5.7m-1.2 0h2.4M56.4 507.9h2.4m-1.2 0v5.4m-1.2 0h2.4M59.8 503.2h2.4m-1.2 0v5m-1.2 0h2.4M63.3 499.8h2.4m-1.2 0v4.7m-1.2 0h2.4M66.7 497.1h2.4m-1.2 0v4.6m-1.2 0h2.4M70.1 494.7h2.4m-1.2 0v4.6m-1.2 0h2.4M73.6 492.7h2.4m-1.2 0v4.6m-1.2 0h2.4M77 491.1h2.4m-1.2 0v4.6m-1.2 0h2.4M80.5 489.6h2.4m-1.2 0v4.6m-1.2 0h2.4M83.9 488.2h2.4m-1.2 0v4.6m-1.2 0h2.4M87.3 487h2.4m-1.2 0v4.6m-1.2 0h2.4M90.8 485.9h2.4m-1.2 0v4.6m-1.2 0h2.4M94.2 484.8h2.4m-1.2 0v4.6m-1.2 0h2.4M97.7 484h2.4m-1.2 0v4.6m-1.2 0h2.4M101.1 483.4h2.4m-1.2 0v4.6m-1.2 0h2.4M104.5 483h2.4m-1.2 0v4.6m-1.2 0h2.4M108 482.6h2.4m-1.2 0v4.6m-1.2 0h2.4M111.4 482.3h2.4m-1.2 0v4.6m-1.2 0h2.4M114.9 481.9h2.4m-1.2 0v4.6m-1.2 0h2.4M118.3 481.5h2.4m-1.2 0v4.6m-1.2 0h2.4M121.7 480.9h2.4m-1.2 0v4.6m-1.2 0h2.4M125.2 480.1h2.4m-1.2 0v4.6m-1.2 0h2.4M128.6 479.2h2.4m-1.2 0v4.6m-1.2 0h2.4M132.1 478.4h2.4m-1.2 0v4.6m-1.2 0h2.4M135.5 477.6h2.4m-1.2 0v4.6m-1.2 0h2.4M138.9 476.5h2.4m-1.2 0v5.5m-1.2 0h2.4M142.4 475.2h2.4m-1.2 0v7.3m-1.2 0h2.4M145.8 474.6h2.4m-1.2 0v8.3m-1.2 0h2.4M149.3 474.6h2.4m-1.2 0v8.3m-1.2 0h2.4M152.7 474.7h2.4m-1.2 0v8.3m-1.2 0h2.4M156.1 474.8h2.4m-1.2 0v8.3m-1.2 0h2.4M159.6 474.9h2.4m-1.2 0v8.3m-1.2 0h2.4M163 475h2.4m-1.2 0v8.3m-1.2 0h2.4M166.5 475h2.4m-1.2 0v8.3m-1.2 0h2.4M169.9 475.1h2.4m-1.2 0v8.3m-1.2 0h2.4M173.3 475.1h2.4m-1.2 0v8.3m-1.2 0h2.4M176.8 475.1h2.4m-1.2 0v8.3m-1.2 0h2.4M180.2 475.1h2.4m-1.2 0v8.3m-1.2 0h2.4M183.7 475.1h2.4m-1.2 0v8.3m-1.2 0h2.4M187.1 475.1h2.4m-1.2 0v8.3m-1.2 0h2.4M190.5 475.1h2.4m-1.2 0v8.3m-1.2 0h2.4M194 475.1h2.4m-1.2 0v8.3m-1.2 0h2.4M197.4 475.1h2.4m-1.2 0v8.3m-1.2 0h2.4M200.9 475.1h2.4m-1.2 0v8.3m-1.2 0h2.4M204.3 475.1h2.4m-1.2 0v8.3m-1.2 0h2.4M207.7 475.1h2.4m-1.2 0v8.3m-1.2 0h2.4M211.2 475.1h2.4m-1.2 0v8.3m-1.2 0h2.4M214.6 475.1h2.4m-1.2 0v8.3m-1.2 0h2.4M218.1 475.1h2.4m-1.2 0v8.3m-1.2 0h2.4M221.5 475.1h2.4m-1.2 0v8.3m-1.2 0h2.4M224.9 475.1h2.4m-1.2 0v8.3m-1.2 0h2.4M228.4 475.1h2.4m-1.2 0v8.3m-1.2 0h2.4M231.8 475.1h2.4m-1.2 0v8.3m-1.2 0h2.4M235.3 475.1h2.4m-1.2 0v8.3m-1.2 0h2.4M238.7 475.1h2.4m-1.2 0v8.3m-1.2 0h2.4" stroke="#5a636b" stroke-width="0.6" fill="none"/>
<polyline points="40.4,554.6 42,554.4 43.7,553.6 45.4,547.6 47,540 48.7,532.1 50.4,525.6 52,521.3 53.7,517.7 55.3,514.4 57,511.5 58.7,508.9 60.3,506.6 62,504.5 63.7,502.9 65.3,501.4 67,500 68.6,498.8 70.3,497.7 72,496.6 73.6,495.7 75.3,494.8 77,494 78.6,493.2 80.3,492.5 81.9,491.8 83.6,491.1 85.3,490.5 86.9,489.8 88.6,489.3 90.3,488.7 91.9,488.2 93.6,487.7 95.2,487.2 96.9,486.7 98.6,486.3 100.2,486 101.9,485.8 103.6,485.5 105.2,485.3 106.9,485.2 108.5,485 110.2,484.8 111.9,484.7 113.5,484.5 115.2,484.3 116.9,484.1 118.5,483.9 120.2,483.7 121.9,483.4 123.5,483.1 125.2,482.7 126.8,482.3 128.5,481.9 130.2,481.5 131.8,481 133.5,480.6 135.2,480.2 136.8,479.8 138.5,479.5 140.1,479.2 141.8,479 143.5,478.8 145.1,478.8 146.8,478.7 148.5,478.8 150.1,478.8 151.8,478.8 153.4,478.8 155.1,478.9 156.8,478.9 158.4,479 160.1,479 161.8,479.1 163.4,479.1 165.1,479.1 166.7,479.2 168.4,479.2 170.1,479.2 171.7,479.2 173.4,479.2 175.1,479.2 176.7,479.2 178.4,479.2 180,479.2 181.7,479.2 183.4,479.2 185,479.2 186.7,479.2 188.4,479.2 190,479.2 191.7,479.2 193.3,479.2 195,479.2 196.7,479.2 198.3,479.2 200,479.2 201.7,479.2 203.3,479.2 205,479.2 206.6,479.2 208.3,479.2 210,479.2 211.6,479.2 213.3,479.2 215,479.2 216.6,479.2 218.3,479.2 219.9,479.2 221.6,479.2 223.3,479.2 224.9,479.2 226.6,479.2 228.3,479.2 229.9,479.2 231.6,479.2 233.2,479.2 234.9,479.2 236.6,479.2 238.2,479.2 239.9,479.2" stroke="#444c54" stroke-width="0.9" fill="none"/>
<circle cx="40.4" cy="554.6" r="0.9" fill="#30383f"/>
<circle cx="43.8" cy="553.4" r="0.9" fill="#30383f"/>
<circle cx="47.3" cy="539" r="0.9" fill="#30383f"/>
<circle cx="50.7" cy="524.6" r="0.9" fill="#30383f"/>
<circle cx="54.1" cy="516.8" r="0.9" fill="#30383f"/>
<circle cx="57.6" cy="510.6" r="0.9" fill="#30383f"/>
<circle cx="61" cy="505.7" r="0.9" fill="#30383f"/>
<circle cx="64.5" cy="502.1" r="0.9" fill="#30383f"/>
<circle cx="67.9" cy="499.4" r="0.9" fill="#30383f"/>
<circle cx="71.3" cy="497" r="0.9" fill="#30383f"/>
<circle cx="74.8" cy="495" r="0.9" fill="#30383f"/>
<circle cx="78.2" cy="493.4" r="0.9" fill="#30383f"/>
<circle cx="81.7" cy="491.9" r="0.9" fill="#30383f"/>
<circle cx="85.1" cy="490.5" r="0.9" fill="#30383f"/>
<circle cx="88.5" cy="489.3" r="0.9" fill="#30383f"/>
<circle cx="92" cy="488.2" r="0.9" fill="#30383f"/>
<circle cx="95.4" cy="487.1" r="0.9" fill="#30383f"/>
<circle cx="98.9" cy="486.3" r="0.9" fill="#30383f"/>
<circle cx="102.3" cy="485.7" r="0.9" fill="#30383f"/>
<circle cx="105.7" cy="485.3" r="0.9" fill="#30383f"/>
<circle cx="109.2" cy="484.9" r="0.9" fill="#30383f"/>
<circle cx="112.6" cy="484.6" r="0.9" fill="#30383f"/>
<circle cx="116.1" cy="484.2" r="0.9" fill="#30383f"/>
<circle cx="119.5" cy="483.8" r="0.9" fill="#30383f"/>
<circle cx="122.9" cy="483.2" r="0.9" fill="#30383f"/>
<circle cx="126.4" cy="482.4" r="0.9" fill="#30383f"/>
<circle cx="129.8" cy="481.5" r="0.9" fill="#30383f"/>
<circle cx="133.3" cy="480.7" r="0.9" fill="#30383f"/>
<circle cx="136.7" cy="479.9" r="0.9" fill="#30383f"/>
<circle cx="140.1" cy="479.2" r="0.9" fill="#30383f"/>
<circle cx="143.6" cy="478.8" r="0.9" fill="#30383f"/>
<circle cx="147" cy="478.7" r="0.9" fill="#30383f"/>
<circle cx="150.5" cy="478.8" r="0.9" fill="#30383f"/>
<circle cx="153.9" cy="478.9" r="0.9" fill="#30383f"/>
<circle cx="157.3" cy="478.9" r="0.9" fill="#30383f"/>
<circle cx="160.8" cy="479" r="0.9" fill="#30383f"/>
<circle cx="164.2" cy="479.1" r="0.9" fill="#30383f"/>
<circle cx="167.7" cy="479.2" r="0.9" fill="#30383f"/>
<circle cx="171.1" cy="479.2" r="0.9" fill="#30383f"/>
<circle cx="174.5" cy="479.2" r="0.9" fill="#30383f"/>
<circle cx="178" cy="479.2" r="0.9" fill="#30383f"/>
<circle cx="181.4" cy="479.2" r="0.9" fill="#30383f"/>
<circle cx="184.9" cy="479.2" r="0.9" fill="#30383f"/>
<circle cx="188.3" cy="479.2" r="0.9" fill="#30383f"/>
<circle cx="191.7" cy="479.2" r="0.9" fill="#30383f"/>
<circle cx="195.2" cy="479.2" r="0.9" fill="#30383f"/>
<circle cx="198.6" cy="479.2" r="0.9" fill="#30383f"/>
<circle cx="202.1" cy="479.2" r="0.9" fill="#30383f"/>
<circle cx="205.5" cy="479.2" r="0.9" fill="#30383f"/>
<circle cx="208.9" cy="479.2" r="0.9" fill="#30383f"/>
<circle cx="212.4" cy="479.2" r="0.9" fill="#30383f"/>
<circle cx="215.8" cy="479.2" r="0.9" fill="#30383f"/>
<circle cx="219.3" cy="479.2" r="0.9" fill="#30383f"/>
<circle cx="222.7" cy="479.2" r="0.9" fill="#30383f"/>
<circle cx="226.1" cy="479.2" r="0.9" fill="#30383f"/>
<circle cx="229.6" cy="479.2" r="0.9" fill="#30383f"/>
<circle cx="233" cy="479.2" r="0.9" fill="#30383f"/>
<circle cx="236.5" cy="479.2" r="0.9" fill="#30383f"/>
<circle cx="239.9" cy="479.2" r="0.9" fill="#30383f"/>
<path d="M35.7 554.2h2.4m-1.2 0v0.7m-1.2 0h2.4M39.2 554h2.4m-1.2 0v0.7m-1.2 0h2.4M42.6 553.9h2.4m-1.2 0v0.8m-1.2 0h2.4M46.1 553.8h2.4m-1.2 0v0.9m-1.2 0h2.4M49.5 553.6h2.4m-1.2 0v1m-1.2 0h2.4M52.9 553.4h2.4m-1.2 0v1.1m-1.2 0h2.4M56.4 553.2h2.4m-1.2 0v1.2m-1.2 0h2.4M59.8 552.9h2.4m-1.2 0v1.3m-1.2 0h2.4M63.3 552.7h2.4m-1.2 0v1.4m-1.2 0h2.4M66.7 552.4h2.4m-1.2 0v1.5m-1.2 0h2.4M70.1 552.1h2.4m-1.2 0v1.7m-1.2 0h2.4M73.6 551.7h2.4m-1.2 0v1.8m-1.2 0h2.4M77 551.4h2.4m-1.2 0v2m-1.2 0h2.4M80.5 550.9h2.4m-1.2 0v2.1m-1.2 0h2.4M83.9 550.5h2.4m-1.2 0v2.3m-1.2 0h2.4M87.3 550h2.4m-1.2 0v2.5m-1.2 0h2.4M90.8 549.4h2.4m-1.2 0v2.7m-1.2 0h2.4M94.2 548.7h2.4m-1.2 0v2.9m-1.2 0h2.4M97.7 548.1h2.4m-1.2 0v3.2m-1.2 0h2.4M101.1 547.4h2.4m-1.2 0v3.4m-1.2 0h2.4M104.5 546.7h2.4m-1.2 0v3.6m-1.2 0h2.4M108 545.9h2.4m-1.2 0v3.9m-1.2 0h2.4M111.4 545.1h2.4m-1.2 0v4.1m-1.2 0h2.4M114.9 544.3h2.4m-1.2 0v4.3m-1.2 0h2.4M118.3 543.5h2.4m-1.2 0v4.6m-1.2 0h2.4M121.7 542.7h2.4m-1.2 0v4.9m-1.2 0h2.4M125.2 541.8h2.4m-1.2 0v5.1m-1.2 0h2.4M128.6 540.9h2.4m-1.2 0v5.4m-1.2 0h2.4M132.1 540h2.4m-1.2 0v5.8m-1.2 0h2.4M135.5 539.2h2.4m-1.2 0v6.1m-1.2 0h2.4M138.9 538.3h2.4m-1.2 0v6.4m-1.2 0h2.4M142.4 537.3h2.4m-1.2 0v6.8m-1.2 0h2.4M145.8 536.1h2.4m-1.2 0v7.1m-1.2 0h2.4M149.3 534.6h2.4m-1.2 0v7.4m-1.2 0h2.4M152.7 532.8h2.4m-1.2 0v7.8m-1.2 0h2.4M156.1 531h2.4m-1.2 0v8.1m-1.2 0h2.4M159.6 529.3h2.4m-1.2 0v8.4m-1.2 0h2.4M163 527.5h2.4m-1.2 0v8.7m-1.2 0h2.4M166.5 525.8h2.4m-1.2 0v9m-1.2 0h2.4M169.9 524.3h2.4m-1.2 0v9.2m-1.2 0h2.4M173.3 522.7h2.4m-1.2 0v9.4m-1.2 0h2.4M176.8 521.2h2.4m-1.2 0v9.6m-1.2 0h2.4M180.2 519.8h2.4m-1.2 0v9.8m-1.2 0h2.4M183.7 518.4h2.4m-1.2 0v10m-1.2 0h2.4M187.1 517.1h2.4m-1.2 0v10.2m-1.2 0h2.4M190.5 515.8h2.4m-1.2 0v10.5m-1.2 0h2.4M194 514.8h2.4m-1.2 0v10.6m-1.2 0h2.4M197.4 513.8h2.4m-1.2 0v10.8m-1.2 0h2.4M200.9 512.9h2.4m-1.2 0v11m-1.2 0h2.4M204.3 512.1h2.4m-1.2 0v11.2m-1.2 0h2.4M207.7 511.3h2.4m-1.2 0v11.4m-1.2 0h2.4M211.2 510.6h2.4m-1.2 0v11.5m-1.2 0h2.4M214.6 509.9h2.4m-1.2 0v11.7m-1.2 0h2.4M218.1 509.1h2.4m-1.2 0v11.8m-1.2 0h2.4M221.5 508.4h2.4m-1.2 0v12m-1.2 0h2.4M224.9 507.7h2.4m-1.2 0v12.1m-1.2 0h2.4M228.4 507h2.4m-1.2 0v12.2m-1.2 0h2.4M231.8 506.4h2.4m-1.2 0v12.4m-1.2 0h2.4M235.3 505.7h2.4m-1.2 0v12.5m-1.2 0h2.4M238.7 505.1h2.4m-1.2 0v12.6m-1.2 0h2.4" stroke="#5a636b" stroke-width="0.6" fill="none"/>
<polyline points="36.9,554.5 38.6,554.4 40.3,554.4 42,554.4 43.7,554.3 45.4,554.3 47.1,554.2 48.8,554.1 50.5,554.1 52.2,554 53.9,554 55.5,553.9 57.2,553.8 58.9,553.7 60.6,553.6 62.3,553.5 64,553.4 65.7,553.3 67.4,553.2 69.1,553.1 70.8,553 72.5,552.8 74.1,552.7 75.8,552.6 77.5,552.4 79.2,552.2 80.9,552.1 82.6,551.9 84.3,551.7 86,551.5 87.7,551.3 89.4,551.1 91.1,550.9 92.8,550.6 94.4,550.4 96.1,550.1 97.8,549.8 99.5,549.5 101.2,549.3 102.9,549 104.6,548.7 106.3,548.4 108,548.1 109.7,547.8 111.4,547.4 113,547.1 114.7,546.8 116.4,546.4 118.1,546.1 119.8,545.7 121.5,545.4 123.2,545 124.9,544.7 126.6,544.3 128.3,543.9 130,543.6 131.7,543.2 133.3,542.9 135,542.6 136.7,542.2 138.4,541.9 140.1,541.5 141.8,541.1 143.5,540.7 145.2,540.2 146.9,539.7 148.6,539.1 150.3,538.4 152,537.6 153.6,536.8 155.3,536 157,535.2 158.7,534.5 160.4,533.7 162.1,532.9 163.8,532.1 165.5,531.3 167.2,530.5 168.9,529.8 170.6,529.1 172.2,528.4 173.9,527.7 175.6,527 177.3,526.3 179,525.6 180.7,525 182.4,524.3 184.1,523.7 185.8,523.1 187.5,522.5 189.2,521.9 190.9,521.3 192.5,520.8 194.2,520.3 195.9,519.9 197.6,519.5 199.3,519.1 201,518.7 202.7,518.3 204.4,517.9 206.1,517.6 207.8,517.2 209.5,516.9 211.1,516.6 212.8,516.3 214.5,515.9 216.2,515.6 217.9,515.3 219.6,515 221.3,514.7 223,514.3 224.7,514 226.4,513.7 228.1,513.4 229.8,513.1 231.4,512.8 233.1,512.5 234.8,512.2 236.5,511.9 238.2,511.6 239.9,511.4" stroke="#444c54" stroke-width="0.9" fill="none"/>
<circle cx="36.9" cy="554.5" r="0.9" fill="#30383f"/>
<circle cx="40.4" cy="554.4" r="0.9" fill="#30383f"/>
<circle cx="43.8" cy="554.3" r="0.9" fill="#30383f"/>
<circle cx="47.3" cy="554.2" r="0.9" fill="#30383f"/>
<circle cx="50.7" cy="554.1" r="0.9" fill="#30383f"/>
<circle cx="54.1" cy="553.9" r="0.9" fill="#30383f"/>
<circle cx="57.6" cy="553.8" r="0.9" fill="#30383f"/>
<circle cx="61" cy="553.6" r="0.9" fill="#30383f"/>
<circle cx="64.5" cy="553.4" r="0.9" fill="#30383f"/>
<circle cx="67.9" cy="553.2" r="0.9" fill="#30383f"/>
<circle cx="71.3" cy="552.9" r="0.9" fill="#30383f"/>
<circle cx="74.8" cy="552.6" r="0.9" fill="#30383f"/>
<circle cx="78.2" cy="552.3" r="0.9" fill="#30383f"/>
<circle cx="81.7" cy="552" r="0.9" fill="#30383f"/>
<circle cx="85.1" cy="551.6" r="0.9" fill="#30383f"/>
<circle cx="88.5" cy="551.2" r="0.9" fill="#30383f"/>
<circle cx="92" cy="550.7" r="0.9" fill="#30383f"/>
<circle cx="95.4" cy="550.2" r="0.9" fill="#30383f"/>
<circle cx="98.9" cy="549.7" r="0.9" fill="#30383f"/>
<circle cx="102.3" cy="549.1" r="0.9" fill="#30383f"/>
<circle cx="105.7" cy="548.5" r="0.9" fill="#30383f"/>
<circle cx="109.2" cy="547.8" r="0.9" fill="#30383f"/>
<circle cx="112.6" cy="547.2" r="0.9" fill="#30383f"/>
<circle cx="116.1" cy="546.5" r="0.9" fill="#30383f"/>
<circle cx="119.5" cy="545.8" r="0.9" fill="#30383f"/>
<circle cx="122.9" cy="545.1" r="0.9" fill="#30383f"/>
<circle cx="126.4" cy="544.3" r="0.9" fill="#30383f"/>
<circle cx="129.8" cy="543.6" r="0.9" fill="#30383f"/>
<circle cx="133.3" cy="542.9" r="0.9" fill="#30383f"/>
<circle cx="136.7" cy="542.2" r="0.9" fill="#30383f"/>
<circle cx="140.1" cy="541.5" r="0.9" fill="#30383f"/>
<circle cx="143.6" cy="540.7" r="0.9" fill="#30383f"/>
<circle cx="147" cy="539.7" r="0.9" fill="#30383f"/>
<circle cx="150.5" cy="538.3" r="0.9" fill="#30383f"/>
<circle cx="153.9" cy="536.7" r="0.9" fill="#30383f"/>
<circle cx="157.3" cy="535.1" r="0.9" fill="#30383f"/>
<circle cx="160.8" cy="533.5" r="0.9" fill="#30383f"/>
<circle cx="164.2" cy="531.9" r="0.9" fill="#30383f"/>
<circle cx="167.7" cy="530.3" r="0.9" fill="#30383f"/>
<circle cx="171.1" cy="528.9" r="0.9" fill="#30383f"/>
<circle cx="174.5" cy="527.5" r="0.9" fill="#30383f"/>
<circle cx="178" cy="526" r="0.9" fill="#30383f"/>
<circle cx="181.4" cy="524.7" r="0.9" fill="#30383f"/>
<circle cx="184.9" cy="523.4" r="0.9" fill="#30383f"/>
<circle cx="188.3" cy="522.2" r="0.9" fill="#30383f"/>
<circle cx="191.7" cy="521.1" r="0.9" fill="#30383f"/>
<circle cx="195.2" cy="520.1" r="0.9" fill="#30383f"/>
<circle cx="198.6" cy="519.2" r="0.9" fill="#30383f"/>
<circle cx="202.1" cy="518.4" r="0.9" fill="#30383f"/>
<circle cx="205.5" cy="517.7" r="0.9" fill="#30383f"/>
<circle cx="208.9" cy="517" r="0.9" fill="#30383f"/>
<circle cx="212.4" cy="516.3" r="0.9" fill="#30383f"/>
<circle cx="215.8" cy="515.7" r="0.9" fill="#30383f"/>
<circle cx="219.3" cy="515.1" r="0.9" fill="#30383f"/>
<circle cx="222.7" cy="514.4" r="0.9" fill="#30383f"/>
<circle cx="226.1" cy="513.8" r="0.9" fill="#30383f"/>
<circle cx="229.6" cy="513.1" r="0.9" fill="#30383f"/>
<circle cx="233" cy="512.5" r="0.9" fill="#30383f"/>
<circle cx="236.5" cy="511.9" r="0.9" fill="#30383f"/>
<circle cx="239.9" cy="511.4" r="0.9" fill="#30383f"/>
<path d="M39.2 552.2h2.4m-1.2 0v1.2m-1.2 0h2.4M42.6 552.2h2.4m-1.2 0v1.2m-1.2 0h2.4M46.1 552.2h2.4m-1.2 0v1.2m-1.2 0h2.4M49.5 552.2h2.4m-1.2 0v1.2m-1.2 0h2.4M52.9 552.1h2.4m-1.2 0v1.2m-1.2 0h2.4M56.4 552.1h2.4m-1.2 0v1.2m-1.2 0h2.4M59.8 552.1h2.4m-1.2 0v1.2m-1.2 0h2.4M63.3 552.1h2.4m-1.2 0v1.2m-1.2 0h2.4M66.7 552.1h2.4m-1.2 0v1.2m-1.2 0h2.4M70.1 552.1h2.4m-1.2 0v1.2m-1.2 0h2.4M73.6 552.1h2.4m-1.2 0v1.2m-1.2 0h2.4M77 552.1h2.4m-1.2 0v1.2m-1.2 0h2.4M80.5 552h2.4m-1.2 0v1.2m-1.2 0h2.4M83.9 552h2.4m-1.2 0v1.2m-1.2 0h2.4M87.3 552h2.4m-1.2 0v1.2m-1.2 0h2.4M90.8 552h2.4m-1.2 0v1.2m-1.2 0h2.4M94.2 552h2.4m-1.2 0v1.2m-1.2 0h2.4M97.7 552h2.4m-1.2 0v1.2m-1.2 0h2.4M101.1 552h2.4m-1.2 0v1.2m-1.2 0h2.4M104.5 552h2.4m-1.2 0v1.2m-1.2 0h2.4M108 552h2.4m-1.2 0v1.2m-1.2 0h2.4M111.4 552h2.4m-1.2 0v1.2m-1.2 0h2.4M114.9 552h2.4m-1.2 0v1.2m-1.2 0h2.4M118.3 552h2.4m-1.2 0v1.2m-1.2 0h2.4M121.7 552h2.4m-1.2 0v1.2m-1.2 0h2.4M125.2 551.9h2.4m-1.2 0v1.2m-1.2 0h2.4M128.6 551.9h2.4m-1.2 0v1.2m-1.2 0h2.4M132.1 551.9h2.4m-1.2 0v1.2m-1.2 0h2.4M135.5 551.9h2.4m-1.2 0v1.2m-1.2 0h2.4M138.9 551.9h2.4m-1.2 0v1.2m-1.2 0h2.4M142.4 551.9h2.4m-1.2 0v1.2m-1.2 0h2.4M145.8 551.9h2.4m-1.2 0v1.2m-1.2 0h2.4M149.3 550.9h2.4m-1.2 0v3.3m-1.2 0h2.4M152.7 545.7h2.4m-1.2 0v4m-1.2 0h2.4M156.1 545.1h2.4m-1.2 0v4m-1.2 0h2.4M159.6 544.7h2.4m-1.2 0v4m-1.2 0h2.4M163 544.4h2.4m-1.2 0v4m-1.2 0h2.4M166.5 544.2h2.4m-1.2 0v4m-1.2 0h2.4M169.9 544h2.4m-1.2 0v4m-1.2 0h2.4M173.3 543.9h2.4m-1.2 0v4m-1.2 0h2.4M176.8 543.8h2.4m-1.2 0v4m-1.2 0h2.4M180.2 543.7h2.4m-1.2 0v4m-1.2 0h2.4M183.7 543.5h2.4m-1.2 0v4m-1.2 0h2.4M187.1 543.4h2.4m-1.2 0v4m-1.2 0h2.4M190.5 543.2h2.4m-1.2 0v4m-1.2 0h2.4M194 542.9h2.4m-1.2 0v4m-1.2 0h2.4M197.4 542.7h2.4m-1.2 0v4m-1.2 0h2.4M200.9 542.5h2.4m-1.2 0v4m-1.2 0h2.4M204.3 542.3h2.4m-1.2 0v4m-1.2 0h2.4M207.7 542.1h2.4m-1.2 0v4m-1.2 0h2.4M211.2 541.9h2.4m-1.2 0v4m-1.2 0h2.4M214.6 541.7h2.4m-1.2 0v4m-1.2 0h2.4M218.1 541.5h2.4m-1.2 0v4m-1.2 0h2.4M221.5 541.4h2.4m-1.2 0v4m-1.2 0h2.4M224.9 541.2h2.4m-1.2 0v4m-1.2 0h2.4M228.4 541h2.4m-1.2 0v4m-1.2 0h2.4M231.8 540.8h2.4m-1.2 0v4m-1.2 0h2.4M235.3 540.6h2.4m-1.2 0v4m-1.2 0h2.4M238.7 540.5h2.4m-1.2 0v4m-1.2 0h2.4" stroke="#d8506c" stroke-width="0.6" fill="none"/>
<circle cx="40.4" cy="552.8" r="0.9" fill="#c0163f"/>
<circle cx="43.8" cy="552.8" r="0.9" fill="#c0163f"/>
<circle cx="47.3" cy="552.8" r="0.9" fill="#c0163f"/>
<circle cx="50.7" cy="552.8" r="0.9" fill="#c0163f"/>
<circle cx="54.1" cy="552.8" r="0.9" fill="#c0163f"/>
<circle cx="57.6" cy="552.7" r="0.9" fill="#c0163f"/>
<circle cx="61" cy="552.7" r="0.9" fill="#c0163f"/>
<circle cx="64.5" cy="552.7" r="0.9" fill="#c0163f"/>
<circle cx="67.9" cy="552.7" r="0.9" fill="#c0163f"/>
<circle cx="71.3" cy="552.7" r="0.9" fill="#c0163f"/>
<circle cx="74.8" cy="552.7" r="0.9" fill="#c0163f"/>
<circle cx="78.2" cy="552.7" r="0.9" fill="#c0163f"/>
<circle cx="81.7" cy="552.7" r="0.9" fill="#c0163f"/>
<circle cx="85.1" cy="552.6" r="0.9" fill="#c0163f"/>
<circle cx="88.5" cy="552.6" r="0.9" fill="#c0163f"/>
<circle cx="92" cy="552.6" r="0.9" fill="#c0163f"/>
<circle cx="95.4" cy="552.6" r="0.9" fill="#c0163f"/>
<circle cx="98.9" cy="552.6" r="0.9" fill="#c0163f"/>
<circle cx="102.3" cy="552.6" r="0.9" fill="#c0163f"/>
<circle cx="105.7" cy="552.6" r="0.9" fill="#c0163f"/>
<circle cx="109.2" cy="552.6" r="0.9" fill="#c0163f"/>
<circle cx="112.6" cy="552.6" r="0.9" fill="#c0163f"/>
<circle cx="116.1" cy="552.6" r="0.9" fill="#c0163f"/>
<circle cx="119.5" cy="552.6" r="0.9" fill="#c0163f"/>
<circle cx="122.9" cy="552.6" r="0.9" fill="#c0163f"/>
<circle cx="126.4" cy="552.6" r="0.9" fill="#c0163f"/>
<circle cx="129.8" cy="552.6" r="0.9" fill="#c0163f"/>
<circle cx="133.3" cy="552.6" r="0.9" fill="#c0163f"/>
<circle cx="136.7" cy="552.6" r="0.9" fill="#c0163f"/>
<circle cx="140.1" cy="552.6" r="0.9" fill="#c0163f"/>
<circle cx="143.6" cy="552.6" r="0.9" fill="#c0163f"/>
<circle cx="147" cy="552.5" r="0.9" fill="#c0163f"/>
<circle cx="150.5" cy="552.5" r="0.9" fill="#c0163f"/>
<circle cx="153.9" cy="547.6" r="0.9" fill="#c0163f"/>
<circle cx="157.3" cy="547.1" r="0.9" fill="#c0163f"/>
<circle cx="160.8" cy="546.7" r="0.9" fill="#c0163f"/>
<circle cx="164.2" cy="546.4" r="0.9" fill="#c0163f"/>
<circle cx="167.7" cy="546.2" r="0.9" fill="#c0163f"/>
<circle cx="171.1" cy="546" r="0.9" fill="#c0163f"/>
<circle cx="174.5" cy="545.9" r="0.9" fill="#c0163f"/>
<circle cx="178" cy="545.8" r="0.9" fill="#c0163f"/>
<circle cx="181.4" cy="545.7" r="0.9" fill="#c0163f"/>
<circle cx="184.9" cy="545.5" r="0.9" fill="#c0163f"/>
<circle cx="188.3" cy="545.4" r="0.9" fill="#c0163f"/>
<circle cx="191.7" cy="545.1" r="0.9" fill="#c0163f"/>
<circle cx="195.2" cy="544.9" r="0.9" fill="#c0163f"/>
<circle cx="198.6" cy="544.7" r="0.9" fill="#c0163f"/>
<circle cx="202.1" cy="544.5" r="0.9" fill="#c0163f"/>
<circle cx="205.5" cy="544.3" r="0.9" fill="#c0163f"/>
<circle cx="208.9" cy="544.1" r="0.9" fill="#c0163f"/>
<circle cx="212.4" cy="543.9" r="0.9" fill="#c0163f"/>
<circle cx="215.8" cy="543.7" r="0.9" fill="#c0163f"/>
<circle cx="219.3" cy="543.5" r="0.9" fill="#c0163f"/>
<circle cx="222.7" cy="543.3" r="0.9" fill="#c0163f"/>
<circle cx="226.1" cy="543.2" r="0.9" fill="#c0163f"/>
<circle cx="229.6" cy="543" r="0.9" fill="#c0163f"/>
<circle cx="233" cy="542.8" r="0.9" fill="#c0163f"/>
<circle cx="236.5" cy="542.6" r="0.9" fill="#c0163f"/>
<circle cx="239.9" cy="542.4" r="0.9" fill="#c0163f"/>
<path d="M36.6 555V549.6M35.4 549.6H37.8" stroke="#d8506c" stroke-width="0.8" fill="none"/>
<circle cx="36.9" cy="552.7" r="0.9" fill="#c0163f"/>
<text x="236.6" y="413.9" font-size="6.6" fill="#2e2e2e" stroke="#2e2e2e" stroke-width="0.18" text-anchor="end" textLength="39.02" lengthAdjust="spacingAndGlyphs">Control (PRP)</text>
<text x="236.6" y="472.6" font-size="6.6" fill="#2e2e2e" stroke="#2e2e2e" stroke-width="0.18" text-anchor="end" textLength="41.47" lengthAdjust="spacingAndGlyphs">Control (blood)</text>
<text x="236.6" y="501.9" font-size="6.6" fill="#2e2e2e" stroke="#2e2e2e" stroke-width="0.18" text-anchor="end" textLength="46.35" lengthAdjust="spacingAndGlyphs">Atopaxar (blood)</text>
<text x="236.6" y="539.8" font-size="6.6" fill="#2e2e2e" stroke="#2e2e2e" stroke-width="0.18" text-anchor="end" textLength="43.91" lengthAdjust="spacingAndGlyphs">Atopaxar (PRP)</text>
<path d="M243.9 477H246.8V517.8H243.9" stroke="#333" stroke-width="1" fill="none"/>
<path d="M246 419.2H250V543H246" stroke="#c8284e" stroke-width="1" fill="none"/>
<text x="266.6" y="404.9" font-size="11.4" font-weight="bold" fill="#111" stroke="#111" stroke-width="0.35">F</text>
<path d="M292.3 416.3V555.1" stroke="#1a1a1a" stroke-width="1" fill="none"/>
<path d="M291.8 554.6H504.5" stroke="#1a1a1a" stroke-width="1.1" fill="none"/>
<path d="M289.3 547.7H292.3M289.3 518.8H292.3M289.3 490H292.3M289.3 461.1H292.3M289.3 432.2H292.3M292.3 554.6V557.6M362.4 554.6V557.6M432.4 554.6V557.6M502.5 554.6V557.6" stroke="#1a1a1a" stroke-width="0.9" fill="none"/>
<text x="286.1" y="550.3" font-size="6.6" fill="#2e2e2e" stroke="#2e2e2e" stroke-width="0.15" text-anchor="end">0</text>
<text x="286.1" y="521.4" font-size="6.6" fill="#2e2e2e" stroke="#2e2e2e" stroke-width="0.15" text-anchor="end">20</text>
<text x="286.1" y="492.6" font-size="6.6" fill="#2e2e2e" stroke="#2e2e2e" stroke-width="0.15" text-anchor="end">40</text>
<text x="286.1" y="463.7" font-size="6.6" fill="#2e2e2e" stroke="#2e2e2e" stroke-width="0.15" text-anchor="end">60</text>
<text x="286.1" y="434.8" font-size="6.6" fill="#2e2e2e" stroke="#2e2e2e" stroke-width="0.15" text-anchor="end">80</text>
<text x="292.3" y="567.6" font-size="6.6" fill="#2e2e2e" stroke="#2e2e2e" stroke-width="0.15" text-anchor="middle">0</text>
<text x="362.4" y="567.6" font-size="6.6" fill="#2e2e2e" stroke="#2e2e2e" stroke-width="0.15" text-anchor="middle">20</text>
<text x="432.4" y="567.6" font-size="6.6" fill="#2e2e2e" stroke="#2e2e2e" stroke-width="0.15" text-anchor="middle">40</text>
<text x="502.5" y="567.6" font-size="6.6" fill="#2e2e2e" stroke="#2e2e2e" stroke-width="0.15" text-anchor="middle">60</text>
<text x="399.5" y="578.9" font-size="8.4" font-weight="bold" fill="#2a2a2a" text-anchor="middle" textLength="25.4" lengthAdjust="spacingAndGlyphs">Time, min</text>
<text transform="translate(274,485.5) rotate(-90)" font-size="8.4" font-weight="bold" fill="#2a2a2a" text-anchor="middle" textLength="76" lengthAdjust="spacingAndGlyphs">Extent of clot contraction, %</text>
<path d="M294.6 545.3h2.4m-1.2 0v1.9m-1.2 0h2.4M298.1 544.2h2.4m-1.2 0v2.9m-1.2 0h2.4M301.6 524.5h2.4m-1.2 0v6.1m-1.2 0h2.4M305.1 497.3h2.4m-1.2 0v8.7m-1.2 0h2.4M308.6 476.9h2.4m-1.2 0v8.7m-1.2 0h2.4M312.1 460.8h2.4m-1.2 0v8.7m-1.2 0h2.4M315.6 448.2h2.4m-1.2 0v8.7m-1.2 0h2.4M319.1 438.7h2.4m-1.2 0v8.7m-1.2 0h2.4M322.6 432.1h2.4m-1.2 0v8.7m-1.2 0h2.4M326.1 427.4h2.4m-1.2 0v8.3m-1.2 0h2.4M329.6 424.7h2.4m-1.2 0v7.4m-1.2 0h2.4M333.1 422.8h2.4m-1.2 0v6.2m-1.2 0h2.4M336.6 421.4h2.4m-1.2 0v5.1m-1.2 0h2.4M340.1 420.6h2.4m-1.2 0v4.3m-1.2 0h2.4M343.7 420h2.4m-1.2 0v3.8m-1.2 0h2.4M347.2 419.6h2.4m-1.2 0v3.4m-1.2 0h2.4M350.7 419.2h2.4m-1.2 0v3m-1.2 0h2.4M354.2 419h2.4m-1.2 0v2.6m-1.2 0h2.4M357.7 418.7h2.4m-1.2 0v2.4m-1.2 0h2.4M361.2 418.6h2.4m-1.2 0v2.3m-1.2 0h2.4M364.7 418.4h2.4m-1.2 0v2.3m-1.2 0h2.4M368.2 418.2h2.4m-1.2 0v2.2m-1.2 0h2.4M371.7 418.1h2.4m-1.2 0v2.2m-1.2 0h2.4M375.2 417.9h2.4m-1.2 0v2.2m-1.2 0h2.4M378.7 417.8h2.4m-1.2 0v2.1m-1.2 0h2.4M382.2 417.7h2.4m-1.2 0v2.1m-1.2 0h2.4M385.7 417.6h2.4m-1.2 0v2.1m-1.2 0h2.4M389.2 417.5h2.4m-1.2 0v2.1m-1.2 0h2.4M392.7 417.5h2.4m-1.2 0v2m-1.2 0h2.4M396.2 417.5h2.4m-1.2 0v2m-1.2 0h2.4M399.7 417.5h2.4m-1.2 0v2m-1.2 0h2.4M403.2 417.5h2.4m-1.2 0v2m-1.2 0h2.4M406.7 417.4h2.4m-1.2 0v2m-1.2 0h2.4M410.2 417.4h2.4m-1.2 0v1.9m-1.2 0h2.4M413.7 417.4h2.4m-1.2 0v1.9m-1.2 0h2.4M417.2 417.4h2.4m-1.2 0v1.9m-1.2 0h2.4M420.7 417.4h2.4m-1.2 0v1.9m-1.2 0h2.4M424.2 417.4h2.4m-1.2 0v1.9m-1.2 0h2.4M427.7 417.4h2.4m-1.2 0v1.9m-1.2 0h2.4M431.2 417.4h2.4m-1.2 0v1.8m-1.2 0h2.4M434.7 417.4h2.4m-1.2 0v1.8m-1.2 0h2.4M438.2 417.4h2.4m-1.2 0v1.8m-1.2 0h2.4M441.7 417.4h2.4m-1.2 0v1.8m-1.2 0h2.4M445.2 417.4h2.4m-1.2 0v1.8m-1.2 0h2.4M448.8 417.4h2.4m-1.2 0v1.8m-1.2 0h2.4M452.3 417.4h2.4m-1.2 0v1.8m-1.2 0h2.4M455.8 417.4h2.4m-1.2 0v1.8m-1.2 0h2.4M459.3 417.4h2.4m-1.2 0v1.8m-1.2 0h2.4M462.8 417.3h2.4m-1.2 0v1.8m-1.2 0h2.4M466.3 417.3h2.4m-1.2 0v1.8m-1.2 0h2.4M469.8 417.3h2.4m-1.2 0v1.8m-1.2 0h2.4M473.3 417.3h2.4m-1.2 0v1.7m-1.2 0h2.4M476.8 417.3h2.4m-1.2 0v1.7m-1.2 0h2.4M480.3 417.3h2.4m-1.2 0v1.7m-1.2 0h2.4M483.8 417.3h2.4m-1.2 0v1.7m-1.2 0h2.4M487.3 417.3h2.4m-1.2 0v1.7m-1.2 0h2.4M490.8 417.3h2.4m-1.2 0v1.7m-1.2 0h2.4M494.3 417.3h2.4m-1.2 0v1.7m-1.2 0h2.4M497.8 417.3h2.4m-1.2 0v1.7m-1.2 0h2.4M501.3 417.3h2.4m-1.2 0v1.7m-1.2 0h2.4" stroke="#d8506c" stroke-width="0.6" fill="none"/>
<polyline points="295.8,546.3 297.5,546.2 299.2,545.7 301,538.9 302.7,528.2 304.4,516.2 306.1,502.9 307.9,492 309.6,482.4 311.3,473.9 313,466.4 314.8,459.7 316.5,453.7 318.2,448.4 319.9,444 321.6,440.2 323.4,437.2 325.1,434.4 326.8,432.1 328.5,430.3 330.3,428.9 332,427.5 333.7,426.3 335.4,425.2 337.1,424.3 338.9,423.5 340.6,422.9 342.3,422.5 344,422.1 345.8,421.7 347.5,421.4 349.2,421.1 350.9,420.9 352.6,420.6 354.4,420.4 356.1,420.2 357.8,420 359.5,419.9 361.3,419.8 363,419.7 364.7,419.6 366.4,419.5 368.1,419.4 369.9,419.3 371.6,419.2 373.3,419.1 375,419.1 376.8,419 378.5,418.9 380.2,418.9 381.9,418.8 383.6,418.7 385.4,418.7 387.1,418.6 388.8,418.6 390.5,418.6 392.3,418.5 394,418.5 395.7,418.5 397.4,418.5 399.2,418.5 400.9,418.5 402.6,418.5 404.3,418.4 406,418.4 407.8,418.4 409.5,418.4 411.2,418.4 412.9,418.4 414.7,418.4 416.4,418.4 418.1,418.4 419.8,418.4 421.5,418.4 423.3,418.4 425,418.3 426.7,418.3 428.4,418.3 430.2,418.3 431.9,418.3 433.6,418.3 435.3,418.3 437,418.3 438.8,418.3 440.5,418.3 442.2,418.3 443.9,418.3 445.7,418.3 447.4,418.3 449.1,418.3 450.8,418.3 452.5,418.3 454.3,418.3 456,418.2 457.7,418.2 459.4,418.2 461.2,418.2 462.9,418.2 464.6,418.2 466.3,418.2 468.1,418.2 469.8,418.2 471.5,418.2 473.2,418.2 474.9,418.2 476.7,418.2 478.4,418.2 480.1,418.2 481.8,418.2 483.6,418.2 485.3,418.2 487,418.2 488.7,418.2 490.4,418.2 492.2,418.2 493.9,418.2 495.6,418.2 497.3,418.2 499.1,418.2 500.8,418.2 502.5,418.2" stroke="#d0234a" stroke-width="0.9" fill="none"/>
<circle cx="295.8" cy="546.3" r="0.9" fill="#c0163f"/>
<circle cx="299.3" cy="545.7" r="0.9" fill="#c0163f"/>
<circle cx="302.8" cy="527.5" r="0.9" fill="#c0163f"/>
<circle cx="306.3" cy="501.7" r="0.9" fill="#c0163f"/>
<circle cx="309.8" cy="481.2" r="0.9" fill="#c0163f"/>
<circle cx="313.3" cy="465.2" r="0.9" fill="#c0163f"/>
<circle cx="316.8" cy="452.5" r="0.9" fill="#c0163f"/>
<circle cx="320.3" cy="443" r="0.9" fill="#c0163f"/>
<circle cx="323.8" cy="436.4" r="0.9" fill="#c0163f"/>
<circle cx="327.3" cy="431.5" r="0.9" fill="#c0163f"/>
<circle cx="330.8" cy="428.4" r="0.9" fill="#c0163f"/>
<circle cx="334.3" cy="425.9" r="0.9" fill="#c0163f"/>
<circle cx="337.8" cy="423.9" r="0.9" fill="#c0163f"/>
<circle cx="341.3" cy="422.7" r="0.9" fill="#c0163f"/>
<circle cx="344.9" cy="421.9" r="0.9" fill="#c0163f"/>
<circle cx="348.4" cy="421.3" r="0.9" fill="#c0163f"/>
<circle cx="351.9" cy="420.7" r="0.9" fill="#c0163f"/>
<circle cx="355.4" cy="420.3" r="0.9" fill="#c0163f"/>
<circle cx="358.9" cy="420" r="0.9" fill="#c0163f"/>
<circle cx="362.4" cy="419.7" r="0.9" fill="#c0163f"/>
<circle cx="365.9" cy="419.5" r="0.9" fill="#c0163f"/>
<circle cx="369.4" cy="419.3" r="0.9" fill="#c0163f"/>
<circle cx="372.9" cy="419.2" r="0.9" fill="#c0163f"/>
<circle cx="376.4" cy="419" r="0.9" fill="#c0163f"/>
<circle cx="379.9" cy="418.9" r="0.9" fill="#c0163f"/>
<circle cx="383.4" cy="418.7" r="0.9" fill="#c0163f"/>
<circle cx="386.9" cy="418.6" r="0.9" fill="#c0163f"/>
<circle cx="390.4" cy="418.6" r="0.9" fill="#c0163f"/>
<circle cx="393.9" cy="418.5" r="0.9" fill="#c0163f"/>
<circle cx="397.4" cy="418.5" r="0.9" fill="#c0163f"/>
<circle cx="400.9" cy="418.5" r="0.9" fill="#c0163f"/>
<circle cx="404.4" cy="418.4" r="0.9" fill="#c0163f"/>
<circle cx="407.9" cy="418.4" r="0.9" fill="#c0163f"/>
<circle cx="411.4" cy="418.4" r="0.9" fill="#c0163f"/>
<circle cx="414.9" cy="418.4" r="0.9" fill="#c0163f"/>
<circle cx="418.4" cy="418.4" r="0.9" fill="#c0163f"/>
<circle cx="421.9" cy="418.4" r="0.9" fill="#c0163f"/>
<circle cx="425.4" cy="418.3" r="0.9" fill="#c0163f"/>
<circle cx="428.9" cy="418.3" r="0.9" fill="#c0163f"/>
<circle cx="432.4" cy="418.3" r="0.9" fill="#c0163f"/>
<circle cx="435.9" cy="418.3" r="0.9" fill="#c0163f"/>
<circle cx="439.4" cy="418.3" r="0.9" fill="#c0163f"/>
<circle cx="442.9" cy="418.3" r="0.9" fill="#c0163f"/>
<circle cx="446.4" cy="418.3" r="0.9" fill="#c0163f"/>
<circle cx="450" cy="418.3" r="0.9" fill="#c0163f"/>
<circle cx="453.5" cy="418.3" r="0.9" fill="#c0163f"/>
<circle cx="457" cy="418.2" r="0.9" fill="#c0163f"/>
<circle cx="460.5" cy="418.2" r="0.9" fill="#c0163f"/>
<circle cx="464" cy="418.2" r="0.9" fill="#c0163f"/>
<circle cx="467.5" cy="418.2" r="0.9" fill="#c0163f"/>
<circle cx="471" cy="418.2" r="0.9" fill="#c0163f"/>
<circle cx="474.5" cy="418.2" r="0.9" fill="#c0163f"/>
<circle cx="478" cy="418.2" r="0.9" fill="#c0163f"/>
<circle cx="481.5" cy="418.2" r="0.9" fill="#c0163f"/>
<circle cx="485" cy="418.2" r="0.9" fill="#c0163f"/>
<circle cx="488.5" cy="418.2" r="0.9" fill="#c0163f"/>
<circle cx="492" cy="418.2" r="0.9" fill="#c0163f"/>
<circle cx="495.5" cy="418.2" r="0.9" fill="#c0163f"/>
<circle cx="499" cy="418.2" r="0.9" fill="#c0163f"/>
<circle cx="502.5" cy="418.2" r="0.9" fill="#c0163f"/>
<path d="M294.6 545.4h2.4m-1.2 0v1.7m-1.2 0h2.4M298.1 543.9h2.4m-1.2 0v2.5m-1.2 0h2.4M301.6 541.8h2.4m-1.2 0v3.3m-1.2 0h2.4M305.1 539.4h2.4m-1.2 0v3.9m-1.2 0h2.4M308.6 536.8h2.4m-1.2 0v4.3m-1.2 0h2.4M312.1 534.2h2.4m-1.2 0v4.7m-1.2 0h2.4M315.6 531.5h2.4m-1.2 0v5m-1.2 0h2.4M319.1 528.6h2.4m-1.2 0v5.3m-1.2 0h2.4M322.6 525.7h2.4m-1.2 0v5.5m-1.2 0h2.4M326.1 522.7h2.4m-1.2 0v5.8m-1.2 0h2.4M329.6 519.7h2.4m-1.2 0v6m-1.2 0h2.4M333.1 516.5h2.4m-1.2 0v6.1m-1.2 0h2.4M336.6 513.6h2.4m-1.2 0v6.2m-1.2 0h2.4M340.1 511.3h2.4m-1.2 0v6.3m-1.2 0h2.4M343.7 509.6h2.4m-1.2 0v6.4m-1.2 0h2.4M347.2 508.2h2.4m-1.2 0v6.4m-1.2 0h2.4M350.7 507h2.4m-1.2 0v6.4m-1.2 0h2.4M354.2 505.8h2.4m-1.2 0v6.4m-1.2 0h2.4M357.7 504.7h2.4m-1.2 0v6.4m-1.2 0h2.4M361.2 503.6h2.4m-1.2 0v6.4m-1.2 0h2.4M364.7 502.6h2.4m-1.2 0v6.3m-1.2 0h2.4M368.2 501.7h2.4m-1.2 0v6.3m-1.2 0h2.4M371.7 500.8h2.4m-1.2 0v6.3m-1.2 0h2.4M375.2 500h2.4m-1.2 0v6.3m-1.2 0h2.4M378.7 499.2h2.4m-1.2 0v6.3m-1.2 0h2.4M382.2 498.4h2.4m-1.2 0v6.3m-1.2 0h2.4M385.7 497.6h2.4m-1.2 0v6.3m-1.2 0h2.4M389.2 496.9h2.4m-1.2 0v6.3m-1.2 0h2.4M392.7 496.2h2.4m-1.2 0v6.3m-1.2 0h2.4M396.2 495.6h2.4m-1.2 0v6.3m-1.2 0h2.4M399.7 494.9h2.4m-1.2 0v6.3m-1.2 0h2.4M403.2 494.3h2.4m-1.2 0v6.3m-1.2 0h2.4M406.7 493.8h2.4m-1.2 0v6.3m-1.2 0h2.4M410.2 493.3h2.4m-1.2 0v6.3m-1.2 0h2.4M413.7 492.8h2.4m-1.2 0v6.3m-1.2 0h2.4M417.2 492.4h2.4m-1.2 0v6.2m-1.2 0h2.4M420.7 492h2.4m-1.2 0v6.2m-1.2 0h2.4M424.2 491.6h2.4m-1.2 0v6.2m-1.2 0h2.4M427.7 491.3h2.4m-1.2 0v6.2m-1.2 0h2.4M431.2 490.9h2.4m-1.2 0v6.2m-1.2 0h2.4M434.7 490.6h2.4m-1.2 0v6.1m-1.2 0h2.4M438.2 490.3h2.4m-1.2 0v6.1m-1.2 0h2.4M441.7 490h2.4m-1.2 0v6.1m-1.2 0h2.4M445.2 489.7h2.4m-1.2 0v6m-1.2 0h2.4M448.8 489.4h2.4m-1.2 0v6m-1.2 0h2.4M452.3 489h2.4m-1.2 0v6m-1.2 0h2.4M455.8 488.7h2.4m-1.2 0v5.9m-1.2 0h2.4M459.3 488.3h2.4m-1.2 0v5.9m-1.2 0h2.4M462.8 488h2.4m-1.2 0v5.9m-1.2 0h2.4M466.3 487.6h2.4m-1.2 0v5.8m-1.2 0h2.4M469.8 487.2h2.4m-1.2 0v5.8m-1.2 0h2.4M473.3 486.9h2.4m-1.2 0v5.7m-1.2 0h2.4M476.8 486.5h2.4m-1.2 0v5.7m-1.2 0h2.4M480.3 486.1h2.4m-1.2 0v5.6m-1.2 0h2.4M483.8 485.8h2.4m-1.2 0v5.5m-1.2 0h2.4M487.3 485.4h2.4m-1.2 0v5.5m-1.2 0h2.4M490.8 485h2.4m-1.2 0v5.4m-1.2 0h2.4M494.3 484.6h2.4m-1.2 0v5.3m-1.2 0h2.4M497.8 484.3h2.4m-1.2 0v5.3m-1.2 0h2.4M501.3 483.9h2.4m-1.2 0v5.2m-1.2 0h2.4" stroke="#5a636b" stroke-width="0.6" fill="none"/>
<polyline points="295.8,546.3 297.5,545.9 299.2,545.2 301,544.3 302.7,543.5 304.4,542.5 306.1,541.5 307.9,540.3 309.6,539.2 311.3,538 313,536.7 314.8,535.5 316.5,534.2 318.2,532.9 319.9,531.6 321.6,530.2 323.4,528.8 325.1,527.4 326.8,526 328.5,524.6 330.3,523.2 332,521.7 333.7,520.2 335.4,518.7 337.1,517.2 338.9,516 340.6,514.9 342.3,514 344,513.1 345.8,512.4 347.5,511.7 349.2,511.1 350.9,510.5 352.6,509.9 354.4,509.3 356.1,508.7 357.8,508.2 359.5,507.6 361.3,507.1 363,506.6 364.7,506.1 366.4,505.6 368.1,505.2 369.9,504.7 371.6,504.3 373.3,503.9 375,503.5 376.8,503.1 378.5,502.7 380.2,502.3 381.9,501.9 383.6,501.5 385.4,501.1 387.1,500.8 388.8,500.4 390.5,500.1 392.3,499.7 394,499.4 395.7,499 397.4,498.7 399.2,498.4 400.9,498.1 402.6,497.8 404.3,497.5 406,497.2 407.8,496.9 409.5,496.7 411.2,496.4 412.9,496.2 414.7,496 416.4,495.7 418.1,495.5 419.8,495.3 421.5,495.1 423.3,494.9 425,494.7 426.7,494.6 428.4,494.4 430.2,494.2 431.9,494.1 433.6,493.9 435.3,493.7 437,493.6 438.8,493.4 440.5,493.3 442.2,493.1 443.9,492.9 445.7,492.8 447.4,492.6 449.1,492.4 450.8,492.3 452.5,492.1 454.3,491.9 456,491.7 457.7,491.6 459.4,491.4 461.2,491.2 462.9,491 464.6,490.8 466.3,490.6 468.1,490.4 469.8,490.2 471.5,490.1 473.2,489.9 474.9,489.7 476.7,489.5 478.4,489.3 480.1,489.1 481.8,488.9 483.6,488.7 485.3,488.5 487,488.3 488.7,488.1 490.4,487.9 492.2,487.7 493.9,487.5 495.6,487.3 497.3,487.1 499.1,486.9 500.8,486.7 502.5,486.5" stroke="#444c54" stroke-width="0.9" fill="none"/>
<circle cx="295.8" cy="546.3" r="0.9" fill="#30383f"/>
<circle cx="299.3" cy="545.2" r="0.9" fill="#30383f"/>
<circle cx="302.8" cy="543.4" r="0.9" fill="#30383f"/>
<circle cx="306.3" cy="541.4" r="0.9" fill="#30383f"/>
<circle cx="309.8" cy="539" r="0.9" fill="#30383f"/>
<circle cx="313.3" cy="536.5" r="0.9" fill="#30383f"/>
<circle cx="316.8" cy="534" r="0.9" fill="#30383f"/>
<circle cx="320.3" cy="531.3" r="0.9" fill="#30383f"/>
<circle cx="323.8" cy="528.4" r="0.9" fill="#30383f"/>
<circle cx="327.3" cy="525.6" r="0.9" fill="#30383f"/>
<circle cx="330.8" cy="522.7" r="0.9" fill="#30383f"/>
<circle cx="334.3" cy="519.6" r="0.9" fill="#30383f"/>
<circle cx="337.8" cy="516.7" r="0.9" fill="#30383f"/>
<circle cx="341.3" cy="514.5" r="0.9" fill="#30383f"/>
<circle cx="344.9" cy="512.8" r="0.9" fill="#30383f"/>
<circle cx="348.4" cy="511.4" r="0.9" fill="#30383f"/>
<circle cx="351.9" cy="510.2" r="0.9" fill="#30383f"/>
<circle cx="355.4" cy="509" r="0.9" fill="#30383f"/>
<circle cx="358.9" cy="507.8" r="0.9" fill="#30383f"/>
<circle cx="362.4" cy="506.8" r="0.9" fill="#30383f"/>
<circle cx="365.9" cy="505.8" r="0.9" fill="#30383f"/>
<circle cx="369.4" cy="504.8" r="0.9" fill="#30383f"/>
<circle cx="372.9" cy="504" r="0.9" fill="#30383f"/>
<circle cx="376.4" cy="503.2" r="0.9" fill="#30383f"/>
<circle cx="379.9" cy="502.4" r="0.9" fill="#30383f"/>
<circle cx="383.4" cy="501.6" r="0.9" fill="#30383f"/>
<circle cx="386.9" cy="500.8" r="0.9" fill="#30383f"/>
<circle cx="390.4" cy="500.1" r="0.9" fill="#30383f"/>
<circle cx="393.9" cy="499.4" r="0.9" fill="#30383f"/>
<circle cx="397.4" cy="498.7" r="0.9" fill="#30383f"/>
<circle cx="400.9" cy="498.1" r="0.9" fill="#30383f"/>
<circle cx="404.4" cy="497.5" r="0.9" fill="#30383f"/>
<circle cx="407.9" cy="496.9" r="0.9" fill="#30383f"/>
<circle cx="411.4" cy="496.4" r="0.9" fill="#30383f"/>
<circle cx="414.9" cy="495.9" r="0.9" fill="#30383f"/>
<circle cx="418.4" cy="495.5" r="0.9" fill="#30383f"/>
<circle cx="421.9" cy="495.1" r="0.9" fill="#30383f"/>
<circle cx="425.4" cy="494.7" r="0.9" fill="#30383f"/>
<circle cx="428.9" cy="494.3" r="0.9" fill="#30383f"/>
<circle cx="432.4" cy="494" r="0.9" fill="#30383f"/>
<circle cx="435.9" cy="493.7" r="0.9" fill="#30383f"/>
<circle cx="439.4" cy="493.3" r="0.9" fill="#30383f"/>
<circle cx="442.9" cy="493" r="0.9" fill="#30383f"/>
<circle cx="446.4" cy="492.7" r="0.9" fill="#30383f"/>
<circle cx="450" cy="492.4" r="0.9" fill="#30383f"/>
<circle cx="453.5" cy="492" r="0.9" fill="#30383f"/>
<circle cx="457" cy="491.6" r="0.9" fill="#30383f"/>
<circle cx="460.5" cy="491.3" r="0.9" fill="#30383f"/>
<circle cx="464" cy="490.9" r="0.9" fill="#30383f"/>
<circle cx="467.5" cy="490.5" r="0.9" fill="#30383f"/>
<circle cx="471" cy="490.1" r="0.9" fill="#30383f"/>
<circle cx="474.5" cy="489.7" r="0.9" fill="#30383f"/>
<circle cx="478" cy="489.3" r="0.9" fill="#30383f"/>
<circle cx="481.5" cy="488.9" r="0.9" fill="#30383f"/>
<circle cx="485" cy="488.5" r="0.9" fill="#30383f"/>
<circle cx="488.5" cy="488.1" r="0.9" fill="#30383f"/>
<circle cx="492" cy="487.7" r="0.9" fill="#30383f"/>
<circle cx="495.5" cy="487.3" r="0.9" fill="#30383f"/>
<circle cx="499" cy="486.9" r="0.9" fill="#30383f"/>
<circle cx="502.5" cy="486.5" r="0.9" fill="#30383f"/>
<path d="M294.6 545.5h2.4m-1.2 0v1m-1.2 0h2.4M298.1 545.1h2.4m-1.2 0v1.2m-1.2 0h2.4M301.6 544.7h2.4m-1.2 0v1.4m-1.2 0h2.4M305.1 544.4h2.4m-1.2 0v1.5m-1.2 0h2.4M308.6 544h2.4m-1.2 0v1.7m-1.2 0h2.4M312.1 543.7h2.4m-1.2 0v1.8m-1.2 0h2.4M315.6 543.3h2.4m-1.2 0v2m-1.2 0h2.4M319.1 542.9h2.4m-1.2 0v2.1m-1.2 0h2.4M322.6 542.6h2.4m-1.2 0v2.2m-1.2 0h2.4M326.1 542.2h2.4m-1.2 0v2.3m-1.2 0h2.4M329.6 541.8h2.4m-1.2 0v2.4m-1.2 0h2.4M333.1 541.5h2.4m-1.2 0v2.5m-1.2 0h2.4M336.6 541.1h2.4m-1.2 0v2.6m-1.2 0h2.4M340.1 540.7h2.4m-1.2 0v2.7m-1.2 0h2.4M343.7 540.3h2.4m-1.2 0v2.7m-1.2 0h2.4M347.2 539.9h2.4m-1.2 0v2.8m-1.2 0h2.4M350.7 539.5h2.4m-1.2 0v2.9m-1.2 0h2.4M354.2 539.2h2.4m-1.2 0v2.9m-1.2 0h2.4M357.7 538.8h2.4m-1.2 0v3m-1.2 0h2.4M361.2 538.4h2.4m-1.2 0v3.1m-1.2 0h2.4M364.7 538.1h2.4m-1.2 0v3.1m-1.2 0h2.4M368.2 537.8h2.4m-1.2 0v3.2m-1.2 0h2.4M371.7 537.5h2.4m-1.2 0v3.3m-1.2 0h2.4M375.2 537.2h2.4m-1.2 0v3.3m-1.2 0h2.4M378.7 537h2.4m-1.2 0v3.4m-1.2 0h2.4M382.2 536.7h2.4m-1.2 0v3.4m-1.2 0h2.4M385.7 536.5h2.4m-1.2 0v3.5m-1.2 0h2.4M389.2 536.3h2.4m-1.2 0v3.5m-1.2 0h2.4M392.7 536h2.4m-1.2 0v3.6m-1.2 0h2.4M396.2 535.8h2.4m-1.2 0v3.6m-1.2 0h2.4M399.7 535.6h2.4m-1.2 0v3.7m-1.2 0h2.4M403.2 535.3h2.4m-1.2 0v3.8m-1.2 0h2.4M406.7 535h2.4m-1.2 0v3.8m-1.2 0h2.4M410.2 534.7h2.4m-1.2 0v3.9m-1.2 0h2.4M413.7 534.3h2.4m-1.2 0v3.9m-1.2 0h2.4M417.2 533.9h2.4m-1.2 0v4m-1.2 0h2.4M420.7 533.4h2.4m-1.2 0v4.1m-1.2 0h2.4M424.2 532.9h2.4m-1.2 0v4.2m-1.2 0h2.4M427.7 532.3h2.4m-1.2 0v4.2m-1.2 0h2.4M431.2 531.7h2.4m-1.2 0v4.3m-1.2 0h2.4M434.7 531h2.4m-1.2 0v4.4m-1.2 0h2.4M438.2 530.4h2.4m-1.2 0v4.5m-1.2 0h2.4M441.7 529.7h2.4m-1.2 0v4.6m-1.2 0h2.4M445.2 528.9h2.4m-1.2 0v4.7m-1.2 0h2.4M448.8 528h2.4m-1.2 0v4.8m-1.2 0h2.4M452.3 527h2.4m-1.2 0v4.9m-1.2 0h2.4M455.8 526h2.4m-1.2 0v5m-1.2 0h2.4M459.3 525h2.4m-1.2 0v5.1m-1.2 0h2.4M462.8 524h2.4m-1.2 0v5.2m-1.2 0h2.4M466.3 523h2.4m-1.2 0v5.4m-1.2 0h2.4M469.8 522.1h2.4m-1.2 0v5.5m-1.2 0h2.4M473.3 521.4h2.4m-1.2 0v5.6m-1.2 0h2.4M476.8 520.6h2.4m-1.2 0v5.7m-1.2 0h2.4M480.3 519.8h2.4m-1.2 0v5.9m-1.2 0h2.4M483.8 519.1h2.4m-1.2 0v6m-1.2 0h2.4M487.3 518.4h2.4m-1.2 0v6.1m-1.2 0h2.4M490.8 517.7h2.4m-1.2 0v6.2m-1.2 0h2.4M494.3 517h2.4m-1.2 0v6.4m-1.2 0h2.4M497.8 516.4h2.4m-1.2 0v6.5m-1.2 0h2.4M501.3 515.8h2.4m-1.2 0v6.6m-1.2 0h2.4" stroke="#5a636b" stroke-width="0.6" fill="none"/>
<polyline points="295.8,546 297.5,545.8 299.2,545.7 301,545.6 302.7,545.4 304.4,545.3 306.1,545.2 307.9,545 309.6,544.9 311.3,544.7 313,544.6 314.8,544.4 316.5,544.3 318.2,544.2 319.9,544 321.6,543.9 323.4,543.7 325.1,543.6 326.8,543.4 328.5,543.3 330.3,543.1 332,542.9 333.7,542.8 335.4,542.6 337.1,542.4 338.9,542.3 340.6,542.1 342.3,541.9 344,541.8 345.8,541.6 347.5,541.4 349.2,541.2 350.9,541.1 352.6,540.9 354.4,540.7 356.1,540.6 357.8,540.4 359.5,540.2 361.3,540.1 363,539.9 364.7,539.8 366.4,539.6 368.1,539.5 369.9,539.3 371.6,539.2 373.3,539.1 375,539 376.8,538.8 378.5,538.7 380.2,538.6 381.9,538.5 383.6,538.4 385.4,538.3 387.1,538.2 388.8,538.1 390.5,538 392.3,537.9 394,537.8 395.7,537.7 397.4,537.6 399.2,537.5 400.9,537.4 402.6,537.3 404.3,537.2 406,537 407.8,536.9 409.5,536.8 411.2,536.6 412.9,536.5 414.7,536.3 416.4,536.1 418.1,535.9 419.8,535.7 421.5,535.5 423.3,535.3 425,535 426.7,534.8 428.4,534.5 430.2,534.2 431.9,533.9 433.6,533.7 435.3,533.4 437,533.1 438.8,532.7 440.5,532.4 442.2,532.1 443.9,531.8 445.7,531.4 447.4,531 449.1,530.6 450.8,530.2 452.5,529.7 454.3,529.2 456,528.8 457.7,528.3 459.4,527.8 461.2,527.3 462.9,526.9 464.6,526.4 466.3,526 468.1,525.5 469.8,525.1 471.5,524.8 473.2,524.4 474.9,524.1 476.7,523.7 478.4,523.4 480.1,523 481.8,522.7 483.6,522.3 485.3,522 487,521.7 488.7,521.4 490.4,521.1 492.2,520.8 493.9,520.5 495.6,520.2 497.3,519.9 499.1,519.6 500.8,519.4 502.5,519.1" stroke="#444c54" stroke-width="0.9" fill="none"/>
<circle cx="295.8" cy="546" r="0.9" fill="#30383f"/>
<circle cx="299.3" cy="545.7" r="0.9" fill="#30383f"/>
<circle cx="302.8" cy="545.4" r="0.9" fill="#30383f"/>
<circle cx="306.3" cy="545.1" r="0.9" fill="#30383f"/>
<circle cx="309.8" cy="544.9" r="0.9" fill="#30383f"/>
<circle cx="313.3" cy="544.6" r="0.9" fill="#30383f"/>
<circle cx="316.8" cy="544.3" r="0.9" fill="#30383f"/>
<circle cx="320.3" cy="544" r="0.9" fill="#30383f"/>
<circle cx="323.8" cy="543.7" r="0.9" fill="#30383f"/>
<circle cx="327.3" cy="543.4" r="0.9" fill="#30383f"/>
<circle cx="330.8" cy="543.1" r="0.9" fill="#30383f"/>
<circle cx="334.3" cy="542.7" r="0.9" fill="#30383f"/>
<circle cx="337.8" cy="542.4" r="0.9" fill="#30383f"/>
<circle cx="341.3" cy="542" r="0.9" fill="#30383f"/>
<circle cx="344.9" cy="541.7" r="0.9" fill="#30383f"/>
<circle cx="348.4" cy="541.3" r="0.9" fill="#30383f"/>
<circle cx="351.9" cy="541" r="0.9" fill="#30383f"/>
<circle cx="355.4" cy="540.6" r="0.9" fill="#30383f"/>
<circle cx="358.9" cy="540.3" r="0.9" fill="#30383f"/>
<circle cx="362.4" cy="540" r="0.9" fill="#30383f"/>
<circle cx="365.9" cy="539.7" r="0.9" fill="#30383f"/>
<circle cx="369.4" cy="539.4" r="0.9" fill="#30383f"/>
<circle cx="372.9" cy="539.1" r="0.9" fill="#30383f"/>
<circle cx="376.4" cy="538.9" r="0.9" fill="#30383f"/>
<circle cx="379.9" cy="538.6" r="0.9" fill="#30383f"/>
<circle cx="383.4" cy="538.4" r="0.9" fill="#30383f"/>
<circle cx="386.9" cy="538.2" r="0.9" fill="#30383f"/>
<circle cx="390.4" cy="538" r="0.9" fill="#30383f"/>
<circle cx="393.9" cy="537.8" r="0.9" fill="#30383f"/>
<circle cx="397.4" cy="537.6" r="0.9" fill="#30383f"/>
<circle cx="400.9" cy="537.4" r="0.9" fill="#30383f"/>
<circle cx="404.4" cy="537.2" r="0.9" fill="#30383f"/>
<circle cx="407.9" cy="536.9" r="0.9" fill="#30383f"/>
<circle cx="411.4" cy="536.6" r="0.9" fill="#30383f"/>
<circle cx="414.9" cy="536.3" r="0.9" fill="#30383f"/>
<circle cx="418.4" cy="535.9" r="0.9" fill="#30383f"/>
<circle cx="421.9" cy="535.4" r="0.9" fill="#30383f"/>
<circle cx="425.4" cy="534.9" r="0.9" fill="#30383f"/>
<circle cx="428.9" cy="534.4" r="0.9" fill="#30383f"/>
<circle cx="432.4" cy="533.9" r="0.9" fill="#30383f"/>
<circle cx="435.9" cy="533.3" r="0.9" fill="#30383f"/>
<circle cx="439.4" cy="532.6" r="0.9" fill="#30383f"/>
<circle cx="442.9" cy="532" r="0.9" fill="#30383f"/>
<circle cx="446.4" cy="531.2" r="0.9" fill="#30383f"/>
<circle cx="450" cy="530.4" r="0.9" fill="#30383f"/>
<circle cx="453.5" cy="529.5" r="0.9" fill="#30383f"/>
<circle cx="457" cy="528.5" r="0.9" fill="#30383f"/>
<circle cx="460.5" cy="527.5" r="0.9" fill="#30383f"/>
<circle cx="464" cy="526.6" r="0.9" fill="#30383f"/>
<circle cx="467.5" cy="525.7" r="0.9" fill="#30383f"/>
<circle cx="471" cy="524.9" r="0.9" fill="#30383f"/>
<circle cx="474.5" cy="524.2" r="0.9" fill="#30383f"/>
<circle cx="478" cy="523.4" r="0.9" fill="#30383f"/>
<circle cx="481.5" cy="522.7" r="0.9" fill="#30383f"/>
<circle cx="485" cy="522.1" r="0.9" fill="#30383f"/>
<circle cx="488.5" cy="521.4" r="0.9" fill="#30383f"/>
<circle cx="492" cy="520.8" r="0.9" fill="#30383f"/>
<circle cx="495.5" cy="520.2" r="0.9" fill="#30383f"/>
<circle cx="499" cy="519.6" r="0.9" fill="#30383f"/>
<circle cx="502.5" cy="519.1" r="0.9" fill="#30383f"/>
<path d="" stroke="#d8506c" stroke-width="0.6" fill="none"/>
<polyline points="295.8,547 297.5,547 299.2,547 301,547 302.7,547 304.4,547 306.1,547 307.9,547 309.6,547 311.3,547 313,547 314.8,547 316.5,547 318.2,547 319.9,547 321.6,547 323.4,547 325.1,547 326.8,547 328.5,547 330.3,547 332,547 333.7,547 335.4,547 337.1,547 338.9,547 340.6,547 342.3,547 344,547 345.8,547 347.5,547 349.2,547 350.9,547 352.6,547 354.4,547 356.1,547 357.8,547 359.5,547 361.3,547 363,547 364.7,547 366.4,547 368.1,547 369.9,547 371.6,547 373.3,547 375,547 376.8,547 378.5,547 380.2,547 381.9,547 383.6,547 385.4,547 387.1,547 388.8,547 390.5,547 392.3,547 394,547 395.7,547 397.4,547 399.2,547 400.9,547 402.6,547 404.3,547 406,547 407.8,547 409.5,547 411.2,547 412.9,547 414.7,547 416.4,547 418.1,547 419.8,547 421.5,547 423.3,547 425,547 426.7,547 428.4,547 430.2,547 431.9,547 433.6,547 435.3,547 437,547 438.8,547 440.5,547 442.2,547 443.9,547 445.7,547 447.4,547 449.1,547 450.8,547 452.5,547 454.3,547 456,547 457.7,547 459.4,547 461.2,547 462.9,547 464.6,547 466.3,547 468.1,547 469.8,547 471.5,547 473.2,547 474.9,547 476.7,547 478.4,547 480.1,547 481.8,547 483.6,547 485.3,547 487,547 488.7,547 490.4,547 492.2,547 493.9,547 495.6,547 497.3,547 499.1,547 500.8,547 502.5,547" stroke="#d0234a" stroke-width="0.9" fill="none"/>
<circle cx="295.8" cy="547" r="0.9" fill="#c0163f"/>
<circle cx="299.3" cy="547" r="0.9" fill="#c0163f"/>
<circle cx="302.8" cy="547" r="0.9" fill="#c0163f"/>
<circle cx="306.3" cy="547" r="0.9" fill="#c0163f"/>
<circle cx="309.8" cy="547" r="0.9" fill="#c0163f"/>
<circle cx="313.3" cy="547" r="0.9" fill="#c0163f"/>
<circle cx="316.8" cy="547" r="0.9" fill="#c0163f"/>
<circle cx="320.3" cy="547" r="0.9" fill="#c0163f"/>
<circle cx="323.8" cy="547" r="0.9" fill="#c0163f"/>
<circle cx="327.3" cy="547" r="0.9" fill="#c0163f"/>
<circle cx="330.8" cy="547" r="0.9" fill="#c0163f"/>
<circle cx="334.3" cy="547" r="0.9" fill="#c0163f"/>
<circle cx="337.8" cy="547" r="0.9" fill="#c0163f"/>
<circle cx="341.3" cy="547" r="0.9" fill="#c0163f"/>
<circle cx="344.9" cy="547" r="0.9" fill="#c0163f"/>
<circle cx="348.4" cy="547" r="0.9" fill="#c0163f"/>
<circle cx="351.9" cy="547" r="0.9" fill="#c0163f"/>
<circle cx="355.4" cy="547" r="0.9" fill="#c0163f"/>
<circle cx="358.9" cy="547" r="0.9" fill="#c0163f"/>
<circle cx="362.4" cy="547" r="0.9" fill="#c0163f"/>
<circle cx="365.9" cy="547" r="0.9" fill="#c0163f"/>
<circle cx="369.4" cy="547" r="0.9" fill="#c0163f"/>
<circle cx="372.9" cy="547" r="0.9" fill="#c0163f"/>
<circle cx="376.4" cy="547" r="0.9" fill="#c0163f"/>
<circle cx="379.9" cy="547" r="0.9" fill="#c0163f"/>
<circle cx="383.4" cy="547" r="0.9" fill="#c0163f"/>
<circle cx="386.9" cy="547" r="0.9" fill="#c0163f"/>
<circle cx="390.4" cy="547" r="0.9" fill="#c0163f"/>
<circle cx="393.9" cy="547" r="0.9" fill="#c0163f"/>
<circle cx="397.4" cy="547" r="0.9" fill="#c0163f"/>
<circle cx="400.9" cy="547" r="0.9" fill="#c0163f"/>
<circle cx="404.4" cy="547" r="0.9" fill="#c0163f"/>
<circle cx="407.9" cy="547" r="0.9" fill="#c0163f"/>
<circle cx="411.4" cy="547" r="0.9" fill="#c0163f"/>
<circle cx="414.9" cy="547" r="0.9" fill="#c0163f"/>
<circle cx="418.4" cy="547" r="0.9" fill="#c0163f"/>
<circle cx="421.9" cy="547" r="0.9" fill="#c0163f"/>
<circle cx="425.4" cy="547" r="0.9" fill="#c0163f"/>
<circle cx="428.9" cy="547" r="0.9" fill="#c0163f"/>
<circle cx="432.4" cy="547" r="0.9" fill="#c0163f"/>
<circle cx="435.9" cy="547" r="0.9" fill="#c0163f"/>
<circle cx="439.4" cy="547" r="0.9" fill="#c0163f"/>
<circle cx="442.9" cy="547" r="0.9" fill="#c0163f"/>
<circle cx="446.4" cy="547" r="0.9" fill="#c0163f"/>
<circle cx="450" cy="547" r="0.9" fill="#c0163f"/>
<circle cx="453.5" cy="547" r="0.9" fill="#c0163f"/>
<circle cx="457" cy="547" r="0.9" fill="#c0163f"/>
<circle cx="460.5" cy="547" r="0.9" fill="#c0163f"/>
<circle cx="464" cy="547" r="0.9" fill="#c0163f"/>
<circle cx="467.5" cy="547" r="0.9" fill="#c0163f"/>
<circle cx="471" cy="547" r="0.9" fill="#c0163f"/>
<circle cx="474.5" cy="547" r="0.9" fill="#c0163f"/>
<circle cx="478" cy="547" r="0.9" fill="#c0163f"/>
<circle cx="481.5" cy="547" r="0.9" fill="#c0163f"/>
<circle cx="485" cy="547" r="0.9" fill="#c0163f"/>
<circle cx="488.5" cy="547" r="0.9" fill="#c0163f"/>
<circle cx="492" cy="547" r="0.9" fill="#c0163f"/>
<circle cx="495.5" cy="547" r="0.9" fill="#c0163f"/>
<circle cx="499" cy="547" r="0.9" fill="#c0163f"/>
<circle cx="502.5" cy="547" r="0.9" fill="#c0163f"/>
<text x="501.5" y="414.7" font-size="6.6" fill="#2e2e2e" stroke="#2e2e2e" stroke-width="0.18" text-anchor="end" textLength="39.02" lengthAdjust="spacingAndGlyphs">Control (PRP)</text>
<text x="501.5" y="483.5" font-size="6.6" fill="#2e2e2e" stroke="#2e2e2e" stroke-width="0.18" text-anchor="end" textLength="41.47" lengthAdjust="spacingAndGlyphs">Control (blood)</text>
<text x="501.5" y="513.4" font-size="6.6" fill="#2e2e2e" stroke="#2e2e2e" stroke-width="0.18" text-anchor="end" textLength="45.42" lengthAdjust="spacingAndGlyphs">Tirofiban (blood)</text>
<text x="501.5" y="544" font-size="6.6" fill="#2e2e2e" stroke="#2e2e2e" stroke-width="0.18" text-anchor="end" textLength="42.97" lengthAdjust="spacingAndGlyphs">Tirofiban (PRP)</text>
<path d="M505 486.5H509V522.9H505" stroke="#333" stroke-width="1" fill="none"/>
<path d="M508 417.6H513.5V547.4H508" stroke="#c8284e" stroke-width="1" fill="none"/>
</g>
<rect x="0" y="0" width="520" height="1" fill="#4d4d4d"/>
<rect x="0" y="0" width="1" height="588" fill="#4d4d4d"/>
<rect x="519" y="0" width="1" height="588" fill="#4d4d4d"/>
<rect x="0" y="586.5" width="520" height="1.5" fill="#454545"/>
</svg>
</body></html>
